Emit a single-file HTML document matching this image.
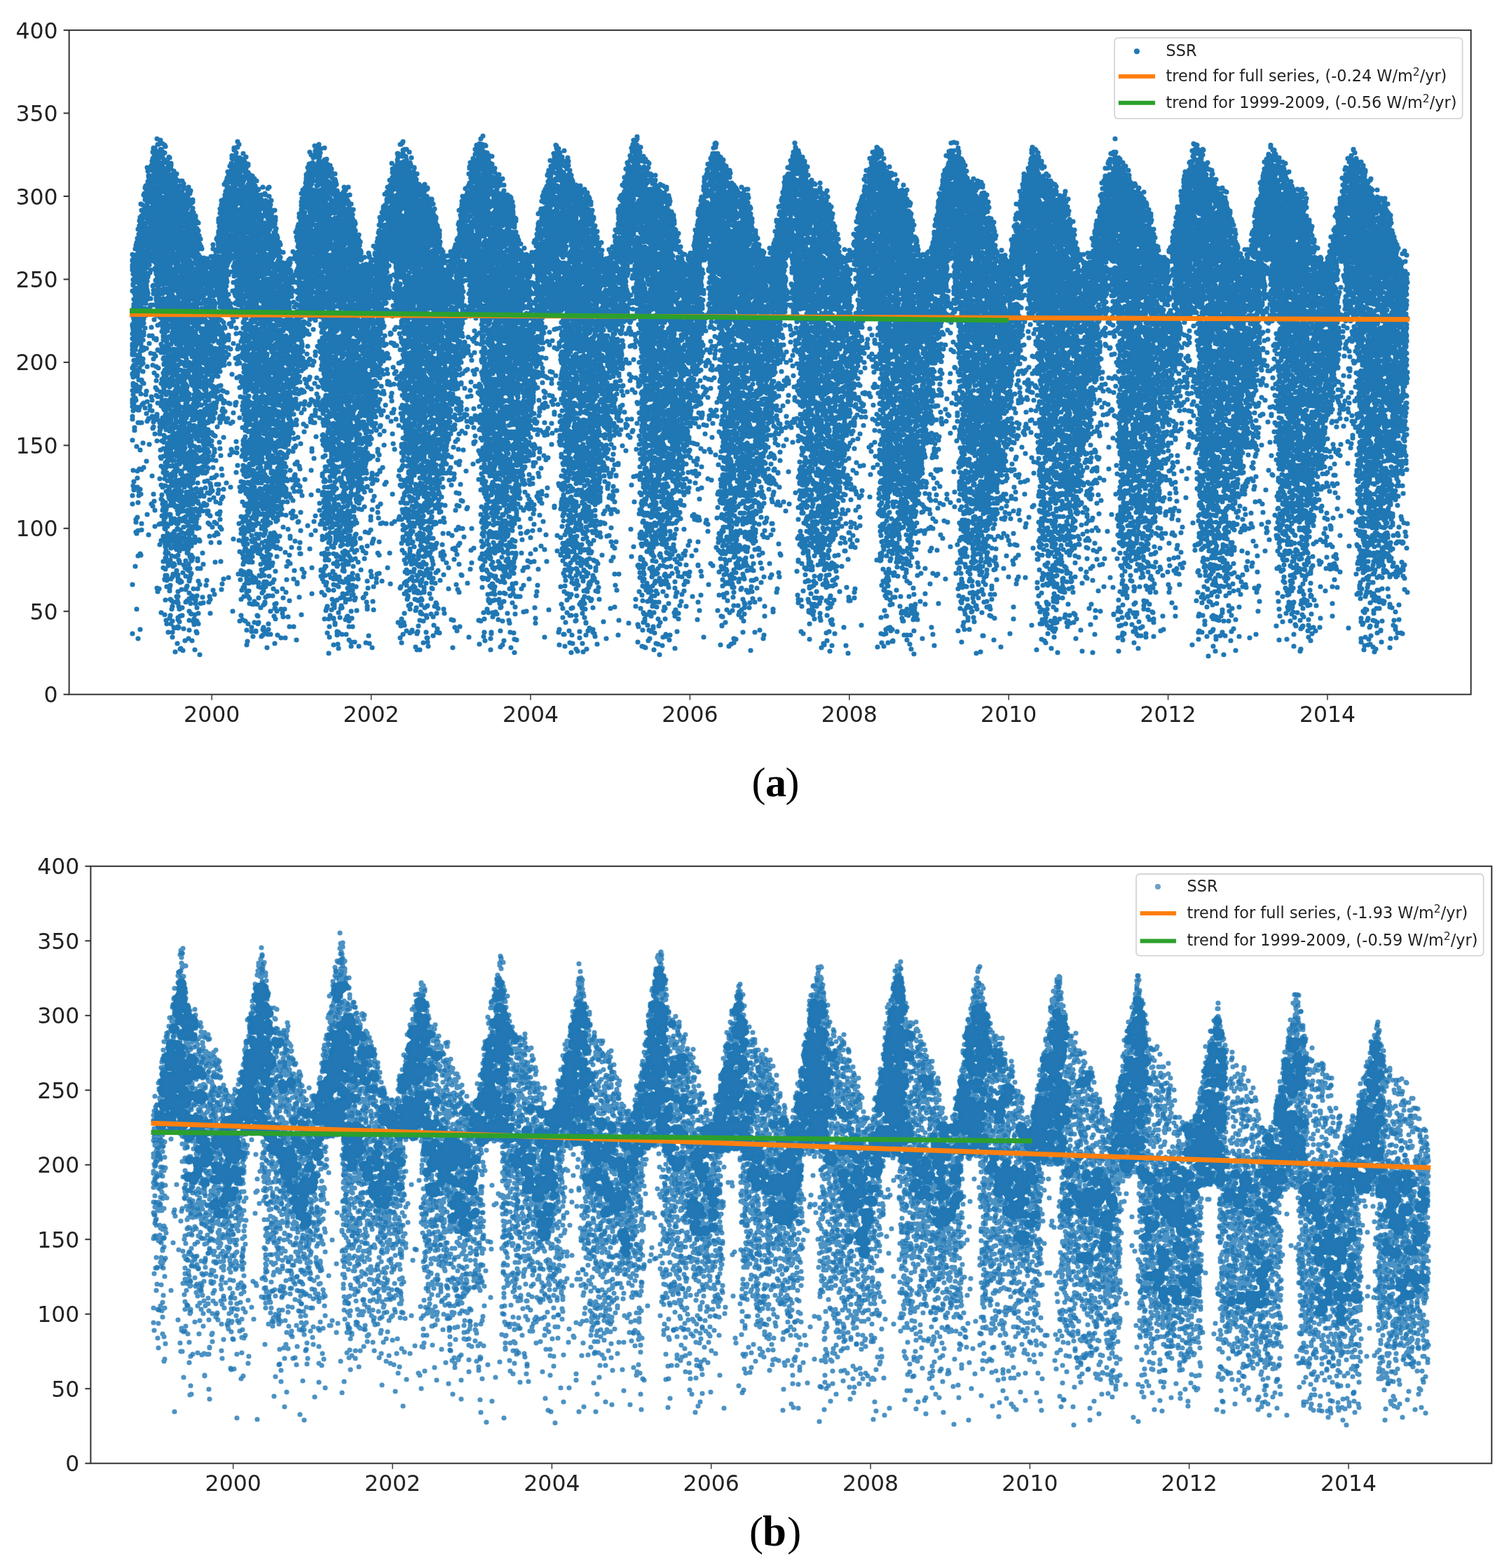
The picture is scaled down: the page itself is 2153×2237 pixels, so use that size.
<!DOCTYPE html><html><head><meta charset="utf-8"><title>SSR</title><style>html,body{margin:0;padding:0;background:#fff;width:2153px;height:2237px;overflow:hidden}svg{display:block}</style></head><body><svg width="2153" height="2237" viewBox="0 0 2153 2237">
<style>.tk{font-family:"DejaVu Sans",sans-serif;font-size:31.5px;fill:#222}.lg{font-family:"DejaVu Sans",sans-serif;font-size:22.4px;fill:#222}.sp{font-size:15.5px}.cap{font-family:"Liberation Serif",serif;font-size:60px;fill:#000}</style>
<rect width="2153" height="2237" fill="#fff"/>
<path transform="scale(0.5)" d="M3899 1566l-16 2-9 20 0 15 5 7 7 2-4 6 0 6 5 7 7 2 7-2 5-7-2-10-10-5 4-6 1-10 8-4 5-7-2-10zm-1518-38l-10-5-7 2-5 7-12-5-8 2-11 20 0 5-7 9 3 12 10 5 12-2 7-11-1-7 5-4 5-12 9 4 10-5 2-4zm-1897-8l-6 8 0 7 3 8 11 6-2 4 2 12 8 8 7 2 18-4 5-7 0-6-5-7-6-2 3-8-2-11-5-5-11-1-6-5zm3494-57l-17-11-20-4-31 7-5 7 1 20-4 6 2 15 11 8 15-1 7-11-3-12 1-15 4 1 2 7 5 4 10 0 5-4 12 1 7-8zm-1366-15l-11-6-6 1-8-3-7 2-5 10-9 2-6 8 4 19 14 6 7-2 5-7 2-12 8 9 12-1 6-9 0-6zm1062-9l-2 10 7 8 12-1 6-10 7 5 8 0-4 8 2 16 5 7 10 1 6 13 9 2 10-5 4-7-2-17-10-8-9-2-6-7-11-2 5-7 0-7-6-8-7-2-7 2-7 11-10-5zm-1770-18l-12 18 2 10 17 10 8 11 7 2 7-2 5-7 0-6-6-13-1-11-15-13zm1323-7l-3 9 1 11 12 11 9 20 12 1 12-12 3 8 7 5 10 1 10-5 2-11-9-11-7-2-13 6-4-14 2-10-5-7-20-9-10 2zm-432-11l-10 5-2 10 3 5-9 5-2 10 11 12 17 8 7-2 5-7-1-7 11-6 3-17-5-9-7-5zm-1587-22l-10 5-3 16 18 24-9 14 0 9 5 7 7 2 7-2 10-9 4-7 0-10-5-7-5-2 3-11-5-7-6-3-1-14zm1135-6l-12 2-5 4-4 18 13 15 12 2-5 7 2 15-10 2-5 7 3 17 7 5 8 1 10-5 2-14 9 4 17-3 5-4 2-10-6-8-2-12-5-7-8-2-10 2-5 4-7-1 7-9-2-9 3-11-6-8zm-898 1l-13 1-5 6-6 1-6 8-3 9 1 26 7 8 15 0 7-8-1-9 8-9 4-23zm426-13l-8 1-5 4-2 10 3 10-6 5-6 14 2 10 10 10 7 2 7-2 5-7-4-25 11-11-4-16zm-171 0l-10 5-2 4 2 11-7 2-15 14-10 1-6 8 0 6 16 16 14 0 6-5 3 11 12 5 9-3 6-8-3-18-9-5 10-6 2-10-4-7 2-6-2-10-5-4zm1353-17l-7 2-4 5-8-2-7 2-7 10 2 23 5 4 13 0 1 16 10 5 10-5 2-13 8-4 11 1 9-9-2-10-11-12-10-1-8-10zm-762-11l-10 5-7 24 4 6 1 13 10 7 7 1 7-2 10-10 2-10-5-7-6-2 4-8-2-11-5-4zm1664-3l-12 1-7 8-2 9-9 9 2 12 6 5 12 0 4 9-15 2-7 8 2 10 8 9-6 2-7 11-14 1 5-13 0-7-5-7-13-1-8 9 0 8 6 10 15 1-5 7 0 6 7 8 11 0 6-6 9 3 7-2 7-9-4-18 4-1 3 11 10 5 9-4 8 0 7-8-2-10-7-6-6-1-16 5 1-9-6-8 16-1 5-7-4-19-10-6 5-7 0-7zm-500-24l-8 11 0 7 6 8 5 2-11 6-6 12 2 10 5 4 6 0 6 9 7 2 7-2 12-15 3 5-6 8 0 6 8 16 10 5 8-2 5-7 0-6-7-8-2-7 6-9-2-10-10-5-9 4-5-13-10-5 7-8 0-7-6-9-14-4zm-1515 10l-5-7-6-1-7-7-15 0-7 8-9 3-6 11-8-2-15 4-8 11-13 1-5 7 0 6 7 9 7 2 10-5 3-9 11-1 9 4 7-2 6-10 10 4 11-6 15 0 7-8zm137-17l-11 5-2 10 7 8-1 14 8 9-15 4-9 15 3 17 10 5 17-6 5-10 6-2 5-7 0-11-5-7 4-7 0-8-11-11-1-13zm-1276 1l-10 0-7 8 0 8 7 8 0 6-5 8-8 5-2 13-8 4-9-9-9 0-7-7-14-2-9 2-5 7 3 14 7 8 10 0 6-5 7 7 8 1 9-4 6 7-13 3-5 7 3 13-15 0-8 10-1-17-6-8-7-2-17 4-7 8 3 13 12 15 12 1 11-10 7 12-4 6 0 7 10 10 10 0 7-8 7 8 13-1 5-7-1-8 11-6 4-13 7-2 5-7-2-10-14-13-15-3 10-6 3-11 11 1 9-11 0-9-6-9 6-5 2-10zm-23 108l-5 4-3-1zm1365-103l-9-1-6-8-7-2-16 8-6 14 0 8 7 14 5 4-6 8 2 10-6 8 5 16-23 3-6 6-8-1-13 5-5 7 0 6 7 10 13 1 10-10 9 0 10 5 22-1 5-7 0-6-5-7-9-3 9-1 5-4 1-16 8-7 2-11 4-1 7 7 7 2 8-2 7-9-2-10-10-5-6-8-9-3 4-6 0-6zm-20 36l3-3 3 2-1 2zm182-106l-8 10-2 10 6 8 13 2-7 10 0 6 7 15 10 5 10-4-4 10 2 10 9 8 15-1 3 8-10 6-11-2-7 2-6 8 2 10 5 4 11-1 8 3 18-6 2 2-2 11 8 10 9 3 9-3 6-8 0-6 9-6 2-10-7-8-27-5 3-13-8-11 14 4 18-8 9-12-2-12 7-8-2-10-12-9-10-2-6 2-5-7-15-3-14 5-6 11-6-7-7-2-8 2-5 7-6 0 7-13 0-8-7-8zm61 62l1 6-3-2zm-30-2l2-4-2-11 9-2 6-11 12 11 18 4-9 4-5 7-6-10-12-1-5 4-2 7zm-1056-65l-7-5-12 0-7 8 3 12-11 2-8-3-8 3-5-7-7-2-8 2-4 5-6-8-9-1-5-7-7-2-17 1-5 4-6 11 0 6 5 7 7 3 2 8-15 3-5 7 0 10 7 8 19-1 3 2-3 20 9 9-6 8 1 9 5 7 7 2 12-2 10 4 9-4 19 0 5-4 5-8 0-13-8-11 15-3 6-8-2-20-9-9 12-6 5-6 12 0 5-4 3-19zm-56 65l0 5 7 12-11 2-8 12-9-4-8 3-5-2 9-10 9 0 5-4 5-15zm-21-30l-7 6-4 0 3-5zm1997-53l-6 5-8 17 2 13-3 5 5 25 12 6-9 9 4 19 7 8 10 0 9-6 8 11 21 0 8-9-1-9 7-8 0-8-7-8-11 0-5 4-5 13-3-9-11-6 2-5 22-1 5-7 0-6-10-12-7-2-10 5-14 2 12-19 0-6-10-20zm-680-21l-6 5-3 12 6 8 10 2-1 13 5 7-14 3-5 7 0 6 5 7 12 3-9 5-2 10-12 7-4 10 3 15 5 4 9 1 1 11-8 6-3 14 14 13-7 2-5 7 0 6 5 7-4 6 0 6 8 15 5 4 12-1 9-10 9 11 10 0 5-4 2-13-6-8-7-2-10 5-5-7-13-3 4-6 0-6-5-7 3-2 9 12 15 0 8 10 19 1 1 3-7 6-3 9 0 7 4 8 6 5 21 2 5-4 2-7 9-5 3-18-6-8-6-3-15 0 6-8 18-1 14-19-1-13-7-8 6-5 2-13 8-9-3-22-8-9-14 0 4-6 0-6-6-8 2-10-5-7-10-2-20 10-8 13 0 13-10-5-8 2-11 11-3 12-3-5 2-10-5-7 9-7 8 2 12-2 7-8 0-7-8-10-13-3 12-5 2-11 3-2 1 8 5 7 10 3 10-2 5-7-1-10 3-11-8-11-20-4-15 2-9 10-8 0-4 3-7-9zm44 149l3-5 3 0 10 10 15 2-5 7-11-5-6 2zm-16-27l14-2 10-14 8 9 6 1 16-4 4 10-2 2-4-5-7-2-12 7-9-4-7 2-6 9zm69-40l-4 8-3-6zm627-101l-5 7 0 7 5 7 7 2 2 9-16-1-8 6-2 12 3 16 10 5 10-2 24-15 7 11 7 2 7-2 7-10 0-7-9-10 14-16-2-10-12-7-16 8-11-2-3-6-7-5zm-959 9l0 9 5 7 9 3-1 7 6 9 8 2 10-5 5 7 2 10 8 7 12-1 10 3 11-6 2-4-2-10-7-9-14-2 0-12-5-7-12-5-7 2-4 5-10 1 5-10-2-10-10-5-8 1zm124-36l-8 1-5 4-2 12-6 10 3 18 12 6 19-5 8-13 0-9-9-9-2-10zm-776-3l-10 5-2 10-9 10 1 10-5 4-2 8-8 7-2 10 3 5-2 12 7 8-2 10 10 17-5 7 0 6 11 19 7 2 15-2-1 20-3 0-9-11-13 0-7 8-2 13 21 21 12 0 6-4 5 3-14 8-3 16 12 15 9 2 14-8 2-13 23 0 7-8 0-6-6-8-13-2 1-8 11 4 11-6 6-10 0-6-5-7-6-3 11-1 7-8 0-8-5-7 6-8 0-6-8-11 7-11 0-6-6-8-11-1-1-5 12-2 7-5 8 11 12 1 12-17 0-8-13-20-7-2-12 5-12-5-2-3 7-5 2-11-7-8-12 0-8 9 0 6 5 7-10 5-2 14-21 0-9 11-9 1-6 9 1 9-3 3-8-5 12-23 0-6-5-7 10-5 1-15 5-7-2-10zm40 169l2 1-1 8-3-6zm9-33l4 1 2 13-3 2zm-6-7l-4 1-11-6-7 2-7-5 25-13 0 14zm-2-51l6 6 8 3-2 11-10 5 1-14-5-7zm2039-117l-7 2-5 7 0 7 6 9-15 0-12 10-6-13-12-1-7 8-8 2-6 8 2 10-3 12 3 6 8 6 13 0 15 27-12 2-6 10-8 0-6 5-2 11 7 8-12 6-2 12 5 7 8 4-3 13 4 6-6 8-1 11 2 9-2 11 3 6 5 4 10 0 5-4 4-10 0 12 11 17 11 6 1 12 5 4 18 1 13 10-6 5-10-5-7 2-6 8 0 6 11 14 9 1 5 6 7 2 7-2 5-7-1-10 4-6 0-6-7-8 10-10-3-11 4-6 0-6-8-14-9-6 9-3 9 3 7 8 12-1 5-7 3-29-6-8-14-4-10 2-7 10-8-11-7-2-6 2-8-4 15-1 23-18 1 10 5 7 7 2 7-2 9-19 1-13-3-9 5-9 0-6-5-7-15-3 0-9-5-7-7-2-8 2-7 14-11 6-1 16-5 7 0 5-16-1-8 10 1 19 6 8-6 5-3 12 5 7 13 5-4 4-13 1-6-6-13 0 0-8 9-11-3-12 6-2 6-10-3-13 15-17-2-10-7-6-8-1 1-7-10-13 12-2 9-13 2-8 10-5 2-11-3-5 5-7 4 3 12-1 5 4 17 2 7-2 9-13 0-6-8-9-5-11-9-2-9 4-5-6-9-1-7-11zm-42 132l-6 8-6-3zm3-81l2 3-7 3-1-2zm33-26l6 0-2 3zm-1059-29l-15 7-20 2-6 11-10 0-5 4-3 12-8-6-7-1-7 2-5 7 0 6 5 7-3 11 6 8 2 10 10 5 15-1 9 9 13 0 7 20 10 5 7-2 5-7 6 2 9-2 6-9 0-7-6-12-8-8-16 0-9 12-4-1 6-17 13 2 8-9-2-10-11-6 8-6 4-7 12-2 5-7-2-10-12-10zm-38 50l9-3 4-5 12 3-5 4-3 11-5-4-10 0zm-408-52l-7-2-9 3-9 17-5-7-7-2-7 2-6 8 0 6 7 8 12-1 7-13 7 9 7 2 4 10-10 2-6 9 0 8 7 8-12 8-3-6-7-5 2-4-2-11-9-8-9-2-7 2-4 5-8-3-6 2-6-7 5-7 0-6-7-8-12 1-5 7 1 8-11 2-5 4-7 14 0 6 5 7 7 2 8-2 2 4-13 2-13 24-9 2-5 7 2 11 13 8-10 5-2 4 2 11 10 5 10-5 2-11-5-7-7-2 23-4 5-7-2-9 2-3 8 1 7 9-7 11 0 7 5 7-1 8 7 8 10 0 12-6 1-16 5-7 0-7-5-10 2-3 15 3-3 17 7 8-11 1-7 8 0 6 6 8-3 15-18-7-18 2-8 10-10-7-10 0-12 16 0 7 5 7 23 3 12-2 11-11 6 6 7 2 7-2 10-15 15 5 10-2 7-8-2-12 7-8 0-6-6-8 9-7 2-10-5-7-6-2 1-8-4-6 13 1 10-5 2-16-5-7-8-4 6-2 6-8 0-9-3-5 11-2 5-7-3-12-8-6 0-10zm-28 87l5 10-6-2zm-36-16l11 3 1 5-7-2zm-408-73l-5 4-2 10 9 9-10 5-3 15 7 8 28 3 5-4 2-10-4-8-12-8 6-6 2-10-7-8zm793-31l-7 2-6 9 5 20 5 7-8 5-2 11 5 7 6 1 10 10-1 7-10 2-5 7 2 10 10 5 10-5 3-9 10 0 5-4 2-10-11-11 3-5 10-5 2-10-8-9-17 1 5-7-1-10-6-14zm11 38l-2 4-2-2zm-87-137l-10 0-7 6-9 1-12 17 2 11 13 7-6 9-10 1-5 7 0 6 7 14 6 5 8 2 9-3 7-12 11-1 9-10-4-13-12-7 1-2 12 1 7-8-2-10-8-7 0-6zm-1988-544l-9 4-9 0-5 4-1 11-7 15 1 9-7 11 2 10 9 7-11 6-6 22-8 9 0 7 4 7-6 8 0 6 5 14 7 7 12 4-2 3-10-4-7 2-10 14 2 10-2 9 6 8 6 1 1 3-15 1-8 11 1 15 12 6-7 2-9 14 0 6-6 12 1 14 5 8-10 7-5 14 2 10-3 5 0 16 7 19-3 12 5 7 8 2 7 9-13 0-7 8 0 7 5 11-3 6 2 10-4 6 0 14 8 11-9 9 0 7 4 6-6 9 0 15 3 8 5 4-7 10 0 6 5 17 10 5 13-4 8-13-3-17-11-6 18-24 0-22-9-11 5-7-2-13 7-3 13-17-5-42 3-5-1-9 3-12-5-7-7-2 11-15 2-10 7 1 5 7-5 7 0 7 7 16-4 10 3 13 10 5 6-2 12 2 10-3 2 2-9 5-5 7 2 10 6 5-4 5-12 1-2-2 3-12-10-11-10 0-7 8 2 11 8 7-4 24 5 7-4 19 5 7 11 7-1 15 3 15 5 7 12 1 9-12 3 3-6 17 0 8 7 10 5 1 12 12-13 1-4 3-3-9-10-5-13 4-7 11 0 7 5 7 15 2-12 14 0 15 6 8-5 8 0 7 4 6-5 2-6 9-1 18 8 9 26-1 6-8 1-14-5-7 13-2 9-17-4-18-9-5 10-5 3-9 17 1 8-7 10 12-2 9-7 0-5 4-1 15-13 2-6 9 0 6 6 8 7 2 10-3 2 20 15 15-6 9 0 7-5 5-1-13-11-21-7-2-10 5-9-3-7 2-5 10-10 6-4 15-23 24 0 6 7 11 7 2 13-4 1 7-16 1-20 21 3 13 7 5 8 1 20-9 5-5 3-15 13-2 2 2-3 7 3 12-7 8 2 9-5 7-11 0-7 6-4 7 1 9-13 22 2 21 6 8 11 4 5-1 7-8 7 6 1 12 5 4 11 0 4 13 15 11-18 4-7 5-3 6-24 7-5 7 2 10 5 4 10 2-10 5-10 0-7 8 2 14 5 7 14 5 9-1 12 9-11 2-5 7 2 12 11 5 12-6 2-4-2-10 12-2 15-19 0-7-6-8-8-2-10 5-6-3-1-9-7-8 5-4 7 2 16-2 9-6 5-7 0-13-4-7 13 0 9-11-2-10-13-7 2-4 6-1 7-9-2-10-10-5-8 3-3-11-5-4-15 2 1-18 3-3 12-1 5-7-2-15-6-11 10-2 9 13 12 1 6 5 10 0 5-4 6-11 0-8-13-13 3-12-6-10 3-5 13 4 11-6 5-9-1-7 4-6 0-10-7-8-10 0-15 7-12 17-12-1-7-8-12-5-13-1-10 5-3 9-14-6 7-8 0-10-7-8 5-14 1 13 9 9 17 1 7-8 7 12 7 2 7-2 17-17-2-11-15-11 3-3 16 5 5-1 8-10 0-6-7-11-16-1-1-4 8-14 11 6 11-6 8 3 6-1 12-10 2-8 6-3 5-7 3-24-3-5 1-8-6-11-5-4-10 0-8 9-16-19 15-3 5-7 1-10 12 0 7-8 0-13-12-17 4-6 0-8-5-7-7-2 2-5-3-11 1-20-7-9-7-2 9-4 5 1 5 27 13 18 12 1 13-8 1-20-11-16 2-10-5-7 0-21 4-6 0-11-3-5 7-8 0-7-6-10 10-20 7-7 4 3-6 5-4 10 2 11-2 10 7 14 10 2-6 3-5 7 4 19-6 5-2 10 3 9 8 7-4 6 2 10 5 4 18 0 2 3-7 3-5 7 4 16 11 6 10-4 10 4 10-5 6 12 12 1 4 11 11 6-9 3-6 8-5-7-6-1-5-6-11-2-6-8-15-1-9 12 0 7 5 7 14 4-18 1-8 14 0 6 5 7 18 1-3 5-13 1-5 7 2 10 12 6-8 6-2 10 7 9 9 3-2 6-7 2-6 8 0 11 4 6-11 11 1 21 13 17 7 2 9-3 5 6 7 2 10-5 3-14 3 9 5 4 9 0 5 9-16 0-14 9-2 12 7 8-7 8-8 4-3 8-7-8 9-13 0-6-11-13-7-2-7 2-7 11-1 16 3 7 7 5-5 7 0 17 6 8 7 2 7-2 9-9 3-11 18 6-6 9-9 0-7 6-3 14-5 7-1 19-6 7-11 1-6 8 2 12-3 11 4 10 10 5 10-3 0 10 9 17 20 1 10-5 1-19 7-6 3-12 21 1 17-9 10 3 8-1 7-6 6-15 0-13 5-8-2-10 2-15-7-8-10 0-12 5-11 13 1 8-3 8-3-13-10-5-7 2-6 8-6 0-5 4-1 15-5 1-6-5 0-8 8-6 3-12 9 3 12-6 11 3 7-2 5-7 0-6-6-9 11 1 10-5 7 2 8-2 5-7-1-8 6-9 6-2 5-7-4-17-13-8-2-11-5-7-16-1-9 11-9-3 11-11 0-6-4-6 5-4 3-10 7 1-3 8 2 10 10 5 15-3 18-17 1-15-9-13-7-2-10 5-6-12-12-1-4-7 6-2 16 9 11-5 5 4 10 0 9 4 10-5 5-8 0-6-5-7-7-3-2-8-7-5 6-9-2-10-15-8-13 1-2-2 6-2 7-8 9 0 6-5 6-10-1-9 4-6 0-6-4-6-1-13-7-4-6-8-8-2-9 3-9-6 4-6-3-20 1-15-3-6 8-8 5-13 0-7-9-14 9-5 2-11-6-9-7-2-6 2-1-2 10-5 2-10-8-9 1-8-7-8-8 0-13-6-8 2-5 7-5-3 7-11 7 0 5-4 4-9-3-17 4-6 0-6-7-10-4-16-10-5-10 5-2-2 3-11 9-3 6-9 1-17-3-6-8-5 2-14-7-12-5-4-11-1-1-12-7-5-4-11-9-5 2-10-10-16 4-6-2-11-12-12-10 0-8 9-4-5-7-2 2-4 6 0 6-5 6-12 0-6-10-17-17-9-11 0-7 8 2 11-10 2-5 7 3 14-5 2-5 7-4 21 5 7 9 1 3 5-11 1-5 4-6 26-9 12 0 17-4 6 1 13 3 5-10 11 4 28-5 11 1 8-5 7 5 34 14 13-24 2-7 14-8-7-7-2-12 4 0-8-6-10 6-3 5-7 0-7-6-12 3-11-6-13-12-7 4-6 0-6-4-6 6-8 0-14-10-14-19-1 17-20 2-10-5-7-6-2-6-13-13-1-4-5-8-3 2-10-7-8 3-13-7-15-10-5-14 3 0-9-9-13-2-9-10-6 9-5 5-12-2-11zm38 857l1 7-3 3-2-6zm295-41l4 12-14 8-5-9 10-4zm-9-47l4-2 6 5-6 1zm-243-3l4 1 5 9 15 2 2 8-4 10-8-9-7-2-8 2-5 6-3-3 1-13zm-50-23l2-3 6 2zm258-10l3-2 15 2 10-10 12 4 18-3 3 3-7 8-1 12-10-2-6-7-7-2-16 3-7 8zm20-24l5 1-2 2zm-46-46l4 3-4 5zm27-8l3 2-2 3zm79-8l1 6-8 4 1-5zm-55 2l1-2 6 1-4 5zm-294 0l6-3 6 6-9 1zm61-10l6 0 3 5-7 5zm35-22l6 2 3 5-2 2-6-4zm169 1l2-4 4 1-1 3zm-152-21l1-4 6 0-2 4zm237-17l4 6-4 4-5-6zm-344-2l1 4-4 2zm249-2l-2 5-7-3zm-9 2l-11 6-4-2 6-8zm36 1l6-7 6 8 7 2 12-6 10 13-9 2-6 10-11-6-9 3 0-11zm-242-14l4-3 4 6zm32-14l7 21-10-10zm236-3l-7 9-6 0 8-8zm-75 3l5-6 8 6-2 2zm-189-22l2-3 2 3zm19-26l11 3 7-2 4-5 8 3 12-2 1 10-9 1-5 4-2 10 4 6-4 3-10-11-6-2-2-10-8-4zm234-8l3-2 8 2 7 12 8 1 6 8 14 5 5 9-11 13-3-9-5-4-1-12-5-4-7 0-11-14-8-2zm-293-4l4 6-3 3-4-2zm118-9l-3 7-6 3-1-8zm8-3l-2 3-4-1 3-3zm192-2l6 0 10 6-7 3-6-1zm-7-7l3 2-2 1zm-300-10l3 4-12 8-4 10-8-9-1-5 15-2zm244-22l10 7-3 5-7-1-2-4zm-194-1l7 0-4 3zm-33-7l6 1 1 5-2 1zm82-16l3 8 10 5-11 6-1 12-11 6-3 14-6-5-7 0 1-15-3-5 10-10 8-1zm-99 0l7-3 4 9-7 0zm215-7l1 2-8 9 0 6 4 6-3 6-5-7-10-3 5-4 3-12zm-116-2l4 2-3 5zm193-3l1 4-3-1zm-72 1l2-4 5 3zm-105-6l4 4-2 3-5-1zm-26-3l0 4-2-2zm224-12l2 2-3 3-3-2zm-66-7l1-5 9 1-7 5zm29-8l-20 3 6-6 11-3zm-286-10l3 3-1 3-3-3zm29 1l-2 3-5-2 5-3zm277-4l7 2-4 2zm-18-8l9-1 3 4-10 2zm-176-3l3 4-2 4-4-3zm120-7l4 1-2 6-4-5zm-11 0l1-3 2 2zm-152-3l7 5-5 1zm-59-1l3 2-2 6-4-3zm21-10l6 2-4 6-4-2zm31-9l7 7-2 3-9-5zm183-16l8 6-5 0zm-68 0l3-1 3 4zm99-6l7 2-2 6-8-4zm-261 0l5 3-3 1zm-68-8l1 10-8-6zm-18 0l2 2-3 2zm312-1l0 7-3-2zm-277-11l-14 6 0-3 8-6zm300-15l2 2-5 6-4-5zm-333-9l7 1-5 2zm295-8l3 2 0 6-5 5-7-5zm-41-6l1 6-5 4-12-3zm-145-7l4 2-2 5-5-1zm174-8l3 2-2 5-4-2zm-278 0l6 3-2 2zm120-4l4 1-2 2zm191-11l4 3-2 2-4-3zm21-8l6 5 2 7-7 0-6-4zm-5-18l4 1-2 9-4-4zm-66-16l4 6-3 3-6-1zm-230-21l1-3 4 1-3 4zm9-5l4-5 6 3-3 3zm215-23l1-3 7 2-2 3zm-226-13l2 9-4-4zm255-11l1 9-5 8-2-2zm1786-80l-1 11-9 12 2 20-9 10 0 7 5 10-2 10 3 5-3 13-10 2-5 7 2 12 5 4 9 1-5 14-5-3-10 0-10 14-2 11 2 17-5 8 0 16 9 11-9 9 1 8-6 8 3 12-9 13 0 6 7 11-4 5-11 1-6 9 0 6 5 7 11 1 3 3-2 3 2 11 13 8-5 7 2 12-7 9 0 6 5 7-3 15 7 9 1 13 7 9-10 10 1 14 5 7 12 2-3 11 5 7 21 9 7-2 6-6 11 9-8 21 3 14-2 10 7 15 11 8-14 14 2 10-7 8 0 7 8 14 18 5-10 5-2 4 2 10 10 5 9-2 4 20 8 10 12-1 5-11 4 0 1 3-5 7-1 7 2 11 12 10 17-1 5-7 0-13-5-7-5-2 8-5 2-4-2-14 2-6 9-9 10 11 12-1 0 10 5 7 9 3 12-3 6-5 2-11-5-7-13-3 3-8 11-2 8-12 8 3 6-1 7-8 0-7-10-15-10-5 4-6 0-7-4-6 0-7-7-10 10-1 5-4 2-16 7-8 0-9-6-11 17-18 0-7-5-7-6-2 1-4 14 0 7-8-4-20-11-7 9-9 0-18 6-14 0-8-7-8 4-15-4-14 13-13 2 1 3 12-4 6 0 7 7 13-5 7 0 6 7 8 10 0 2 5-12 1-5 4-5 9 0 17 7 8 13-2 3 10 10 5 0 6 6 8-2 10 3 5-9 9 2 10 6 5-5 7 2 9-2 4-9 0-5 4-2 11 7 8 11-1 8 3-5 2-7 9-7 0-5 4-2 8-7 8 1 11 8 10 12-1 7-9 9-4 1-15 6 2 8 17 11 2-3 10-9 1-5 4-1 15-5 4-3-12-10-5-14 5-5 7-1 13 3 7 10 5 6-2 3 11 8 5-3 12 5 8-15 1-5 7 0 9 7 8 10 0 8-10-1-11 12 1 9-6 9 10 10 0 4-3 9 9 10 0-2 12 7 12-8 9 4 13-9-3-4-7 7-11 0-16-7-8-12 0-6 6-6 1-5 7 0 7 4 8-16 2-5 7-1 7-1-7-5-7-13-1-5 4-7 17 2 22 5 4 11 2-4 14-14-1-8 10 3 12 5 4 10 0 0 5-9-2-7 2-5 7 0 6 5 7 7 2 7-2 5-7 5 4-13 14 0 7 8 10-14 1-5 7 0 7 5 7 7 2 10-5 9 4 8-1 5-4 4-12 8-6 2 5-8 8-2 11 5 7 10 4-8 5-1 13-5 2-5 7 1 7-4 6 0 6 5 7 7 2 11-1 7-4-1 12-11 4-7 11 0 6 6 8 11 4 19-2 4-5 8 3 7-2 6-8 4-17-5-14-5-4-6 0-3-7 4-2 10 5 10 1 7-2 5-7-2-14 3-8-1-21-6-12-12-7 2-3-2-12-6-5-13-2 5-11 15 7 14-2 17-22-2-10-12-10-7-2-9 4-1-9-7-8 7-2 7-10-1-11-4-6 12-2 5-7 1-8-2-10-10-6-7 0-5-8 7-6 8-2 10-10 9-1 5-7 2-44-7-8 10-5 5-20-7-8-11 0-1-5 6-2 4-5 13 1 10-5 2-10-8-15-11-6 4-9 6 2 7-2 5-7 0-6-5-7-7-2-14 7 0-10-4-6 3-3 6 6 12-1 9-13 0-7-12-15-7-2 10-5 3-6-2-10-7-6-8-1-13 3-6 9 0 6 7 8 16 2-17 3-5 7 0 7-4 3-3-14-13-6 7-2 5-7-2-15-5-7-10-4 7-5 5-9 10 5 15-3 7 9 11 4 11-5 2-10-5-7 2-9-10-14-7-2-1-13-10-5 7-3 12 2 7-2 5-7 0-6-7-15 7-7 8-1 2 1-4 6-2 21 6 8 7 2-3 7 2 10-4 6 0 27 3 9 13 10-12 9-3 12 10 13 10 0 6-4 3 8 10 6 2 9 5 4 10 0 7-8 3 0 0 12 7 8-3 4-7-10-7-2-7 2-4 5-13 1-5 7 0 8 5 7 23 5-7 8-1 10-17-6-7 2-5 7 2 11 7 5 4 9-9 9 2 10 10 5 11-5 5 10-2 4-13-1-9 6-6 8 0 7 5 7 7 2 13-1 14-10 7 3-10 10-9-2-10 5-3 17 7 8 17-1 5-7 0-6 14-2 9-13 2 12-11 3-12 9-4 21 1 16-7-3 3-12-6-8-12-1-7 5-2 11 3 6 7 5-2 9 3 6 14 6 11-5 1 2-3 9-10-4-8 2-13 13-2 11 5 7 8 2 10-3 5-9 5-3 7 14 12 1 7-8-2-9 3-6 6-3 3 9 5 4 10 0 6-6 10 15-8 9-8-8-10 0-16 15 5 16 8 5 2 8 6 5 13 1 1 12-6-6-16-1-3-12-8-6-10 0-11 9-3-1 2-10 9-3 5-7 0-7-6-9-17-1-10 9-6-7-7-2-10 5-2 13 9 25 8 5 1 13-11 6-1 12-7 6-2 10 6 8 16 3 6 8 14 6 7-2 6-9 0-7-6-8-18-8 3-9-1-11 18 2 5-4 3-8 9 1 1 7 6 8 17 6 8-3 5 7 9 1 6 7 7 2 10-5 1-17 9-3 7-10 0-6-6-10-9-4-9-11 4-6 0-6-5-7 21-1 12-13-2-12-5-4-11 0-7-11 7-5 4-15 4 3 10 0 7-8 0-7-6-8-7-2-6 2-7-8 2-10-2-11 10-5 3-10 4 5 7 2 7-2 8-11-2-10-7-4-9-11 12-2 5-7 0-6-5-7-13-9-12 1-6 12-7-12-19-1 1-12-5-7-5-2 7-2 7-12 0-8-4-8-11-6-10 4-10-10-8-3 1-7 12-12-2-9 2-9 3-1 11 6 8-3 6 8 8 2 3 5-20 4-6 10 2 10 5 4 11 1 14-6 3 7-8 5-4 14 5 7 12 2-6 8 0 6 5 7 7 2 12-5 2-11-7-8 10-13 0-7-4-6 10-5 4-11 0-10-16-15 10 2 8-2 5-7 4-19-7-8-15 0-5-8 9-8 3-7 18-1 11-13-2-13 7-8 0-7-8-10 3-15-5-8 4-2 4 5 7 2-5 8 2 17 6 8-5 8 3 14 10 5 12-5 1 15 10 5 8-2-2 12 8 9-11 8-3-14-12-13-7-2-10 5-7 13 0 9 8 9 7 0 11 6 12-6 4 7-17 8-5 8 0 9 5 7 10 2-6 10 2 12 10 5 11-6 3 10-12 2-11 12-7 0-5 4-2 10 7 8 10 0 8-9 14 6-10 5-2 4 2 10-3 3-25 3-5 7 0 7 20 21 12 1 7-2 5-6 10 1 0 8 5 8-5 2-4-5-7-2-15 5-11 0-10 11 0 11 4 8 12 7 11-4-1 11 7 8-6 7-8-3-7 2-4 5-6 1-5 7 3 18 14 10-10 6-2 4 2 10 10 5 7-2 4-5 14-1 8-10 1-13 5-2 5-7-1-11 10 5 16-2-8 8-2 10 5 7 7 2 20-2 5-7 1-14 5 10 8 7 10 0 15-9 2-10-5-7-11-1-4-5-7-2-7 2-5 6-6-8-8-3 7-2 4-5 5 4 11 0 8-9 0-7-7-10-7-2-10 5-6-5 16-5 5-7 0-7-8-11-11 0-6 5-4-2 4-13 9-5 3-8 0-7-8-9 1-10-5-9 16 2 0 8 6 8-2 9 7 8 14 0 9-5 5-7 1-7 8 8 12-1 5-7 0-13-6-8-5-2 1-17-8-9 11-6 10-20 0-16-6-22 4-7-3-12 12 5 16-1 16-8 1-15 13 2 2 15 5 4 13 2-8 6-3 10-11 0-5 4-1 11-5 12 0 8 7 8-7 11 2 11 5 4 16 1-13 7-5 7-1 19 18 20-12 1-7 8 2 13-4 6 0 7 7 8 12-1 6-8-3-11 5-10 8 0 3 12 8 7-7 9 0 6 9 13-13 5-5 5 2-14-5-7-12-1-7 8 2 11 10 5-4 6 2 10-9 9 0 11 7 8-7 2-6 8 0 17 6 9-5 4-2 10 7 8-2 10 6 9 6 5 9 0 9 4-7 5-11-6-11 6-1 15 5 7 5 2-8 16 0 11 7 15 12 1 8-9 7 0 5-4 5-13 12 0 9-10 9-1-2 5-6 2-5 7 2 11-3 11 2 4 10 5 7-2 5-7-1-11 8-1 2 29 10 8 14-1 5-7-1-17-4-11 8-9-2-12 3-13 8-5 4-8-2-9 8-9-2-11-5-4-10 0-6 5-4 9-8-3-6-5 9-5 2-11-5-7-9-2-10 5-2 12-18 0-10 8-2 4 2 13-28-3 16-20 0-6-4-6 1-12 18-1 9-13 0-10 9 2 10-5 7 3-1 16 5 7 7 2 8-3 4 5 7 2 7-2 11-13 1-10-7-11-16-8-3-14 5-15-1-7 8-3 7-10 14 0 5-4 3-13-3-12 2-15-1-12-4-6 3-8 7 2 10-2 5-7 0-6-4-6-9-33-6-6-10-2 1-7-8-10 12-2 5-7 10-5 2-4-2-14-5-4-10 0-8 9-11 2-6 10-5-1-10 4-5-6 10-2 5-4 2-17 4-3 13 5 7-2 5-7 0-12-5-7-10-3-10 5-4-1 7-8 0-8 8 5 12-1 10 5 7-2 10-16 0-8-7-8 1-20-7-16 13 0 7-8-3-27-4-6 11-8 0 12 4 6 1 24 4 6-6 12 0 6 15 14 11 3-7 2-11 14-2 12 5 7 14 3-6 8 0 7 5 11 12 15 10 3-7 9-12 1-7 9 0 12 5 7 0 5 12 11-9 17 2 12 5 4 12 1 3 8 8 5 1 12 7 7 10 3 3 14-4 6 0 6 5 7 14 3 9 7 6 1 6 10 10 2 7-2 6-11 10-1 5-10 5-3-3 7 2 13 10 5 7-2 6-8-3-12-5-4-13 0 11-21 9 3 7-2 14-20-2-12 4-6-1-19-4-7 6-6 5-15 0-7-4-7 2-26-4-9-7-5 10-14-1-11-4-6 3-11-4-11-6-5 7-8 0-12-5-7-5-2 7-8 0-10-9-14 9-8 2-13-3-8-12-7 10-3 5-7-1-18-5-7 0-8 4 2 2 8 5 4 17 3 11-6 7 11 7 2-2 6-13-6-12 1-6 10 3 14-7 8 10 35 11 6 9-3 4 12 9 6-2 15 3 5-9 12 0 8 5 7 13 5-1 9-4 6 0 6 5 7-5 2-6 8-7 0-9 8-2 13 9 16 11 11 7 2 11-5 4-8-3-15 5-4 6-1 3 8 5 4-12 6-2 12-10 5-5 7 0 10 7 9-12 6-2 10 6 8 2 10 7 5-3 3-9 1-7 9 0 6 6 12 5 4-8 3-6 8 2 12 14 16 12-1 5-7 1-7 5 7 6 2-4 11-6-2-8 2-7 8-9 2-6 8 1 15 6 15 5 4 13 2-9 17 0 7 7 8-2 8-13 5-5 7 2 11 10 6-8 3-5 7-2 22 7 8 11 0 2 11 7 8 15 0 8-3 3 2-8 5-3 9-10-5-7 2-8 10 0 9 7 11 12 3 10-5 3-6-1-11 10 3 10-5 2-10-9-9 6-2 5-7 2-15-4-10 8 3-2 10 7 8 10 0 7-8 7 0 3 10 5 4 10 0 5-4 2-10-5-7-5-2 3-7-2-11-5-4-10-2 8-15-3-16 7 7 7 2 11-5 2-4-1-23-10-11-16-9 6-2 10 5 7-2 5-7 2-14-5-7-10-1-3-3 7-12 0-6-6-8-7-2 0-13-3-5 3-6 16 2 9-10 2-9-2-23-5-7-7-2 7-2 5-7 1-18-10-20-20-2-4-11 9-1 6-6 11 1 6-5 3-28-8-9-10 0-5 4-12-11 3-9 10 5 13-4 9-17-2-13-6-8 7-15-2-19-4-6 5-8 1-23-4-15-9-5 10-5 3-14-4-8-11-7-1-5 4-6-2-10-15-14 4-25-7-20-5-7-10-3 7-8-2-10-11-9 7-8-1-26-15-27-10-5-6 2-1-19-10-5-7 2-8-12-7-2 5-8 0-6-7-9-12-1-6 5-15-7-6-6-8-1 2-8 10 0 8-9 11 4 5-1 7-8 0-6-5-7-15-1 4-15-11-11-15-2-10 5-1 15-7 11 1 8-7 6-6 12 0 7 5 7 15 2-9 16 0 7 5 9-14-1-10 8-3 12 1 9-10 11 1 8-5 7 0 8 7 11 1 8-12 16 2 14-6 8 2 15-7 10 1 11-4 6 1 7-5 4-3 14-5 6-8-14-26-6 9-6 2-11-5-7-14-4 1-8-5-7 7-2 8-11-2-14 3-11-7-8-3-13-7-5 0-5-6-8 7-15-2-14-5-7-11-3 2-9-5-7-13-3 0-10-8-15-5-4-13 0 4-13-3-12-7-5 3-5-2-10-18-9-15-1 2-5 8-1 5-7 0-7-5-7-7-2-17 3-10 10-4 9 2 16-8 17-2 19-6 8 2 10-2 14 4 9-15 22 0 10 3 5-6 8-2 17 6 8-6 11 2 15-10 13 0 7 4 6-3 7 2 12-9 20 2 14 11 11 9 3-2 5-24-8-10 4-4-3-8 0 3-19-5-12-10-5-12 4 2-7 10-1 5-7-3-12-12-6 8-12-4-14 5-7-1-11-7-11 0-16-9-15 0-12-6-13-8-5-5-9-9-3 1-8-8-10-1-17-7-5-13 0-4-3-3-11 6-9-3-14-16-14-7-2-10 5-6 12-10 1-15 16-2 9-6 8-1 35-8 16 1 20 6 10-2 10 3 5-12 2-5 7-2 15 5 7 7 3-10 5-1 13-6 2-5 7 0 7-4 8 3 18-11 15 0 8 9 14-1 13 9 12 0 5-7 8 0 7 10 12-5 11 1 14 3 5-8 9 0 12 9 26 5 4 8 1 2 8-2 10 4 9-10-5-10 3-11-6-12 7-6-3 4-6 0-6-7-9-17-1 4-6-4-13 2-2 5 6 7 2 7-2 5-8 8-5 5-11 0-11-7-8 7-8 3-16-6-8 1-9-7-8 6-8 2-13-5-7-12-7-10-2-5-5 4-9 0-8-14-13 3-19-8-20-10-5-10 3 0-7-5-8 18-2 5-7 1-13-5-7-6-1-5-6-13-7 9-18 0-7-11-19-9-7-13-1-2-2 3-5-2-11-8-6-10 0-3-9-11-6 8-6 2-11-7-10-9-2 5-16-7-11-10-2-11 6-2 11 5 9-6 10 1 8-4 5-16 5-10 18 0 8 5 7-2 10 3 5-4 6 0 6 5 7 6 2-13 6-4 13-9 12 4 24-7 6-5 11 0 11-4 10 0 8 5 7 7 2 8-3 2 4-4 3-12-1-5 4-3 17 4 8-16 16 2 10 9 7-20 4-5 4-6 21 2 9-2 2-8-9-13 1-2-2 15-9 2-10 11-13 0-12-5-7-5-2 1-9-5-7-7-26 3-5-2-14-10-12 3-13-7-8-15 1 13-15-2-10-7-5 3-5-2-9 3-11-12-13-7-2-7 2-6 6-5 0 9-12 0-7-5-7-10-2 4-7-2-11-7-6-18-4-6-8-10-4-1-15 11-6 2-13-9-9 0-6-5-7-12-1-14 10-2 21-6 10 4 14-12 3-6 10 1 13-4 6 0 11 7 12-5 2-5 7 2 9-8 12 6 25-9 9 2 10 11 10-4 8-11-1-7 8 2 11 12 6-12 4-11 17-2 52-4 2-10-13-12 1-7 13 0 8 4 6-6 2-6-9-9-3 8-5 1-11 7-8-4-13 1-9-7-9 6-9 0-6-6-8-10-5 7-2 5-7-1-15-13-19-14-3 9-9 2-10-5-7-5-2 1-9-6-8 10-5 2-10-6-8-7-2-7 2-6 11-8-7 4-6 0-7 9-1 6-5 2-11-6-8-7-2-7 2-7 8-6-8-8-4-8-21-7-5 5-4 2-10-3-12-7-10-12-8-8 0-6-6-7-2-8 2-5 7 0 7 6 10-7 8 0 7-8 11-3 13 2 10 7 5-10 5-5 11 0 12 4 7-7 5-2 11-6 10-1 22 5 7-8 10-2 18 3 10 8 6-5 9-7 3-5 7 2 10-11 37 0 8 5 7-4 5-10 0-6 6-11-3-11 2-3-11-6-5 6-8 0-6-9-9 10-14 0-6-7-8-1-6 5-8-1-7 3-5-2-16-4-6-3-18-5-4-15 0 17-18 0-6-11-16 2-13-7-8-9-2-11 2-6-17-17-12-8-2-11 4 6-9-1-7 5-7-2-18-8-10-10 0-4 3-3-3 17-17-2-15-5-7-7-2-7 2zm328 863l3 2-2 3-3-1zm17-7l5-1-3 3zm676-30l5 0 1 16 10 5-4 7-7-9-11-2zm-715-1l0 5-2-2zm1130-11l-3 7 1 10-4 9-13 2-7 10-1-8 9-5 5-7-3-11 6-11zm-862-25l3-5 4 3zm873 1l5-12 6 10 7 2 14-2 7-8 4 12-8 1-5 4-12 1-7 12-3-2-1-11zm-1113-13l-9-1-10 4-6 8 1 7-3 2-8-9-6-1-3-8-7-5 5-2 8 8 10 0 11-8 3-9 3 7zm-15-54l0 8-2-6zm639-5l6 2 7-2 0 9 9 12-6 21-6-1-5-6-8-3 10-15 0-6-8-9zm18-6l2-7 7 4zm-465 1l3-10 13 3zm916-8l6 2 10-5 9 1 3 15 13 10 4 13 9 8 11 3-10 5-3 9-8 0-5-14-7-6-11 0-6 6-5-1-7-15-11-7 0-6zm-888 0l4-4 12 4 5 7-1 7-7-11zm252-4l8 1-6 2zm233-5l-3 14 10 10-6 4-11-4-12 5-3-9 14-3 6-8 1-8zm-441 0l5 4-9 8zm890-15l6 2-3 1zm-461-4l1 7-2 1zm-251 0l3 9 8 5-12 4-4 5-10-8 5-8 6-2zm-179 6l-2 8-5-4-10-1 1-6 6 0 5-4zm397-13l9-1-3 6zm-427-6l3 2-1 4-3-3zm210-1l5 4-4 7-3-8zm639-8l9 6 11 2-6 5-3 10-8-9 0-5-5-7zm-862-3l3-1 1 3zm219-4l5 1-3 3zm-408-4l5 6 7 2-11 14-3-1 4-7zm639-3l1 4-3-2zm473-1l7 8-3 5 3 11-2 7-5-2 2-5-2-10-8-7zm-423-2l3 11 11 7-3 8-8 1-6 7-16-2-7 8-1-7-6-8-11-2 2-9 9 2 9-4 1 9 5 7 7 2 7-2 6-8 0-6-9-10 2-5zm231-1l-5 8-17 2 1-5zm-672 3l-17 4-2-2 9-3 5-5zm909-19l1-3 7 2zm-229-5l5 4-4 6zm-744-1l9 2 7-2 3 8 5 4 8 0 5 10-11 5-7-16-7-2-10 2zm523-5l1 2-8 6-1-7zm-677 2l3-4 6 5-6 2zm-106-8l1 5-4 2-1-4zm-147-3l-5 10-3-5zm180-2l6 5 13 1-2 8-7 8 1 12-5-2 1-7-10-11 0-11zm780-7l2 3-3 5-4-3zm-68-2l14 10-4 3-10-1-3-3zm407 4l4-5 6 2zm-214 4l7-13 5 4 12 0 3 8 5 4 13-1 5 8-6 2-8 10-9-4-7 2-4-11-5-4-6 0zm76-11l1-3 5 1-3 3zm-306-4l10 10 0 3-9 2-9 12-2-5 10-12zm-417 0l13 3-4 24-6-5-12 0zm913-2l7 1 6 10 14 3-3 15-9-9-15 1 2-11-5-7zm-28-6l7 2 5 6-9 12 3 12-3 4-4-1-1-14-10-5 8-5zm-955-4l2 4-4 4-3-4zm763 1l23-2 1 5-22 2zm-934-4l7 11 13 2-9 16-4-15-8-5zm719-2l1 7-5-4zm-693-2l13 2 3 10-7 3-11-1 3-7zm-311 43l7-3 12-14-2-10-9-10 4-8 6 3 8 12 12 1 6 5 10 0 10-10-5 17 6 9-10 9-11 0-7 7-12-1-12 7-3-9zm525-45l-6 11-12-4-10 5-8 0-7 7-6-1 7-8 6-1 6-10 8 3 18-4zm508-4l6-1-2 3zm116-4l0 6-3 2-2-2zm-877-2l13 2 6-2 1 2-5 4-3 10-5-7-11-2zm1174-3l1 4-3-1zm-279 0l3-1 1 3zm-1059-3l6 8 7 3-1 13-10 2-5 7 0 7 5 7-1 5-12-4 1-8-5-16 7-18zm-55 0l8 3 6 8 5 2-8 9-3-7-8-5zm1136-2l1 4-3-2zm-278 9l3-3 11 0 9-7 7 7 14-1 6 9 8 1 2 3-7 4-5-4-11 0-8 8-8-3-9-12zm-163-8l8-3 10 5 6-2 5 10 6 5 5 1 13-4 3 12-20 3-10-15-14-4-8 2zm-701-6l2-1 1 3zm261-14l6-1 3 3 2 11-10-3zm418-2l7 1 5 19-6 0 0-5-8-12zm-243 0l6 3-4 1zm319-1l8 1 1 3-5 2zm353 0l2-3 5 2-4 3zm-912-4l-1 5-6-2zm694-5l8 6-2 4-6 0-3-7zm-654-4l10 3 4 8-11-2zm495-7l4-2 2 4-4 1zm-208-2l3-1 5 5-5 3zm706-4l3 2-3 2-2-2zm-969-2l1 8-3-5zm946-1l5 7 7 2-4 7-7 2-9-4 5-4zm-1216 1l7-6 8 2zm-22-6l4 0 6 6-7 13-3 0-2-4zm1184-4l5-1 6 6 11 0 3 3-8 10 2 12-3 11 7 8 5 1 11-4 2 4-4 6-1 9-11-10-6-1-9 4-6-2 9-36zm-196-7l0 5-3-2zm180-1l9 8-7 2-9 8 0-13zm-41 1l1-3 3 2zm-1147 2l5-5 4 0 2 7-8 1zm983-10l8 11 7 2-5 8 0 6 6 11-14 2-10 10-11-8 15-5 9-12 0-10-9-12zm-203-5l6 1-2 2zm-28-3l13 25-1 9 5 7-6 5-2 9-3-1 0-5-6-8-11-5-15 0-13 13-4-6 3-8 9-2 5-6 18-3 5-7zm204-1l7 0 3 5-4 2zm-658-8l2 4-6 8 0 6 5 10-7 2-10 14-9-1-9-11-12-1 2-4 11 0 7-5 2-14 8 3 6-1zm-36 1l5-3 2 5zm229 1l8-6 6 11zm242-7l2 6-7 3zm537-2l-1 4-2-2zm-22 0l2 2-9 7-4 10-8-14 3-5 8 3zm-48 3l6-4 5 6-5 2zm-425-7l-3 6-1-4zm504-3l2 2-4 2zm-276-2l16 2-11 5zm362-2l5-1 6 5 26 6 3 9 5 4 12-1 6-10 10-1 8 7-7 12 0 8 7 10-14 1-5 4-8 13 2 11-2 2-7-9-8-3 2-10-8-11 7-8-4-14-14-7-13 7-2-2 2-9zm-1071-1l7 5-3 4zm738-3l6 2-4 10-10-5zm-144 15l-9-5-11 1-3-4 9-1 10-6zm-385-17l8 0 1 5-5 1zm-365 0l-1 19-10 4-10-2-4-4 11-2 5-7 0-5zm829-2l11 3-4 2zm488-4l-1 7-2-2zm-715 0l0 10-6 5-4-11zm-165 0l2-1 2 4zm-487-2l10 23-11 0 2-12-4-6zm604 8l5-9 10 4-3 4zm-416-5l8-5 4 10-7 0zm-25-6l8 1 7 6-8 11-3-1zm-244-6l4 2-3 4-3-3zm743 2l1-3 3 2zm485-1l5-5 6 5 11 1-5 5-5-4zm-1096-6l21 4-2 9-15 1zm874-2l2 2-2 3zm-526 3l4-3 2 4zm-401-3l4 3-3 5-4-4zm1346-9l2 2-6 15-7 2-5 7 2 11-2 2-4-9-10-6-1-4 3-3 8 3 7-2 6-8-1-11zm-45-2l2 4-4 1-1-3zm-249-1l3 2-4 3zm-572 0l1 7-4 6 2 10-15 3-2-3 4-13-3-5zm481-1l3 1-2 4-3-3zm-819 7l3-7 6 3-4 5zm-184-9l3 4-2 17 5 7-2 9 5 7-11 17 2 11-4 3-7-9-6-1-10-9 2-11 9-2 5-7-2-10-12-6 4-3 6 2 7-2zm869-1l9 5-3 11 7 13 10 5 6-2 4 6-4 4-13-2-14 15-5 1 5-25-5-7-11-3 11-6zm305 31l-8 5-4 8-6-13-10-5-15-1-10 5-3 13-9-2 0-5 6-5 4-10 0-7-4-6 8-4 7 8 10 0 5-4 3-9 4 2 0 6 5 7 9 2 2 9zm-921-32l2 2-2 5-3-3zm568-2l9 1 1 5-8-1zm-500-2l-2 7-4 1zm425-3l7 2-5 2zm-25-5l1 3-5 3-1-3zm-155 0l3-1 3 5-5 1zm295-3l4 4-1 4-4-3zm50 0l-1 10-5 8-15-2 7-4 6-9zm-640-1l4 2-1 6-5-2zm-69-1l4 2 0 5-4-1-2-4zm-151 0l5 2-3 4-4-4zm761-2l5 4 0 8-8-3zm-160 3l-10 3 1-5 5-1zm723-5l3 3-2 3-3-2zm-903 0l1 3-3 1zm466 0l2-2 6 5 12 1 0 10-11 1-4 3-1-11zm-396-2l0 4-6 3-1-3zm868 1l-13 0 8-5zm-682-4l7 5-7 3zm-656-2l1 7-6 1-1-4zm239 1l4-3 7 3zm375-4l1 4-3-2zm657-3l7 6-9 12-7-3 5-4zm-1086-1l2 2-3 2-2-2zm712-1l5 0 4 7-6 1zm-1049-3l8 1-4 7-7-2zm100-2l-3 8-7-5zm154-3l-1 4-2-2zm790-5l2 9-7-2zm-857-2l3 2-2 2-3-2zm-166-3l2 4-3 3-1-6zm-35-6l6 5-2 3-3-1zm1261-3l4 1 7 13 7 2 8-2 1 4-13 1-6 6-7-2 0-11-4-6zm-479-3l1 6-3 1-2-2zm228-1l-4 5-9 1-6 8-2-2 1-12 4-6 5 4zm-81-6l5 13 8 5-9 7-3 9-3-4 4-6 0-7-5-7zm-145-1l2 2-2 4zm-705 5l2-5 4 2zm1052-7l10 4 10-2 3 4-1 15-7 7-5-14-10-7-2-4zm-464 11l12-3 10-8 9 8 11 0 7 9-12 1-7 5-7 1-6-7zm-554-11l-1 4-2-2zm212-3l2 12-6-8zm631-1l2 2-2 4-2-2zm527-4l3-1 1 3zm-65 12l4-13 16 5-13 3-5 7zm-1081-19l2 3-3 2zm-38-1l7 14-6 7-6-5zm281-2l3 8-4 2-5-7zm-336-1l-1 7-1-6zm-211-2l-8 7-3-2 7-7zm447-1l5-3 9 5-5 5zm59-8l5 2-3 2zm-216 0l13-2 2 5-3 6zm-87-6l3 1-2 5-4-3zm326-1l3 2-2 2-3-2zm558-2l3 2 1 12-10-2 0-5zm-348-1l5 5-4 4-5-2zm-238-5l3 1-2 5-4-3zm-240-2l-4 15-10 0-7 7-8-3 12-6 3-13zm-233-4l3 2 2 9-5-4zm919-3l0 6-4 1 0-5zm-261 1l4 2-2 2zm-466-1l2 2-5 6-1-5zm-232 1l-3 5-6-3zm1208-6l3 3-2 4-6 2-4-5zm-60-3l2 2-2 4zm-144 1l2-3 4 2-1 2zm-1029-6l5 7-10 2zm1364 0l1-6 9 3zm-204-12l0 10-8 3-3-5zm-1122-2l4 2-2 4-3-2zm937-1l0 6-2-4zm-255 0l7 4-9 11 0 9-11-8 10-5zm709-6l4-2 7 3 3 8-2 1-6-8zm-1195-4l2 2-3 2zm702-5l0 5-2-3zm-481 6l6-2 7-9 8 8 13 0-5 10-6-5-15 2zm-121-10l6 4-3 2zm195-4l3-1 1 3zm930-3l2 3-3 4-2-3zm-84-20l9 4-5 5-4-4zm-434-2l2-2 16 10-11 3zm-653-1l-7 2 3-3zm1178-4l1 6-10 9-4-7zm-1377-3l1-3 3 1zm-63-4l6 14-17 0-1-2 5-2zm230-7l3-2 3 2-4 2zm50 3l7-7 12 10zm683-18l5 4 2 8 7 6-2 9-7-3 0-7-5-7zm195-3l2-3 1 2zm-483-12l1 5-4-2zm-201 0l15 10-12 4-4-9zm436-14l8 5-8 3zm-907-2l1-3 13 1-3 8zm1155-2l4-4 6 2-3 5-5 0zm-251-7l1 5-3-3zm-690-7l3 5-3 2zm940-14l4 4-4 4zm-933-4l2 3-7 8-6-9zm930-15l-1 13-5-4 0-4zm-1147-23l2 1-1 6zm-1627-6l2 11 7 6-10 3-6 8-1 31-9 12-1 13 4 6-4 6-3 24 5 7 11 1 6 5 2 9-5 2-3-8-5-4-10 0-7 8 1 14 4 9 14 13 14-2 5-7 0-9 17 8-7 8-1 9-10-5-12 2-7 5-11-3-7 2-5 7-2 27 3 5 0 12 4 6-11 12 0 16 8 14 0 8-6 12 0 9 12 15 14 3-1 2-11 0-5 4-2 10 3 5-8 9 0 6 7 8-2 10 14 17-11 20 0 8 7 8 27-2 6 7 7 2 25-8-1 11 3 6 5 4 11 1-3 5 0 12-14 8-3 12 5 7 8 1 6 10 8 3-7 2-4 5-3-11-6-6-7-2-7 2-8 12 4 15 8 10-5 7 4 18-3 5 0 10 8 9-2 3 2 12-7 5-2 10 7 20 8 6 11 1 0 3-12 11 3 11-11 1-7 5-5 7 0 6 8 12 9 3 10-5 3-11 10 8 12-1 9-9 3-8 12 1 10 5-4 5-8-2-9 2-6 13-9 0-5 4-2 10 3 6 7 5-1 3-7 0-6 6-8-11-12 0-5 4-2 10 5 7 9 2 12-6 5 9-2 10 5 7-9 1-5 4-4-3-11 0-5 4-2 10 3 5-1 7 11 15 11 6 3 8 10 5 6 11 13 1 5 9 9 5 0 5-7 10 0 6 9 12 3 19 9 10 13-1 10 5 10-5 2-4-2-13-10-5-9 3-2-8 12 0 5-4 1-12 12-6 8-21 11-9 2-10-15-17-9-1-5-7-7-2-11 5-1-7-5-7-13-4-10 0-7 7-11-1-9 8-4-6 7-5 2-11-8-9 15-1 4-3 6 6 10 0 12-6 3-10 11 3 7-2 5-7 10 5 10-5 2-10-13-14-18 0-9 10-6-1-1-8 9-10-2-11 6-12 7 2-3 12 5 7 19 4 6 6 10 0 12-11 2-14-7-9 12-8 2-10-8-9 2-9-5-7-7-2-9 4-4-2 9-10 0-8-7-13 5-7 2-11 10 3 8-1 7-8-2-11-7-9-5-2 0-13 3-1 6 5 10 0 5-2 6-9 0-6-5-7-11-2 3-5 1-26-7-10 9-17-1-12-4-6 6-2 5-7 0-8-5-13 4-7-4-21 1-8-7-8 3-3 6 2 14-5 10-14-6-25 4-20-5-7-7-3 3-7-2-9 5-7 0-6-5-7 3-5 14 10 3 23-4 6 2 10 10 5 11-1 7 17-5 6-10-4-7 2-5 7-5 20 0 7 6 9-3 7 2 10-2 10 6 8 13 2 3 21 11 6-9 11-1 12 5 7 14 7-18 6-5 7 0 7 9 14 8 2 9-4 5 6-9 4-13-1-7 8 2 19 9 9-7 31 5 7 9 1 8 8 10 0 5-4 2 3-8 6-4 9-5-7-7-2-11 6-3 6 2 10 5 4 10 0 3 5-17 1-5 7 0 6 5 7 9 2 10-5 1-15 7 2 10-4 7 4 11 0 3 4-12 3-11-4-7 2-8 11 2 10-9 9-9 4-2 11 15 20 12 6 9 0 7 7 13 0 7-8-2-18 3-5 6 6 13-1 6 6-3 5 2 12 9 7 11 0 7-8-2-25 11 4 7-2 5-7 0-7-9-9-2-8-8-5-7-1-10 5-18 2 3-7-2-12 4-4 3 10 10 5 7-2 5-7 5 6 6 1 6 9 7 2 9-3 5-7-2-10-11-14-7-2-14 3 2-10-4-8-10-7 11-2 6 15 7 6 14 2 8-2 8-12-2-10-5-4-11 1-6-5-11 0-1-4 5-6 7 7 10 0 6-5 2-11-6-8-11-1-7-8-15-3-6 2-3-4 11-1 10-8 4 9 5 4 18 0 12-15 0-14-4-7-8-5 4-6 3 0 6 10 7 2 10-2 5-7 0-7-9-11-13 0-7 8-6-8-9-1-9-7 1-5 12 1 8-9 11-6 2-11-4-6 6-16-1-10 4-6 0-6-7-11-17-4-7 2-8 13-6 3-1-3 9-11 0-6-5-7-8-3 2-4 9-5 17 2 17-12 2-14-3-5 3-5 0-12-4-10 4-6-3-12 4-8 7 7-1 8 5 7-1 8 3 5-4 22 2 3-1 15 5 10-6 2-8 12 4 15 13 7 11 0 16-5 2 18 17 7 8-2 8-14 5 2-5 7 1 15-15 1-7 8 0 6 5 8-4 8-1 11 5 7 7 2 7-2 7-12 13 7-14 4-6 8 0 8-10 2-5 7 1 12 4 8 9 5-7 8 1 12-2 1-6-6-10 0-9 11 3 19 12 6-5 7 2 16-5 4-8 15 1 19 3 6 11 9 7 2 7-2 2 3-19 4-6 11-13 5-5 7 2 10 12 14-4 13 8 9 2 7 10 5 16-5 3 9-4 8-8-3-7 2-15 21-7 5-2 10 9 18 5 4 15 1 11-5 1 7 5 7 13 1 5 7 7 2-1 9 7 8 24 0 7-8 0-7-7-11-7-2-11 4 2-24-5-7-6-1-7-7 7-3 5-11 9-5 3-6-1-10 10-1 4 6-12 11 0 6 5 7 10 2 8-3 8 9 7 2 11-2 5-7-4-17-6-5-13-2 11-9 4-8 8-4 2-13 7-8-3-11 1-9-10-18 3-6 10-5 3-14 6-10-1-32 6-8 0-6-8-17 14-3 8-9-2-10-23-10-4-10 18 1 8-9 2-13-11-13 5-17-6-8 14-6 2-13-7-8-6-1-9 4-7-3-8-15-7-5-9 0-6-5-14-1 1-3 25-1 10-17 0-6-6-8-7-2-7 2-3-5 10-11 0-7-4-6 3-5 14-7 1-14 3-5-2-10 3-16-10-11-11-1-1-6 2-2 13 2 10-12 7 5 4 16 10 5 4 6-16-2-7 8 1 23 4 6-2 9 5 7 6 2-9 9-4 10-1 14 11 12-13 2-9 14 0 6 5 7 13 7 12-1 10-12 0-13-5-9 15-12 1-15 4 0 5 11 7 2 19-1 12-8 2 2 0 6-6 5-8 16 0 6 9 18-8 5-3 13 5 12 9 8-3 5 2 15-7 2-7 11 2 25 7 8 10 0 4-3 6 12 5 4 10 0 5-4 11 3-3 13 2 10 8 5 5 11 12 1 6 8-8 5-3 10-11 3-1-19-13-6-8-10-13 1-2-2 5-8-1-11-13-16-7-2-10 5-4 12 0 15 5 7-2 3 1 13 5 7 12 3-1 14 7 9 7 2 14-5 11 16 11 3 19-8 7-12 9-1 7-10 11-5 1-14-5-7-8-3 3-5 6 6 12-1 14-18-2-12 11 4 10-5 3-6-2-12 2-10-10-12 19 2 7-8-2-26-5-7-8-3 2-9-5-7-15-1-8 11-6-18-5-4-11-2-10 5-5 17-8-1-9 4-1-7-7-9 11-6 6-14 7 8 19-1 5-7 1-7 13 11 19-1 6-10 6-2 11-13-2-10 15-7 3-6 0-17-6-8-9-5 7-7 6-1 6-8 0-7-6-14-10-12 6-10 0-12 7-12 0-14-7-13 2-3 9 0 4-3 3 3-3 5-1 22-3 5 2 10 11 6-5 9 0 6-6 8 1 11 9 11-6 12 0 7 7 9 7 3-10 11 2 10 19 10-6 5-7 14 0 7 5 13 11 6-7 2-6 9 2 11-3 11 5 7 1 17 8 11 9 5-11 6-8 17 1 12 5 7 7 2 12-4 6-11 6 8 12 1 9-10 0-9 24 13-1 3-9 1-5 9-6 2-5 7 2 10 13 17-11 10-3 9-13-7 10-6 4-14-5-7-9-3-1-12-11-6-8 2-6 8 2 10 7 5 0 12-15 0-12 12 3 23 5 7 7 2 19-6 5 2-6 8-6 2-20-2-7 8-2 12 2 27 12 7 16-7 4 3-11 16 0 6 5 7-14 2-5 7 0 9 5 7 14 1 4 4 2 9 7 5 1 12 10 11 7 3 12-1 10-14 0-10-5-8-14-6 7-2 5-7 7-2 9 17-2 12 4 7 6 5 10 2 7-2 5-7-3-17 7-9 14-1 7-8-1-25-3-6-9-4-8-9-9-1-7-15 6-9 5 13 5 4 14 1 10-5 4-11 1-23-7-10-12-1-4-10 15-8 2-10-4-6 13-3 8-12 0-6-10-18-13-1-7 8-3 19-3 2 1-14-6-9-9-2-8 3-13-8 10-3 7-14 4 12 5 4 6 1 16-4 5-7 0-6-11-12-5-10 2-2 7 7 17 1 8-10 11-1 9-16 1-12-4-10 5-7 0-6-15-18 10-6 7-15 0-6-5-7-10-3 13-6 7-13 0-6-13-13 5-9-1-24-5-7-9-3 12-4 6-8 0-6-5-7-2-17 5-26-10-23 2-6 8 0 7-5 4 2-3 27 9 10-6 8 1 14 8 9-8 6-2 10 3 22 10 20-11 8-3 17 5 7 6 2 19-2-2 13 7 15 5 4 13 2 7-2 7-8 4-11 6 11 7 5-3 10-7-5-12 0-10 11-14 0-9 10-2 11 5 10 15 10-6 10 1 7-5 8-1 13 9 10 14-1 10 5 14-6 12 1 5-4 6 4 11 1-2 7-9-4-10 2-6 13-8-9-12 0-5 4-3 8-10-14-7-2-11 2-5 7 0 6 5 9-3 22 5 7 13 6 7-2 8-8-1 15 5 7 7 2 32-6 5-7 0-7 9-9 0-6-5-7-7-2-7 2-7 9-13-3 7-12 2-12 7 10 8 2 7-2 6-11 3 3 2 23 5 4 10 0 6 8 7 2 9-4 12-1 11-13 6-1 5-5 2-13-3-14-5-4-9 0-4-3 8-3 6-10 11 0 10-5 5-7 0-6-9-18-7-2-11 3 0-7-9-20 12 4 10-2 5-4 2-21-13-12 13-6 3-18 8-3 6-8 3-16-3-13 6-8 0-7-8-9 4-6-3-25-5-7-6-3 9-9 1-20 5-8 0-6-7-9 12-12 6 23-5 7 0 9 3 8 7 5 2 20-7 6-2 11 7 8 13 0-1 3-11 1-7 12 0 9 5 7-7 9 0 7 4 8 11 5 16-6 11 0 2 2-3 12 5 7 7 2 17-6 6-8 1-9 9 0 7-5 8 3 6-1 6 5 20 3-5 13-8 9 0 7 9 11-4 11-6-4-11 0-11-11-6-1 1-10-8-11-12-1-7 6-2 10 4 6-1 9 7 16 5 4 11 2-8 3-6 10-7-12-12-6 5-7 0-6-14-17-7-2-7 2-9 13 0 6-6 8 0 7 6 8 11 2-3 6 1 11-3 12 9 9 10 0 3 6-9 9 2 10-4 4-8-3-7 1-7 8 1 13 4 6-1 10 5 7 13 2 1 13-11 2-5 4-1 11-7 8 0 9 16 17 10 0 5-4 3 3-3 5 2 10 10 5 7-2 5-7 0-6-6-8 4-7-3-16 12-1-3 13 6 8 7 2 8-2 19-15 7 8 12-1 5-7 0-6-5-7-12-1-6 5-5-7-15-4-7 2-5 6-3-11-11-6 5-4 2-9 11-13 8 3 9-1 13-13 4 3-10 12 2 10 21 18 18-1-3 11 8 10-5 8 0 7 5 9 5 4 11 0 6-3 5-7-2-12-8-5 5-7 0-6-11-11 19-19-3-15-10-5-9 4-22-3-2-2 4-6-2-12-10-5-16 1-8-11-19 1-6 6-4-4 10-8 1-11 5-9 10-5 5-7-4-19 9 9 6 1 8-3 9 3 8-1 13-10 1-13 4-3 9 10 13-1 5-7-1-7 4-6 0-6-5-7-11-2-4-12-7-5 1-8-5-7-23-5-1-16 4-4 1 12 5 7 7 2 10-5 3-35 10-9 2-10-15-21 2-9-3-5 6-8 1-11-10-12-16-2-3-12 4-6 0-6-9-9 1-7-3-5 2-10-8-12-13-3 7-6 2-10-7-9-6-2 12-11-1-11-7-9 3-12-1-8-5-7 2-13-6-8-9-3 0-6-7-8-13 0-7 7-4-2 5-8 1-15-6-8-10-1-5-7-8-3 2-11-3-5 1-12-3-5 2-19-4-6-2-12-14-16 0-7-8-10-10 0-7 6-5 13 1 9-8 20 0 7 8 11-13 3-8 12-3 13 0 23-4 6 2 9-7 11 3 11-2 13 4 7-8 9 3 14-7 3-5 7 4 21-5 7 0 18-9 14 0 8-7 9 0 7 8 9-5 10-11 0-7-8-9-3 3-12-7-14-5-4-12 1-7 14-6-1 11-17 10 0 7-8 0-6-7-9-14-3 7-8-2-15 2-10-8-34-5-7-5-2 4-6-2-10 5-7 0-6-5-7-12-3-9 4-5-14-10-15-8-6-8 0-5-5 8-9 3-16-5-7-7-2 0-5-9-11 0-7-6-10-17-13-10 0-7 5-2 14 5 7 5 2-7 2-5 7 4 20-10 5-2 10 7 11 10 6-7 8 0 8-12 0-7 8 2 13 6 5 9 0 4 9-3 4-11-8-12 1-5 7 0 9 4 6-9 3-6 8 0 9 6 10-6 8-1 17 2 3-6 8-4 36-3 5 3 17 9 10-23 10-2 10 4 6-3 3-17-19-10 0-7 6-9-1 5-7-3-17 11-2 5-7-4-13 3-13-1-7-5-7-10-1-8-7 10-5 8-17-3-26-6-10-8-4-7-9-10-1-2-3 2-3 9 3 8-2 5-7-2-13-5-7-8-1-6-8-6-1-6-7-2-8-5-4-10 0-7 6-14 1 7-13 0-6-7-8-1-13-5-4-11-1 2-11-6-9 1-3 12-2 5-7 0-6-6-9-6-2-2-19-9-12-15-2-9 12 1 11 9 13-7 2-5 7 2 10 8 8-3 5-8 4-2 10 11 21-13 1-7 5-2 10 5 7 6 1 1 4-12 2-12 14-4 14 7 11-15 20 3 12-1 13 3 7-2 11 5 7 12 2-7 10 2 11-10 3-10 9-1 13-5 7 2 10-8 5-3 12-13 4-5-11-9-5-2-8-14-7 12-4 5-7-2-20-13-6-12 5-3-14-10-5 9-5 11-1 5-7 3-20-8-10-1-11-11-10 5-2 5-7-1-17-5-7-7-2-7 2-4 5-2-2 7-9-2-10-7-4-6-9-14-6 0-5-12-21-7-2-6 2-7-9-10-5 8-15 0-6-6-8-13-5-10 5-4 23 5 7 9 3-3 5 1 20 13 14-3 3-7-3-6-13-11-3-8 2-5 7 1 7-8 11-9 21 1 19 5 7 9 4-15 5-8 12 0 6 6 8-3 20 12 13-14 2-8 15 2 15 9 4 1 3-11 6-2 10 3 6-6 5-2 6-14 1-7 8-3-8-16-19 5-7-1-14-4-10-13-12-10 0-4 3-5-7-11-1-8-5 10-4 4 5 7 2 15-3 7-8 3-19-8-9 1-14-1-13-4-6 1-9-3-11-6-8-14-2-5-4-15-1-6-6-12-1 6-3 6 2 9-3 6-8 0-13-6-8-11-1-12-9 10-6 2-10-11-15-13-3 7-6 3-12-6-10-13-9 2-5-2-11-6-5-11 0-7 6-5 13 1 15 5 10-9 1-6 5-9 19 0 6 6 8-5 7 1 14 5 11 12 7-7 14 1 9-11-4-5 1-13 10-10 40 0 8 6 8 14 1 8-8 8 2 7 11-12 12-3 8-11 1-8-3-10 5-3 8 2 16-4 16 7 9-9 2-6 5-4 15-5 2-6 9 0 6 9 12 13 3 10-5 1-13 7-5 3-8 8-4 8 11-8 9 3 11-4 8-17-2-6 5-3 8-9 4-2 11 5 10-1 14-7-5 3-7-2-10-5-4-9 0-13-13 10-11-5-16-5-4-13-2 11-6 2-11-4-6 1-9-4-15-5-7-7-2 10-5 2-10-3-13-6-10 2-13-8-10-2-13-9-5 7-9-1-12-5-7-18-6 1-9 4-6-2-11-5-4-9 0-10-11-3-13-13-6 1-7-5-7 5-7 0-9-6-8-15-5-23 4-19 24-1 11 3 5-7 13 2 11-4 6 0 7 5 7 7 2 6-2 6 5-7 6-9-4-10 5-5 17 5 7 7 3-5 5-6-2-8 2-9 18 2 19 16 8-2 10 7 8-6 2-4 5-15-2-7 8 1 11-5 7 1 17-3 11 9 9-7 2-5 7-3 17 4 7-5 2-14-4-7 2-4 5-17-5 2-5 6-2 5-7-2-9 3-5 0-9-6-8 4-17-8-20-6-5-3-13 2-19-9-15 2-3-2-13-6-8-15-2-8-7 11-3 5-7-3-21-8-7-14 2-7-9-6-2 4-7-2-10-5-4-11 0-8-6 13-16 1-14-5-10-13-14-7-2-17 2-7 8-5-4-10 0-5 2zm524 823l9 0-1 7zm-387-10l1 20 5 4 10 1-14 12-7 1-3-8 5-7 0-6-3-7zm418-33l4-7 5 6zm-19-22l6-1 3 5-8 1zm79-17l2 2-2 3-2-2zm420 6l-4 6 2 9-2 3-4-3-10 0-8 10-11 0 14-16 0-7-8-9 5-8 1 7 7 9 7 2zm-470-13l16-5 0 9 5 7 10 6-1 6-21 0-5-7zm-467-13l1-3 5 1zm912-1l8-3 10 6-11 2-5 4zm-397-3l-3 13-5-6-13-3 14-2 5-4zm369-6l2 2-3 2zm80-10l4 3-3 5-4-6zm-453-8l2-2 2 2zm-261-8l1 2-7 5zm695 11l-23 3 12-16 6 4zm-913-18l1 8-8 0zm-34-20l2-1 1 3zm964-2l5 10-9 5 0-12zm-893 0l-14 7-12 0-8 8-4-12-8-5 3-2 10 4 7-2 5-7-1-7 2-1 1 8 5 7zm454-20l-6 11 0 8 4 8 9 5-4 4-7 0-6 5-11-5-11 1-7 5-7 11-3 11-6-6-10 0-8 8-2 10-6-2-5-8 24-14 3-12-7-8 10-10 16 6 19-6 5-4 2-6 8-5 2-8zm-83-1l13 0 1 3-8 3zm514-2l2 4-4 3-1-5zm-902-11l7 1-5 2zm-68-3l6 0 5 4-6 10zm280 0l2-1 4 6-3 2zm-291-8l5 8-7-4zm522 5l5-14 6 4 19 3 11-4 6 5-21 4-6 13-10-8zm-46-10l-23 2 4-11 11-1zm20-12l6 5-1 5-7 2-6 7-5-6 7-2zm-393-14l8 3-3 12-4-1-4-6zm620-1l1 5-3-2zm-725 0l3-1 6 5-1 2zm528-4l5-1 5 4-6 2zm869-7l2 5-3 2zm-1135 0l18 34 1 8-9-9-5-17-9-6-1-6zm512-1l6-1 3 3 0 6 7 9 1 8-8-3zm156-6l5 3 1 8-6-7zm-363-1l2 8-6-3zm667 6l5-7 6 6zm-966-12l-3 6-1-5zm480-5l4 9 14 9-7 2-5 7 0 10 5 8-9 3-3-2 4-6-2-9 2-15-9-10 0-4zm-177-2l-1 4-2-2zm-54-9l-3 15 8 15-4 1-10-5-11 4 4-14-5-7 3-3 11 1zm-185 1l12-1 8 3-16 8zm-3-4l-7 1-1-2 6-2zm-255-2l3-1 5 4 8 13 9 1 3 3 0 10-5-5-8-2-19 11-2-2 1-4 8-3 5-7 0-6zm605 19l9-19 5-3 18 7 13-1 5-3 2 3-2 6-12 0-7 4-14-4-7 2-7 10zm-686-16l4 3 25 4 10-5 3-10 8 4-3 7 3 11-2 12 5 7 5 2-11 3-8 9-7-7 3-7-2-10-8-4-9-10-20-1zm773-21l3 13 13 9 2 7-2 2-12-6-6-11-7-2zm600-1l7 2-3 6-3-1zm-1362 2l2-2 6 2-2 2zm927-6l9 12 9 0 11 8 13 0-8 9-3 11-3-1 0-8-5-7-5-1-7-7-13 1-6-5zm-620-1l2 3-4 4-1-6zm174 1l7-2 9 5-8 4zm-222-3l4 5 8 1 4 11 6 5 13 1 7 9-6 10-13-4-8 2-1-15-5-4-13 0 3-5 0-6-4-6zm638-4l0 5-2-3zm-874-3l3 4-3 13-8-3zm907-3l-2 7-3-5zm-229 1l2-2 2 2zm-477-4l5 1-3 2zm-170-2l3-3 9 0 3 8 6 5 13-2 8 10 15 0-8 11 0 8-3-1 1-7-5-7-8-2-13 3-3-12-5-4-14-2zm1078 22l17-25 21 13 8 1 10-5 3-11 3 8 13 8 11 0 5-4 5 5-5 9 0 16 7 8-5 6-6 0-5 4-16-13-12 1 1-10-13-16-12 0-6 5-2 11 4 6-6 2-9-16zm-812-29l5 8-3 3-4-1-1-7zm144-11l4-1 2 4zm495 10l14 1 13-13 10 5 8 9 14-1 4 4-10 5-5 7-1 17 6 8-5 7 0 9-7-4-11-13-18 0 3-5 10-5 2-15-8-10-7-2-7 2-7 7-2-2zm-938-12l6 13-6 8-4-5-11-5 9-3zm52-7l5 6 1 7-7-9zm669-3l3 1-1 5zm440 0l7-1 7 6 7 0 7 7-14 5-3-8zm-1159-3l-1 4-2-2zm250 2l-3 2-9-3 9-3zm440-5l2 2-2 10 2 11-10 4-15-11 15-2zm-584 6l-14 1-8 9-2-1 4-11 8 0 5-4zm859-9l0 5-2-2zm184-1l3 7-7-2zm-691 1l4 0 5 7 5 2-12 1zm-483-6l2 2-4 5zm331-2l6 16 5 4-12 2-7 8-2-3 2-12-8-12zm698 0l6-2 3 8-5 2zm-84-2l6 6 8 0 5 8-7 8-3 10-5-1-7-9-10-5 1-4 9-5zm-851-1l5-2 2 3-3 3zm812-3l1 3-3 3-2-3zm-434 3l3-3 4 1-1 4zm519-5l18 2-15 8zm-868-1l3 3-2 3-3-3zm101-7l5 4-2 3 1 13-6-2 3-6zm-152 1l4-3 12 12-7 2zm430-4l-3 5-2-2zm250-3l2 6-2 14-8-8 1-5zm-509 4l3-5 5 3-6 4zm449-8l8 10-1 8 5 7-13 2-7 9-6-8 9-1 5-4 2-10-6-8zm229-2l3 7-12 5-1-7zm-649 0l10-1 6 5 7 0 6 12-3 2-12-11zm879-2l6 2 2 7-4 5-6-12zm117 5l-7 2-10 11-10 0-4 3-5-7-7-2-9 3-7 10-2-2 8-12 7 0 5-4 13 6 7-2 8-12zm-1158-6l3-3 5 2-2 3zm306-5l-4 6-5-3zm371 3l8-5 2 8zm-324-10l6 1 1 3zm561-2l10-1 3 3-12 1zm-784-1l3 1-2 11-4-3zm1118-1l5-1 1 2zm-466 1l5-3 4 2zm92-6l-1 12-5 3-6-11zm-940 0l2 2-4 5-1-6zm-12 22l-2 4-20-3-7 2-5 7-1 8-9-4-8 1 2-9-3-5 24-4 5-7 1-12 4 3 2 11 6 6zm922-23l4 2-3 2zm-220 1l8-2 6 8 7 2 10-5 5 9-13 5-5 6zm-668-3l3 7-5-3zm758 3l-6 4-11-4 10-5zm-395-4l10 8-10 0zm251-2l0 5-2-2zm554-2l5 7 10 2-4 6-10 0-4-4zm-240-8l6 10-11 4zm-387 3l1-3 3 1zm186-6l3 2-2 8-4-3zm620 1l3-3 6 1 2 8-10-2zm-251-4l3 9-11 1-1-2zm48-3l-2 13-10 15-3-7 1-11-3-5 5-5zm171-4l1 6-4-4zm-111 0l2-1 1 3zm-280-7l-4 8-9-2 10-7zm-695 2l-2 3-10 0-4 3-4-7 8 1 8-3zm-308-3l2 2-5 6-2-4zm128-2l0 18-5-12zm-163 0l2 4-4 6 2 10-6 1-1-8-5-7zm554-3l2 4-5 2-2-2zm282-2l-5 9-14 3 4-11zm-65-3l-12 3 6-8zm520-7l8 8-5 8-3-2zm-430 0l13 8-6 4-7-7zm-179-7l3-1 1 3-3 1zm767-9l4 5-9 6-2 17-4 1 2-14-9-9 13-2zm-240 0l4 3-2 2-4-3zm-283 0l22 1-1 16 17 16-13 6-4-2-7-28-6-5-8-1zm26-2l2-3 3 1-2 3zm545-4l2 3-3 3-3-3zm-924-1l1 4-3-1zm-404 0l1 6-3 1-2-4zm973-1l3-2 12 9 1 4-9-3zm-439-3l4 4-3 4-3-2zm158-2l2 4-4 4-2-7zm-41 0l1 5-4 5-3-6zm-522 5l6-5 5 7-2 2zm197-8l3 7-2 2-6-2zm546 0l4 2 5 9 11 1 2 6-10-3-7 2zm-362 0l-6 13-11-1-5-8 11-1 6-6zm-31 0l3-3 3 3zm-508-5l2-1 1 3-2 1zm1359-2l1 5-2 1-2-3zm-519-1l4 3-5 5-4-5zm-721 9l7-9 10 1 1 7 5 7-12 3-9-5zm-241-12l7 5 0 6 5 7-1 11-8-14-13-3 7-5zm287-2l2 2-2 4-3-4zm-211-2l-2 7-1-6zm701-2l-1 7-2-2zm457-3l2 1-1 6-4-3zm-309-3l1 8-3 4zm-145 0l-2 6-1-3zm66 0l5-1 5 5-1 3-5 2zm-139-2l9 4-5 7-1 7-4-1zm-100-2l1 12-5 6-4-13zm136-2l3 1-2 6-4-4zm545 2l2-4 2 2zm-723-4l1 4-3 2-3-4zm428 1l1-3 3 1zm-161-4l3-2 3 4-5 1zm-333-2l5 7 9 4-3 5-7 0-6 6-3-2 5-9-2-9zm873 0l5 4-5 1zm-759-6l-1 7-1-6zm-30 0l0 5-2-2zm-335 0l-1 7-2-2zm892-4l2 1-1 6-3-5zm-820 0l5 1-3 2zm385 19l-24-7-4-10 11 1 10-5 5 9zm-733-19l3-3 4 2-1 2zm1457-9l7 2 10 9-5 7-3-6-10-7zm-63-1l4 6-2 3-5-6zm-26-4l4 4-4 7-3-9zm-1310-3l-2 10-10-2 7-8zm472-3l4 2-3 3-3-3zm460-4l8 8-11 11-2-9zm-643 1l-7 9-12-5 11-5zm425-5l5 7-3 2-3-2zm-710 5l2-5 5 4zm852-6l3 3-2 4-3-5zm-352 0l1 3-5 7 4 13-5 1-6-9-7-3zm-459-1l0 3-7 5-1-2zm1312 3l2-4 5 0 3 5-6 3zm-932-5l4 9-2 2-8-4zm-36-1l-2 6-1-5zm937-1l0 4-2-2zm-442 2l4-3 8 0 10 7-3 4-7-6zm507-2l1-3 3 2zm-713-6l-1 12 4 6-9 11 1-18-3-5zm-672-5l-3 10-4-5zm942-7l3 5-2 2zm-341-1l0 5-3 2-1-3zm-163-2l2 2-2 4-9 2-8 11-1-14 11-1zm632-2l8 12 10 1 1 3-7 8 3 11-13 0-6 4 3-30-5-7zm269-4l11 4 11-4 11 5 6-2 1 6-10-3-29 3zm-473-12l8 16-11 1-6 5-5 0 7-7 2-9zm448-1l5 7-4 4-3-9zm-912-3l2 11-4 2-2-11zm47-10l5 1-3 8-4-6zm415 0l10 1-6 7zm504-3l2 8-6 3 0-10zm-948 0l2 2-2 3zm465-3l2 1-1 5-4-2zm251-1l3 1-2 4 2 13-6 0-3-5zm-212-11l3-1 1 3zm455-3l1 4-3 1-1-3zm-219 1l0 7-14 2 12-11zm-41-2l1 6-3 2-2-2zm-1095-2l0 4-2-2zm673-3l7 6-6 8-7-3zm595 1l4-4 7 2 9-2 5 9-21 1zm-1091-17l1 7-5 4-5-5 4-6zm-192-1l2 15-16 7-4-4 5-5 6-1zm1142-5l7 5-4 6-6-8zm-697-2l2 2-2 6-5 6-5-6zm228-10l-3 4-7-1 5-4zm-10 4l-5 4-3 8-14-2-5 4-3 11-9 0-5 4-11-23 14-7 1-16 9 9 13-1 5 7zm-423-20l-2 2-7-3 7-2zm908-5l1 7-3 2-2-6zm163 2l6-3 7 7-2 2-9-1zm-446 2l-6 2-8 10-9-2 11-15zm-428-6l4 3-2 9-4-5zm-456-3l9 6 0 5-7 2-8 10-9-12 7-2zm643-4l5 3-4 5-3-5zm448-7l7-1 1 4-5 2zm246-2l4 0-2 3zm-205-7l3 5-5 3-1-6zm-36-16l7 0-2 2zm-1140-16l10 8-2 9 10 10 0 3-8 6-9-3-10 5-3-4 9-13zm1368-2l13-2 1 6-5 3zm-891-14l-3 14-2-12zm677-3l4 8-6-3z" fill="#1f77b4"  fill-rule="evenodd"/>
<path d="M189 904zm0-70zm0-115zm0-12zm2-8zm0-1zm-1-5zm1-6zm-1-16zm-1-43zm0-30zm0-4zm1-8zm0 0zm-1-6zm0-5zm2 0zm-2-3zm0-2zm2-1zm-1-6zm-1-6zm1-7zm0-3zm0-9zm-1-4zm0-1zm2-2zm-2-6zm1-2zm1-2zm0-7zm0 0zm-2-8zm0-2zm2-4zm-2-1zm0-5zm0-3zm0-8zm0-7zm1-5zm0-3zm-1-3zm0-2zm2-3zm0-5zm-1-3zm0-11zm1-4zm0-3zm0-7zm0-10zm-2-2zm1-8zm0-1zm0-1zm0-6zm0-8zm-1-6zm0-4zm0-1zm0-2zm0-6zm0-1zm1-7zm-1-1zm21-124zm3 4zm-2 1zm1 6zm0 2zm1 4zm-2 3zm-3 6zm-1 3zm-1 8zm-1 2zm2 7zm1 0zm2 5zm-9 1zm2 1zm6 2zm3 2zm-10 4zm2 2zm-2 6zm-2 2zm5 1zm-5 1zm-1 3zm4 2zm-4 5zm9 1zm7 1zm-18 3zm10 6zm-8 0zm-1 1zm15 4zm-5 1zm-12 1zm19 5zm-20 1zm19 3zm-20 1zm15 1zm1 3zm2 1zm-19 0zm12 3zm10 3zm-2 17zm-4 4zm-2 2zm8 1zm-1 4zm-3 1zm1 1zm-3 0zm2 4zm-19 2zm17 2zm1 2zm-18 2zm17 4zm0 2zm-16 2zm2 0zm14 1zm1 2zm1 4zm-1 3zm-17 0zm22 5zm-3 0zm-2 1zm-2 6zm7 2zm-14 1zm13 2zm-8 2zm3 1zm-6 1zm8 2zm-3 0zm5 2zm-5 3zm0 1zm-16 0zm13 5zm0 6zm-2 4zm4 3zm-7 4zm5 2zm0 1zm0 3zm-6 0zm14 1zm-9 6zm-3 5zm12 0zm-19 3zm8 2zm3 1zm4 1zm-16 0zm0 2zm12 0zm-2 1zm-2 0zm-1 1zm15 3zm-16 2zm-6 0zm7 4zm-3 0zm7 2zm-3 1zm-9 1zm6 2zm-2 2zm8 0zm-2 2zm-9 1zm17 2zm-11 2zm-5 3zm10 2zm0 0zm-7 0zm-1 4zm-2 2zm2 0zm0 1zm2 5zm4 0zm1 3zm2 2zm-11 2zm6 3zm-2 0zm-5 2zm6 2zm10 2zm-14 0zm6 4zm7 1zm-15 5zm1 3zm16 2zm-5 2zm-2 2zm11 2zm-15 2zm-5 0zm2 0zm11 1zm0 0zm-10 3zm17 0zm-16 0zm11 5zm3 7zm0 1zm-2 3zm-8 2zm-5 0zm2 0zm-7 7zm0 4zm12 18zm9 2zm-18 3zm5 5zm9 16zm-4 9zm-6 2zm3 1zm-6 2zm0 10zm0 13zm4 3zm-2 3zm3 4zm-3 2zm-1 10zm13 17zm-14 4zm-2 3zm0 4zm8 2zm0 9zm-5 1zm-3 2zm1 2zm17 2zm-12 27zm1 2zm-4 1zm-4 15zm2 61zm5 29zm-3 13zm41-21zm-1-5zm-2-8zm-5-3zm6-18zm-11-12zm2-4zm-3-1zm14-2zm0-9zm0 0zm-3-1zm0-1zm3-2zm0-3zm-2 0zm0-9zm-3-2zm6-8zm-6-1zm3-5zm1-1zm-1-6zm2 0zm-1-4zm-1-5zm1-1zm2-1zm-3-1zm-8 0zm7-3zm2-2zm-7-1zm3 0zm2-1zm-3 0zm5-4zm-4-1zm6-3zm0-1zm-3-6zm-1-1zm-14-3zm18 0zm-3-2zm-9-1zm6 0zm-4-1zm8 0zm-3-5zm2-4zm-3-1zm-2-1zm7-1zm-5 0zm3-4zm-15-3zm11 0zm5-1zm-4-2zm5-2zm1-1zm-21 0zm17-3zm-3 0zm-16 0zm20-2zm-16-2zm12-1zm-2-2zm1-6zm-12-1zm19-4zm-1 0zm-5-6zm2-2zm2 0zm-6-1zm9-6zm-11-3zm7 0zm-18-4zm19-1zm2-4zm-5 0zm2-1zm-2-5zm4-1zm-2-1zm4-1zm-9 0zm9-2zm-3-3zm2-2zm-8-4zm-1-2zm10 0zm-6-1zm4-6zm-8-3zm4-2zm6-4zm-5-5zm-3-2zm-7 0zm10-2zm2-3zm-2-3zm-6-2zm-7 0zm7-4zm9-2zm-8-1zm-11-1zm17-2zm-16 0zm9 0zm8-1zm-8-5zm-9-1zm6-3zm-6-2zm13-1zm-10-2zm2 0zm-7 0zm19-2zm-12-1zm0 0zm-7-5zm19 0zm-1-1zm-1-1zm-4-5zm0-3zm-5-1zm11-4zm-5 0zm-14 0zm8-5zm-9 0zm14 0zm-7-2zm14-1zm-1-3zm-3 0zm-4-1zm-5-3zm10-2zm-12-1zm11-2zm-3-4zm-7-4zm8-2zm6-3zm-3-1zm-10-1zm15-3zm-19-1zm13 0zm2-4zm-9-3zm-3-2zm-5-2zm16-1zm0-1zm-15-7zm14 0zm1-2zm-12-2zm-2-3zm10-2zm5 0zm-9-3zm-1-1zm6-5zm-1-3zm8-1zm-1-3zm1 0zm-15-2zm10 0zm-10-2zm15 0zm-18 0zm17-2zm-4-1zm0-1zm-16 0zm18-3zm-4-3zm8-1zm0-3zm-23-2zm9-3zm4-2zm9-4zm0-1zm-18-1zm9-3zm10-2zm-15-1zm10-2zm-1 0zm-12-1zm0 0zm4-4zm-1-6zm-5-2zm4-7zm10-2zm-10-1zm3-1zm1-3zm5-2zm-12 0zm-1 0zm11-2zm7 0zm-3-2zm-9 0zm-6-1zm3 0zm10-1zm5-1zm-2 0zm-9-2zm-8-2zm7 0zm-6-1zm13-1zm6-1zm-16-5zm17-8zm-16-1zm-2-8zm-4-11zm0-18zm4-4zm6-3zm-4-3zm-5 0zm-2-24zm13-36zm-6 0zm0-3zm8 0zm6 0zm-7 0zm-4-4zm2-1zm9 0zm-4-3zm-5-5zm-6-2zm-2-2zm8-2zm-5-3zm11-19zm-18-4zm21-4zm-4-1zm6 0zm-22-1zm18-2zm-17-2zm14-1zm-12-2zm0-4zm15-1zm-17-1zm4-2zm9 0zm-12-2zm10 0zm1 0zm-11-2zm2 0zm15-2zm-1-2zm-9-1zm-1 0zm7-1zm-3-3zm0-2zm-5-2zm17 26zm1 1zm-2 7zm4 1zm-4 3zm4 0zm0 5zm-3 0zm-1 2zm8 1zm4 4zm-9 1zm13 9zm4 0zm-8 0zm10 4zm-5 3zm5 1zm-8 2zm8 1zm-2 3zm0 51zm-1 4zm-6 28zm-7 4zm8 2zm-4 1zm11 11zm-7 2zm8 0zm-11 3zm-8 0zm14 2zm-6 2zm-6 2zm-4 3zm12 1zm6 2zm-13 1zm12 3zm-18 1zm13 0zm-10 11zm5 8zm6 3zm2 3zm-10 1zm7 3zm6 0zm-5 0zm-3 1zm11 4zm-8 0zm8 1zm-6 2zm-12 8zm6 1zm-8 1zm0 3zm7 2zm-2 1zm-3 3zm0 6zm1 6zm-4 1zm6 9zm-1 2zm13 1zm-17 4zm3 4zm1 2zm5 3zm1 2zm-8 0zm14 4zm-11 3zm-4 1zm2 6zm-5 1zm20 2zm-6 4zm4 4zm2 1zm-2 1zm3 1zm-6 1zm-2 3zm2 5zm3 0zm2 1zm2 0zm-12 6zm9 1zm-4 0zm-2 1zm-8 1zm12 3zm-3 1zm-7 0zm16 0zm-12 1zm10 2zm-4 0zm-4 3zm-6 1zm14 1zm-11 0zm-8 1zm0 1zm12 0zm-4 5zm-10 2zm3 1zm0 1zm9 5zm-8 0zm15 0zm2 4zm-5 1zm-11 7zm10 0zm-5 2zm10 1zm-4 1zm-11 4zm3 0zm-7 5zm10 5zm0 4zm2 2zm-9 1zm7 0zm12 1zm-17 2zm4 2zm13 1zm-10 0zm-2 1zm-8 0zm1 0zm9 0zm-6 1zm-5 4zm5 2zm7 0zm-13 7zm1 2zm-1 5zm10 7zm-6 1zm7 3zm-9 2zm19 1zm-11 1zm-6 1zm7 4zm-7 3zm-4 3zm14 0zm-7 0zm-2 0zm9 3zm1 2zm-4 1zm-6 1zm-2 1zm6 2zm3 2zm6 3zm-8 1zm-3 0zm10 1zm-8 0zm-5 2zm13 0zm2 1zm-10 2zm-3 0zm-5 0zm2 3zm-1 2zm13 1zm-12 0zm7 0zm-6 3zm-1 5zm0 0zm-3 2zm22 0zm-21 1zm14 3zm-7 1zm10 1zm-16 1zm-3 3zm21 4zm-20 1zm1 2zm17 6zm-15 0zm4 1zm-4 2zm5 0zm13 1zm-9 0zm-3 1zm6 0zm-3 5zm9 1zm-2 0zm-3 1zm-3 3zm-12 1zm1 0zm-2 0zm3 5zm18 0zm-18 0zm5 1zm7 0zm6 3zm-3 0zm-15 1zm5 1zm-5 0zm9 0zm-7 0zm6 2zm-8 0zm10 0zm8 5zm-9 2zm1 1zm3 1zm-8 2zm11 2zm-13 1zm8 2zm-12 0zm20 4zm-3 0zm0 2zm-17 1zm1 2zm13 2zm-16 2zm7 2zm14 0zm-18 4zm18 1zm-10 1zm4 2zm-16 3zm14 3zm-9 1zm5 1zm5 5zm-12 0zm13 2zm0 2zm-8 1zm-6 1zm-1 1zm21 0zm-13 0zm-2 1zm-7 0zm7 1zm5 6zm9 3zm-14 2zm7 1zm-3 0zm-5 3zm8 2zm-10 1zm13 2zm-3 1zm5 1zm-2 1zm-14 4zm-1 4zm17 2zm-17 2zm12 1zm0 7zm-2 0zm-9 4zm2 2zm8 0zm-6 2zm7 1zm-1 0zm-7 5zm9 0zm5 2zm-4 2zm-11 0zm15 9zm-17 0zm14 1zm-3 2zm-12 1zm12 2zm-8 2zm10 1zm-12 3zm10 4zm1 1zm-7 0zm6 1zm-5 0zm13 1zm-16 5zm-6 0zm6 7zm7 9zm5 7zm-1 1zm4 2zm-11 2zm35 4zm-7-7zm-14-13zm10 0zm-5-3zm12-8zm-1-2zm-10-2zm7-8zm6-1zm-7-3zm5-1zm-11-1zm7-2zm1-6zm-5-1zm-1-1zm11 0zm-13-3zm11-5zm5-6zm-14 0zm7 0zm-14-2zm2-2zm12 0zm0-2zm-6-1zm-3 0zm6-2zm5-2zm-7 0zm-4-4zm-5-5zm11-1zm6 0zm-16-2zm1-2zm18-2zm-2-5zm-13 0zm0-4zm1 0zm-6-3zm7-2zm1-2zm-4-4zm-2-2zm4-1zm15 0zm-4 0zm-18-1zm5-5zm-4-5zm17 0zm-9 0zm1-1zm8-2zm-10-1zm3-1zm-4-1zm2-2zm-6-3zm1-1zm-1-3zm2-2zm-1-2zm-3-2zm8 0zm-6-4zm4-1zm7 0zm-4 0zm11-2zm-21 0zm3-1zm5 0zm9 0zm3-1zm-9 0zm-5-3zm8-1zm-9-5zm5 0zm-9 0zm3-1zm6-3zm-5 0zm5-2zm7-1zm3-1zm-9-1zm0-1zm-3 0zm-4-1zm12 0zm-11-1zm-3-4zm14 0zm-9-1zm5 0zm2 0zm-13-1zm7-2zm9-1zm-9 0zm5 0zm-12-3zm14 0zm-4-1zm9-1zm-15-1zm6-1zm9-3zm-17 0zm15 0zm-10-2zm7 0zm-12 0zm12-2zm-6 0zm13-1zm1-3zm-18-1zm6-2zm8-1zm-2-2zm1-1zm-10-1zm5-1zm-2-3zm4 0zm6-2zm-14-1zm7-2zm-12-1zm21-1zm-6-1zm-13 0zm5 0zm-7 0zm21-1zm-14-3zm14 0zm-8 0zm1-1zm-9-3zm4-5zm7 0zm-7-3zm1-3zm4-5zm-12 0zm14-1zm1-4zm-13-2zm-6-3zm17 0zm4 0zm-20-5zm12-1zm4-3zm4-1zm-1-5zm-4-4zm-2-1zm-1 0zm-8-2zm5-2zm11-1zm-13 0zm8-1zm6 0zm-22-3zm20-1zm-6-1zm-6 0zm-1-1zm3-1zm10-6zm-11 0zm7-3zm0-1zm-2-2zm7-1zm-11 0zm8-3zm-5-3zm4-4zm-7-4zm-3 0zm13-1zm-7 0zm-7-2zm0-1zm15-2zm-21 0zm10-3zm3 0zm-13-1zm2-2zm9-1zm-5-4zm16-4zm-7-6zm-8-1zm10 0zm-16 0zm22-2zm-2-1zm-9-1zm-11 0zm16-1zm-14-1zm-1-1zm3-3zm15 0zm-10-1zm0 0zm13-6zm-10 0zm-7-1zm13-3zm-4-1zm-13-1zm12-1zm0-2zm-11-2zm20 0zm-20-1zm8-1zm-1-1zm-9-1zm8-2zm12-3zm-13-1zm-8-3zm8-1zm-3 0zm18-1zm-10-1zm-8-4zm0-1zm7-2zm-9 0zm4-1zm16-2zm-17-1zm14-3zm-20 0zm0-1zm7-1zm-2-1zm1-2zm-6 0zm4 0zm9-1zm-11-4zm-1-2zm9-1zm2-9zm-3-4zm-7-1zm12-3zm-13-1zm8-2zm7-1zm-6-4zm13-4zm-6 0zm-15-4zm11-1zm10-2zm-8 0zm-15-2zm9-1zm12-1zm-11-1zm8 0zm2-1zm-3 0zm-13 0zm14-2zm-5-2zm9-3zm-17 0zm4 0zm8-2zm1-13zm-1-6zm3-6zm-7 0zm10 0zm-17 0zm13-1zm1-6zm-11 0zm1 0zm3-42zm5-2zm-8-1zm7-4zm-6-1zm-3-2zm-1-2zm8 0zm0-3zm-10-2zm16-1zm-11-1zm9-2zm4-11zm-2-4zm1-7zm-2-5zm-20-5zm19-2zm-2-3zm-15-1zm5-2zm2-1zm5 0zm-11-4zm16 0zm-2-2zm-2-6zm0-2zm-3-4zm0-1zm-2-2zm-7-3zm8-1zm-1-8zm1-1zm0-3zm-7-2zm0-4zm-4-1zm5-1zm2-1zm0-1zm-3 0zm0-2zm4-1zm-4 0zm1-5zm41 72zm-1 2zm-5 8zm-16 6zm16 0zm5 1zm-1 3zm-1 6zm-6 1zm10 0zm-7 0zm-13 2zm4 1zm1 12zm5 2zm-7 0zm8 5zm-7 1zm3 1zm-7 16zm13 1zm4 2zm-7 3zm-13 0zm11 0zm11 1zm-8 1zm-12 0zm4 0zm8 1zm4 2zm-8 2zm-7 2zm8 0zm2 1zm4 0zm-6 4zm-8 2zm3 0zm11 1zm1 2zm-8 0zm-7 1zm-2 0zm18 1zm-15 0zm7 3zm7 1zm-9 1zm-4 1zm-5 1zm18 0zm1 4zm-17 3zm12 1zm-2 4zm7 1zm-15 2zm13 1zm-11 2zm6 1zm-9 0zm4 3zm0 4zm-6 3zm0 8zm18 7zm0 1zm-3 2zm-5 6zm2 1zm6 3zm3 1zm-13 7zm-3 1zm9 2zm-10 2zm6 2zm-8 6zm4 3zm-3 6zm17 5zm-14 2zm3 0zm8 0zm2 2zm3 1zm-9 1zm-9 0zm10 1zm-1 2zm-10 0zm4 2zm6 0zm-1 6zm-1 0zm-4 1zm8 1zm-2 1zm8 0zm-16 1zm14 1zm-16 2zm2 1zm17 1zm-7 0zm5 1zm-8 2zm6 0zm-12 2zm2 0zm-5 0zm12 1zm0 1zm-5 1zm-5 0zm15 1zm-21 1zm10 3zm-5 2zm16 1zm-4 1zm-12 1zm15 2zm0 4zm-16 2zm15 5zm-3 4zm-13 1zm9 2zm5 1zm-6 1zm0 1zm4 2zm-1 0zm-8 1zm3 1zm-3 1zm16 5zm-13 4zm5 4zm-3 1zm5 2zm1 1zm-9 1zm11 0zm-9 4zm-8 1zm6 1zm6 1zm-3 2zm-7 0zm-2 1zm1 2zm7 0zm-7 1zm11 1zm-10 1zm4 4zm10 0zm-16 0zm16 4zm-8 0zm-6 1zm3 1zm9 3zm-7 1zm-8 0zm4 3zm4 1zm6 1zm-14 1zm19 0zm-11 1zm-7 1zm5 1zm-3 1zm-3 5zm2 0zm5 1zm8 0zm-7 1zm-8 3zm6 2zm-6 2zm4 0zm16 3zm-3 3zm-4 1zm-6 4zm-4 1zm8 3zm9 1zm-8 3zm-8 2zm8 2zm2 2zm-2 2zm-5 1zm15 1zm-12 0zm-9 3zm1 1zm14 2zm-6 3zm9 3zm-17 2zm4 2zm-1 1zm-3 0zm-2 8zm8 0zm-2 0zm1 4zm14 0zm-11 2zm1 1zm6 9zm-9 1zm12 1zm-10 1zm4 4zm6 8zm2 2zm-5 2zm-7 1zm2 9zm-12 15zm18 13zm-17 3zm5 23zm-1 7zm10 7zm2 6zm-7 3zm-10 1zm11 3zm-2 4zm-8 1zm10 15zm32-3zm-16-31zm1-8zm2-7zm7-2zm-11-23zm-2-27zm20-5zm-17-14zm-2-3zm0-11zm-1-7zm1-4zm0-12zm2-6zm2-3zm-6-10zm7-1zm10-3zm-17-4zm11-2zm-6-11zm-1-9zm-1-19zm13-1zm5-4zm-2 0zm-1-4zm-16-1zm-1-9zm6-7zm10-20zm-15-1zm9-1zm9 0zm-17-3zm10-2zm-5 0zm-7 0zm1-3zm4-2zm15-3zm-12-2zm-4-1zm1-3zm10-7zm-9-1zm7 0zm-6-3zm-2-1zm-5-2zm3-1zm-1-3zm9-5zm-5-2zm-2-1zm-5-6zm3-1zm16-16zm-17-4zm6-9zm7-2zm-7-4zm3-5zm3-4zm-4-4zm7-4zm-3-2zm-11-1zm5 0zm-5-3zm18-2zm-21-1zm5 0zm2-1zm-7-1zm8 0zm6-2zm-3-2zm-7-1zm10 0zm-8-1zm1-2zm7-1zm-8-1zm-5 0zm3-4zm5-5zm9-2zm-10 0zm7-4zm3-1zm-11-1zm14-2zm-17-1zm-4-3zm20-1zm-15-6zm-3 0zm0 0zm-2 0zm9 0zm-5-1zm6 0zm13 0zm-17-1zm9-2zm3-3zm-16-2zm14-2zm1-3zm-16-1zm13-3zm-13-3zm10-2zm3-4zm9-1zm-3-4zm-10 0zm-1-3zm2-4zm10-5zm-9-1zm-1-4zm11-4zm-8-2zm9-1zm-6-3zm5-2zm-11-1zm10-5zm-9-1zm11-4zm-8-3zm3-3zm2-1zm-1 0zm-19-9zm17-2zm4-1zm-2-20zm0 0zm-2-1zm6 0zm-23-2zm12-3zm-12 0zm19-1zm-17-3zm-1-3zm-1-6zm0-3zm0-2zm2-1zm0-7zm0-6zm2-5zm0-1zm0-6zm5-8zm1-5zm2-1zm11-4zm-11 0zm2-1zm-2-3zm-4-1zm6-3zm-4 0zm1-2zm1-4zm1-9zm4-1zm-1-7zm2-3zm0-1zm3-6zm-2-1zm0-4zm3-8zm1-1zm-1-2zm5-9zm2 4zm-3 4zm1 0zm-2 8zm10 1zm4 5zm-14 0zm5 1zm6 2zm-1 0zm7 7zm0 2zm-3 4zm3 6zm-4 0zm6 3zm-3 0zm-5 3zm7 2zm-7 3zm8 1zm-10 3zm0 1zm-7 1zm15 0zm-5 4zm-5 0zm-5 4zm4 19zm-6 2zm8 0zm-1 6zm-5 1zm12 19zm-5 3zm7 1zm-1 3zm-14 4zm15 3zm-17 2zm23 0zm-11 0zm9 4zm-5 1zm7 13zm-1 4zm-22 7zm0 11zm19 2zm-5 2zm6 4zm-19 11zm1 8zm0 7zm10 5zm-12 1zm21 0zm-6 0zm-7 4zm10 1zm-3 1zm-4 2zm-11 0zm16 1zm-2 1zm-9 0zm-2 3zm8 1zm1 0zm8 1zm-7 3zm-13 0zm0 1zm13 1zm-4 0zm-5 1zm0 0zm5 5zm-9 2zm3 1zm6 0zm1 2zm-9 2zm17 2zm-15 0zm2 0zm18 1zm-12 0zm-9 2zm13 0zm0 2zm-2 2zm9 1zm-10 1zm-1 2zm12 0zm-4 2zm-5 0zm-13 6zm10 0zm1 0zm2 3zm-7 4zm-6 1zm13 0zm-4 1zm10 5zm-10 1zm3 4zm-5 0zm12 1zm-1 1zm0 3zm-7 1zm-8 0zm0 1zm17 1zm-14 1zm3 1zm9 1zm-16 0zm8 3zm6 2zm-7 2zm3 3zm-7 0zm-2 1zm-4 2zm11 0zm3 2zm1 1zm-11 0zm12 0zm-10 4zm-4 1zm18 1zm-7 1zm-1 1zm0 3zm0 6zm-6 6zm2 1zm-6 1zm20 5zm-14 0zm2 2zm0 2zm13 1zm-13 2zm-4 2zm8 2zm3 2zm-3 0zm0 3zm5 5zm-12 1zm11 0zm-7 1zm1 0zm5 1zm1 3zm3 3zm-20 0zm10 0zm-11 1zm0 3zm10 1zm0 6zm12 2zm-10 4zm-6 5zm7 3zm0 0zm7 3zm-2 4zm-3 0zm8 0zm-8 4zm-5 0zm4 4zm3 1zm4 0zm-3 1zm5 6zm-9 1zm-1 3zm8 1zm-9 0zm-1 2zm-10 1zm14 0zm-4 4zm2 5zm-11 0zm8 3zm-8 4zm15 1zm-6 1zm-2 3zm5 0zm7 3zm-6 1zm-1 1zm6 6zm1 0zm-18 2zm8 0zm9 1zm-5 1zm-3 1zm-2 4zm8 0zm5 0zm-12 1zm5 1zm-4 0zm-11 1zm22 0zm-11 3zm7 2zm-4 1zm-7 7zm4 1zm6 0zm-4 1zm5 1zm2 1zm-9 1zm-3 2zm-3 1zm5 1zm4 1zm-4 2zm-4 2zm8 0zm0 3zm4 5zm2 4zm-11 3zm9 2zm-4 1zm6 0zm-8 2zm10 0zm-7 1zm3 3zm1 3zm-3 1zm2 2zm-2 4zm-9 2zm6 0zm9 2zm-8 1zm-4 1zm3 2zm6 1zm-10 1zm-5 2zm17 1zm-4 0zm3 4zm-10 0zm4 2zm-7 1zm6 1zm-3 0zm8 2zm-11 3zm5 0zm10 3zm-11 3zm4 2zm-11 2zm18 0zm-11 1zm-2 0zm1 2zm4 1zm2 1zm-5 1zm2 5zm1 1zm-2 2zm8 1zm-15 1zm11 1zm6 1zm-13 1zm8 0zm0 2zm-6 2zm10 2zm-11 0zm3 1zm7 0zm-7 4zm9 1zm-4 0zm-7 0zm-1 3zm-3 9zm11 1zm2 1zm-9 0zm8 3zm-16 0zm10 1zm-4 0zm13 1zm-7 1zm0 3zm-9 2zm15 0zm-4 0zm-2 3zm3 2zm-6 2zm-2 4zm2 1zm-4 3zm10 1zm-3 2zm2 6zm-6 0zm8 3zm-12 1zm12 6zm-12 17zm2 6zm4 2zm-8 0zm12 4zm5 5zm-7 4zm7 2zm-6 14zm-1 5zm29 4zm-8-16zm-12 0zm14-2zm7-1zm-3-3zm-14-1zm0-1zm11-1zm-1-1zm8 0zm-7-3zm7-5zm-15 0zm1-2zm-6 0zm5-9zm-1-1zm5-11zm4-4zm-16-1zm2 0zm5 0zm11-1zm0-2zm-15-1zm6-5zm10-1zm3-2zm-8-4zm2-3zm0-4zm-4-1zm-3-1zm10 0zm0-3zm-3-1zm-9-2zm2 0zm-8 0zm19-1zm-3 0zm-12-4zm-2-2zm9-2zm-2-1zm7 0zm-2-1zm-1-5zm-1-2zm2 0zm4-2zm1-6zm-8 0zm6-2zm-18-1zm19-1zm-3-2zm-2-4zm-14-1zm19 0zm-5-1zm-3-3zm-3-1zm1 0zm-8-2zm20 0zm-13-1zm4-2zm-5-1zm15-1zm-5-1zm-17 0zm3 0zm14-1zm-8-2zm13-1zm-17-1zm9-2zm-14-1zm19-1zm3 0zm-18-2zm0-1zm5-1zm7-4zm-7 0zm2-2zm-5 0zm12-1zm0-2zm1-2zm-18-1zm12-2zm1-3zm5 0zm-3 0zm-12-1zm18-1zm-21-1zm8-1zm-2-1zm10-1zm-2-2zm-10-2zm0 0zm14 0zm-18-2zm20 0zm-3 0zm-13-1zm1 0zm-5-1zm2-2zm9-1zm7-1zm-9 0zm5 0zm6 0zm-18-1zm6-1zm-3-2zm1-2zm13-1zm-5 0zm-14 0zm6-3zm-5-1zm10 0zm-4-4zm-5-1zm2-1zm3-5zm-7 0zm4-2zm-1-2zm6-3zm3-1zm-8-1zm3-2zm9-2zm0-1zm-6 0zm-8-2zm16-1zm2 0zm-20-2zm7-3zm5 0zm-7-1zm16-1zm-22-1zm14 0zm7-5zm-3-4zm-7-3zm-9-2zm14 0zm-15-1zm7-3zm13-1zm-9 0zm8 0zm0-1zm-19-3zm10 0zm9-2zm-15 0zm-5-1zm14-1zm0-1zm0-4zm8-1zm0-4zm-3-3zm-2-18zm-4-2zm8-5zm-11-1zm7-1zm-17-5zm20 0zm-4 0zm7-3zm-8 0zm-13-3zm18-1zm-15-5zm-4-4zm4 0zm0-5zm6 0zm5-5zm5-4zm-12-2zm-7 0zm13 0zm-3-2zm-10-2zm6 0zm11 0zm-16-1zm16-1zm3-1zm-20 0zm11-1zm-6-4zm-2-1zm13-2zm-15 0zm10-1zm2-1zm-9 0zm-1-2zm8-4zm9 0zm-12-1zm-9 0zm7 0zm3 0zm5-1zm-11-9zm11-3zm2-3zm-15-1zm8-2zm7-1zm-3-15zm3-3zm-8-2zm4-3zm6-5zm1-4zm-15 0zm-6-1zm21 0zm-19-2zm8-2zm-8-2zm16-1zm-14 0zm17-2zm-17-5zm-4-1zm3-6zm1 0zm-3-3zm11-12zm6-1zm-14-1zm1 0zm-4 0zm16-1zm-5-4zm4 0zm-8 0zm-5-3zm9-3zm-5-1zm-5-1zm8-15zm-4-3zm10 0zm-10-4zm8-2zm-4-2zm1-25zm4-2zm-8-3zm14 0zm-7-3zm1-1zm4-3zm2-1zm-21-8zm6-16zm-3-2zm17-1zm-10-2zm-9 0zm16-4zm-13 0zm15-2zm-13 0zm0-4zm7-7zm-3-6zm7 0zm-5-1zm9-19zm-3 0zm-11 0zm-4-1zm6-4zm4-1zm9-1zm-17-1zm14-2zm-5-1zm0 0zm-5-6zm1 0zm8-1zm-5-3zm10-3zm-5-5zm5-1zm-2 0zm-2-2zm-7-3zm-2-4zm9-1zm-6 0zm5-2zm-10-5zm1-1zm13-1zm-7-2zm-11-2zm2-7zm-3-3zm-3-4zm24 16zm0 13zm3 6zm-1 6zm6 8zm-4 3zm-1 4zm6 3zm0 4zm-1 5zm0 1zm2 6zm-9 1zm8 2zm0 1zm-2 2zm2 2zm2 2zm1 3zm3 7zm1 3zm-16 6zm15 3zm5 2zm-18 0zm14 7zm-2 2zm-1 3zm3 1zm-4 1zm8 1zm-13 2zm-3 4zm3 1zm4 4zm-11 1zm6 1zm11 2zm-16 1zm8 1zm5 1zm-13 6zm21 1zm-6 1zm6 5zm-5 1zm-5 4zm-7 2zm7 3zm-4 2zm2 29zm13 2zm-7 1zm-1 1zm-9 4zm2 0zm-5 1zm20 1zm-4 0zm-8 2zm-8 4zm4 1zm7 0zm6 1zm-12 1zm13 3zm-11 1zm6 1zm4 1zm-3 4zm3 4zm0 3zm-13 0zm-4 3zm10 0zm-12 2zm8 3zm-2 2zm-1 0zm-2 1zm6 3zm-7 1zm0 1zm12 0zm-8 2zm-3 1zm9 2zm-7 1zm2 1zm12 0zm-11 2zm-4 2zm-2 3zm3 0zm7 1zm-8 18zm-5 6zm8 1zm-6 2zm21 0zm-6 5zm5 3zm-2 1zm3 3zm-8 3zm4 0zm0 2zm-19 5zm15 1zm3 6zm-16 0zm4 1zm4 2zm12 0zm-20 2zm2 1zm6 1zm5 0zm-1 0zm-1 1zm4 0zm4 0zm-3 1zm-12 2zm-6 2zm8 1zm4 3zm3 1zm-7 4zm5 2zm1 1zm6 1zm-15 0zm2 4zm5 0zm5 2zm3 0zm-1 2zm-10 2zm0 0zm-9 1zm13 0zm2 3zm-7 3zm-4 0zm7 0zm-2 4zm7 1zm-11 3zm5 1zm6 1zm-14 1zm1 4zm10 1zm-10 0zm6 3zm-3 0zm13 5zm-6 0zm10 1zm-14 3zm0 1zm-1 1zm-8 1zm16 1zm0 0zm-6 1zm9 1zm-6 1zm0 2zm9 0zm-18 0zm1 1zm-1 2zm3 0zm14 0zm-5 1zm-16 2zm5 4zm2 0zm6 0zm-9 0zm-3 1zm21 0zm-21 5zm12 1zm-1 1zm0 3zm-7 1zm-2 0zm20 1zm-20 2zm18 2zm-4 5zm-13 0zm8 4zm-10 1zm18 0zm-4 1zm-4 4zm8 1zm1 1zm-7 0zm8 1zm-20 7zm5 1zm16 2zm-4 1zm3 0zm-17 3zm9 1zm-13 0zm13 5zm6 1zm-3 5zm-6 1zm4 1zm-15 1zm5 1zm13 1zm-7 0zm-4 4zm-6 0zm15 1zm-10 0zm7 2zm5 1zm-17 1zm2 0zm10 1zm-7 1zm0 2zm1 0zm5 3zm-2 2zm-10 1zm2 1zm18 6zm-13 8zm-5 1zm1 2zm6 0zm6 2zm-15 1zm11 1zm-6 1zm-5 1zm12 3zm-6 0zm-5 0zm5 3zm-3 4zm3 1zm5 0zm-1 2zm6 1zm-16 0zm23 5zm-23 3zm2 1zm9 2zm-11 4zm5 5zm-5 0zm4 4zm-4 3zm9 5zm-9 7zm7 5zm-2 4zm-4 2zm5 7zm13 0zm-8 4zm-6 6zm-5 0zm20 3zm-10 8zm-2 1zm1 6zm-1 0zm9 1zm5 0zm-11 3zm-9 0zm17 3zm-12 4zm13 1zm-11 3zm-7 22zm10 1zm5 4zm6 0zm-15 8zm31-5zm-10-19zm6 0zm-8-14zm19-3zm-17-20zm14-5zm-19-7zm16-12zm0-2zm-15-4zm10-1zm1-12zm11-2zm-22-4zm5-4zm-3-3zm2-9zm15-2zm1 0zm-2-8zm-11-1zm12-7zm-7-2zm-7-4zm0-3zm15-8zm-18-2zm14-10zm1-1zm-9-5zm5-2zm-14-2zm9-2zm-2-1zm14-1zm-11-2zm-8-13zm8-2zm-3-4zm-7-1zm23-2zm-18-2zm13-4zm-6 0zm9 0zm-21-1zm0-3zm10-1zm10-2zm-2-2zm-5 0zm-11-6zm12 0zm-5-1zm8 0zm-10-1zm-7-1zm13-3zm-1-1zm1-2zm-7-6zm14-2zm-20-3zm19-1zm-6-3zm3-3zm-16-6zm1-1zm0-1zm0-2zm2-3zm7-2zm-6-1zm7-4zm2-1zm1-2zm-11-2zm18-1zm-17-4zm8-3zm-7-1zm12-1zm-7-6zm-1-1zm-2-6zm8-5zm-5 0zm-6-2zm10-2zm-8 0zm1-2zm8-1zm-11-2zm1-1zm1-4zm5-1zm11-2zm-13-5zm8-1zm-1-1zm2-3zm3-3zm-7-2zm0-5zm-8-3zm12-4zm-5-1zm7-1zm-10 0zm-10 0zm10 0zm13 0zm-18-2zm8-2zm9 0zm-7-1zm-13-3zm5 0zm-1 0zm4-2zm5-4zm5-1zm-19-2zm4-1zm12-1zm-7-2zm-10-2zm19 0zm-14-4zm12-3zm5-1zm-11-1zm-2 0zm7-1zm-14 0zm4-1zm4 0zm9-4zm-9 0zm-7-2zm6-11zm-5-1zm-2-3zm19-2zm-11-1zm-6-2zm8-4zm-3 0zm14-2zm-8 0zm7-1zm1-2zm-12-2zm1-2zm10 0zm-2-2zm-4-1zm-13 0zm-3-5zm8-1zm-1-5zm-4-4zm-1-1zm13-13zm-8 0zm-4-1zm16 0zm-13-1zm16-1zm-7-1zm-9-1zm1-3zm9-3zm-11-3zm15-3zm-8 0zm7-1zm-14-2zm10-1zm7-1zm-18-2zm7 0zm7-4zm-1-1zm1-1zm-10-2zm8-6zm-5-2zm6-1zm-9-3zm11-3zm0-2zm4-2zm-14-1zm6 0zm-3-1zm7-3zm-9 0zm8-4zm-7-1zm-4 0zm5-2zm3-5zm-8 0zm-1-2zm11-2zm1-5zm-13 0zm-4-3zm5 0zm10-2zm-12-2zm8-2zm-2 0zm-4 0zm7-6zm2-2zm-5-2zm7-7zm1-5zm-2-4zm-1-5zm-1-7zm2-4zm3-1zm-2-3zm4-1zm-3-2zm3-5zm-2-5zm0-5zm3-6zm1-2zm-1-4zm0-5zm1-5zm-1-7zm25-70zm-6 2zm3 1zm3 1zm-4 1zm4 3zm-5 1zm0 1zm-8 1zm10 2zm-8 2zm9 1zm-6 0zm5 2zm-5 1zm8 1zm0 4zm-1 2zm-8 0zm-5 2zm-2 5zm1 6zm-3 4zm16 3zm-7 1zm-9 1zm0 3zm14 1zm-15 3zm9 1zm9 2zm-1 0zm-10 1zm10 0zm-1 0zm-17 3zm12 3zm-15 0zm0 0zm10 1zm9 0zm1 0zm-18 24zm1 7zm12 11zm-3 3zm-2 2zm5 1zm3 1zm-3 0zm-15 1zm4 0zm0 1zm7 1zm-6 3zm-5 2zm16 32zm-5 1zm8 4zm-5 2zm9 17zm-4 4zm-5 21zm7 1zm-8 1zm4 5zm-5 1zm0 1zm8 1zm-4 5zm-15 25zm6 0zm7 4zm-4 2zm8 1zm-17 2zm1 0zm3 2zm4 2zm-9 1zm2 5zm13 1zm-15 2zm6 0zm0 4zm3 1zm-8 1zm-1 1zm21 15zm-14 0zm16 2zm-23 5zm18 1zm-12 3zm12 2zm-18 4zm10 1zm-1 2zm6 1zm1 1zm-8 4zm6 1zm-10 3zm-3 2zm9 12zm10 1zm-17 2zm6 0zm-2 1zm10 5zm-12 0zm17 5zm-15 0zm5 3zm-12 2zm2 2zm18 3zm2 5zm-10 3zm9 2zm-6 0zm-12 1zm7 3zm8 0zm-16 0zm0 1zm17 1zm-10 0zm-7 6zm16 1zm0 3zm0 5zm-5 0zm-2 4zm1 2zm-1 3zm4 1zm2 0zm-16 2zm4 3zm-3 8zm17 7zm-6 17zm0 4zm3 10zm-4 17zm-9 13zm19 16zm-10 6zm6 30zm-2 8zm-9 6zm11 7zm-6 6zm-2 20zm3 27zm-11 7zm-1 6zm12 24zm24 85zm7-12zm-6-11zm-3-6zm3-9zm8-3zm0-2zm-9-6zm-6 0zm13 0zm0-1zm-5-4zm-6-7zm8-1zm-7-2zm11-1zm-10-2zm10-2zm-2-1zm2-2zm0-1zm-3-4zm-11-6zm-4-4zm10-3zm7 0zm-8-1zm-3-6zm11-1zm-10-3zm-4-1zm14-4zm-16 0zm12-2zm-14-2zm6-1zm14-1zm-8 0zm5-4zm-14 0zm14-1zm0 0zm-17-1zm0-1zm5-2zm2-3zm-1 0zm12-4zm-12-5zm5 0zm-2-1zm-3-5zm2-1zm-7-2zm17 0zm-7 0zm-6-1zm4-6zm0 0zm9-2zm-2-1zm-1-1zm5-4zm-8-1zm-1 0zm10-2zm-8-1zm-11-1zm19-1zm-15-1zm-3 0zm3-1zm7 0zm-3-1zm-8-1zm19-1zm-12-1zm4-3zm6 0zm-13-6zm7-1zm2-1zm1 0zm3-3zm-20-1zm4 0zm18-1zm-16 0zm4 0zm7 0zm-15-1zm9-1zm5-1zm-14-1zm8-2zm-5-2zm11 0zm-5 0zm9-1zm0-2zm-18-1zm3 0zm5-2zm-5 0zm8 0zm5-2zm-12 0zm8-3zm-15 0zm17-1zm-5 0zm-1-1zm10-1zm-5-1zm-10 0zm16-1zm-5 0zm-9-1zm2-1zm-3-3zm-7 0zm13 0zm8 0zm0-1zm-9-2zm-6-1zm14-1zm1 0zm-6-1zm2-1zm-5-1zm-4-1zm7-2zm-3 0zm-8-1zm15-2zm-15 0zm4-1zm4 0zm4 0zm-11-1zm16-2zm-2-1zm-7-4zm-5 0zm6 0zm8-1zm-5 0zm2-1zm4-5zm-16-1zm2 0zm7-1zm-7-1zm-1-1zm8-4zm6 0zm-17-1zm0-3zm14 0zm4 0zm-14-4zm6 0zm9-1zm-3 0zm-2-2zm-10-3zm2 0zm10-2zm-5-1zm0-1zm3-3zm-5-1zm9-2zm-5-1zm-12-3zm12-1zm-9-1zm9-3zm1 0zm-3-5zm-6 0zm11-5zm-13-1zm-2-2zm-1-6zm5-5zm-5-2zm1-1zm12 0zm-5-2zm0-1zm0-1zm3-2zm-2-1zm0-1zm5-4zm-12-1zm10-2zm-2-1zm6 0zm-15-1zm7-2zm-7-2zm6-2zm-11-1zm13-1zm3-1zm-6 0zm9-2zm-14-2zm11 0zm7 0zm-9-1zm-9-1zm6-2zm10 0zm2-2zm-22 0zm17-1zm-9-1zm-9-4zm4-5zm1-2zm3-3zm1-3zm5-1zm-5 0zm7-4zm-7-4zm-3-2zm-1-2zm17-6zm-18 0zm12-1zm-14-2zm3-1zm8-1zm8-1zm-3-3zm-11-2zm-1-2zm17-4zm-21-2zm1 0zm11-1zm7-3zm-18-2zm16 0zm-15-5zm-2-5zm0 0zm16-1zm3-1zm2 0zm-19-1zm10-2zm-10 0zm11-1zm6-3zm-20 0zm18-6zm-4-2zm-6-2zm1 0zm12-2zm-21 0zm13-1zm-14-2zm14-1zm-7 0zm-3-1zm0-3zm18-2zm-14-2zm11-1zm-12-2zm-4-1zm12-1zm8 0zm-7-2zm-11-1zm-1 0zm3-2zm8-1zm-6-1zm-6-1zm14 0zm-15 0zm11-1zm-11-2zm19-1zm-13 0zm6-2zm3-3zm-11 0zm4-3zm-8-1zm11-1zm6-4zm-6 0zm-6-1zm0 0zm7-1zm5-1zm-6-2zm6-1zm-1-2zm1-3zm0-4zm2-4zm-8-11zm-7 0zm2-6zm5-1zm-8-12zm-1-4zm7 0zm-9-3zm7-3zm-5 0zm1 0zm2-6zm-7-1zm14-17zm-4 0zm10-3zm0-3zm-9-2zm7-1zm2-4zm1-3zm-6-1zm8-1zm-7-4zm5-3zm-2-26zm-4-1zm7-1zm-9-4zm2-2zm6-1zm2-1zm-11-10zm5-3zm-8-1zm9-2zm-2-2zm-11-1zm7-1zm3 0zm8-1zm0 0zm-11-3zm7-2zm-3-2zm-16-3zm2-1zm3-3zm17-3zm-18-2zm13-2zm6-2zm-11 0zm10 0zm0-3zm-21-1zm17-1zm-5-3zm9-3zm-4-1zm-1-6zm-2-5zm-8-8zm3-1zm-10-4zm1-5zm1-6zm5-1zm17 52zm17 4zm-6 0zm2 4zm-12 1zm10 1zm-1 1zm9 4zm-3 1zm0 7zm1 2zm-3 2zm7 1zm-3 3zm-8 1zm-7 2zm19 2zm-20 4zm21 3zm-16 1zm-5 3zm3 2zm18 0zm-15 3zm10 32zm-6 1zm-1 2zm8 3zm-17 1zm16 1zm-2 1zm-6 0zm5 22zm-3 4zm7 2zm-3 44zm-16 1zm2 1zm21 1zm-3 1zm-9 1zm7 2zm-15 1zm-3 1zm6 3zm7 1zm-13 5zm5 1zm1 0zm2 0zm-2 14zm-4 3zm4 4zm-5 3zm9 1zm0 3zm9 3zm0 1zm-13 1zm-2 1zm-3 0zm6 2zm-2 0zm12 0zm-7 2zm-8 1zm19 0zm-15 4zm-5 2zm12 5zm-4 4zm-9 1zm11 2zm-7 0zm11 1zm-7 1zm8 1zm1 2zm-8 0zm-1 1zm-4 4zm11 0zm-10 0zm0 2zm6 1zm4 0zm-2 0zm1 2zm-11 1zm6 0zm2 2zm9 1zm-15 1zm-5 3zm9 2zm-6 12zm2 1zm2 2zm-7 3zm5 2zm-5 5zm23 4zm-5 0zm-10 2zm-6 3zm14 0zm-6 1zm10 1zm3 0zm-3 4zm1 3zm-13 2zm7 3zm-13 1zm16 1zm-11 0zm16 2zm-10 3zm-9 0zm2 8zm-6 5zm11 0zm-6 1zm15 5zm1 14zm-1 3zm-8 1zm11 0zm-18 0zm-2 4zm12 0zm6 0zm-14 0zm6 2zm5 2zm-16 1zm1 1zm12 1zm-11 1zm-1 0zm4 1zm16 0zm-9 0zm9 5zm-1 4zm-2 4zm2 5zm-17 2zm-4 2zm20 3zm-11 3zm-1 3zm-9 1zm16 0zm-11 0zm-5 1zm15 3zm-12 3zm9 0zm-2 3zm6 2zm-9 4zm10 0zm-12 0zm0 0zm18 1zm-22 2zm17 2zm-10 0zm-1 1zm5 2zm-4 3zm4 0zm-3 1zm14 0zm-4 1zm-5 2zm7 0zm-21 0zm11 3zm0 1zm-1 2zm11 0zm-9 2zm11 1zm-16 1zm9 1zm-12 0zm-4 1zm20 0zm-6 0zm-8 1zm4 1zm-9 0zm7 1zm10 0zm1 1zm-6 1zm-3 2zm7 0zm3 2zm-3 1zm-15 1zm1 0zm13 1zm-14 0zm14 1zm-5 1zm-3 1zm1 0zm-8 3zm5 2zm15 0zm-5 0zm-8 2zm2 1zm-5 0zm14 1zm-16 0zm11 1zm0 2zm-10 0zm11 1zm-8 0zm13 1zm-20 2zm12 0zm3 1zm-11 2zm14 1zm-10 0zm7 1zm7 1zm-12 1zm-8 2zm16 0zm-4 2zm-8 0zm15 0zm-16 1zm-1 2zm13 0zm3 3zm-9 0zm5 0zm-16 0zm12 2zm-7 1zm1 0zm2 1zm11 3zm-2 0zm-15 0zm1 2zm8 1zm8 0zm-6 1zm-5 0zm6 2zm6 0zm-16 0zm5 0zm11 2zm-12 2zm9 0zm-1 3zm-7 0zm14 1zm-17 1zm16 5zm-10 2zm4 2zm-7 0zm-9 3zm14 0zm4 2zm-14 1zm6 0zm-10 0zm20 2zm-11 1zm-2 1zm15 1zm-9 1zm-12 1zm16 1zm0 3zm-3 0zm-5 0zm-7 1zm-1 2zm9 2zm1 4zm-2 0zm2 1zm12 3zm-5 5zm-14 0zm18 1zm-22 2zm21 0zm-7 0zm-7 3zm9 0zm-11 1zm5 1zm7 1zm-17 3zm23 0zm-3 1zm-17 1zm14 2zm-1 0zm7 3zm-5 1zm-9 4zm6 0zm7 2zm-12 3zm-4 1zm7 2zm6 0zm-18 1zm12 3zm-6 5zm1 3zm-2 1zm15 4zm-18 2zm13 5zm-1 1zm-10 1zm17 1zm-9 2zm5 2zm5 8zm-5 0zm-17 7zm2 1zm-2 0zm13 3zm-6 0zm-7 1zm17 7zm3 3zm-19 3zm19 3zm-18 3zm29-3zm15-4zm-5-1zm-16-1zm20-9zm-17-36zm15-2zm0-4zm-1-6zm-17-3zm1-3zm11 0zm1-1zm-15-4zm18-1zm3-8zm-17-2zm16-8zm-20-3zm7 0zm-1-5zm5-8zm-11-5zm7-6zm-4-5zm13 0zm2-8zm-16-1zm12-2zm-9-1zm7-4zm8-2zm-20-2zm2-1zm1-1zm0-2zm-2 0zm9-5zm-8-1zm1-4zm1-1zm18-2zm-5-1zm-16-11zm4-2zm-2-4zm-2-5zm0-8zm11-2zm-4-1zm-6-2zm-2-1zm1 0zm15 0zm-8-5zm-3-2zm5-3zm-6-1zm8-1zm-7-1zm3-2zm-5-2zm1-1zm12-3zm-9-1zm3-3zm4 0zm-7-1zm13-2zm-7 0zm7-1zm-16-2zm8-4zm-4-2zm4-2zm6-1zm-12-2zm3-2zm10-4zm-5 0zm4-4zm-1-6zm-16-2zm1 0zm2-1zm14-1zm-10-1zm3-3zm-8-2zm2-2zm1-2zm-6-1zm23 0zm-19-2zm16-2zm-15-4zm7-1zm-3-1zm9-1zm-15-3zm-1-2zm21 0zm-17-1zm14 0zm-8 0zm5-3zm-12-1zm14 0zm-6-1zm-5 0zm14 0zm-17-2zm10-1zm5-1zm-12-1zm-3-2zm4-1zm9-2zm-14-1zm17-1zm1-1zm-17 0zm15-1zm-4-1zm-16-1zm8 0zm6-2zm5 0zm0-4zm-13-1zm17-1zm-10-2zm2 0zm-10-1zm17-2zm-15 0zm-2 0zm-5-2zm7-2zm-6 0zm9-1zm-10-1zm0 0zm17 0zm-9 0zm6-1zm-4-3zm-10-1zm2-4zm4-3zm-4-4zm-1-5zm10-3zm-6-1zm9-1zm2-1zm-9-2zm14-2zm-21 0zm9 0zm-7-1zm5-1zm7 0zm-10-4zm7 0zm-5-5zm3-5zm9-14zm-1-6zm-13-5zm3-3zm4-2zm-11 0zm23 0zm-7-1zm6-2zm-7-1zm-10-1zm4 0zm-1-3zm8-1zm4 0zm-2-1zm-13-1zm9 0zm0-2zm3-3zm-8-1zm1-4zm10 0zm2-1zm-5-2zm-2-3zm-8-1zm10-1zm-14 0zm-2 0zm21 0zm-11-3zm7-1zm-10 0zm-2-4zm-1 0zm-5-3zm3 0zm9-1zm-6-2zm14-1zm-8-2zm-1-3zm10 0zm-17 0zm14-7zm-6-2zm2-2zm8 0zm-7-2zm-9 0zm11-2zm-6-5zm-7-1zm18-7zm-17-4zm0-8zm18-9zm0-3zm-5-26zm-5 0zm0-4zm7 0zm-6-7zm4-1zm-13-1zm6-5zm1-1zm-1-3zm12 0zm-7 0zm7-2zm-1-4zm-11 0zm0-2zm-1-2zm-1-7zm1-5zm-2-10zm-5-6zm-2-5zm2-5zm-1-3zm-2-17zm47-22zm-2 0zm0 16zm-2 2zm4 0zm-4 3zm-2 5zm-3 7zm1 2zm2 2zm-2 0zm0 2zm0 2zm-2 3zm8 0zm-5 2zm4 1zm-7 5zm6 1zm-6 1zm-1 1zm2 3zm-3 5zm-1 5zm1 3zm-6 3zm4 2zm-1 1zm3 0zm-4 7zm3 0zm-3 2zm-5 7zm1 2zm-2 2zm22 12zm-19 5zm5 3zm-8 2zm6 3zm-1 15zm0 0zm0 2zm-6 5zm20 6zm1 2zm2 3zm-1 1zm-4 0zm-1 3zm-16 1zm3 0zm3 2zm10 2zm6 1zm-7 2zm-10 0zm-4 1zm18 2zm1 2zm-16 1zm6 1zm6 3zm0 1zm-13 1zm7 0zm-6 2zm13 2zm-9 1zm4 1zm-11 0zm18 3zm-15 2zm14 0zm-2 1zm-7 1zm-6 0zm-4 5zm15 1zm0 1zm6 3zm-9 2zm6 3zm-5 3zm5 0zm-17 1zm22 3zm-3 2zm-19 1zm0 4zm16 4zm2 5zm4 4zm-4 4zm-14 2zm9 0zm1 2zm-8 1zm-7 2zm3 1zm10 0zm-4 0zm8 5zm-14 1zm11 1zm-2 3zm7 1zm-19 0zm9 1zm-4 0zm-1 0zm-4 1zm11 0zm3 3zm-7 4zm-7 0zm7 2zm-4 1zm-2 1zm9 0zm-1 2zm-2 2zm9 0zm-10 0zm-4 3zm0 3zm17 1zm-12 1zm-3 0zm7 0zm-2 1zm7 1zm-13 1zm17 0zm-12 4zm6 4zm-2 4zm10 4zm-11 1zm2 4zm-3 3zm9 0zm-12 0zm8 2zm1 4zm-8 3zm-6 1zm0 5zm6 3zm-4 3zm-1 0zm12 0zm-1 2zm-8 1zm3 4zm11 1zm-18 1zm0 0zm12 4zm-14 3zm2 3zm-2 7zm20 2zm-9 6zm0 4zm2 4zm-9 2zm-4 3zm11 2zm7 11zm-4 4zm0 2zm-11 2zm7 2zm-7 1zm-2 5zm3 1zm3 0zm3 1zm13 3zm-19 1zm-1 1zm18 1zm-20 9zm5 8zm-2 6zm11 5zm-4 4zm-8 4zm8 4zm-10 6zm11 2zm-11 3zm17 4zm-3 1zm8 0zm-22 9zm4 13zm-1 3zm9 1zm-10 2zm8 14zm2 3zm-12 23zm12 3zm-3 1zm-8 2zm0 2zm7 2zm8 4zm-8 2zm-4 6zm-1 21zm1 12zm-2 54zm42-7zm-2-7zm4-5zm-3-12zm-1-3zm-3-2zm5-5zm-2-44zm1-2zm-15-4zm-4-23zm3-21zm18-4zm-1-10zm2-6zm0-3zm0-10zm0-7zm-16-2zm4-3zm10-3zm-4 0zm0-1zm1-3zm5-6zm0-2zm-1-2zm-2-10zm3-5zm0-1zm-15-6zm13-11zm-2-2zm1-8zm-3-5zm1-8zm0 0zm2-1zm1-2zm1-2zm1-2zm-1-7zm1 0zm-2-11zm2-2zm-12-3zm11-3zm-1-1zm0-3zm-12-1zm14-8zm-15-6zm15-9zm-6-3zm-11-6zm16-1zm-9-2zm10-1zm-1 0zm-21-2zm21-1zm1-2zm-3-2zm-13-1zm2 0zm1-5zm10-2zm2-3zm0-1zm-15-6zm-1-6zm16-2zm-15-3zm12-7zm2-2zm-4-3zm-12 0zm-4-1zm9 0zm9-1zm4-1zm-4-1zm-16 0zm-2-1zm13-4zm7-1zm-4-2zm4-4zm-10 0zm-10 0zm12-3zm-13-3zm9-3zm9-6zm-1 0zm5-2zm0 0zm-1 0zm-18-5zm20-5zm-22-1zm-1-1zm19-5zm4 0zm-12-6zm3 0zm9-2zm-14-1zm-1 0zm2 0zm-4-1zm15-1zm2-2zm-2-1zm-1-3zm-15-5zm1-1zm12 0zm-13-1zm6-5zm2-3zm6 0zm4-1zm-2-5zm1-1zm-1-2zm2-5zm-15-2zm-7-2zm5 0zm-4-1zm14-1zm-12-2zm4-1zm-7-1zm8 0zm2 0zm-2-7zm4-6zm-10-5zm7 0zm-9-1zm5-4zm5-1zm-5-1zm-3-5zm19 0zm-11-2zm-8-1zm15-2zm-6-1zm7-1zm0-1zm0 0zm-5-4zm-9-2zm15-4zm-7 0zm-8-1zm5-2zm-10-4zm14-2zm-1-4zm-13 0zm13-3zm-10 0zm-3-2zm0-5zm8 0zm-7-43zm1-6zm0-6zm18-10zm-2-2zm1-5zm-19-11zm0-3zm0-2zm7-7zm-2-2zm-5-1zm8-3zm-5-1zm11 0zm-13-3zm4-3zm-1-7zm4-4zm0-7zm0-5zm4-4zm3-4zm-8 0zm8-5zm1-4zm6-1zm-6-4zm-1 0zm8-1zm0-4zm-4-8zm1 0zm2-2zm1-2zm5 11zm-3 0zm0 0zm7 4zm-5 6zm8 2zm-7 3zm-3 2zm8 2zm1 3zm5 4zm0 1zm-1 5zm0 0zm-3 1zm8 2zm-3 3zm2 5zm4 7zm0 16zm-1 0zm1 7zm-22 11zm4 5zm-1 5zm0 60zm7 1zm-6 4zm4 9zm14 0zm-11 2zm11 1zm-9 0zm-10 1zm19 1zm-14 3zm7 0zm-14 3zm4 2zm5 2zm-8 7zm17 28zm-5 5zm8 0zm-5 6zm4 1zm2 0zm-7 3zm1 3zm6 2zm-14 1zm-2 2zm7 1zm-13 4zm6 2zm4 1zm-6 1zm-5 10zm1 3zm11 2zm-5 1zm9 4zm-8 0zm-1 1zm1 0zm14 6zm-17 6zm-4 0zm-1 2zm1 2zm0 2zm9 1zm-5 1zm-3 12zm2 6zm19 1zm-22 5zm1 10zm11 4zm-4 0zm5 2zm-5 0zm4 0zm-11 0zm6 2zm7 0zm-9 9zm-6 2zm1 1zm1 0zm0 3zm7 2zm-4 1zm12 1zm-4 0zm5 1zm1 2zm-18 0zm8 0zm-4 3zm7 2zm-8 5zm6 2zm-7 1zm-2 3zm-1 4zm2 0zm6 9zm-1 1zm-7 1zm1 1zm6 1zm9 1zm-7 2zm5 0zm9 0zm-21 1zm21 2zm-15 0zm4 0zm-10 0zm16 1zm-7 3zm-6 0zm17 1zm-19 0zm11 2zm5 1zm-16 1zm5 1zm14 4zm-19 1zm-1 4zm19 5zm-13 1zm-7 1zm1 0zm15 1zm5 6zm-15 7zm7 4zm-14 0zm6 3zm17 1zm-11 0zm-6 2zm13 1zm-9 2zm-1 1zm2 1zm6 0zm-12 3zm16 1zm0 1zm-10 0zm3 4zm-6 1zm-1 1zm14 0zm-9 1zm-5 1zm2 2zm6 1zm-5 3zm13 1zm-17 0zm17 0zm-12 1zm-4 2zm-5 0zm9 2zm-7 0zm-3 2zm9 0zm7 2zm2 1zm-16 1zm0 0zm15 1zm5 0zm-14 0zm-2 1zm11 1zm-7 2zm6 0zm-12 0zm4 1zm9 1zm-6 1zm9 0zm-15 0zm-3 1zm-2 2zm15 0zm6 1zm-21 2zm7 1zm1 2zm2 0zm9 0zm-7 1zm0 2zm-1 1zm-2 1zm7 0zm-15 3zm3 0zm13 0zm4 3zm-3 0zm-7 1zm4 2zm-13 2zm20 1zm-16 0zm-3 0zm9 2zm-6 0zm15 0zm-3 2zm2 0zm-21 1zm14 1zm-9 1zm2 0zm11 1zm4 1zm-20 2zm12 0zm-11 0zm7 0zm4 0zm7 1zm-16 0zm15 3zm0 1zm-13 0zm14 1zm-12 2zm4 0zm9 1zm-13 0zm7 0zm6 0zm-13 1zm1 3zm5 0zm-11 1zm-1 1zm-3 3zm10 1zm3 1zm-1 1zm11 1zm-18 1zm-1 1zm6 0zm9 1zm2 1zm-12 4zm-2 0zm13 1zm-18 2zm3 0zm8 2zm-1 1zm0 1zm-6 1zm9 4zm-6 3zm13 3zm-13 0zm-8 3zm20 0zm0 1zm-13 1zm1 0zm13 2zm-8 0zm7 0zm-16 2zm5 0zm-1 1zm12 0zm0 1zm-6 2zm-14 0zm8 1zm0 1zm9 2zm-1 1zm-14 0zm8 1zm9 1zm2 2zm-7 4zm-11 1zm19 3zm-9 0zm-12 0zm7 0zm-4 2zm18 1zm-4 2zm1 1zm-8 1zm-3 3zm10 2zm-5 1zm-9 0zm-2 1zm-2 2zm3 3zm10 1zm2 2zm-5 1zm-2 1zm-1 2zm12 1zm-16 1zm11 1zm5 1zm-19 1zm5 3zm0 2zm-1 3zm11 0zm3 1zm2 1zm-11 5zm-2 2zm-1 0zm11 3zm-9 2zm8 2zm-16 4zm22 10zm-23 3zm1 4zm20 1zm-9 6zm-8 1zm16 1zm-8 0zm7 2zm-10 0zm10 1zm-2 19zm2 4zm4 0zm12-5zm-7-5zm6-1zm-1-6zm1 0zm8-3zm-10-5zm15 0zm-4-10zm-15-6zm5-5zm9-1zm-10-2zm-6-2zm13 0zm8-1zm-23 0zm0-2zm6-6zm3-2zm11 0zm-10-1zm-9-1zm22-1zm-1-2zm-20-4zm-1-2zm14 0zm-2-7zm-13-1zm5-1zm0-3zm12-2zm-1-1zm-11-1zm-5-3zm0-3zm8 0zm13 0zm-5-1zm-15-1zm1-3zm14-1zm2-1zm-6-1zm2-1zm-2-1zm-7-1zm0-1zm0-1zm9-1zm-2 0zm-11-1zm21 0zm-14-3zm2-2zm6-1zm0 0zm-14-2zm6-4zm-4 0zm-4 0zm18 0zm-14-3zm13-2zm-1-4zm-12-2zm2 0zm0-1zm6-1zm1-1zm-2-1zm3-2zm-6-1zm-1-1zm-6-2zm16 0zm4-2zm-18 0zm6-1zm6 0zm-13-1zm17-2zm-19 0zm22-1zm-7 0zm8-2zm-13-1zm-9-1zm6-1zm3-2zm4-2zm4 0zm-17-1zm3 0zm7-1zm-8-4zm1 0zm10-1zm-1-1zm0-4zm-3 0zm-4-1zm4-1zm4-1zm-13 0zm14 0zm-4-1zm-11-1zm0-1zm19-2zm-16-1zm19 0zm-9-2zm6 0zm2 0zm-13-1zm-4-1zm9-1zm1-1zm-13-1zm15-2zm0-1zm-12-1zm8-5zm-9-1zm13 0zm-7-2zm-7-2zm19-1zm-1-4zm-16 0zm2-3zm9 0zm0-2zm1-3zm-7 0zm9-1zm3-2zm-1 0zm-13-1zm12 0zm-8-1zm-6 0zm16-1zm-7-2zm1 0zm-3-1zm7 0zm-1-4zm-1-1zm-2-2zm5 0zm-10-1zm-3-2zm15-2zm-7-1zm7 0zm-7-1zm-13 0zm-2-1zm11-1zm11 0zm-14-1zm11-2zm1-1zm-6-1zm-9 0zm5 0zm13-2zm-18-2zm8 0zm-10-1zm0-2zm3 0zm13-1zm-1-1zm-6-1zm10-4zm-13-3zm-7-2zm20-1zm-21 0zm9-3zm-6-1zm12 0zm-6-1zm9-1zm-13 0zm-3-1zm14-1zm6-1zm-18-1zm0-2zm9 0zm-4-6zm-9-7zm0-8zm18-6zm-3 0zm-9-1zm12-1zm-19 0zm22-2zm-11-1zm-5-1zm-3 0zm19 0zm-20-2zm-1-2zm12-1zm-7 0zm17 0zm-18-1zm13-1zm-9 0zm2-2zm-3 0zm6 0zm5-1zm0-3zm-2-1zm-9 0zm0-1zm-4 0zm8-1zm-6-2zm12 0zm4-1zm-7 0zm1-1zm-9-3zm6-3zm3-1zm-10-2zm6-7zm2-1zm1-4zm2-1zm1-5zm5 0zm0-2zm-21-1zm-2-5zm22-13zm-5-4zm-1-3zm-6-2zm-3-3zm9-1zm-2-4zm-9 0zm0-1zm8-1zm-1-1zm-10-2zm3 0zm6-2zm-2-2zm0-2zm-5-3zm-3-2zm7-1zm-6-3zm8-1zm9-1zm-13-3zm9 0zm-3-3zm-1-2zm7-1zm-13-1zm-5-4zm18 0zm4 0zm-15 0zm10-1zm-5 0zm-7-1zm-5-2zm6 0zm0-1zm0-1zm-4-6zm5-17zm6-1zm-11-4zm11-1zm-6-1zm12-9zm-4-3zm-3-1zm7-5zm-10-3zm3 0zm4-1zm-6-21zm-1-2zm8-1zm-2-1zm-7-1zm6-2zm8 0zm-16-15zm-6-1zm0-4zm5-1zm-1-3zm1-2zm1-3zm-6-3zm21-9zm-5-3zm6-4zm-10-2zm5-3zm-7 0zm11-3zm-10-2zm5-3zm6-31zm-1-3zm1-4zm0-2zm-2-2zm-2-4zm0-2zm2-4zm-6-5zm4-2zm0 0zm-15-5zm13-1zm0-1zm-2 0zm-11-3zm6-1zm-4-2zm0-3zm1-3zm3-2zm1-1zm0-1zm-6-3zm2-2zm18 59zm3 7zm0 5zm-2 1zm2 3zm1 7zm-1 4zm0 2zm3 5zm13 3zm-11 0zm-2 2zm1 2zm8 2zm-3 0zm-3 3zm12 1zm-1 2zm-8 2zm5 0zm-6 2zm-2 0zm10 0zm-3 5zm4 0zm-3 0zm-11 1zm17 1zm0 1zm-6 0zm-6 2zm7 1zm1 3zm1 3zm-20 24zm22 15zm-7 3zm5 4zm2 1zm0 3zm-4 3zm-17 1zm16 2zm-14 1zm-2 5zm19 1zm-8 3zm3 1zm-11 0zm2 4zm7 1zm6 0zm-5 1zm-4 1zm6 2zm-9 2zm6 3zm-1 1zm-4 1zm4 0zm2 3zm-8 1zm0 2zm9 2zm-4 3zm-5 1zm-6 3zm7 3zm14 0zm-17 3zm-3 2zm9 0zm-4 3zm17 0zm-21 2zm12 1zm3 1zm-3 1zm-4 0zm-8 3zm18 0zm-20 2zm16 1zm-2 4zm6 3zm-9 4zm8 1zm3 1zm-5 10zm4 3zm0 4zm-9 1zm-12 1zm18 1zm-8 5zm6 3zm3 1zm-9 2zm1 4zm7 1zm4 1zm-13 5zm4 1zm2 1zm-11 1zm5 3zm-2 2zm11 0zm-18 1zm19 0zm-7 1zm9 0zm-4 6zm2 2zm0 2zm-2 3zm-2 1zm-5 3zm1 0zm8 1zm-2 2zm0 3zm-3 2zm4 0zm-9 0zm5 1zm-11 1zm13 1zm-8 2zm13 2zm-17 0zm7 0zm-6 1zm11 1zm0 0zm-4 1zm-3 0zm-8 0zm20 1zm2 0zm-18 4zm-3 0zm17 2zm-2 0zm-13 0zm2 1zm10 4zm-15 3zm15 0zm-2 4zm-1 2zm-6 2zm6 0zm0 1zm10 2zm-12 0zm-6 1zm-5 2zm8 0zm5 1zm-3 3zm5 4zm-8 1zm7 1zm6 1zm-11 0zm-6 2zm7 1zm0 3zm-2 1zm3 1zm0 0zm2 2zm-8 2zm2 2zm12 1zm-13 1zm2 2zm9 1zm-16 1zm8 3zm10 0zm-13 0zm7 0zm-12 2zm1 0zm-2 3zm7 3zm16 1zm-6 1zm-14 1zm0 3zm17 3zm-19 2zm7 1zm-7 3zm1 4zm1 3zm3 4zm-4 4zm-1 5zm5 2zm5 1zm-8 2zm-1 3zm3 4zm-2 1zm6 8zm-5 5zm6 1zm-2 16zm8 0zm5 3zm-14 13zm15 6zm-14 4zm-3 2zm5 3zm-5 1zm3 5zm5 5zm3 7zm-15 4zm8 6zm-5 8zm12 12zm-15 28zm8 1zm1 6zm10 9zm3 1zm-23 12zm1 5zm2 1zm19 21zm23-15zm-17-9zm-3-5zm7-1zm-1-49zm-2-4zm-2-7zm16-2zm-8-11zm-1-1zm13-8zm-16-7zm-7-7zm4-7zm-2-6zm-1-2zm0-1zm5-4zm2-3zm6-9zm-11-10zm5-2zm4 0zm-6-2zm-4-24zm16-2zm1-2zm-12-2zm-3-1zm8-6zm-2-1zm-3-10zm-4-1zm6-12zm-9-9zm0-6zm17-4zm-10-9zm-4-3zm5-2zm5-16zm-7-1zm-4-11zm3-3zm2-8zm9-1zm-5-3zm-10-3zm18-3zm-19-2zm1-1zm17-5zm-14-2zm3 0zm3-1zm-1-1zm-8-1zm13-1zm-13-3zm17 0zm-3-1zm-7-1zm2-5zm-5 0zm13-1zm-15-1zm5-3zm2 0zm-1-4zm-3 0zm-1-1zm5-1zm-9-1zm5-4zm-4-1zm17-2zm4-9zm-23-2zm2 0zm3-1zm10 0zm-5-6zm0-2zm-7 0zm-2-5zm1-5zm6-1zm-4-1zm7-1zm1 0zm4-4zm-15-1zm5-1zm13 0zm-11-1zm-2-4zm-3-1zm2 0zm5-4zm-1-7zm4-2zm-11-3zm14-1zm-9 0zm13-1zm-8-1zm-8 0zm16-2zm-4-4zm-4-1zm-6 0zm14-1zm-17 0zm5-4zm-2-1zm9 0zm0-1zm-10-1zm3 0zm-3-1zm-5-1zm20-4zm-8-1zm-6-1zm4-3zm1-1zm-1-7zm2-7zm0-6zm4-2zm-16 0zm23-2zm-22 0zm10-1zm8-2zm-8 0zm-7-2zm-3 0zm11-1zm0-1zm3 0zm-12-1zm9-1zm8-2zm-17-1zm19-2zm-14 0zm7-1zm-4-1zm-7 0zm1-2zm-3-1zm9-2zm12 0zm0-4zm-11-1zm-1-3zm10-3zm-8-3zm10-2zm-12-2zm0-3zm11-2zm-10-5zm9-2zm-5 0zm-6-1zm-7-4zm0 0zm9-2zm6-1zm-15-3zm-2-2zm2-4zm4-4zm9-1zm-16-1zm1-2zm6-1zm14-1zm-9 0zm-5-1zm-1-4zm14-1zm-5-1zm-2 0zm-7-1zm7-1zm6-1zm-8-3zm6-1zm4-2zm-21-1zm17-2zm-16-1zm21-2zm-20-2zm13 0zm6-3zm-16-3zm-1-1zm1-2zm3-5zm1-3zm-1-2zm-1-3zm11-5zm-11-1zm4-1zm-5 0zm7-3zm-6 0zm10-2zm2 0zm1-1zm-10-1zm4-2zm-4-1zm13-1zm-7 0zm7-1zm-14-1zm9-1zm-6-2zm11-3zm-16-1zm4-8zm0-5zm1-7zm7-6zm0 0zm-3-5zm7-1zm-3-2zm1-2zm1-3zm-1-13zm1-8zm0-2zm1-6zm18-38zm-3 4zm-2 7zm4 1zm4 1zm-12 0zm13 1zm-15 5zm13 4zm4 1zm-17 2zm-3 6zm1 1zm11 14zm-4 2zm-11 4zm18 0zm-7 0zm0 1zm7 0zm-7 1zm6 5zm-17 0zm0 10zm5 3zm-4 7zm3 32zm1 7zm11 5zm-5 3zm7 1zm-14 2zm10 1zm-5 4zm-8 1zm7 5zm-3 1zm14 1zm-1 0zm-6 3zm9 3zm-10 0zm8 2zm-6 3zm1 2zm4 6zm-7 0zm11 32zm0 7zm-9 34zm7 0zm3 1zm-9 5zm3 2zm-10 0zm12 0zm-6 4zm-10 2zm6 1zm2 5zm-4 5zm9 1zm0 1zm1 0zm3 3zm-4 2zm-1 2zm5 4zm-4 2zm7 1zm-6 2zm1 0zm-13 0zm17 0zm-10 3zm-4 3zm10 1zm-2 1zm1 1zm-1 1zm-11 0zm-3 2zm14 2zm-12 1zm17 1zm-3 0zm-1 1zm-9 1zm6 1zm5 5zm-1 1zm2 1zm-1 1zm-4 3zm-10 1zm17 0zm-2 1zm-2 3zm-18 0zm17 0zm3 5zm-5 1zm-14 1zm14 1zm4 1zm-3 1zm4 1zm-1 5zm4 0zm-15 4zm10 1zm-15 1zm12 2zm-10 2zm0 1zm11 1zm1 3zm0 3zm1 2zm-18 2zm20 1zm-8 2zm-6 3zm8 0zm-2 2zm3 3zm-5 4zm2 2zm-12 3zm15 0zm0 6zm2 4zm4 5zm-9 0zm9 2zm-17 1zm14 1zm1 3zm-5 5zm-8 1zm5 1zm-11 3zm4 1zm4 1zm-8 3zm1 1zm12 0zm-9 7zm10 1zm-2 2zm4 1zm3 5zm-13 3zm16 0zm-2 1zm0 2zm-6 0zm4 2zm-2 1zm-10 2zm17 1zm-19 0zm0 2zm18 0zm-1 1zm-4 5zm-6 4zm2 4zm3 8zm-2 1zm5 0zm-9 2zm-7 4zm16 0zm-3 5zm-1 0zm5 2zm1 1zm0 3zm-2 0zm3 0zm-7 3zm2 5zm-1 2zm-5 1zm7 1zm3 2zm-5 2zm2 2zm2 1zm2 3zm-1 0zm-5 3zm-2 1zm8 1zm0 1zm0 2zm-3 1zm2 5zm2 4zm-1 7zm1 2zm-8 1zm7 0zm-3 4zm2 2zm-1 1zm-6 4zm8 0zm-1 3zm-3 1zm-2 4zm5 2zm-6 1zm4 4zm3 2zm-1 1zm-4 1zm-16 1zm18 5zm-1 0zm-1 1zm-1 2zm2 3zm5 6zm-8 1zm3 4zm0 2zm-2 2zm-12 2zm-4 3zm22 3zm1 0zm-7 2zm7 1zm-6 0zm6 4zm-9 0zm-1 2zm4 1zm3 3zm-19 2zm16 4zm-2 3zm1 3zm6 0zm1 2zm-7 9zm4 1zm-3 1zm-1 12zm7 31zm-5 5zm1 9zm-7 2zm-1 0zm3 1zm5 16zm-1 6zm2 6zm-8 5zm16 8zm14-4zm3-3zm2-6zm-19-3zm1-7zm0-2zm13-2zm3-14zm-6-2zm-8-4zm3-4zm3 0zm-6-2zm-6 0zm10-1zm7-6zm1-1zm0-5zm-2 0zm-14-1zm20-2zm-22-1zm15 0zm-9 0zm3-1zm-9-1zm15 0zm-6-7zm-10 0zm5-1zm12-1zm6 0zm0 0zm-14-4zm-4-4zm5-1zm-7-1zm3-3zm1 0zm11-3zm-4-2zm-14-1zm22-1zm-21-1zm10 0zm10-3zm-10 0zm-3 0zm-2-1zm-2-1zm-2-1zm21-4zm-14-3zm9-1zm-8-1zm-3 0zm8-1zm7-1zm-17-2zm12-2zm-10-2zm8-1zm-12-4zm1-1zm16-1zm-17-2zm7-4zm12-1zm-16-1zm-3-1zm11 0zm2-1zm4-1zm-19 0zm8 0zm-4-1zm9-3zm5-1zm-9-1zm5 0zm-14-1zm19-1zm-2-2zm-10 0zm15-4zm-5-3zm-4 0zm-3-1zm-4 0zm-5 0zm13-2zm-7-1zm13-1zm-20-1zm18 0zm-15-1zm3 0zm5 0zm10-1zm-19-1zm15-2zm0-2zm4 0zm-3-2zm-11-3zm12 0zm-3-2zm0 0zm-1 0zm-14 0zm9 0zm3-1zm9-2zm-2-1zm-13-1zm10-3zm-2 0zm-16-1zm11-1zm-4-1zm15-1zm-10-1zm9 0zm-9-1zm-7-1zm9-1zm-8 0zm6-3zm-6-3zm-5 0zm10 0zm6 0zm-2-1zm-8-1zm16-2zm-13-2zm4-2zm-7-1zm-6 0zm19 0zm-13 0zm2-1zm-7 0zm-2-2zm22-1zm-9-2zm-12-2zm4-2zm7-2zm-6-3zm7 0zm-6-4zm-4 0zm0-2zm11 0zm1-2zm-5-1zm-4-1zm1-2zm0-1zm15 0zm-11-4zm6 0zm-3-2zm-11-3zm5 0zm13-1zm1-1zm-8 0zm6 0zm-7 0zm6-2zm-13 0zm8 0zm4 0zm-17-1zm16 0zm-8-3zm-5 0zm18-1zm-16-2zm-6-1zm9 0zm9 0zm-9-2zm1 0zm-7-3zm12-1zm-6 0zm-6 0zm-3-5zm19-7zm-8 0zm-7 0zm3-6zm15-15zm-13 0zm-7-1zm1-1zm14 0zm-8-4zm9-1zm-6-2zm-2-1zm8-1zm-11-2zm10-2zm6-3zm-12 0zm12-4zm-1-2zm0-3zm-4-9zm-9-2zm8-2zm-10-1zm-3-2zm8-2zm-7 0zm15 0zm0-3zm-4-2zm-15-1zm20-3zm1-3zm-3-3zm0-2zm2-4zm-5-5zm-5-1zm10-4zm-13-1zm6-1zm7-6zm-14-3zm3 0zm6-2zm2 0zm2-2zm-18 0zm14-2zm-9-2zm15 0zm-7-1zm-2-3zm-9 0zm-2-10zm21-4zm-20 0zm18-6zm-19 0zm20-4zm-22-1zm3-3zm20-4zm-18-2zm5-1zm9 0zm-16-1zm12-1zm-14-1zm6 0zm9-2zm4-2zm-14-1zm-6-2zm0-8zm4-6zm11 0zm-6-1zm-1-2zm11 0zm-18-4zm8-1zm-7-1zm15-1zm2-2zm-7 0zm5 0zm-6-1zm-8 0zm9-4zm5-2zm-8-12zm7-1zm-3-5zm-6 0zm-7-38zm4-1zm0-5zm6-5zm-3-2zm7-3zm-7-1zm14 0zm1-2zm-12-1zm5-1zm-7-2zm7-1zm-3-4zm-1-8zm5 0zm2-2zm-8-3zm10-1zm-4 0zm-13-11zm1-3zm-4-5zm20-4zm-1-1zm-16-3zm6-3zm12-1zm-16-3zm1-13zm-4-2zm7-1zm-9-1zm11-2zm-9-4zm9-1zm-6-1zm2-6zm-6-2zm8-3zm-9-3zm8-2zm-5-1zm13-1zm6-1zm-11-2zm12-1zm-10-2zm3-5zm7-1zm-4 0zm-1-6zm3-3zm-13-2zm-3-1zm10-1zm-1-1zm1 0zm1-1zm-6-3zm-3-1zm3-5zm-4-6zm-2-1zm-3-5zm5-5zm-4-1zm26 56zm0 0zm4 3zm1 1zm2 6zm1 6zm0 1zm0 7zm0 4zm3 5zm1 1zm0 3zm-2 6zm0 3zm-10 2zm-1 2zm3 0zm5 3zm5 0zm2 6zm0 1zm2 5zm3 5zm-21 1zm-2 2zm9 1zm-4 4zm-2 1zm3 1zm17 0zm-23 2zm8 1zm-5 4zm19 4zm-4 1zm-2 5zm4 3zm-4 11zm-4 3zm5 6zm-14 11zm7 1zm-9 2zm10 2zm-6 2zm0 29zm-5 2zm23 0zm-17 5zm-6 0zm22 9zm-20 1zm-2 0zm15 2zm-15 5zm1 0zm0 18zm2 0zm0 8zm-3 1zm8 6zm-5 1zm2 1zm3 2zm-2 4zm4 1zm-8 1zm3 4zm3 0zm7 2zm6 1zm-5 1zm-14 1zm9 1zm4 3zm5 2zm-18 2zm3 2zm11 2zm-9 3zm6 1zm8 0zm-20 2zm12 0zm6 1zm-17 0zm21 1zm-22 1zm17 3zm-6 0zm11 5zm0 5zm-4 3zm-17 2zm17 2zm-8 0zm-4 2zm11 0zm1 3zm-9 0zm-2 2zm-3 2zm-4 1zm10 0zm6 1zm-10 0zm8 1zm4 0zm1 0zm1 4zm-19 2zm5 0zm-2 1zm-2 1zm20 2zm-3 11zm-1 1zm3 1zm-18 0zm1 0zm7 1zm-1 1zm-2 5zm14 0zm-7 2zm-6 0zm-4 1zm0 0zm17 2zm-4 4zm-18 0zm8 3zm4 0zm-7 0zm-5 4zm2 3zm7 2zm6 4zm5 0zm-6 3zm-10 0zm8 2zm-10 1zm7 1zm0 4zm8 0zm3 0zm-16 0zm-2 1zm9 1zm-10 2zm2 1zm1 2zm16 0zm-1 0zm-7 0zm-11 3zm9 2zm10 0zm-6 0zm4 2zm-4 1zm-10 0zm12 2zm6 1zm-15 0zm10 2zm-15 2zm19 1zm-16 0zm8 0zm9 0zm-13 1zm8 0zm-7 3zm6 5zm4 0zm-1 2zm-16 1zm18 2zm-8 1zm9 2zm-2 0zm-13 0zm-3 1zm10 0zm-11 1zm-3 1zm16 1zm0 0zm-5 0zm-5 3zm-3 1zm13 0zm-15 2zm14 1zm5 1zm-6 2zm-11 1zm3 0zm13 2zm-9 0zm8 1zm-6 1zm-10 2zm18 0zm-10 0zm5 1zm4 3zm-6 1zm-10 2zm10 0zm5 1zm-9 1zm12 1zm-1 0zm-7 2zm-10 0zm7 2zm-10 3zm8 0zm6 0zm4 1zm0 0zm-7 2zm-6 0zm4 1zm13 2zm-8 1zm-7 1zm4 0zm-9 1zm13 0zm1 2zm-11 0zm-4 2zm15 1zm0 4zm-11 1zm2 1zm6 1zm-3 1zm9 1zm-19 2zm13 1zm-5 1zm-3 1zm-3 0zm11 1zm-5 2zm2 2zm-9 0zm20 1zm-16 4zm-5 0zm10 1zm-7 2zm19 2zm-18 1zm-5 0zm1 3zm3 0zm-2 1zm9 4zm-11 0zm15 2zm-8 2zm1 0zm-6 4zm8 0zm-1 2zm5 0zm-9 1zm-1 5zm7 3zm5 0zm-11 1zm11 1zm-1 4zm-1 2zm-9 0zm-2 1zm-1 2zm11 2zm-4 0zm-4 3zm7 1zm-5 0zm-7 3zm14 0zm-8 0zm-3 1zm10 1zm-4 4zm-8 1zm10 0zm2 2zm-9 2zm-2 1zm5 1zm-1 1zm-6 8zm16 1zm-5 1zm0 4zm-4 3zm5 1zm0 6zm-11 0zm7 3zm11 1zm-3 0zm6 0zm-4 0zm-7 9zm4 6zm-11 9zm11 1zm-9 9zm1 4zm1 13zm5 1zm1 9zm3 1zm-8 11zm5 7zm30-42zm0-7zm-17-9zm4-1zm12-5zm2-17zm1-6zm-22-4zm23-5zm-20 0zm8-9zm-9-12zm2-4zm5-1zm4-7zm5-1zm-9-1zm4-10zm-13-1zm20-5zm-19-14zm12-3zm-6-7zm1-1zm1-1zm7-1zm2-9zm-5-8zm4-7zm-14-5zm15-1zm-7-1zm3-1zm-7-1zm11-4zm-7-1zm-2 0zm5-3zm-3-4zm12-3zm-1-1zm-13-1zm-4-5zm-1-11zm8 0zm-8 0zm1-1zm11 0zm-14-2zm1-3zm8 0zm-10 0zm15-3zm-14-4zm9-1zm-10-5zm0-3zm3-1zm1-2zm12-1zm0-5zm3 0zm-17-2zm3 0zm4-1zm-9-1zm1-4zm5 0zm5-2zm5-1zm0-2zm-16-1zm6-1zm4-1zm-7 0zm14-3zm-11-1zm13-1zm-5-2zm4-1zm-3-1zm-8 0zm-5-1zm15 0zm-18 0zm9 0zm2-3zm-5-3zm-2-1zm9-3zm-6-4zm16 0zm-13-1zm-1-4zm0 0zm14-2zm-5 0zm-5-2zm-8-2zm8-1zm-3-4zm-5 0zm16 0zm-2-1zm3-1zm-3-1zm-6-1zm6-2zm-17-1zm8-4zm3 0zm-10-2zm15-1zm-18-1zm14-2zm0-5zm0-1zm-11-2zm11 0zm1-3zm2-3zm-14-1zm6 0zm8-3zm-13-3zm13-1zm-9 0zm-6-5zm15-1zm-12-1zm2-3zm-7-1zm21 0zm2-1zm-20-4zm16-1zm-3-4zm-5 0zm6 0zm-13 0zm1-3zm10 0zm-9-1zm17-2zm-14-4zm4 0zm7-4zm-4-1zm-16-4zm13-2zm8 0zm-10-2zm11 0zm-7-2zm-8-1zm5-5zm0 0zm11-5zm-13-1zm6-1zm7-11zm-6-14zm6-1zm-10-5zm4-1zm-7-3zm-4 0zm4-1zm11-1zm-7-1zm-13-1zm3-3zm6 0zm4-1zm3-3zm-10-1zm9-4zm3 0zm-8-1zm0 0zm5-2zm1-1zm-10-4zm5 0zm2-1zm6-4zm-6-1zm-12-1zm6-1zm-1-1zm-3-1zm18-1zm-9-1zm-2-1zm9-1zm-2-1zm0-1zm-16-1zm9-1zm1-1zm-7 0zm16-1zm-10-5zm6-3zm-4-3zm-2-5zm8-2zm-6-3zm8-1zm-4-1zm6-1zm-9 0zm9-5zm-14 0zm-8-2zm7-1zm3 0zm12-2zm-11-1zm8-4zm-6 0zm1-2zm5-2zm-7-3zm9-1zm0-2zm-11-2zm-10-2zm14-1zm5 0zm-2 0zm-14-1zm13-3zm-15-2zm4-2zm13-1zm-12-1zm8-3zm6-1zm-17-5zm17-3zm2-3zm-2 0zm-3-2zm1-3zm3-1zm1-1zm-1-1zm0-6zm1-7zm23-108zm1 5zm-1 5zm-5 0zm4 6zm-3 2zm2 1zm-2 5zm-3 0zm0 2zm6 0zm-2 0zm-5 3zm-1 2zm5 0zm0 5zm-2 1zm-2 3zm-1 6zm-1 1zm-2 4zm13 3zm-15 1zm-2 6zm15 6zm-16 1zm4 2zm14 1zm-1 2zm-11 4zm6 0zm-11 2zm-2 0zm17 4zm-18 0zm13 0zm7 1zm-23 2zm5 6zm0 1zm0 0zm-4 5zm-1 2zm0 4zm2 0zm-2 6zm5 0zm5 7zm-6 3zm8 2zm-8 0zm6 4zm-10 23zm21 16zm-17 1zm10 3zm-5 2zm7 0zm-7 4zm10 0zm-1 2zm3 1zm-8 0zm-10 2zm16 2zm2 4zm-9 15zm-6 3zm7 3zm5 16zm4 3zm-10 1zm5 0zm-5 2zm8 2zm-5 0zm-9 3zm-2 3zm1 5zm5 6zm-5 0zm18 3zm-21 0zm5 3zm9 1zm-8 1zm-3 1zm0 3zm0 4zm15 3zm-7 1zm-9 2zm3 0zm9 3zm7 4zm-17 1zm-4 1zm4 0zm-5 1zm0 11zm4 0zm6 1zm0 0zm-9 2zm2 6zm2 6zm11 5zm-11 1zm-6 0zm20 0zm-13 5zm-4 0zm7 1zm3 2zm6 2zm-13 5zm13 1zm-11 11zm2 2zm6 4zm4 1zm-11 2zm13 3zm1 0zm-22 1zm18 2zm-9 2zm-4 2zm15 0zm-8 3zm-11 2zm6 0zm-6 5zm21 1zm0 3zm-22 2zm8 10zm10 1zm-5 7zm-11 3zm9 1zm-5 2zm13 1zm-7 2zm-4 1zm10 13zm-17 6zm0 5zm6 5zm6 3zm-13 1zm10 2zm-7 12zm-4 7zm1 5zm12 16zm-8 5zm-5 2zm5 2zm7 2zm-12 4zm3 1zm-1 3zm3 3zm18 4zm0 2zm-21 11zm5 9zm-5 12zm9 7zm-7 16zm5 5zm3 17zm-12 11zm15 58zm-6 39zm38 22zm-9-9zm-8-2zm15-3zm-9-12zm1 0zm-8-3zm15-2zm-14-2zm9-10zm-4-7zm12-3zm-2 0zm-4-4zm6-6zm-12 0zm-2-6zm8-6zm4-4zm2-4zm-6-1zm1 0zm-5-3zm-5-7zm6-1zm1-8zm6-6zm-7 0zm-2-4zm10-2zm-8-3zm3 0zm3-4zm-5-4zm7-2zm-11-3zm3-5zm5-1zm-11-2zm0-1zm9-2zm2 0zm-8-2zm-8-1zm16-1zm-2-1zm-7-1zm1-1zm4-1zm4-4zm-7-1zm8-1zm-9 0zm5-1zm3-3zm0 0zm4-2zm-15-2zm-5-3zm19 0zm-8-1zm4-4zm-2-1zm1-2zm4-1zm-11-4zm8-1zm5-4zm-11-3zm7 0zm3-3zm-1-1zm-10-3zm8-1zm3-1zm-10-1zm1-2zm0-2zm8-1zm-5-1zm-8-1zm4-2zm-3-1zm3-1zm6-1zm-5-2zm-4 0zm9-1zm2-1zm-11-1zm8-3zm-3-1zm-4 0zm12-2zm1-1zm-11-2zm0-1zm6-4zm3-1zm-10-2zm-2-2zm6-1zm7-2zm-5 0zm4 0zm-15-1zm6 0zm9 0zm-16-3zm6 0zm2-1zm5-3zm-1-1zm0-1zm2-2zm-5-1zm-5-2zm12-2zm-6-2zm6-2zm-9-2zm7 0zm1-3zm-8-5zm-1-2zm2-2zm9-5zm-9-1zm3 0zm3-1zm-10 0zm0-4zm11-1zm-5-3zm0-7zm-3-2zm-4 0zm-1-1zm8 0zm-8-1zm1-3zm-2 0zm3-2zm7-1zm-9-3zm4-3zm-4 0zm15-5zm-3-2zm-17 0zm6-1zm1-4zm10-2zm-9-3zm-3-2zm2-2zm5-6zm-7-1zm8 0zm-5-7zm6-1zm-1 0zm6-4zm-7-2zm-10-2zm16-1zm-9-1zm4-1zm2-2zm-8-1zm12-1zm-8 0zm-4-1zm14-2zm-2-1zm-7-2zm-2-1zm6 0zm-5-3zm-6-6zm5 0zm-1-5zm-5-2zm2-7zm13-1zm-20-3zm8-1zm13-3zm1-1zm-13-1zm6 0zm7-3zm-12-1zm10-1zm-6-1zm-3-2zm-2-4zm-1-1zm11-2zm-12-2zm9-2zm-9-4zm11-2zm-10-1zm2-1zm11-1zm-12 0zm-7-4zm13 0zm-10-3zm7-1zm-7-1zm0-4zm3-3zm0-8zm0 0zm0-1zm1-3zm-8-5zm5-1zm14-4zm-12-4zm8-3zm-4-6zm-5-1zm9-3zm-12-1zm-1-1zm19 0zm-14-2zm10-11zm0-6zm-18-21zm3-4zm-1-3zm4-1zm5 0zm2-3zm-9-2zm-5-1zm12-2zm9-1zm-4-5zm1-3zm1-2zm-6-3zm6 0zm-12 0zm-3-2zm17-3zm-19-2zm9-1zm10 0zm-4-3zm-8 0zm3 0zm8-2zm2-2zm-7-4zm1-4zm7-2zm0-2zm-7-4zm5-2zm-21-32zm7-4zm-5-2zm0 0zm7-1zm7-1zm-16-1zm12-1zm-9-1zm-1-2zm7-1zm14 0zm-19 0zm13-1zm-4 0zm-1-1zm9 0zm-19-1zm18 0zm-3 0zm-7-1zm-3-1zm-1-1zm9-2zm-8 0zm-3-3zm8 0zm-7-4zm-5 0zm6-6zm-5-2zm2-8zm0-8zm-2-2zm22-5zm-1-1zm-2-1zm-19-1zm11-1zm9-3zm-13 0zm9-2zm-17-2zm7-1zm7-1zm5-1zm-10-3zm8-1zm1 0zm-8-1zm3-1zm6 0zm-1-5zm-8-1zm-6-2zm1-2zm2-2zm-3-1zm9-2zm-10 0zm2-3zm-3-1zm0-3zm-1-1zm23 49zm1 3zm5 5zm6 1zm6 5zm4 5zm-2 4zm-20 9zm4 5zm7 12zm2 2zm-7 4zm9 0zm0 2zm-9 3zm6 1zm9 7zm-1 3zm3 6zm-8 15zm3 4zm1 2zm-8 0zm-10 0zm-1 3zm14 1zm4 0zm-2 13zm-5 1zm-10 2zm2 1zm15 1zm-6 3zm-12 3zm19 22zm-7 0zm8 3zm-10 3zm7 1zm-16 19zm20 1zm-17 13zm5 2zm-9 4zm2 1zm6 1zm0 1zm4 2zm-9 0zm-2 3zm14 1zm-9 0zm5 3zm7 0zm0 4zm-7 0zm-10 3zm7 0zm4 1zm6 1zm-16 3zm9 0zm-6 1zm16 2zm-4 0zm-6 3zm12 4zm-14 3zm-8 10zm4 0zm13 2zm-7 2zm5 0zm-10 4zm11 2zm-13 0zm10 2zm-13 0zm9 2zm-9 2zm16 9zm-1 1zm-5 6zm7 0zm-14 1zm-2 2zm4 0zm-2 1zm3 3zm8 2zm-11 2zm6 1zm-9 0zm5 3zm9 1zm6 1zm-7 0zm-8 0zm8 2zm3 1zm1 1zm-10 2zm14 2zm-5 1zm5 0zm-2 7zm0 1zm-14 1zm-6 2zm10 2zm2 4zm0 1zm-12 2zm3 0zm2 1zm12 0zm-7 3zm8 0zm-10 0zm-1 0zm8 0zm-3 3zm8 4zm-18 0zm10 2zm4 0zm-11 1zm15 0zm-9 1zm12 0zm-1 0zm-16 0zm-4 5zm6 2zm9 2zm-14 0zm8 1zm2 0zm1 0zm8 0zm-18 5zm2 0zm-3 4zm14 2zm1 4zm3 3zm-1 6zm-4 2zm-4 2zm11 2zm-17 1zm17 0zm-17 3zm10 0zm-2 3zm-5 0zm14 1zm-6 0zm5 2zm-15 7zm-2 5zm13 3zm-2 3zm1 3zm5 4zm-19 3zm18 0zm-13 7zm-6 0zm17 3zm-16 5zm-1 0zm14 1zm6 1zm-1 1zm-6 0zm-8 2zm5 1zm11 1zm-17 0zm12 3zm-17 4zm13 2zm-5 0zm-2 1zm-6 0zm13 1zm-3 5zm-5 0zm9 3zm6 3zm-19 2zm-2 1zm15 1zm-9 0zm9 2zm-14 1zm17 0zm-11 2zm13 1zm-11 0zm9 1zm-17 1zm5 0zm14 4zm-18 0zm14 0zm-11 1zm16 2zm-4 1zm-3 1zm-5 2zm-2 0zm-2 1zm4 0zm13 0zm-3 0zm-19 1zm20 2zm-3 0zm-5 0zm-9 3zm0 0zm8 0zm9 2zm-11 2zm2 1zm-5 1zm7 1zm-1 1zm8 2zm-15 1zm8 1zm-4 2zm13 1zm-22 0zm1 1zm14 0zm-12 0zm13 1zm0 2zm3 1zm-12 3zm-3 1zm17 1zm-5 2zm-11 1zm-2 0zm20 3zm-22 1zm6 1zm1 1zm6 1zm-2 1zm-11 1zm5 1zm6 1zm-2 1zm-7 1zm15 1zm-2 1zm6 0zm-5 0zm-17 2zm3 0zm9 1zm-6 4zm0 0zm-2 3zm4 0zm3 1zm-9 2zm2 0zm10 0zm7 1zm-20 0zm12 1zm5 1zm-10 2zm13 0zm-3 0zm4 3zm-9 1zm-7 4zm1 1zm-7 0zm17 1zm0 1zm-9 1zm12 1zm3 2zm-12 0zm-5 3zm15 1zm-7 1zm2 0zm-16 2zm16 0zm-9 3zm9 1zm-9 1zm-7 1zm3 2zm6 2zm-3 5zm15 1zm-4 2zm5 1zm-15 6zm11 1zm-2 4zm0 2zm-3 2zm5 2zm-7 1zm3 4zm-13 1zm14 0zm0 1zm4 1zm-4 6zm-9 3zm12 3zm-12 4zm-1 1zm15 2zm0 1zm3 11zm-12 1zm9 5zm-20 0zm11 4zm-10 8zm14 0zm-9 8zm15 0zm-13 3zm8 1zm20-11zm-3-11zm-1-4zm-2-2zm0-4zm-5-2zm20-9zm-15-20zm-3-10zm1-2zm11 0zm-15-2zm13-9zm-3-1zm-10-5zm14 0zm-12-4zm-2 0zm12-3zm-11 0zm3-2zm4-2zm0-2zm-2-1zm0-3zm4-7zm0-4zm-8-1zm11-5zm-2-3zm-3-1zm-1-1zm-6-2zm18-5zm-16-3zm-3 0zm4-2zm-4-4zm1-7zm2 0zm-2-1zm6-4zm10-5zm-5-2zm-6-4zm10 0zm-8-1zm-3-1zm5-1zm-1-6zm-8-1zm9 0zm-1-1zm-4 0zm-3 0zm14-1zm7-1zm-2-1zm-4-1zm-9 0zm3-2zm-8 0zm3 0zm-6-4zm3-1zm6-2zm-7-1zm19-2zm-18-1zm1-2zm19-1zm-14-1zm-9-1zm0-4zm9-3zm-4-3zm8 0zm3-2zm-15 0zm15-3zm0-4zm1-6zm0-6zm-15-2zm13-6zm8-1zm-18 0zm2-2zm5-1zm4-1zm-10-3zm16-1zm-7 0zm-12-1zm5 0zm6-2zm-7 0zm8-1zm8-4zm-3 0zm-4-1zm-6 0zm4 0zm-10 0zm10-1zm3-1zm-12-1zm4-2zm11 0zm-20-1zm22 0zm-7-4zm6 0zm-21-1zm13 0zm4-3zm-4-1zm-2 0zm0 0zm-11 0zm18-3zm5-2zm-18 0zm10-1zm-4-1zm11-1zm-7-1zm-15 0zm6-2zm9-1zm-9-1zm16-1zm-2-2zm2-1zm-21-3zm17-1zm-4-4zm9-5zm-19 0zm-2 0zm-2 0zm21-3zm-15 0zm12-1zm5-1zm-19-2zm11-2zm-5 0zm-10-1zm14-3zm-14-2zm13-1zm9-1zm-5-13zm-15 0zm19-1zm-8-1zm-12-3zm8-2zm7-1zm3 0zm3 0zm-17-4zm-5 0zm20 0zm-6-1zm-5-2zm2-1zm-7 0zm-4 0zm21-1zm-8 0zm-13 0zm22-1zm-3-3zm-14-1zm1 0zm10 0zm-12-1zm-3-1zm17-1zm-9-1zm-7-1zm21-2zm-11-1zm7-3zm-6-4zm3-1zm3-1zm-17-5zm11-1zm5-1zm3-3zm-3-2zm-8-9zm-7-2zm12-2zm6-1zm-13-1zm12-3zm0-1zm-8 0zm-7-1zm6-2zm6-1zm-5-1zm2 0zm-9-1zm-1-3zm5 0zm-4 0zm3-1zm11 0zm-18-2zm9-4zm-7 0zm-3-2zm19 0zm-18-3zm14-2zm-15-1zm14-2zm8 0zm-3-2zm-4-1zm-3-2zm3-5zm-11-2zm2 0zm1-5zm-2 0zm3-3zm6 0zm5-1zm-10-3zm-8 0zm8-1zm9 0zm-7-2zm10-1zm-14-1zm3-6zm-4-2zm1-4zm-2-2zm8-3zm-10-2zm-1-1zm12 0zm-1-3zm-7-1zm3-5zm2-2zm8 0zm-8-2zm-3-2zm13 0zm-10-1zm-9 0zm9 0zm-2-1zm10-2zm-5-1zm-7-2zm-5-1zm19-9zm-6-5zm2-5zm6-1zm-2-1zm-6-12zm7 0zm1-2zm-6-4zm-12-2zm5-6zm-6-1zm8-2zm-7-2zm13-12zm1-6zm-4-1zm0 0zm-3-1zm3-5zm-2 0zm5-4zm-6-6zm0-2zm-6-4zm2-1zm-7-2zm10 0zm-1-1zm2 0zm-9-2zm-1 0zm3-1zm2-1zm1-2zm1-2zm-4-7zm2-3zm0-2zm-3-3zm0-5zm1-2zm-5-1zm3-7zm0-4zm-2-5zm-1-2zm46-2zm-2 4zm3 3zm-2 8zm-3 5zm0 4zm1 5zm0 3zm0 2zm-1 6zm0 2zm1 2zm2 1zm-4 3zm-3 1zm7 1zm-5 2zm4 1zm-7 5zm6 2zm-5 4zm0 2zm-4 7zm2 2zm-7 2zm2 4zm1 2zm4 4zm-3 2zm-4 0zm-4 1zm15 0zm-9 4zm11 0zm-5 2zm10 0zm-8 3zm1 2zm4 4zm-3 3zm-6 4zm0 2zm8 1zm-2 2zm-4 7zm7 1zm1 0zm-19 1zm11 1zm-6 3zm7 0zm4 3zm-18 2zm8 5zm-6 2zm0 3zm7 1zm8 2zm-15 0zm13 2zm7 3zm-7 3zm2 1zm-8 1zm2 4zm-7 2zm19 16zm-3 3zm-5 3zm-12 1zm9 3zm11 2zm-7 0zm0 0zm-10 0zm15 4zm0 0zm-8 0zm9 1zm-9 0zm-2 0zm0 2zm-8 1zm-3 0zm8 4zm5 1zm4 0zm6 2zm-5 1zm4 7zm-21 5zm21 1zm-19 4zm20 1zm0 2zm-23 3zm22 1zm-3 0zm-7 3zm-11 1zm17 1zm4 0zm-4 1zm-4 2zm7 1zm-18 0zm0 2zm2 2zm15 1zm-15 5zm11 1zm-5 1zm3 0zm-12 1zm17 0zm0 3zm-9 0zm1 1zm-5 2zm15 4zm-6 2zm-1 0zm-12 1zm12 1zm0 0zm-6 3zm11 1zm-7 0zm-12 1zm10 3zm6 0zm7 3zm-23 0zm7 3zm9 1zm-4 3zm2 4zm0 1zm-10 2zm-4 0zm12 2zm0 1zm-2 1zm-9 3zm6 0zm14 1zm-8 1zm8 2zm-18 1zm11 1zm-6 1zm-1 1zm3 1zm10 0zm-1 2zm-18 0zm15 1zm-13 2zm-2 0zm17 2zm-13 1zm11 0zm-9 3zm12 1zm3 0zm-10 4zm0 4zm4 1zm-16 1zm6 1zm-3 2zm19 0zm-9 1zm2 1zm-9 1zm11 2zm-1 0zm4 2zm-20 0zm1 1zm11 0zm-6 0zm1 3zm-1 3zm2 7zm-7 1zm11 4zm-8 2zm-2 4zm-1 1zm10 2zm-8 6zm6 2zm1 0zm8 5zm0 2zm-5 0zm-11 5zm9 2zm-9 1zm6 4zm-3 1zm10 2zm0 1zm-9 1zm1 0zm-3 10zm7 4zm-8 0zm0 3zm13 3zm-5 1zm-5 6zm5 0zm-6 3zm5 0zm0 2zm3 4zm-10 7zm3 4zm2 0zm4 0zm1 0zm4 3zm-9 3zm0 20zm-3 11zm-3 1zm13 8zm-7 0zm2 6zm3 3zm-2 13zm-3 5zm5 19zm6 0zm-5 16zm2 7zm-3 24zm-6 2zm12 17zm-1 21zm-17 5zm45 5zm1-22zm-1-3zm-13-2zm10-24zm0-10zm3-48zm1-1zm-10-12zm3-14zm-4-25zm5-39zm-4-24zm3-12zm4-1zm-15-36zm15-2zm-20-5zm11-12zm-3-3zm6-5zm1-2zm-10-4zm2-3zm-2-2zm16-1zm-8-6zm-6 0zm-4-10zm-3-10zm22-2zm-1-2zm-20-10zm17-4zm-11-1zm7-3zm9-5zm-23 0zm1-1zm22-4zm-12-3zm12-1zm-4-3zm-6-1zm-3-4zm-10-8zm0-5zm1-2zm7-1zm2 0zm-9 0zm4-5zm11 0zm2-18zm-17 0zm10-1zm2-1zm-12-1zm16 0zm3-5zm-20-1zm19-1zm-1-6zm-6-2zm6 0zm-13-1zm18-1zm-11-2zm-3-2zm1-2zm0-1zm-10-2zm23-3zm-12-3zm-9-1zm0-1zm10 0zm-5-1zm10-3zm0-2zm-2-1zm-8 0zm1-1zm13-4zm-14-1zm14-3zm-6-1zm-6-1zm-6-5zm7-2zm11 0zm-6-1zm0-3zm-12-1zm6-1zm11-4zm-8-2zm8-1zm-3-4zm-11-2zm11 0zm-11-1zm10-2zm0 0zm-16-1zm5-2zm15-3zm-15-3zm16-1zm2-1zm-9-3zm5 0zm2-2zm-6-2zm-8 0zm1-4zm1-4zm6 0zm-15-2zm7-4zm11 0zm-17-1zm11-4zm2-17zm-4-3zm-1-2zm8-2zm-6-2zm5-6zm-5-1zm11-1zm-1-1zm-7-3zm2-2zm4-6zm1-3zm0-7zm-4-27zm5-2zm-8-4zm2-1zm1-6zm5 0zm-19-5zm2-4zm-2-3zm2 0zm-5-2zm3-4zm2-1zm4-4zm-6-2zm11-1zm-7-2zm7-1zm-6-3zm-3-5zm6-1zm5-3zm-7-1zm-1-1zm-1-3zm4-3zm1-3zm1-2zm-2-2zm3-6zm-1-5zm8-4zm-6-1zm2-1zm3-5zm-4 0zm5-2zm0-3zm5 15zm-1 7zm5 6zm3 4zm-3 3zm2 1zm4 0zm2 2zm-7 5zm-7 0zm13 1zm-2 2zm-8 0zm7 1zm1 2zm-3 1zm3 1zm5 2zm1 1zm6 1zm-12 0zm6 3zm-3 4zm9 0zm-5 0zm-6 3zm10 0zm-3 2zm0 0zm4 2zm-6 6zm-16 9zm3 3zm-4 4zm6 30zm5 3zm-8 1zm0 1zm4 3zm-5 2zm-2 2zm2 4zm3 6zm-5 2zm9 4zm-3 1zm6 0zm-9 0zm5 7zm8 1zm-13 0zm7 1zm12 5zm1 2zm-10 15zm-1 3zm-7 0zm7 3zm-7 0zm1 3zm16 1zm1 3zm-7 1zm-5 5zm-7 0zm8 2zm6 1zm-14 2zm8 0zm3 4zm-8 1zm7 1zm4 1zm2 1zm-12 3zm0 1zm8 1zm0 4zm-5 1zm-3 12zm4 0zm-8 4zm6 3zm9 4zm-5 5zm-14 3zm20 2zm-6 0zm3 1zm-6 2zm7 1zm-16 1zm14 3zm-4 1zm-10 8zm3 9zm-2 4zm0 2zm5 2zm-5 1zm5 3zm14 1zm-21 0zm1 2zm18 6zm-17 0zm1 4zm-1 7zm2 4zm2 1zm-3 1zm-4 2zm22 1zm-19 6zm1 5zm14 1zm1 3zm-11 0zm8 1zm-13 2zm3 0zm13 2zm-10 1zm14 1zm-17 1zm5 1zm-3 1zm6 0zm-10 2zm-3 4zm11 1zm5 0zm-8 0zm0 0zm-1 6zm-4 3zm-1 2zm2 5zm11 4zm-12 1zm19 2zm-14 0zm-6 1zm1 1zm3 2zm10 3zm-13 1zm8 0zm5 6zm-17 2zm21 4zm-2 1zm-18 3zm13 1zm-13 0zm4 4zm3 0zm10 3zm-14 2zm7 1zm-7 0zm3 0zm1 3zm6 2zm-11 1zm4 2zm-3 0zm8 4zm-5 1zm-7 1zm13 4zm-11 1zm6 4zm-3 0zm4 2zm-5 0zm-4 1zm7 1zm7 0zm-3 0zm5 1zm2 0zm-10 2zm2 0zm-3 3zm-4 0zm16 2zm-1 0zm-5 2zm8 0zm-13 0zm-7 2zm6 1zm10 0zm-3 0zm-9 1zm10 3zm7 1zm-14 0zm12 1zm-6 0zm-12 1zm9 1zm9 0zm-11 1zm10 1zm-11 1zm-3 2zm2 1zm11 0zm0 1zm-17 3zm17 1zm-8 1zm-2 1zm14 2zm-7 1zm8 0zm-17 3zm-4 0zm-1 2zm9 0zm7 2zm-15 0zm15 1zm-5 1zm-2 2zm-9 1zm7 0zm8 1zm-11 0zm7 3zm7 0zm-13 2zm6 1zm7 2zm-7 0zm-6 2zm6 1zm-4 1zm8 1zm-8 4zm2 1zm-9 0zm22 1zm-20 2zm9 1zm-4 5zm2 0zm9 0zm1 2zm-11 0zm-5 1zm-1 3zm6 1zm8 1zm-13 1zm17 0zm-17 1zm19 0zm-8 0zm8 2zm-1 1zm-21 2zm18 1zm-16 0zm1 2zm15 2zm-7 0zm-5 0zm2 0zm-9 1zm3 0zm12 0zm-5 2zm-2 0zm-1 0zm14 1zm-6 0zm2 2zm-11 5zm-1 2zm17 1zm-11 1zm-2 0zm7 1zm5 1zm-2 1zm-10 1zm5 0zm1 3zm-4 0zm7 1zm0 1zm-3 3zm-4 0zm-8 0zm20 1zm-18 2zm-4 0zm9 2zm12 0zm-5 1zm1 1zm-17 1zm2 1zm4 0zm0 0zm12 3zm-9 1zm-7 4zm2 0zm14 0zm-5 0zm-3 1zm10 0zm-17 2zm16 2zm-5 1zm-1 2zm-3 3zm7 0zm-1 3zm2 1zm0 1zm2 2zm-19 1zm0 3zm0 0zm3 0zm14 2zm-12 3zm2 2zm-3 1zm-2 1zm15 2zm-13 1zm-6 0zm15 1zm7 3zm-4 1zm-12 1zm-5 1zm6 2zm12 0zm0 2zm-1 2zm-16 1zm-1 0zm6 2zm-2 3zm18 0zm-1 3zm-11 0zm8 4zm-14 0zm7 0zm-5 1zm8 2zm-5 3zm7 1zm-17 1zm13 1zm-9 4zm18 1zm-4 0zm-2 4zm1 2zm-12 1zm13 1zm-6 0zm11 1zm-3 3zm-1 3zm-17 3zm13 5zm-9 1zm15 0zm-14 2zm4 1zm6 2zm-9 4zm0 3zm-2 2zm6 4zm8 2zm0 2zm-6 3zm-9 0zm12 2zm5 2zm-7 8zm-2 3zm-9 8zm3 1zm2 1zm12 3zm8 7zm4-13zm-6-2zm-3-1zm19-5zm-9-4zm4-1zm6-2zm-6-1zm-10-12zm2-5zm7-5zm-10 0zm8-12zm2-3zm-1-2zm-11 0zm17-5zm-14-2zm11-9zm-13-3zm8-3zm-10-1zm18-5zm-11-4zm10 0zm-4-1zm-7-3zm9-1zm-7 0zm5 0zm-10 0zm3-1zm-1-3zm9-2zm5-1zm-7-1zm1-2zm-13 0zm2-1zm21 0zm-20-7zm12-2zm6-1zm-11-1zm-4 0zm-6-6zm11-1zm3-2zm5-1zm1-1zm-13-1zm-2-3zm18-1zm-17-1zm12 0zm-2-1zm-1-1zm7-4zm-2-2zm-5-1zm-4-4zm-10-1zm7 0zm7 0zm-1-3zm-5-1zm-9 0zm7-3zm11 0zm-7-1zm11-1zm-22 0zm5-3zm4 0zm12 0zm-15-1zm7-1zm-4-1zm4-1zm7-2zm-16-1zm9 0zm-7-1zm6-2zm-4-2zm-8-2zm8-1zm1 0zm4 0zm5-2zm5 0zm-19-1zm12-1zm1-1zm1-1zm-12-1zm3 0zm11-3zm-17-1zm7 0zm4 0zm-10-1zm12 0zm-10-2zm4-1zm-10 0zm3-1zm12 0zm1-1zm7-2zm-23-3zm19-1zm-14 0zm9-3zm-3-2zm2-2zm-13 0zm0-2zm8-1zm3-4zm6-1zm5 0zm-12-2zm-9 0zm4 0zm0-1zm5-1zm11-1zm-3 0zm5-2zm-7-1zm-16-2zm10 0zm-4 0zm5-1zm2-1zm-4-2zm2-1zm-11 0zm17-2zm-8-2zm-6 0zm2 0zm6-1zm4-1zm-11 0zm-4-6zm5 0zm8-1zm-1 0zm10-1zm-6-1zm-11-3zm10 0zm1 0zm7 0zm-20 0zm13-1zm6-3zm-3 0zm-15-1zm3 0zm8-1zm-7 0zm10-2zm2-3zm3-1zm-19-6zm6 0zm-9 0zm13-1zm-8-4zm15 0zm-19 0zm14-3zm-4-1zm-4 0zm10-3zm4 0zm-4-1zm-15 0zm10-4zm10-2zm-3-1zm-5-1zm8-1zm-12-3zm-1-2zm13-1zm-14-2zm11-1zm1-1zm-12-1zm3-2zm4-1zm-15 0zm3 0zm5-3zm6-2zm4 0zm-8-2zm-11 0zm21-2zm-17-1zm11 0zm-3-3zm6 0zm-11 0zm-3-1zm11 0zm7-1zm-20-2zm9-2zm-3-1zm-6-3zm4-2zm5-2zm7-4zm-14 0zm8-1zm-4-1zm7-4zm-5 0zm13-2zm-5 0zm5-5zm-11 0zm3-3zm6-3zm-20-12zm7-3zm2-1zm-5 0zm8-2zm-12-1zm0-1zm22-1zm-17-3zm6-2zm-8-2zm0-6zm4-1zm-4-4zm-3-1zm0-3zm9 0zm4-1zm-1-2zm-5-1zm-6-1zm2-4zm2 0zm4-2zm-10 0zm7-4zm9-3zm-14 0zm11-5zm7-1zm-8-3zm6 0zm-3-2zm-14-1zm7-1zm9 0zm1 0zm-11-3zm-2 0zm2-2zm-3-1zm10 0zm9-1zm-12-1zm-8-4zm12-2zm-9-4zm15-1zm-20 0zm13-1zm4-5zm-4-1zm-5-1zm9-4zm-11-1zm14-2zm-12 0zm-9-1zm12-5zm-7 0zm16 0zm-11-1zm3-1zm8 0zm-5-2zm-16-6zm2-6zm20-10zm-2-2zm-8 0zm6-3zm-6 0zm11-14zm-19-24zm4-3zm-7-6zm5 0zm10-8zm7-1zm0-3zm-4-2zm3-5zm-18-1zm3-7zm-7 0zm3-6zm9-3zm-4-6zm7-1zm6-6zm-20-17zm7-2zm-3-5zm17-7zm-5-3zm-1-5zm3-3zm1-4zm-1-4zm-1-4zm-6-4zm-6-2zm9-3zm-12-1zm10-2zm-11 0zm13 0zm-5-2zm-3-1zm-1-1zm19 44zm0 4zm1 4zm0 4zm1 8zm1 1zm-3 1zm4 3zm-1 0zm4 1zm-2 4zm2 7zm-3 6zm6 2zm-5 3zm-1 1zm6 3zm0 0zm-1 1zm4 2zm3 1zm-17 2zm12 2zm-5 0zm15 1zm-9 2zm9 0zm1 1zm-23 1zm15 3zm3 2zm-5 9zm-6 1zm11 5zm-6 0zm-2 0zm6 5zm-1 0zm-7 13zm-4 2zm8 0zm-3 5zm-5 3zm9 1zm-6 3zm9 2zm-11 5zm7 1zm-3 1zm-2 1zm15 1zm-14 3zm-8 2zm5 1zm13 12zm-7 0zm-1 3zm4 3zm-3 1zm-5 5zm5 5zm-2 0zm-7 3zm14 1zm-16 2zm2 1zm11 1zm6 0zm-7 0zm5 3zm-5 2zm9 1zm-18 0zm10 1zm-7 0zm15 1zm-10 0zm-7 2zm4 4zm9 0zm-12 1zm0 1zm11 0zm6 0zm-12 2zm-9 3zm5 0zm10 0zm7 1zm-22 0zm10 2zm10 1zm0 1zm-7 2zm3 2zm5 9zm1 1zm-7 5zm3 4zm-16 4zm8 0zm12 2zm0 1zm-11 1zm-8 0zm-4 0zm15 1zm-3 2zm-1 1zm-1 2zm13 1zm-23 0zm22 1zm-10 0zm10 1zm-18 0zm-2 4zm14 0zm4 2zm-12 3zm-3 4zm0 4zm18 1zm-12 1zm-8 2zm9 2zm-8 0zm18 0zm-5 0zm-8 4zm6 2zm8 1zm-1 2zm-22 5zm10 1zm2 1zm-5 5zm3 2zm-4 2zm4 6zm7 0zm-5 2zm-5 0zm16 3zm-4 1zm-6 1zm6 6zm2 4zm2 9zm0 3zm-2 3zm-10 0zm11 2zm-5 2zm-2 1zm5 0zm-3 2zm-2 1zm1 1zm-4 2zm6 2zm5 0zm0 1zm-6 0zm-8 3zm-1 1zm3 2zm11 0zm-21 0zm16 1zm-4 2zm-13 1zm9 0zm-1 4zm6 1zm-7 2zm12 1zm-5 2zm-5 2zm-7 1zm5 1zm0 1zm6 0zm9 5zm-16 0zm8 1zm-13 1zm1 1zm6 0zm2 2zm-3 1zm12 3zm-11 1zm-3 0zm10 0zm-13 1zm-2 1zm3 2zm7 2zm6 1zm-11 1zm2 1zm9 1zm-2 1zm9 1zm-18 1zm16 1zm-21 2zm9 1zm11 0zm-18 0zm0 1zm12 0zm8 0zm-6 4zm-5 8zm-5 3zm-3 0zm6 1zm3 2zm-8 0zm12 1zm-11 4zm5 6zm-4 4zm-6 0zm8 1zm3 4zm-5 3zm-2 3zm12 9zm-11 0zm-2 7zm-1 6zm-1 9zm21 1zm-21 4zm2 4zm15 0zm-3 4zm2 2zm-9 1zm3 4zm1 0zm-9 1zm3 4zm4 3zm9 1zm-14 5zm2 5zm13 2zm-3 0zm3 1zm3 3zm-15 0zm5 1zm5 6zm3 1zm-18 0zm13 4zm-13 5zm13 4zm-10 2zm-1 1zm8 2zm-9 3zm8 7zm-2 6zm9 1zm-15 5zm-2 4zm6 1zm-5 4zm5 4zm-2 18zm-3 24zm41-16zm-9-25zm3-13zm-2-12zm-8-8zm12-2zm1-27zm-17-6zm16-1zm-4-8zm0 0zm0-1zm-9-13zm6-8zm3-12zm-12-1zm23-26zm-12-4zm3 0zm-7-1zm6-3zm-3-1zm-6-1zm2-2zm8-22zm-2-14zm5-2zm-9-7zm-8-2zm10-8zm3-3zm-8-1zm-2-2zm5-1zm9-6zm-7-3zm-4-5zm5-2zm0-2zm-10-1zm20-9zm-21-2zm16-2zm-5-6zm-4-1zm-3-1zm18-13zm-9-10zm-12-1zm19-2zm-12-2zm-5-1zm3-6zm4 0zm7-1zm-16 0zm17-4zm-2 0zm-15-1zm17-2zm-5 0zm-11-3zm0-4zm6-2zm2-1zm4-2zm-14 0zm16-1zm-1-2zm-2 0zm-5-2zm-5-1zm8-2zm-8-1zm13-1zm-4-2zm-6 0zm-4-1zm18-1zm2-3zm-14-1zm-2-1zm0-1zm-5-2zm22 0zm-18-2zm14-1zm-8-1zm-1-3zm5-5zm-9-2zm16-2zm-19 0zm6-5zm-2-1zm-1-2zm-6-1zm13 0zm-2-1zm5-1zm-11-2zm5-1zm-6-1zm19-2zm-12 0zm-6-1zm9-3zm-11 0zm3 0zm17-1zm-7-1zm0-2zm1-6zm2-5zm0-10zm0-1zm-4-4zm2 0zm-16-5zm13-1zm-11-4zm14-2zm-17-2zm23-2zm-2-6zm-15-2zm3-2zm-7-1zm15 0zm4-1zm-11 0zm0-1zm-7-3zm20-2zm-16-1zm11-5zm0-8zm-15-1zm2-1zm13-2zm-8-3zm7 0zm-9-2zm-4 0zm15-3zm-4-2zm5-7zm0-5zm-3-7zm-1-4zm0-4zm1-3zm-17-1zm19-5zm-1-5zm-4-5zm0-5zm-14-2zm19-2zm2 0zm-21-7zm7-1zm-6-2zm6-2zm15-7zm-16-2zm17-1zm-16-3zm1-4zm15-2zm-15-2zm0-10zm3-7zm1-5zm1-2zm-1-8zm0-4zm1-4zm3-5zm0-7zm4-1zm-3-1zm3-2zm-3-1zm5-5zm-2-5zm0-5zm3-1zm-2-5zm0-2zm2-3zm-2-2zm16-49zm1 1zm-2 0zm1 5zm-3 1zm-1 8zm3 0zm4 0zm-7 1zm-1 3zm12 1zm-14 2zm1 4zm-5 4zm2 4zm11 4zm-14 0zm21 1zm-20 0zm0 4zm-1 0zm15 1zm-16 1zm19 1zm-6 6zm-8 4zm4 2zm-5 0zm13 0zm-15 2zm11 0zm-5 3zm-8 1zm9 3zm-7 1zm14 0zm-8 4zm5 2zm-13 2zm9 6zm-8 3zm5 45zm-5 0zm7 3zm-8 4zm6 1zm10 0zm-16 1zm9 0zm-9 3zm10 1zm5 0zm-8 4zm-2 0zm4 1zm-3 2zm-6 5zm21 3zm-1 0zm-2 6zm-17 1zm4 6zm-2 9zm0 2zm2 1zm9 1zm4 3zm3 1zm-13 0zm2 1zm-5 3zm8 1zm3 2zm-12 4zm1 7zm-2 1zm2 9zm0 6zm4 6zm-5 1zm-1 2zm2 5zm-1 5zm1 4zm-4 0zm8 1zm2 0zm6 5zm-10 4zm7 0zm4 6zm-12 0zm1 1zm15 0zm-17 1zm13 1zm-7 1zm11 3zm0 2zm1 1zm-3 2zm-8 3zm4 2zm-10 5zm12 3zm0 0zm-10 4zm5 0zm-7 4zm-6 1zm23 1zm-3 0zm-7 0zm-8 3zm7 2zm11 2zm-11 4zm10 1zm-3 1zm-17 1zm20 0zm-18 3zm4 5zm10 1zm-4 4zm-8 0zm2 1zm11 0zm1 3zm1 4zm-10 4zm-8 2zm17 0zm-13 1zm12 2zm4 5zm-4 4zm-13 1zm-6 3zm21 2zm2 1zm-3 3zm2 3zm-20 1zm16 1zm5 4zm-1 0zm0 1zm-7 1zm-9 11zm17 0zm-9 0zm-3 3zm-3 3zm-4 2zm5 0zm6 1zm8 0zm-19 4zm18 2zm1 0zm-14 4zm12 1zm-21 2zm18 9zm5 2zm-2 1zm1 4zm-14 1zm15 13zm-19 4zm19 2zm0 0zm0 0zm-2 1zm-15 1zm7 4zm7 3zm2 1zm-2 0zm-3 10zm6 4zm0 11zm-21 5zm18 1zm-13 1zm14 5zm0 4zm-2 7zm-2 1zm-1 3zm3 0zm2 6zm-2 3zm1 3zm3 1zm-7 6zm6 10zm-1 3zm-6 2zm7 0zm-22 3zm2 6zm21 8zm-1 1zm-20 1zm19 3zm-3 0zm2 4zm-3 3zm4 2zm-4 4zm6 5zm-9 2zm3 4zm5 2zm-2 1zm2 2zm-2 7zm-14 7zm3 3zm12 1zm1 4zm-4 4zm5 11zm-20 7zm20 2zm-5 13zm-2 22zm5 8zm2 1zm-1 12zm0 1zm-2 27zm12 2zm3-3zm4-2zm3-5zm-3-1zm-12-23zm19-11zm-13-3zm14-1zm-10-2zm-8-1zm16-6zm-6 0zm-9-7zm-5-5zm13 0zm-14-4zm5-2zm10-1zm0-7zm-2 0zm-10-5zm10 0zm-4 0zm-6-2zm2 0zm17-1zm-10-3zm11-1zm-13 0zm6-1zm-3-2zm-4-2zm-8-1zm3-1zm8 0zm-8-1zm14-1zm-13-3zm10-1zm-15-1zm4 0zm18-2zm-21 0zm18-1zm3-2zm-1 0zm-3-3zm-14 0zm0-1zm17-2zm-12-2zm-7-1zm20 0zm1 0zm0-1zm-8-2zm2-2zm-14-3zm13 0zm-7-3zm2 0zm5 0zm5 0zm-21-1zm7-1zm0-4zm12 0zm-6 0zm-4 0zm10-2zm4-1zm-18 0zm-4-1zm12 0zm-5-4zm10 0zm-18 0zm18-2zm-14-1zm7 0zm8 0zm-6-2zm4-1zm-9 0zm-3-1zm15-2zm-9 0zm10-2zm-5 0zm-5-1zm7-1zm-18-2zm18 0zm-7-1zm-9-5zm-2 0zm12 0zm-6 0zm13-4zm-10-1zm7-1zm4-1zm-10 0zm-5-2zm17 0zm-11-1zm-9-1zm18 0zm1-1zm-21-1zm8 0zm1-2zm7-1zm-15 0zm11-3zm-7 0zm4-3zm7-2zm-5-1zm-2 0zm8-1zm-14 0zm7-2zm11-1zm-6-1zm-10 0zm16 0zm-9-3zm-6 0zm10-3zm-12 0zm3-1zm4-2zm-10 0zm16-3zm-1 0zm-12-2zm13-2zm-6-2zm-5 0zm-4-5zm8-1zm-8-1zm16-1zm-16-1zm8-2zm13 0zm0-3zm-14-3zm11 0zm0-2zm-6-3zm1-1zm0-3zm8 0zm-18-1zm-5 0zm15-2zm6-4zm0-1zm-17 0zm11-1zm-15 0zm6-4zm9-1zm-3 0zm9-3zm-18-2zm17 0zm-9-1zm-10 0zm9-3zm12-1zm-22-1zm6-1zm12 0zm0-2zm-10-1zm-4-6zm3-2zm-5-4zm14 0zm-3-2zm-6-1zm5 0zm-10-2zm-2-1zm20 0zm-17-2zm10 0zm-2 0zm4-2zm7 0zm-9-1zm-11 0zm6 0zm-8 0zm21-1zm-4-2zm-9-1zm12-3zm-6 0zm5-1zm-8-2zm-5-1zm10-1zm-13 0zm20-3zm-21-1zm10-2zm6 0zm-10 0zm-7-2zm19-2zm0-7zm-14-1zm-4-4zm8-2zm-8-2zm9-1zm1-2zm-2 0zm1-2zm-8 0zm2-2zm-3 0zm3-5zm-3 0zm9-5zm-10-2zm11-2zm-9 0zm6-1zm10-3zm-16 0zm4 0zm7 0zm-8-2zm0 0zm11-2zm5 0zm-8-1zm-9-1zm1-3zm-5 0zm8 0zm1-2zm-8-4zm19-7zm-4-5zm3-3zm2-6zm-8-2zm-3 0zm8 0zm-13-2zm2 0zm-8 0zm12-4zm-10-1zm9-1zm5-1zm-10-1zm15 0zm-3-14zm-4-2zm9-2zm-16-3zm-4 0zm10-1zm-12-1zm16 0zm2 0zm-13-2zm2-3zm7-1zm0-1zm0 0zm-3-2zm9-4zm-3-3zm-9-4zm-2-2zm7-1zm-9-1zm15-1zm-4-1zm-10-1zm3-3zm8-4zm4-7zm-5 0zm7-2zm-8-3zm8-2zm-9-4zm5-1zm-1-11zm4-2zm-5-5zm3-22zm-20-1zm0-30zm13-38zm-4 0zm-2-3zm10-2zm-3-3zm-6-1zm15-3zm-6 0zm-11-1zm-6-1zm13-1zm-6-3zm12-1zm-18-1zm19 0zm-3-9zm1-6zm2-7zm-2-4zm3-5zm-14-5zm13-2zm-19-2zm8-2zm9 0zm-13-3zm10-1zm-3-3zm-3-8zm1-6zm-1-4zm-5-4zm0-2zm-3-2zm-1-7zm26 39zm7 3zm2 0zm-5 1zm-2 5zm1 0zm-5 0zm11 2zm1 4zm-10 0zm-1 4zm10 3zm-1 1zm4 5zm-14 1zm15 1zm-14 5zm14 3zm-14 3zm16 4zm-13 0zm0 2zm13 3zm-1 4zm0 3zm1 1zm5 4zm-6 0zm6 4zm1 5zm-1 5zm0 4zm-9 0zm-1 2zm8 0zm-1 3zm-1 3zm-1 21zm-1 2zm7 0zm-6 5zm4 1zm-20 10zm1 6zm18 15zm3 1zm-5 0zm-17 2zm12 0zm-2 1zm8 3zm-17 1zm16 0zm-3 2zm8 3zm-1 1zm-10 1zm0 1zm8 1zm-3 4zm4 13zm-3 4zm4 5zm-15 1zm-6 1zm10 3zm9 1zm-4 0zm-9 0zm-2 3zm12 3zm6 0zm-13 1zm13 1zm-6 3zm-2 0zm-4 5zm-10 0zm16 2zm-1 0zm-11 1zm7 3zm11 1zm-6 0zm-8 0zm-7 4zm13 0zm-9 1zm13 0zm2 3zm-6 0zm-4 1zm2 1zm3 1zm-8 1zm8 2zm1 1zm-4 3zm6 2zm3 1zm-22 9zm7 2zm-7 4zm12 1zm-8 0zm6 0zm-7 5zm6 0zm0 1zm-5 1zm13 1zm-12 1zm-2 0zm0 3zm14 1zm-13 0zm18 2zm-6 0zm-7 0zm2 1zm5 0zm3 1zm-7 1zm-1 2zm7 4zm-11 2zm8 2zm-13 0zm4 1zm5 1zm5 1zm7 3zm-9 2zm-10 0zm16 2zm-12 1zm-1 2zm11 0zm-12 0zm7 1zm2 0zm-15 0zm9 0zm3 2zm8 4zm-19 0zm8 1zm8 10zm4 2zm1 2zm-11 1zm4 3zm5 9zm-18 0zm11 5zm1 4zm1 2zm5 1zm-20 1zm1 1zm18 2zm-6 1zm10 0zm-20 3zm4 2zm10 0zm-4 1zm-11 1zm1 2zm19 3zm-21 2zm9 1zm-10 3zm14 1zm3 0zm6 1zm-3 2zm-4 2zm-7 2zm-8 1zm22 0zm-6 3zm-13 1zm14 1zm-7 0zm3 2zm-13 1zm17 5zm5 2zm-3 3zm2 0zm-15 5zm12 1zm-8 1zm-8 0zm5 6zm14 5zm-2 0zm-8 1zm-1 1zm8 2zm0 4zm-14 0zm10 1zm-5 3zm10 0zm-4 1zm-12 2zm8 1zm6 3zm-3 2zm-11 0zm12 2zm-6 0zm3 1zm7 1zm-11 0zm-6 1zm14 1zm-11 0zm-6 0zm11 3zm-1 2zm11 2zm-5 0zm-6 1zm2 0zm-8 0zm16 2zm-15 1zm-5 1zm17 3zm0 1zm-3 1zm-6 0zm3 2zm11 3zm-4 2zm-16 1zm11 0zm-13 0zm6 0zm17 1zm-6 0zm2 2zm-7 2zm-8 2zm14 1zm-10 0zm9 0zm-13 2zm0 1zm9 1zm3 1zm-6 0zm-1 1zm12 0zm-1 1zm-16 1zm14 5zm4 3zm-22 1zm20 0zm-13 2zm7 0zm8 1zm-19 0zm7 0zm9 3zm-7 0zm9 3zm-3 0zm-11 0zm4 3zm4 0zm3 1zm-2 1zm6 1zm-4 1zm1 2zm-12 5zm4 1zm-10 0zm4 2zm5 0zm-9 1zm20 0zm-13 2zm2 1zm7 7zm-9 2zm0 0zm-3 3zm3 3zm-3 2zm14 0zm-9 3zm-6 1zm-4 2zm16 0zm-1 3zm4 1zm-9 0zm-6 5zm1 4zm1 3zm17 0zm-4 2zm-3 0zm0 9zm-14 2zm-1 2zm14 1zm-6 0zm4 1zm4 1zm-5 1zm-1 0zm7 9zm-14 1zm17 4zm-15 1zm8 0zm-7 2zm-1 5zm7 0zm-11 3zm4 6zm-4 5zm3 5zm-1 16zm17 0zm-6 26zm18-17zm1-5zm-6-7zm7-20zm12-6zm0-4zm-12-4zm-7-10zm-4-16zm6-8zm13-7zm-9-1zm11-3zm-14-9zm11-7zm-13-1zm-2-11zm5-3zm-5-5zm0-1zm-1-1zm13-15zm-5-1zm10-3zm-12 0zm3-6zm12-1zm-20-8zm19-1zm-1 0zm-10-1zm2-2zm1-5zm-8-1zm-5-8zm4-1zm2-6zm-4 0zm0-4zm7-1zm-8 0zm-1-1zm21-1zm-1-4zm-11-2zm-3-2zm2-1zm14-1zm-23 0zm3-3zm4-2zm10-3zm-11-3zm14-5zm-3-1zm-14-2zm11 0zm-13-1zm18-1zm-7-2zm1-1zm9 0zm-13-3zm9 0zm-7-1zm-9-1zm9-3zm-5-1zm5-2zm-6-1zm11-1zm-13 0zm4-3zm-1-1zm-4 0zm-2-3zm20 0zm-14-1zm6 0zm-10-1zm8-1zm-4-4zm-6-1zm5-1zm12-1zm-8-1zm10 0zm4-2zm-18 0zm1-1zm14-1zm-20-1zm10 0zm2-3zm-1-4zm-7 0zm12-1zm-4-3zm2-8zm6-6zm-4 0zm-5-6zm3-1zm2-1zm-14-1zm12-2zm-14 0zm16-6zm-14-1zm20-1zm-13 0zm-3-2zm12-1zm-13-2zm7 0zm10-1zm-11-3zm10-4zm-14 0zm13-1zm-8-4zm-8 0zm19-1zm-1-1zm-6-1zm-3-2zm10 0zm-21-1zm6-1zm-5 0zm9-1zm-5 0zm13-1zm-17 0zm1 0zm19-5zm-16 0zm6-1zm1 0zm-4 0zm9-1zm-19-1zm19-3zm-16-1zm2-1zm9-1zm-8-2zm4 0zm11 0zm-10-1zm-8-2zm10-1zm0-1zm-6-1zm-3 0zm12-1zm-5-2zm2-1zm-7-1zm15 0zm-19-1zm20-1zm0-2zm-8-1zm-1 0zm-11 0zm7-1zm9-3zm4-4zm-1-13zm2 0zm-14-1zm7-6zm-1-1zm-7 0zm11 0zm-14-6zm4 0zm2-2zm-9-3zm0-2zm6-1zm-7-1zm5 0zm-4-2zm4-6zm16 0zm-21-1zm2-4zm7-2zm8-1zm-9-1zm-8-29zm14 0zm6 0zm-16-2zm4-1zm14-2zm-13 0zm13-2zm-7 0zm-12-1zm3-2zm12-2zm-7-3zm-5-3zm9 0zm5-5zm-13-1zm4 0zm5-1zm-17-6zm14-8zm5 0zm1-3zm-7-3zm8-3zm-9-3zm-12-22zm20-5zm1-4zm-6-2zm5 0zm3-3zm-14-4zm10-1zm-17 0zm8-1zm11-2zm-13 0zm10-4zm-15-5zm-3-1zm1-8zm43-101zm3 1zm-2 8zm-1 1zm-4 4zm-1 7zm1 4zm-1 5zm-2 5zm0 1zm-1 7zm-1 3zm0 1zm2 3zm-4 5zm-2 1zm2 7zm13 1zm-4 2zm-10 1zm9 6zm6 1zm-19 1zm0 2zm2 3zm-1 4zm-3 7zm3 0zm-1 6zm-2 6zm-1 4zm-1 2zm23 8zm-2 6zm-1 2zm-3 4zm-1 1zm-13 3zm13 4zm-14 0zm15 3zm-1 1zm-1 6zm1 9zm1 2zm-1 0zm1 3zm-1 2zm0 1zm0 6zm-12 4zm14 1zm-16 1zm7 2zm12 0zm-2 6zm1 3zm-1 1zm1 8zm-19 5zm15 0zm-9 4zm9 1zm-3 2zm-11 1zm17 5zm-11 2zm0 2zm1 2zm0 4zm0 0zm-1 0zm8 1zm7 1zm-13 4zm-3 3zm0 3zm5 3zm-4 1zm1 1zm-7 0zm10 0zm-12 1zm13 1zm-9 4zm0 4zm6 2zm4 0zm-9 1zm4 3zm1 5zm8 1zm-7 3zm3 2zm-11 2zm10 3zm-7 1zm2 1zm-8 2zm18 1zm-9 0zm-4 2zm-5 3zm1 3zm10 5zm-9 1zm-2 3zm19 5zm2 4zm-6 0zm-15 1zm18 0zm-11 3zm14 0zm-11 3zm6 0zm-11 0zm-5 3zm7 2zm5 0zm-11 6zm20 3zm-14 1zm-4 2zm17 6zm-16 6zm9 0zm-9 6zm5 0zm0 1zm-5 7zm14 1zm-16 2zm3 3zm14 4zm-12 1zm2 1zm14 3zm-23 0zm17 2zm-13 1zm6 0zm1 1zm0 3zm-8 2zm4 2zm-6 1zm1 6zm16 1zm-16 5zm4 3zm8 1zm-5 9zm-9 5zm1 3zm0 1zm8 3zm-8 12zm-1 2zm21 2zm-15 1zm0 1zm-6 10zm1 4zm2 2zm5 4zm-8 7zm14 14zm-8 0zm16 3zm-18 1zm5 1zm8 8zm-10 47zm2 14zm1 2zm-3 25zm1 6zm-3 17zm-1 5zm38 59zm-3-3zm1-36zm-5-5zm4-4zm-4-1zm-1-6zm8-6zm3-13zm0-10zm-12-5zm14-3zm-1 0zm-2-2zm-4-6zm-5-3zm0-2zm7-10zm2-2zm-1-3zm2-3zm-5-1zm5-2zm0-1zm-8 0zm5-3zm-3 0zm7-5zm-6 0zm-6-1zm2-3zm4 0zm-1-1zm-1-6zm9 0zm-2-11zm-2-1zm3-1zm0-3zm-11-1zm12-2zm-5-7zm-2 0zm1-1zm-1-5zm7-2zm-12 0zm12 0zm-8-3zm4-1zm2-2zm-3-1zm-5-5zm1-4zm5 0zm-2-3zm5-1zm-15-1zm8 0zm3-3zm-5 0zm10-2zm-6-6zm6-1zm-9-1zm-1 0zm0-2zm-2-7zm1-2zm11-6zm-9 0zm8-1zm-9-2zm4-1zm-2-3zm5-2zm0-4zm3 0zm-3-1zm-7 0zm8-6zm-5-4zm2-5zm-1-1zm5-3zm-6-1zm7-1zm0-2zm-1-4zm-19-1zm17 0zm-9-2zm7-1zm1-2zm-4 0zm0-2zm-4-2zm10-5zm-4-2zm-1-3zm3-1zm-18-1zm12-2zm-2-1zm4 0zm0-3zm-11-1zm19 0zm-21-1zm12 0zm-8 0zm17-1zm-18-3zm10 0zm-6-1zm9 0zm-4-6zm6-2zm1-2zm-4-7zm1-1zm-4-1zm4-1zm3-1zm-8-1zm0-1zm-3-1zm11-1zm-3 0zm-12-1zm12-1zm-12-3zm10-2zm-3-2zm-1-2zm-2-4zm-5-5zm5-2zm6-4zm-2 0zm-2-2zm3-3zm7 0zm-5-1zm-13-4zm12-1zm-2-2zm1-4zm-3-4zm-9-3zm6-3zm4 0zm4-1zm-17-4zm15-2zm3 0zm3-1zm1-1zm-19-3zm15-1zm-4 0zm3-2zm-7-2zm7-2zm-12 0zm3-1zm14 0zm-7-1zm-8 0zm11-4zm-11-2zm5-2zm7-1zm-19-1zm19-1zm-12-1zm12 0zm-7-3zm1-2zm0-1zm-12-2zm3-2zm7-1zm-6 0zm6-1zm-11-4zm8-2zm7-1zm8-3zm-6-3zm-8-2zm12 0zm-5-1zm-2-3zm7-1zm-6-2zm-11-3zm2-1zm3 0zm14 0zm-19-3zm4-2zm-4-1zm9-1zm4-1zm6 0zm-3-1zm-19-2zm0-2zm21-1zm-17-6zm-5-3zm2-7zm5-1zm-4-3zm-1-7zm-1-2zm7-5zm-1-2zm0-2zm0-2zm-5-5zm0-4zm0-3zm1-7zm14 0zm-14-3zm19 0zm-20-4zm14 0zm-1-1zm-3-1zm-9-1zm7-2zm-5-2zm12 0zm-7-2zm-8-3zm20-2zm-17-3zm16-1zm-10-3zm-6 0zm14-5zm4-1zm-14-5zm7 0zm6-2zm-11-3zm-9 0zm0-4zm7 0zm-4-12zm-5-1zm10-2zm-10-4zm8-1zm-1-2zm-6 0zm10-19zm7-2zm-13-1zm0-1zm10-2zm-5-2zm4-2zm-4-2zm7-2zm-4-15zm-5 0zm-2-1zm9-5zm-11-2zm-4-1zm8 0zm3-1zm11-2zm0-2zm-2-9zm0-4zm-20-1zm17-5zm-14-1zm9-4zm-8-2zm7-2zm-2-1zm-2 0zm0-4zm-1-6zm18 34zm1 12zm5 7zm-3 3zm-2 0zm17 1zm-12 0zm4 1zm1 1zm-6 3zm13 2zm0 3zm-8 1zm3 0zm0 0zm5 1zm2 2zm-6 0zm7 1zm-7 5zm6 0zm-1 1zm-6 26zm-2 1zm6 3zm-8 2zm4 2zm-6 1zm-3 4zm8 1zm-5 6zm3 0zm-6 4zm7 1zm-11 1zm9 2zm8 1zm-7 3zm-8 0zm6 1zm11 3zm-16 2zm11 1zm-7 2zm14 1zm-4 1zm-10 1zm-2 4zm-3 1zm16 3zm0 1zm2 5zm3 2zm-5 28zm0 1zm-8 2zm9 1zm-3 2zm3 1zm-4 1zm7 2zm-8 1zm8 2zm-6 4zm-6 1zm-2 5zm7 2zm-13 9zm4 6zm13 2zm-2 3zm-17 5zm20 1zm-9 0zm9 1zm2 1zm-10 1zm2 0zm2 2zm0 1zm-11 1zm5 2zm-10 0zm22 1zm1 1zm-18 2zm6 0zm0 6zm-5 1zm1 2zm-1 3zm4 2zm2 0zm3 5zm-3 1zm6 2zm-1 1zm-11 7zm3 3zm-7 2zm21 3zm-17 1zm-4 2zm19 2zm2 3zm0 1zm-22 2zm22 1zm-7 8zm7 4zm-8 0zm5 14zm1 5zm-5 1zm7 0zm-1 2zm-9 0zm3 2zm0 5zm5 2zm-8 5zm0 3zm6 4zm-11 2zm-4 1zm17 1zm2 3zm-12 1zm-10 1zm15 1zm0 0zm-6 1zm-5 0zm11 1zm5 0zm-18 0zm20 3zm-22 1zm14 0zm7 0zm-20 0zm10 1zm-10 1zm4 2zm8 1zm-9 0zm10 0zm5 0zm-6 2zm9 1zm-1 3zm-15 0zm7 1zm-2 2zm4 1zm-8 3zm12 0zm-17 1zm17 3zm-7 5zm-12 0zm4 1zm-1 3zm9 2zm-13 3zm4 0zm2 3zm13 0zm-5 1zm-12 1zm18 1zm-7 0zm-4 3zm4 0zm10 0zm0 0zm-6 3zm-4 1zm-8 1zm-1 0zm18 3zm-15 1zm-1 1zm14 3zm-7 1zm9 1zm-20 0zm20 1zm-1 3zm-5 0zm-9 3zm8 0zm-5 2zm-5 1zm2 3zm5 1zm-11 3zm-1 1zm6 1zm14 0zm-15 0zm18 1zm-11 0zm-3 0zm2 2zm-7 3zm-2 2zm5 1zm8 0zm2 2zm-11 1zm6 2zm-9 1zm10 3zm9 1zm-5 0zm-13 2zm16 4zm-13 0zm13 2zm-12 0zm2 2zm-2 1zm5 0zm1 1zm-5 0zm2 1zm-1 6zm-7 1zm3 1zm8 1zm8 2zm-2 2zm-20 1zm6 0zm10 1zm-13 2zm16 1zm-5 2zm-3 0zm-4 1zm4 0zm11 0zm-10 0zm-12 1zm7 1zm16 3zm-15 1zm8 3zm-16 0zm17 0zm-10 1zm8 2zm-9 5zm9 0zm-2 1zm-5 1zm-3 2zm9 1zm1 1zm0 0zm-15 1zm10 0zm-8 0zm2 1zm17 0zm-21 3zm19 2zm-12 1zm5 0zm8 0zm-12 2zm14 0zm-8 1zm-2 1zm-7 2zm-4 0zm7 2zm14 1zm-18 1zm8 1zm11 0zm-9 2zm-10 0zm5 2zm2 0zm-8 1zm15 2zm-4 2zm-8 1zm14 1zm2 0zm-10 1zm3 0zm-8 1zm-6 0zm7 3zm-8 0zm9 1zm5 2zm-8 1zm-2 2zm-1 1zm11 2zm-6 1zm14 1zm-10 4zm-11 0zm11 0zm1 2zm7 0zm-1 1zm-18 0zm19 4zm3 0zm-22 0zm9 0zm-8 3zm0 2zm21 0zm-4 2zm-14 2zm-3 1zm17 0zm0 2zm-4 1zm-13 0zm3 1zm2 1zm0 5zm-2 0zm14 8zm-9 1zm7 1zm1 3zm-17 2zm1 1zm7 0zm3 3zm11 1zm-1 1zm-13 1zm-6 2zm0 0zm3 0zm-3 2zm10 5zm-8 3zm8 6zm-3 0zm10 0zm-1 0zm-18 2zm17 3zm-16 1zm15 2zm-11 1zm4 0zm1 1zm2 2zm-6 2zm-5 4zm7 1zm-7 1zm2 1zm14 1zm-10 2zm10 4zm-8 2zm9 2zm-16 5zm0 22zm20 6zm-3 6zm12 5zm3-8zm-11-1zm4-6zm11-10zm-12-1zm4-2zm5-10zm-2-2zm-1-4zm2-1zm-7-6zm1-10zm4-2zm2-5zm-5-1zm-3-3zm11-1zm-6-3zm1-3zm13-6zm-19-6zm9-2zm-5 0zm9-2zm-12-3zm8-3zm-10-1zm12 0zm4-3zm-15-3zm4-1zm10-5zm-17-2zm8-1zm-7-1zm13-1zm-13 0zm7-1zm-6 0zm16-1zm-10-2zm6-1zm-13 0zm-1 0zm3-1zm8-1zm-5-7zm0 0zm9-3zm-10-1zm15 0zm-20-1zm6-5zm1-1zm0-7zm-6-1zm22-2zm-14-2zm3-3zm-5 0zm-5-2zm11 0zm-6-2zm1-2zm8-1zm-3-2zm-13-2zm15-1zm-5 0zm1-3zm8-1zm-14 0zm8-2zm0-2zm-10-3zm17 0zm-6-2zm-3 0zm-5 0zm14-1zm-19-3zm22-1zm-18-1zm5-1zm4-2zm2 0zm-10-1zm-5-1zm11 0zm-4-1zm10-2zm-1 0zm-14-1zm14-3zm-10 0zm11-7zm1-2zm-5-3zm-13-5zm19-1zm-1-1zm-13 0zm4-1zm4-1zm5-2zm-16-3zm19 0zm-17 0zm0 0zm9-1zm-3-1zm11-1zm-12 0zm6-2zm6 0zm-15 0zm12 0zm3-1zm-19-1zm-2 0zm16-2zm-1 0zm-12-2zm1-2zm8 0zm10 0zm-11-2zm-10-2zm19 0zm-17 0zm4 0zm-8-1zm9-6zm11-4zm-5-2zm-13-1zm11-1zm-9-2zm17-2zm-3-1zm-5-2zm2-1zm3 0zm1-6zm-9-1zm-6-1zm0-5zm3-1zm7-1zm-4 0zm-6-1zm13-5zm-6-1zm-5-2zm-4-3zm19-3zm-20-2zm0 0zm14-1zm-7-2zm7 0zm5-2zm-13-1zm0-1zm-2 0zm9-1zm5 0zm-14-1zm10-1zm-11 0zm-3-3zm18 0zm-4 0zm-8-1zm16-1zm-16-1zm8-2zm3-1zm3-4zm-15 0zm-2-1zm10 0zm-3-1zm4 0zm-4-1zm-2-4zm-6 0zm13 0zm-6-1zm12-1zm-15-1zm9 0zm-5-1zm8 0zm-17-1zm8-2zm-8-1zm3-4zm13 0zm-11-1zm6 0zm-12-1zm13 0zm9-1zm-23-1zm12-1zm-4-1zm7 0zm-7 0zm15-2zm-7-1zm-10-2zm-4-1zm7-1zm5-1zm-9 0zm15-1zm-18-1zm9 0zm7-2zm-12-1zm8 0zm4-2zm-18-3zm15-1zm2-1zm-13-1zm17-1zm-12-1zm14 0zm0-3zm-6-1zm-14-2zm5 0zm3-1zm-10-2zm9 0zm9-1zm-6 0zm6-1zm-16-1zm6 0zm-4 0zm12-5zm-11-1zm1-1zm4-1zm-8-1zm6-1zm-5-2zm8-1zm-12-3zm14 0zm-7-2zm16-8zm-4-2zm4-2zm-13-4zm-10 0zm16-2zm-10-2zm4 0zm2-1zm5-1zm-8-1zm10 0zm-1-2zm-1 0zm-14-1zm8 0zm3-4zm-6 0zm14 0zm-3-1zm-7-1zm9-2zm-16-2zm15 0zm-4 0zm-9-1zm2 0zm7-1zm-10-1zm-1-3zm11-2zm-5-1zm11 0zm-11-1zm7-13zm-8-1zm0 0zm9 0zm-8-1zm-11-3zm6-1zm-5 0zm15-2zm-2-3zm-3-2zm4-1zm-15-1zm19-2zm-10-1zm-5 0zm8-1zm-7-3zm-3-2zm7 0zm12 0zm-19-6zm1 0zm17-4zm-16-8zm5-2zm-8-1zm1-5zm5-1zm-6-16zm2-4zm16 0zm-17-3zm21-4zm-4 0zm1-2zm1-7zm-18-10zm4-3zm16-4zm-16-2zm-2-1zm-1-1zm17-2zm-18 0zm-3 0zm20-6zm1-1zm-3-3zm-1-3zm3-5zm-4-1zm-3 0zm2-4zm4-2zm-4-5zm-1-3zm1-3zm-2-4zm-2-8zm0-1zm1-5zm-4-4zm2-6zm-3-3zm-4-6zm-1-2zm3-3zm-3-4zm-1 0zm0-1zm3-4zm42 44zm0 11zm-4 7zm3 3zm-2 8zm-1 3zm1 2zm-14 6zm7 1zm3 3zm-2 1zm-3 3zm0 1zm-8 2zm5 1zm-5 1zm11 2zm0 0zm-4 1zm10 2zm-13 0zm-6 1zm19 2zm-19 1zm22 0zm-14 2zm2 4zm4 1zm6 0zm-17 1zm10 4zm-1 1zm-1 1zm-11 5zm21 0zm0 1zm-9 1zm-1 6zm11 3zm-8 0zm6 4zm-2 4zm-4 3zm-2 6zm0 4zm0 1zm1 6zm2 1zm-11 1zm10 0zm-14 1zm13 2zm-13 1zm9 3zm12 2zm-8 0zm5 8zm-2 0zm7 6zm-7 13zm2 1zm-10 2zm14 2zm-6 3zm1 0zm-6 1zm-9 1zm9 1zm-2 1zm2 0zm11 0zm-20 3zm9 0zm-8 0zm-1 2zm2 3zm-1 0zm4 4zm4 3zm-5 2zm-4 5zm2 1zm-4 1zm8 2zm-6 4zm20 0zm-15 3zm2 4zm-9 0zm1 2zm17 0zm-2 0zm6 1zm-20 0zm19 3zm-13 1zm7 0zm4 1zm1 4zm-1 2zm-3 3zm-15 5zm11 0zm6 2zm1 1zm-13 3zm12 2zm-15 0zm12 2zm-12 0zm8 1zm-7 3zm2 2zm13 1zm-16 4zm-2 0zm20 1zm-20 1zm20 1zm-11 1zm4 2zm-13 1zm2 3zm6 0zm12 1zm-7 1zm-6 0zm12 2zm-13 0zm5 5zm1 4zm10 3zm-14 2zm3 0zm8 2zm-15 2zm13 1zm-13 3zm14 0zm-5 1zm5 1zm0 1zm-6 0zm2 1zm-10 0zm4 1zm-7 0zm17 0zm-11 2zm3 0zm-11 1zm5 2zm12 3zm-6 0zm-6 2zm-3 0zm13 2zm-7 2zm-4 1zm-3 0zm1 4zm15 2zm-15 4zm11 0zm-8 3zm6 2zm8 3zm-10 1zm-5 4zm1 2zm-1 3zm-4 4zm11 0zm-5 3zm-3 0zm-1 1zm20 2zm-21 1zm-1 1zm4 6zm13 3zm-14 1zm0 1zm19 2zm-13 3zm-4 3zm8 2zm-4 2zm2 2zm-5 3zm4 1zm4 0zm-6 5zm11 0zm-5 2zm3 0zm4 3zm-17 4zm18 0zm-16 1zm-6 4zm14 3zm-11 1zm-1 13zm8 1zm11 0zm-15 5zm-5 0zm13 12zm-7 2zm0 0zm12 0zm-18 4zm13 1zm8 1zm-11 7zm1 0zm5 4zm-16 3zm3 1zm9 2zm10 1zm-17 3zm10 2zm-2 4zm6 1zm-14 5zm-1 0zm5 12zm-9 10zm7 30zm12 2zm-1 5zm-8 7zm8 1zm-8 4zm2 0zm-9 38zm3 26zm3 11zm19-40zm-2-142zm0-12zm-2-15zm1-13zm15-1zm-12-2zm1-7zm12-23zm4-10zm-19-2zm5-1zm11-20zm-3-6zm3-3zm-19-9zm3-7zm5-12zm13-9zm-10-3zm-6 0zm2-8zm3 0zm-7-2zm-3-2zm3 0zm4-4zm15-1zm-14-1zm-3-2zm-3-4zm-1-4zm17-1zm-2-3zm-6-1zm-3-1zm9 0zm-6-1zm13-7zm-1-1zm-19-2zm-3-1zm1-1zm-1-8zm23-9zm-19 0zm6-6zm12-2zm-22-1zm9-5zm-9-1zm4-2zm18-1zm-2 0zm-16-2zm12-2zm-15-3zm19-1zm-11-1zm-3-1zm-4-1zm6-5zm6-1zm-6 0zm-5-1zm10-4zm0-1zm-10-3zm1-1zm2-1zm8-1zm-9-3zm15-3zm-19 0zm-1-4zm17-5zm-16-2zm5 0zm-1-3zm-1-3zm-3-2zm6-1zm15-5zm-5-1zm-12-1zm-1-1zm5-1zm0-3zm-6-1zm-2 0zm0-5zm2 0zm-1-5zm0-3zm-2-4zm3-7zm0-4zm0-1zm-2-13zm21-7zm-3 0zm-18-2zm14-1zm-14-4zm19-1zm-18-3zm15 0zm-6-2zm7-4zm-17-1zm14-2zm5-26zm-3-3zm-9-2zm5-1zm7-3zm2 0zm-6-1zm-8-3zm6-1zm-13-11zm-1-8zm18-7zm-18 0zm22-1zm-21-2zm15-4zm5 0zm-19-1zm-2-4zm22-1zm-20-5zm2-4zm1-3zm4-4zm-3 0zm1-1zm6 0zm-4-2zm13-4zm-13-2zm13 0zm-12-3zm1-2zm-1 0zm0-1zm7-3zm1-3zm-6-1zm-3-3zm7-3zm-5-2zm5-3zm-4-5zm5-2zm3-5zm0-3zm-1-1zm-2-6zm5-2zm1-7zm-2 0zm6-7zm1 1zm4 3zm1 1zm-8 1zm9 3zm-4 5zm7 2zm-3 6zm0 0zm-2 0zm5 3zm-8 0zm16 3zm-7 0zm-14 0zm7 1zm-1 4zm11 1zm1 2zm4 1zm-2 3zm-5 1zm0 2zm6 0zm-1 2zm-17 14zm5 3zm-1 4zm-4 1zm0 28zm-3 4zm4 19zm6 2zm-8 3zm3 4zm15 5zm-17 1zm20 1zm-21 3zm15 1zm-16 0zm17 4zm-14 4zm3 2zm-7 2zm5 4zm0 0zm-4 3zm-1 0zm10 15zm-8 1zm1 1zm6 3zm-6 3zm-2 4zm22 22zm-8 3zm6 2zm2 2zm-9 2zm4 2zm3 6zm0 2zm-18 15zm15 0zm-4 1zm-2 1zm-4 3zm4 2zm8 0zm-8 1zm9 2zm-13 1zm13 1zm0 1zm-16 5zm16 1zm-13 2zm15 1zm-16 4zm-3 2zm5 6zm-9 1zm13 2zm-13 2zm1 1zm6 1zm1 3zm11 4zm-10 1zm0 1zm10 3zm-12 2zm-5 4zm21 1zm-2 1zm-13 2zm12 5zm-1 0zm-17 0zm6 1zm11 3zm-6 1zm-10 1zm10 0zm7 1zm-9 0zm-8 1zm6 1zm13 1zm-6 1zm-6 4zm6 1zm2 0zm-10 6zm15 7zm-23 1zm20 0zm-20 1zm17 0zm-6 1zm3 2zm-10 0zm7 3zm4 1zm-5 1zm-2 3zm-3 1zm4 2zm9 2zm-10 1zm15 1zm-11 1zm7 2zm-8 4zm-3 1zm7 1zm-8 0zm4 2zm8 2zm-1 1zm-5 1zm2 1zm-7 2zm0 0zm4 4zm10 1zm-19 1zm17 2zm-4 1zm-9 0zm14 1zm2 1zm-17 0zm1 1zm4 0zm0 1zm6 1zm-16 1zm9 4zm0 0zm-6 1zm9 3zm6 4zm-19 2zm7 1zm7 1zm4 1zm-5 0zm-1 3zm1 1zm-2 5zm-1 1zm0 2zm-10 2zm22 1zm-14 2zm4 0zm11 1zm-9 3zm-7 4zm2 1zm12 2zm-20 6zm6 3zm2 2zm5 5zm-10 2zm6 5zm-3 6zm2 2zm6 4zm1 4zm3 1zm-7 0zm-3 1zm11 1zm1 1zm-4 0zm-9 0zm13 6zm-12 2zm-2 2zm14 4zm-7 1zm-8 1zm13 1zm-6 3zm-2 1zm8 1zm-13 1zm8 0zm5 5zm-9 1zm8 1zm-9 1zm-2 2zm9 1zm3 1zm-4 2zm-6 2zm-2 2zm6 2zm8 0zm-16 1zm2 2zm11 1zm-8 1zm3 0zm5 0zm0 1zm-1 6zm-3 4zm-3 1zm10 2zm-13 1zm4 0zm5 3zm6 1zm-10 0zm-3 1zm7 1zm-9 1zm9 2zm-8 4zm12 1zm-4 2zm-4 5zm6 1zm-9 0zm12 4zm-5 1zm2 1zm-7 0zm1 5zm8 2zm-1 1zm-10 2zm-2 1zm9 3zm-7 0zm0 1zm-2 1zm15 2zm-14 2zm-6 0zm19 1zm-14 0zm4 12zm8 0zm-4 5zm6 0zm-4 4zm1 3zm-2 1zm3 3zm-8 1zm1 0zm1 1zm4 4zm-8 1zm9 1zm-5 4zm-1 2zm4 3zm2 0zm1 1zm2 0zm-7 4zm2 3zm5 3zm0 0zm0 7zm-8 8zm3 8zm-1 0zm-7 2zm13 14zm-3 1zm-3 2zm7 2zm-7 4zm-7 0zm4 1zm-3 12zm9 0zm-6 5zm-9 1zm22-8zm-1 0zm1-1zm20-1zm0-7zm-4 0zm-10-5zm-7-3zm16-12zm-1 0zm-1-4zm6-5zm-7-2zm0-1zm2 0zm-1-2zm6-1zm1-2zm-10-4zm-11-3zm4-10zm-3 0zm11-1zm-6-9zm15-13zm-3-6zm-10-1zm-6-1zm18-4zm-17 0zm17-4zm-5-2zm-1-1zm-7-1zm14-4zm-5-1zm-10-2zm2 0zm13-1zm-11 0zm-3-4zm8 0zm5 0zm-12-2zm4 0zm-5-4zm1 0zm-8-1zm15-2zm-8-1zm8-1zm5 0zm-20 0zm10-1zm1-2zm-5-1zm-3 0zm19 0zm-19-1zm7 0zm-8-3zm2-3zm3 0zm-7-3zm22-2zm-12-1zm-10-3zm10-1zm-8 0zm18-2zm-15 0zm4-2zm-6 0zm-4-1zm6-3zm-4 0zm6-2zm3 0zm4-2zm2-1zm-13-1zm5-3zm2 0zm-8-1zm17-1zm-2-2zm-13-1zm16-1zm-12-1zm1-1zm2 0zm-12 0zm20-2zm-8-2zm-1-2zm-2-3zm4-2zm-3-6zm-7 0zm14 0zm6 0zm-11-1zm5 0zm-15-2zm16-1zm-15-1zm19-1zm-10 0zm-10-1zm4 0zm12 0zm-4-4zm6-1zm-7-5zm-4 0zm5-1zm-9-1zm13-5zm-7 0zm-11-1zm6 0zm13 0zm-3-1zm-12-5zm1 0zm-5 0zm9-1zm4 0zm6-1zm-9-3zm-10-1zm5-2zm15-4zm-8-2zm6-1zm-8-2zm-3-2zm10-2zm4 0zm-12-3zm7-1zm-4-1zm-7-2zm6-2zm5-1zm-15-1zm20 0zm-9 0zm-3-3zm-3-1zm9-2zm-6 0zm11-1zm-2-5zm-6-1zm-10-5zm-1-4zm7-3zm4 0zm-4-1zm-2-3zm9-2zm8-6zm-8-2zm3-1zm-11 0zm3-4zm13-2zm-9 0zm4-1zm-7-1zm-10-10zm6-2zm16-3zm-15-2zm7-2zm1 0zm-15-2zm4-1zm8-1zm-5 0zm1-2zm-2-1zm-7 0zm4-2zm7-2zm0-2zm-7-1zm-2-1zm11-5zm-8-1zm4-2zm-4-1zm7-1zm-6 0zm5-1zm7-1zm1-1zm-13-3zm7-1zm6 0zm-4 0zm-8-1zm11-1zm5-4zm-5 0zm-11-1zm1 0zm-2 0zm9-2zm-3-1zm-12-1zm1-2zm1-1zm1-2zm0-1zm5 0zm2-1zm7-1zm-9-2zm-6-1zm-1-5zm-1-3zm3-4zm5-2zm6-1zm4-2zm-11 0zm16-1zm-20-1zm9-1zm-11 0zm14-2zm-7 0zm0-3zm11 0zm-3-1zm-5-1zm7-1zm3 0zm-18-2zm4-1zm15 0zm-7-2zm-14 0zm15-1zm4-1zm-11-2zm-4 0zm0-4zm18-3zm-7-1zm-15 0zm17-6zm4-1zm-6-6zm-14-9zm3-5zm-2-3zm2-1zm10 0zm5 0zm-11-4zm7-2zm-3 0zm-12-1zm8-6zm5-1zm-11-4zm5 0zm6-2zm-14-1zm16-2zm-6 0zm-4 0zm-4-3zm3-1zm4 0zm8-1zm-7-3zm-5-1zm13-2zm-17 0zm8-1zm-1 0zm4-1zm2 0zm-9-4zm12-2zm-9 0zm5-2zm-4 0zm-4-2zm11-1zm-8-2zm8 0zm1-2zm-2-4zm5-13zm-3-1zm-2-1zm4-6zm-15-9zm16-2zm-12 0zm15-1zm-21-3zm6-3zm11 0zm-17-18zm-2-4zm11-43zm-6-3zm0-2zm5-1zm9-1zm0-2zm2-1zm1-10zm-2-7zm0-3zm-10-1zm5-2zm7 0zm-5-7zm-11-2zm-4-1zm-2-1zm8-3zm-8-7zm5-1zm-5-2zm25 41zm2 2zm-1 3zm-2 8zm2 2zm2 2zm-1 4zm3 6zm2 6zm-2 6zm0 1zm-2 6zm5 4zm2 2zm0 1zm1 2zm0 2zm-1 2zm2 4zm-9 2zm4 0zm5 1zm0 1zm1 1zm-5 1zm5 4zm7 2zm-5 1zm7 0zm-3 0zm-11 0zm3 0zm5 6zm4 2zm-20 17zm-1 3zm20 1zm-3 4zm-4 0zm5 3zm3 1zm-3 3zm-6 1zm-1 0zm1 10zm-5 0zm-2 2zm9 2zm-9 3zm7 1zm-2 0zm1 1zm-4 1zm7 4zm-6 2zm0 2zm7 1zm-8 4zm14 2zm-9 1zm-1 0zm11 44zm-3 3zm-16 2zm15 5zm-18 0zm7 1zm14 2zm1 0zm-10 1zm-9 1zm10 3zm-10 1zm1 0zm17 0zm-8 1zm2 4zm-13 2zm16 1zm-15 1zm10 0zm-5 2zm-1 2zm14 0zm-21 2zm14 1zm-6 3zm-3 2zm4 1zm8 2zm-15 1zm12 1zm-3 1zm-3 0zm9 1zm-5 1zm-11 0zm21 0zm1 2zm-18 3zm10 0zm-8 0zm13 2zm-13 0zm14 1zm-11 1zm7 1zm5 0zm-18 1zm8 0zm9 0zm-13 1zm-3 2zm17 1zm-2 2zm-9 2zm-9 1zm7 1zm-7 0zm0 1zm16 1zm-5 1zm10 0zm-5 0zm-7 1zm-9 1zm0 1zm-1 2zm3 0zm-3 3zm18 5zm-6 5zm7 1zm-3 0zm-11 1zm14 0zm-7 3zm9 2zm-7 1zm3 1zm-1 3zm6 3zm-22 3zm7 1zm8 1zm-15 1zm11 3zm-6 2zm0 0zm6 1zm-9 2zm16 1zm-8 0zm9 2zm-7 1zm-3 1zm13 1zm-20 1zm6 1zm-3 1zm12 1zm-12 0zm-3 1zm17 0zm-4 0zm-3 2zm-9 1zm16 3zm-12 0zm12 0zm-6 1zm6 1zm-7 0zm-4 3zm13 0zm-5 4zm-2 0zm7 1zm-9 2zm8 3zm-8 1zm-6 0zm13 1zm2 4zm-13 1zm14 5zm-2 5zm-15 1zm3 1zm-9 1zm19 4zm-16 0zm3 1zm13 4zm1 4zm-20 4zm20 2zm-2 1zm-15 2zm13 1zm-2 3zm-6 2zm13 2zm-19 1zm12 0zm2 1zm3 2zm-12 1zm9 2zm-2 1zm5 1zm-6 3zm2 6zm-1 2zm-10 4zm6 1zm0 1zm-4 1zm8 2zm2 3zm-7 0zm11 2zm-10 1zm-5 2zm17 0zm-19 2zm8 5zm10 0zm-2 1zm-9 3zm-6 0zm5 3zm-6 2zm0 4zm2 3zm7 0zm-12 0zm0 2zm9 3zm-7 1zm4 0zm-4 2zm-2 2zm7 1zm11 0zm-4 1zm9 3zm-13 0zm-6 1zm-1 4zm-1 2zm-2 3zm2 1zm3 1zm9 1zm-11 2zm1 1zm-2 5zm3 2zm6 0zm-10 6zm2 1zm2 4zm-4 6zm12 2zm-10 4zm11 2zm4 9zm-5 3zm-11 11zm5 7zm1 9zm-7 3zm16 7zm-7 4zm-6 2zm5 3zm-5 2zm5 3zm-6 3zm5 1zm4 0zm-12 2zm11 2zm-3 2zm-1 2zm6 0zm-5 16zm-5 6zm17 5zm-18 8zm2 7zm4 7zm29-12zm-2-16zm-2-10zm-9-33zm19-1zm-19-14zm7-14zm9-12zm2-2zm-7-1zm-11-7zm7-25zm10-1zm-8-3zm13-19zm-22-6zm11-3zm-6 0zm3-2zm7-8zm-4-4zm-4-7zm-1-6zm-4-1zm16-1zm3-7zm-6-4zm-7 0zm-2-3zm10-5zm-10-1zm-6-1zm13-7zm-12-2zm20-1zm-4-5zm-15 0zm-1-2zm11-5zm-4-5zm9-5zm2-2zm-4 0zm7 0zm-12-17zm6-1zm-16 0zm11-3zm2-3zm1-1zm1 0zm-2-2zm6-2zm-6-1zm1-7zm0 0zm-12-1zm6-1zm-4-2zm15-1zm-9-1zm-3-1zm6 0zm-8-1zm-3-2zm18 0zm-8-3zm4 0zm-10 0zm-4-2zm7 0zm-8-5zm-1-7zm9-2zm1-2zm-4 0zm17 0zm-12-1zm5-2zm-5-1zm12-1zm-14-4zm-5-3zm-3-2zm21 0zm-14-1zm-7-5zm4 0zm9-2zm-8 0zm3 0zm6-1zm3 0zm-8-6zm-7 0zm4-1zm3-5zm2-2zm11-1zm-12 0zm7 0zm-6-3zm11-1zm-1-2zm-11-1zm9-1zm-18-2zm4-2zm-1-1zm16-3zm-14 0zm4-1zm-6-1zm2-3zm2 0zm-7-1zm20-2zm-8 0zm3 0zm-13 0zm17-1zm-10-2zm-1-4zm11-3zm-8 0zm9-2zm-11-1zm-3 0zm-5-6zm11-3zm-3 0zm-1 0zm13-2zm-21-2zm18 0zm-2-2zm4-2zm-22-1zm21-4zm-19-1zm18-4zm-20-1zm7-1zm-5-2zm6-2zm13 0zm-3 0zm2-2zm-3 0zm6-1zm-20-1zm-1-1zm12-6zm2 0zm1 0zm3-2zm0-1zm-3-3zm6-1zm-5-7zm4-4zm1-5zm-1-9zm1-2zm-18-5zm-3-1zm8-2zm-7-4zm10-1zm-6-1zm7-3zm-10-1zm13-3zm-4-1zm-6 0zm7-1zm-5-4zm7-5zm4 0zm2 0zm-12-1zm-8-15zm1-4zm-1-5zm17-4zm-5-1zm8-1zm-7-5zm5 0zm-18-12zm1-2zm7-1zm0-5zm-7 0zm2-2zm4-5zm1-2zm1-6zm2-5zm0-1zm0-6zm0-3zm6-5zm-5-4zm0-1zm2-4zm-1-4zm2-6zm2-3zm0-2zm0-4zm0-1zm-1-1zm1-5zm0-4zm2-3zm0-6zm-1-2zm3-7zm18-66zm4 1zm-8 0zm10 7zm-10 4zm4 0zm-7 1zm-4 6zm3 1zm3 4zm-2 5zm0 1zm-1 2zm-2 5zm-3 3zm-2 6zm0 2zm16 3zm-6 1zm-10 1zm18 1zm-19 0zm0 2zm17 2zm-6 1zm4 1zm-15 1zm15 2zm-6 3zm1 1zm12 23zm-5 0zm-1 6zm5 1zm-12 22zm0 7zm-3 1zm12 12zm-4 3zm7 3zm-7 1zm-1 2zm-6 0zm6 6zm9 0zm-15 0zm4 3zm7 3zm-8 1zm5 4zm-4 1zm-4 3zm-2 6zm12 0zm-1 2zm-10 1zm0 3zm12 1zm-13 2zm16 1zm-4 1zm1 2zm-11 2zm4 0zm6 3zm4 0zm-14 1zm11 4zm2 0zm-15 1zm13 1zm-13 4zm11 3zm-11 0zm-1 4zm12 1zm-8 0zm9 4zm-1 0zm4 2zm0 1zm-14 1zm-7 1zm8 0zm12 3zm-3 1zm-9 0zm4 5zm7 0zm-6 1zm-5 2zm-2 1zm-5 2zm12 0zm7 2zm-17 2zm14 0zm1 2zm-13 2zm-1 0zm11 1zm-7 1zm13 7zm-13 1zm15 1zm-10 2zm-5 11zm-8 3zm12 1zm-10 2zm14 11zm5 4zm1 0zm-17 0zm-3 6zm11 1zm3 2zm1 1zm-17 6zm18 16zm1 1zm4 6zm-23 2zm12 0zm-1 12zm6 16zm2 0zm2 5zm-14 3zm14 0zm-7 6zm6 2zm-15 7zm17 5zm-14 2zm14 2zm-12 0zm-4 8zm16 0zm-22 4zm18 5zm-6 8zm9 11zm-4 44zm1 29zm-11 3zm0 7zm5 5zm-10 3zm16 3zm-15 20zm5 2zm-7 23zm21 9zm-10 3zm10 23zm-2 15zm-15 8zm18 14zm0 60zm5 16zm4-18zm7 0zm-9-5zm1-5zm15-1zm-9-2zm0 0zm0-4zm8 0zm-12-5zm9-3zm1-1zm-11-1zm-6-3zm9-1zm6 0zm-4-3zm-9-4zm17-1zm-18-1zm9-3zm-7 0zm15-2zm-14-1zm-6-2zm20-3zm-4-1zm4-1zm-15-7zm6-1zm8-1zm-11 0zm-7-2zm4-3zm14-2zm-4 0zm-11 0zm0-3zm12 0zm0-7zm-13-1zm10-2zm3-4zm-16 0zm23-1zm-8-1zm-14 0zm17-1zm-8 0zm-1-4zm12-2zm-18-1zm15 0zm2-2zm-18-2zm19-1zm-1-3zm-8 0zm-2 0zm-5 0zm5-1zm-7-3zm18-2zm-12 0zm-7-2zm3-2zm17 0zm-2-1zm-10 0zm-2-1zm12-4zm2-2zm-6-2zm-2 0zm-2-2zm11 0zm-13-1zm-9 0zm3-2zm14-1zm-5-1zm-6 0zm-4 0zm2-1zm13-1zm1-1zm-9-3zm7 0zm2 0zm-6-1zm-6-2zm2-1zm11-1zm-17-1zm10-1zm-4-1zm2-2zm-8-2zm2-1zm8 0zm8-1zm-20-1zm9-1zm6 0zm3-1zm-6-1zm-6-1zm2 0zm-4 0zm16-4zm2-1zm-16-4zm3-1zm5 0zm-8-1zm12-1zm-9-1zm9 0zm-4-2zm-2 0zm-11 0zm2-4zm7-1zm11-3zm-4 0zm-4-3zm-3-1zm9-1zm1 0zm-21 0zm8-2zm8 0zm-5-1zm-4-3zm2-1zm13-1zm-17 0zm-3-1zm15-2zm-4-1zm6-1zm-11-1zm6-1zm-7 0zm-6-1zm15-1zm-10-2zm3 0zm-8-1zm21-2zm-1 0zm0-1zm-13 0zm14-1zm-21-1zm5 0zm7-1zm-12-1zm12 0zm-9 0zm11-1zm5-1zm3-2zm-17-1zm3 0zm4 0zm-9-1zm14-1zm5-2zm-15-1zm6-2zm-10 0zm5 0zm-7-1zm21 0zm-10 0zm9 0zm-12-2zm8 0zm-18-5zm18-1zm-15-1zm10-1zm8 0zm-15-1zm11-1zm-2-1zm-8 0zm4-1zm-11 0zm1-1zm9-2zm1-1zm-9 0zm6-1zm7 0zm-11-2zm19-3zm-15-2zm-3-1zm14-1zm-15-1zm11-1zm-11-2zm18-2zm-20-1zm5-1zm0-7zm-1-3zm4-1zm-5-1zm-4-2zm12-1zm-12-2zm7-1zm-6-3zm-1-4zm20-2zm-16-1zm-2-2zm16-2zm-15-1zm-1-3zm13-2zm-11-2zm15 0zm-6-4zm-7-1zm1-1zm-2-1zm10 0zm-9-1zm2-2zm-5-4zm2-8zm-5-2zm8-4zm1-1zm12 0zm-20 0zm1-1zm9-1zm9 0zm-16-2zm12-2zm-9 0zm-3-3zm9 0zm-1-1zm4 0zm4-2zm-20 0zm11-3zm3-2zm-13 0zm4-1zm-2 0zm19-1zm-16 0zm9-3zm-16-3zm20 0zm-12 0zm14-1zm-10 0zm-8 0zm7-5zm4 0zm-7 0zm-2-2zm10 0zm-15-1zm6-1zm-3 0zm5-5zm2 0zm-9-1zm11 0zm-10-2zm7-1zm4-2zm-5-3zm-6 0zm14-3zm-2 0zm-13 0zm9-1zm2-3zm8 0zm-17-1zm17-2zm-19 0zm-2 0zm15-2zm-7-1zm0 0zm13-2zm-21-1zm8-1zm8 0zm-11 0zm7 0zm6-1zm-17-3zm22-1zm-3-1zm-20-1zm7 0zm14-1zm-5 0zm-4-1zm1-2zm4-7zm-16 0zm3-1zm-4-4zm6-2zm-3-1zm11 0zm7-1zm-18-1zm9 0zm-10-2zm1-2zm-1-4zm4-1zm-6-1zm0-3zm21-1zm-21 0zm3-1zm8 0zm11 0zm-14-3zm9-1zm-12-3zm16-1zm-12-2zm-5-1zm0-2zm3-3zm-5-3zm1-1zm20 0zm-23 0zm10-2zm-8-2zm5 0zm-3-4zm-1-1zm-3 0zm9-1zm13-1zm-2 0zm-19-5zm5-1zm-4 0zm20-2zm-12-3zm3-1zm2-3zm-8-2zm5-4zm4-2zm-15-2zm12-2zm9-1zm-8-2zm6-1zm-19-6zm0-8zm18-7zm-4-2zm8-1zm-10-5zm10-3zm-8 0zm8-2zm-16-3zm9 0zm-13 0zm11-3zm1-1zm-9-2zm-3-2zm7-1zm1-1zm-5-1zm10 0zm-3-1zm-7-3zm0-42zm5-2zm9-8zm-1-33zm2-6zm-9-1zm-3-3zm2-7zm-4-5zm2-3zm-3-5zm-2-4zm-4-8zm0-3zm27 42zm5 2zm2 4zm-5 2zm5 1zm-7 1zm-3 4zm12 3zm-3 1zm7 2zm-8 1zm-8 0zm14 4zm-2 3zm6 2zm-1 2zm-2 0zm3 5zm-14 0zm-4 1zm19 0zm-11 1zm8 3zm-15 0zm16 2zm2 9zm3 1zm-15 9zm2 4zm6 1zm7 2zm-8 24zm-4 1zm-7 3zm14 1zm-8 3zm3 1zm5 2zm-6 5zm-11 1zm1 1zm4 1zm6 1zm-2 7zm14 11zm-7 2zm1 3zm5 1zm-5 10zm-3 2zm7 0zm2 4zm-8 2zm-14 8zm8 1zm-3 2zm-3 1zm13 0zm-15 4zm6 0zm14 1zm-6 0zm-3 2zm-12 3zm17 1zm3 1zm-16 0zm17 2zm1 1zm-8 2zm-9 1zm6 3zm7 0zm1 3zm-15 0zm0 1zm10 0zm-5 1zm-1 1zm-7 1zm13 0zm-3 1zm6 3zm-16 0zm21 0zm-19 2zm7 1zm0 0zm13 1zm-19 2zm5 1zm13 1zm-4 5zm3 1zm-10 0zm1 2zm4 3zm3 11zm-11 1zm-3 2zm0 1zm10 1zm6 1zm-6 1zm-14 2zm8 1zm2 1zm7 0zm-12 2zm5 3zm8 1zm-18 1zm15 2zm1 3zm-14 2zm13 2zm2 1zm3 1zm-11 0zm-7 2zm15 2zm-8 0zm1 0zm-8 4zm10 0zm-5 2zm1 1zm6 2zm-1 2zm-6 2zm-8 7zm19 3zm2 2zm-10 0zm-6 0zm0 0zm0 2zm7 0zm-5 1zm3 0zm-10 1zm19 1zm-5 2zm6 1zm-12 1zm-4 2zm0 1zm16 2zm-12 3zm12 2zm-15 2zm-4 1zm16 2zm-7 4zm6 5zm-7 1zm4 4zm4 13zm-7 2zm7 1zm-17 0zm8 1zm7 3zm-15 1zm23 0zm-18 3zm7 0zm-7 0zm-2 2zm7 0zm-7 5zm5 1zm-3 9zm5 4zm-8 2zm3 3zm2 1zm-2 8zm18 2zm-23 1zm21 1zm-8 0zm-13 3zm8 1zm10 2zm-14 3zm0 2zm-4 3zm0 5zm1 1zm7 12zm8 1zm-15 1zm-1 1zm8 5zm-1 0zm-2 6zm3 3zm-6 2zm16 1zm-7 0zm11 2zm-20 0zm3 1zm13 2zm-7 0zm5 1zm-15 3zm20 2zm-21 5zm18 0zm1 2zm1 2zm-2 4zm-4 1zm4 1zm-18 1zm7 1zm15 0zm-10 2zm5 2zm-3 0zm7 0zm-10 2zm8 5zm-12 1zm-3 1zm0 1zm-4 0zm16 2zm5 0zm-8 1zm-3 0zm-2 0zm8 2zm4 1zm-16 0zm2 1zm6 0zm6 1zm-10 2zm-7 1zm14 0zm2 3zm-11 1zm8 1zm1 0zm-14 1zm7 1zm-5 4zm6 1zm9 1zm-17 1zm21 0zm-19 1zm1 2zm8 0zm-9 0zm13 0zm-4 3zm-11 0zm13 2zm-8 0zm5 1zm-7 3zm14 1zm-9 2zm5 0zm9 1zm-21 1zm6 1zm5 3zm4 1zm-13 2zm12 0zm-9 1zm-7 0zm16 4zm0 1zm0 0zm-8 1zm12 1zm-13 3zm0 0zm-7 0zm14 1zm5 1zm1 3zm-15 1zm-1 1zm6 0zm-10 2zm6 3zm10 0zm-11 1zm4 2zm-1 2zm8 1zm-10 1zm9 2zm-3 2zm-1 6zm-8 1zm11 3zm-10 0zm19 2zm0 4zm-14 1zm0 2zm-5 1zm-3 2zm20 2zm-10 0zm-10 0zm3 5zm19 2zm-7 3zm-4 1zm-11 5zm-1 1zm20 0zm-3 1zm-1 0zm-14 3zm19 0zm-12 5zm11 4zm2 1zm-11 28zm-1 0zm-3 23zm-6 2zm35-9zm-10-10zm1-31zm0 0zm0-34zm3-21zm17-4zm-21-10zm2-1zm12-1zm-10-4zm-1-3zm-3-4zm2-3zm0-2zm16-2zm-15-10zm18-12zm-20-1zm10-3zm-5-2zm13 0zm-5-4zm-15-7zm2-6zm14-7zm-13 0zm-1-1zm10 0zm-12-1zm17-1zm-16-2zm3-2zm-5 0zm7-2zm11-1zm-15-1zm3-3zm-3 0zm3 0zm7-2zm7-3zm-16-4zm3 0zm-5 0zm4-1zm15-2zm-10-1zm5-2zm-10-1zm-6 0zm12-2zm3-2zm4-2zm-3 0zm-9-3zm-3-3zm0-1zm2-1zm0-1zm-5-1zm6-6zm7-1zm5-2zm-10 0zm12-4zm-14-1zm6-3zm7 0zm-13 0zm-7-3zm11-2zm5-2zm5 0zm-2-1zm-12-1zm9-4zm3-7zm-2-5zm1-4zm-13-3zm10-3zm-3-1zm-11-2zm19-2zm-11-2zm9 0zm-9-1zm13-1zm-3-1zm-3-1zm1-1zm-9 0zm-6-2zm9-1zm9-2zm-20-2zm11-1zm5 0zm-8-2zm11-2zm3-2zm1-7zm-4-3zm-6-2zm3-3zm6-1zm-3 0zm-10 0zm13-3zm-11-2zm-1 0zm1-6zm6 0zm-5-2zm8-1zm-4-4zm3-4zm-1-3zm-15-6zm19 0zm-1 0zm-19-2zm18 0zm-6 0zm-11-2zm18-1zm-12 0zm-5-2zm15-3zm-10 0zm7-2zm-13-1zm-2-6zm6-1zm-6-1zm8-4zm-7-1zm0-2zm11-2zm-5-2zm-5-3zm19-9zm-4-1zm-1-5zm6-2zm-3-1zm-20-4zm2-4zm9-1zm-5-1zm-4 0zm2-3zm-4-2zm7-1zm8 0zm-14-3zm13 0zm-4-2zm-3-1zm-2-8zm1 0zm5-1zm-11-4zm10-2zm-9-1zm8-3zm-6-1zm0-6zm3-6zm-6-3zm17-6zm4-5zm-6-1zm6-1zm-3-5zm-3 0zm2-3zm-1-6zm-1-3zm8-1zm-4 0zm-1-4zm-4 0zm6-5zm2-7zm-18-5zm-3-3zm8-2zm-2-4zm-4-1zm19-6zm-10-14zm-9-2zm1-2zm7 0zm-6-2zm14-2zm-14-1zm3-4zm5 0zm5-1zm-11-2zm-1-3zm7-2zm-9-1zm0-6zm-1 0zm-2-8zm3-2zm1-4zm-5-1zm3-5zm-1-4zm-1-2zm-1-3zm1-3zm1-1zm43-69zm0 5zm0 3zm0 2zm-2 5zm1 5zm-5 5zm6 3zm-4 2zm0 3zm-1 6zm-6 4zm4 1zm2 4zm1 4zm-5 4zm-2 2zm-1 5zm7 1zm-7 1zm10 7zm-8 0zm-2 1zm14 1zm-16 1zm2 4zm1 3zm1 6zm-4 1zm-4 5zm2 4zm-1 9zm-1 2zm0 9zm-2 7zm21 1zm-5 3zm-1 6zm3 6zm-15 3zm2 0zm11 1zm-2 1zm2 3zm-13 1zm2 0zm11 0zm-16 1zm11 2zm-9 3zm10 3zm10 1zm-3 1zm-13 1zm0 1zm10 3zm-15 1zm14 4zm-8 2zm14 0zm-21 2zm10 1zm3 1zm4 0zm-3 0zm-10 1zm-1 0zm-4 1zm1 2zm0 5zm10 0zm-1 0zm-4 1zm8 2zm-13 2zm16 0zm-16 3zm2 1zm1 0zm8 1zm0 2zm-3 2zm-7 1zm0 2zm12 0zm2 2zm4 1zm2 5zm-13 4zm7 1zm3 1zm-7 0zm-6 1zm13 0zm-5 3zm4 2zm-8 1zm4 6zm5 0zm-3 3zm-7 1zm0 2zm4 3zm8 5zm-3 1zm-11 5zm6 1zm-11 1zm14 0zm-3 4zm-4 0zm2 1zm-2 1zm-5 2zm0 1zm9 0zm5 1zm4 2zm-10 2zm3 5zm-1 0zm-6 1zm-2 4zm-6 1zm5 1zm13 3zm-15 0zm11 1zm8 1zm-19 1zm17 1zm-8 1zm-8 2zm-1 7zm10 0zm-10 0zm19 3zm-20 2zm9 1zm-10 2zm14 2zm-14 5zm-1 1zm15 1zm-7 2zm-5 1zm0 2zm13 1zm-13 1zm16 3zm-6 1zm4 2zm-14 0zm14 1zm-4 1zm-12 2zm0 2zm-1 3zm7 1zm2 6zm-6 8zm8 6zm-7 1zm10 1zm9 4zm-21 0zm4 2zm7 0zm-10 2zm3 2zm15 0zm-1 2zm2 3zm-19 0zm8 1zm2 1zm-7 0zm5 4zm-11 1zm5 4zm-3 0zm5 1zm11 6zm-15 3zm20 6zm-13 5zm-1 3zm-5 7zm-2 8zm5 0zm-4 2zm11 5zm-5 1zm4 3zm9 6zm-6 1zm-9 7zm2 7zm13 3zm-19 3zm0 3zm6 1zm5 16zm-8 1zm-6 4zm13 0zm-11 7zm13 2zm8 10zm-17 9zm2 16zm-7 0zm10 1zm2 14zm-4 4zm-4 4zm1 5zm7 18zm10 1zm-12 3zm-1 6zm-4 33zm0 17zm-5 21zm38 23zm7-15zm-14-20zm12-2zm3 0zm0-6zm-3-11zm3-3zm-4-4zm-3-5zm2-11zm4-4zm-6-7zm0-8zm7-4zm0-3zm-4-11zm-3-15zm1 0zm6-6zm-4 0zm-3-2zm-6-8zm10-1zm-1-1zm3-3zm-2-2zm-2-3zm2-4zm3 0zm-2-10zm0-1zm-2-1zm2-6zm2-1zm-23-2zm18-2zm4-3zm0-2zm-18-2zm19-7zm-3-1zm-1-2zm-10-5zm2-2zm10-1zm1-4zm-1-8zm-3 0zm0-2zm1-5zm1-7zm2-7zm-20-2zm19-2zm-2-5zm0-1zm1 0zm-9-2zm9-1zm-1-2zm1-3zm0-6zm1-1zm-5-2zm-5-1zm7-5zm-10-1zm15-7zm-5-1zm-1-4zm2-3zm1-6zm-3-1zm4-2zm-4-6zm-2-2zm5 0zm-13-4zm16-1zm0-2zm-20-3zm17-2zm-20-4zm13-1zm5-1zm-12-3zm2-1zm11 0zm3-1zm0-9zm-22-1zm14-2zm-7-1zm14-1zm-4-4zm6-5zm-2 0zm-2 0zm0-2zm1 0zm-9-2zm-9-1zm-1-3zm22-1zm-1-1zm-6-1zm6-4zm-13 0zm-3-1zm15-2zm-19 0zm1-1zm19 0zm-7-3zm8 0zm-19-1zm9-1zm0-1zm-11-1zm19-1zm-13-1zm13-1zm-19-2zm18-1zm-17-1zm18 0zm2-4zm-1-2zm-6-3zm-7 0zm5-1zm5-2zm-7-1zm-12-1zm14 0zm-10-4zm12 0zm7-7zm-2-2zm1-1zm-3-1zm3-2zm-5 0zm-6-2zm-2-1zm7-2zm1-2zm2-7zm-3-4zm-2-2zm9-3zm-9-1zm4 0zm-14-5zm13-1zm3-2zm1-1zm-1-1zm-9-1zm-8-3zm17-1zm-4-2zm-3 0zm10-4zm-17-3zm12-1zm4-4zm-9-1zm5-2zm-1-6zm-8 0zm13-1zm-18-1zm8-3zm-4-1zm-6-3zm4-1zm1-3zm-1-3zm-1-4zm-1-1zm7-2zm-7-2zm1-5zm1-1zm-2-4zm-2-8zm5-4zm-1-2zm-4-8zm-2-4zm2-8zm1-1zm14-14zm-1-1zm-5-4zm8-1zm-14-29zm5 0zm-10-1zm9-2zm7-2zm-10-1zm-5-1zm10-1zm-3-3zm-6-1zm17-31zm-2-3zm1-3zm-16-31zm16-2zm-2-4zm-12 0zm12-1zm-13-3zm20 0zm-3-3zm2-3zm-16-1zm16-3zm-15-2zm0-1zm1-2zm10-1zm-6-1zm5-5zm-9 0zm2-2zm-2-2zm6 0zm-5-1zm4 0zm-3-1zm-1-1zm0-1zm17 28zm3 10zm3 3zm-7 0zm4 6zm6 1zm0 1zm3 3zm3 1zm2 3zm-1 5zm1 2zm0 4zm-18 3zm3 3zm2 1zm-3 6zm-3 1zm14 24zm2 5zm-6 2zm7 24zm-5 2zm8 3zm-1 1zm1 1zm-7 0zm3 6zm3 2zm3 55zm-6 0zm7 21zm-4 2zm-1 1zm4 5zm-10 6zm-10 2zm5 2zm1 3zm-3 0zm7 2zm1 1zm-8 0zm-2 14zm11 2zm-10 2zm11 0zm-12 2zm17 1zm0 14zm-15 1zm10 3zm6 2zm-8 0zm-12 1zm0 1zm7 1zm13 1zm-8 2zm5 1zm-12 3zm5 12zm-6 1zm-4 4zm7 2zm2 0zm9 1zm-6 5zm4 0zm2 4zm-9 2zm3 1zm-13 0zm6 2zm6 1zm-5 2zm-2 1zm1 2zm6 4zm-7 1zm6 7zm6 2zm6 3zm-10 2zm-11 0zm11 1zm5 1zm-10 0zm7 2zm-7 0zm-4 3zm17 4zm-11 2zm6 3zm-10 2zm1 1zm13 1zm-11 0zm0 1zm4 0zm-12 1zm14 1zm3 2zm-16 1zm-1 0zm8 1zm12 4zm-5 3zm7 4zm-2 0zm-9 2zm6 4zm5 6zm-20 1zm-1 1zm1 3zm15 1zm-14 2zm7 2zm2 0zm-3 2zm-3 0zm14 1zm-1 3zm-3 3zm-8 2zm10 0zm-2 3zm1 0zm-2 3zm-13 5zm14 1zm-7 1zm4 1zm6 0zm-16 2zm15 0zm-18 3zm15 2zm6 2zm-7 1zm4 0zm-19 1zm12 1zm-12 2zm11 0zm-5 1zm8 0zm-7 1zm1 2zm-3 0zm14 0zm-6 1zm7 1zm-4 3zm0 0zm-11 0zm14 0zm-19 0zm8 1zm-7 1zm5 0zm13 1zm-8 3zm-3 0zm-5 1zm9 1zm-1 1zm11 2zm-4 0zm0 0zm1 1zm-18 1zm22 1zm-8 1zm-14 0zm4 2zm7 1zm2 3zm-3 2zm-11 0zm9 1zm-7 1zm14 0zm6 1zm-11 0zm-10 0zm18 0zm4 3zm-7 2zm-15 1zm10 1zm0 0zm10 2zm-6 0zm5 0zm-9 2zm-7 1zm14 1zm-10 0zm-8 2zm5 1zm5 2zm-8 2zm8 1zm9 0zm0 3zm-19 1zm6 1zm-3 2zm11 0zm-7 1zm1 0zm8 2zm6 1zm-1 0zm-19 1zm1 3zm14 1zm-10 1zm11 0zm-7 0zm-11 1zm17 2zm-4 1zm4 3zm-2 1zm3 1zm0 0zm0 1zm-11 0zm-4 1zm14 0zm0 1zm-15 2zm6 2zm6 0zm6 0zm-9 0zm-11 1zm22 1zm-14 2zm-8 0zm1 1zm12 1zm2 1zm-12 2zm16 1zm-6 0zm-2 1zm-9 0zm2 0zm6 1zm3 4zm2 0zm3 1zm-13 2zm12 0zm-4 2zm3 1zm-15 3zm21 0zm-4 1zm-11 1zm5 2zm8 2zm-9 0zm12 0zm-12 0zm-4 2zm1 1zm9 1zm5 4zm-3 4zm-12 1zm11 2zm-2 1zm-13 0zm11 1zm-9 1zm9 2zm5 2zm-9 0zm3 2zm10 0zm-4 0zm-19 4zm8 1zm-3 1zm7 0zm8 1zm-2 1zm-18 2zm8 1zm5 1zm2 4zm-5 1zm-5 2zm15 0zm-7 0zm-6 2zm-7 0zm16 2zm5 1zm-5 9zm5 4zm1 2zm-7 0zm0 5zm3 0zm-13 1zm15 0zm-12 3zm-2 0zm9 4zm-9 3zm13 1zm-15 1zm2 5zm-3 0zm1 5zm13 1zm-6 4zm-7 1zm16 1zm-6 0zm3 1zm-11 3zm6 2zm-3 2zm9 1zm-1 2zm-3 0zm2 2zm-9 3zm9 5zm-14 5zm2 3zm8 8zm9 6zm26-20zm-12-17zm4-5zm5-1zm-10 0zm2-2zm-12-3zm7-2zm7-3zm-6-1zm14 0zm-2-2zm-8-13zm-8-9zm15-8zm-12 0zm-4-1zm-2-1zm-1-1zm13-2zm-12 0zm5 0zm12-2zm-14-2zm12-6zm-12 0zm6 0zm7-1zm-13-3zm1-1zm11-1zm6-1zm-7-5zm-5 0zm1-2zm-8-1zm7-1zm-1-4zm-2-2zm-5-3zm-2-1zm22-1zm-19-1zm-1-4zm20-5zm-20 0zm12-1zm-4-4zm5 0zm-2-2zm4-1zm-12-1zm16-2zm0-2zm-4-1zm5-1zm-20 0zm9-1zm4-3zm-8-3zm-7-1zm13-1zm-5-1zm-7-1zm15 0zm4-1zm-4-1zm-13 0zm7-1zm3-5zm0 0zm-9-1zm16-2zm-18 0zm15 0zm-7-1zm-7-2zm19 0zm-17-2zm-5-1zm17 0zm-9 0zm3-2zm8-3zm-9-1zm12-1zm-3-3zm-7-2zm-12-1zm5 0zm11-1zm0-2zm-1-3zm8 0zm-8-2zm-13-2zm0 0zm8-2zm-10 0zm22 0zm-15 0zm6-1zm-3-2zm8 0zm-14 0zm7-2zm11 0zm-18 0zm9-1zm10 0zm-19-1zm10-1zm9-1zm-20-1zm16-3zm-9 0zm9-5zm-10 0zm6-1zm-12 0zm0-2zm1 0zm-3 0zm9-3zm13 0zm-3-2zm-12-4zm-7-1zm-1 0zm2-1zm19 0zm-21-10zm18-3zm-10-1zm-7-1zm4-2zm12 0zm-3-3zm-3 0zm-2-2zm11 0zm-1 0zm-1-1zm-13-1zm-3-1zm1-1zm17 0zm-8-1zm-3-1zm-2-2zm-7-1zm8-1zm3-1zm3 0zm-5-1zm9 0zm2-2zm-16-2zm-3-1zm5 0zm9 0zm8 0zm-7-1zm-14-1zm6 0zm-1-2zm9 0zm-1-1zm8 0zm-14 0zm8 0zm-16-2zm2 0zm16-2zm-2-1zm-12-2zm5 0zm-10-1zm18-1zm-5 0zm-9-1zm3-1zm7-2zm-14 0zm19 0zm-6-1zm8 0zm-19-1zm9-3zm-6-1zm-1-1zm-2-6zm12-1zm-5-1zm-5-5zm14 0zm-14-1zm7-2zm4 0zm-7-1zm-8-2zm18-2zm-12-2zm-2 0zm-4-5zm2-4zm6-3zm0 0zm1-1zm5-1zm0-2zm0-1zm-12-1zm9 0zm11 0zm-9-3zm-7-1zm1-4zm9-5zm-9-3zm6-1zm7-4zm-19 0zm8-2zm14-1zm-18-1zm15-4zm-7-1zm-5-5zm10 0zm-2-1zm3-1zm-14-1zm8-1zm-3-4zm-10-4zm7 0zm5-1zm8-1zm-19-4zm15-1zm-6-2zm-7-1zm4-1zm12-2zm-6-1zm-13-1zm11 0zm7-3zm-11-1zm-3-2zm11-1zm8-2zm-7 0zm-8-1zm3-3zm0-2zm9-3zm-8 0zm-9-3zm11-1zm-7-1zm7-1zm-10-2zm-1-2zm14 0zm5-1zm-18-1zm-2-2zm9-1zm3-1zm-14-12zm20-2zm-5-4zm-3-1zm8-1zm-16-1zm10-1zm2 0zm7-2zm-8-1zm-1 0zm8-2zm-11-1zm6-1zm-5-1zm4-4zm6 0zm-11-3zm-7-7zm-1-7zm-1-7zm-2-2zm8-3zm-2 0zm17-1zm-2-4zm0-1zm1-3zm-13-16zm3-6zm-7-1zm18-8zm0-8zm-7-11zm-5-2zm-2-3zm9-2zm-5-3zm-9-3zm-4 0zm9 0zm13-6zm-20 0zm7-1zm-5-1zm19-3zm-4-6zm2-5zm-1-1zm1-6zm-6-9zm4-3zm-5-3zm-7-4zm5-3zm0-4zm1-1zm-2-6zm-2-7zm-1-3zm4-1zm-12-5zm7-1zm1-5zm38 67zm-21 15zm0 3zm15 3zm5 0zm-16 2zm5 0zm7 4zm-10 4zm0 0zm12 3zm-8 0zm-1 1zm-8 5zm0 3zm6 3zm-5 1zm19 8zm-6 1zm-3 4zm9 0zm-3 3zm-4 1zm-7 4zm-6 5zm2 1zm8 0zm-10 3zm3 1zm4 1zm-1 1zm4 3zm4 1zm-12 1zm15 4zm-15 29zm-2 2zm9 1zm5 1zm-6 2zm9 0zm-18 1zm11 2zm7 3zm-4 1zm-2 1zm2 2zm-9 0zm10 2zm-16 4zm12 1zm-2 4zm-7 1zm3 1zm2 2zm3 0zm-9 3zm14 2zm-13 2zm10 0zm-7 1zm-3 2zm13 1zm2 1zm-8 0zm-10 1zm10 2zm1 1zm6 0zm1 2zm-5 1zm-10 0zm-2 3zm-1 3zm3 16zm6 1zm1 1zm-9 1zm5 6zm-4 1zm17 1zm0 1zm-1 1zm-4 4zm8 6zm-2 1zm-18 0zm19 1zm-7 3zm2 1zm7 2zm-23 0zm4 1zm2 4zm-2 3zm19 1zm-4 1zm-19 1zm21 4zm-7 0zm1 0zm5 2zm-3 2zm-8 1zm11 4zm-3 1zm4 3zm-1 3zm-5 3zm-5 1zm9 2zm2 1zm-2 4zm-8 0zm-4 0zm5 2zm3 1zm-15 0zm14 1zm-9 1zm13 0zm3 1zm-20 3zm15 1zm-7 0zm7 1zm-2 3zm7 2zm-4 5zm-3 4zm-4 5zm10 2zm-11 0zm-1 3zm-4 1zm5 2zm-6 1zm1 2zm7 1zm-1 1zm11 0zm-6 1zm-2 1zm-12 0zm4 1zm-4 1zm20 3zm-2 3zm-5 0zm-11 0zm13 2zm4 1zm-8 1zm-12 1zm0 0zm4 2zm2 2zm-4 1zm13 1zm-14 1zm8 3zm13 1zm-20 0zm-2 1zm8 0zm-3 3zm1 2zm1 1zm-5 0zm4 8zm10 1zm-7 1zm14 1zm-5 0zm-8 2zm-8 1zm1 0zm18 4zm-15 2zm13 0zm-4 2zm-11 0zm14 2zm4 3zm-8 0zm-14 3zm18 1zm2 1zm0 1zm-18 1zm5 4zm0 0zm0 1zm-1 1zm-3 2zm9 3zm3 3zm-15 1zm2 3zm7 0zm-8 2zm14 1zm0 3zm8 2zm-1 3zm-5 1zm-3 4zm-7 2zm15 8zm-7 1zm-6 4zm-7 3zm14 3zm-12 1zm9 2zm5 0zm-15 5zm1 1zm10 4zm2 1zm-13 13zm12 2zm8 11zm-3 3zm-14 1zm8 4zm-1 7zm1 1zm1 1zm8 3zm-15 4zm13 30zm-3 6zm-18 15zm20 8zm-14 8zm2 30zm15 2zm3-26zm1-24zm7-9zm-7-1zm4-28zm8-6zm-6-31zm4-1zm-8-7zm11-1zm-11-10zm-5-2zm9-2zm-7-8zm18-17zm-13-1zm-3-4zm4-20zm-3-15zm6-4zm-4-8zm-2-17zm-4-2zm14-2zm-12 0zm6-3zm-4-10zm17-3zm-22 0zm5 0zm-2-1zm2-1zm2-12zm1-2zm-3-1zm-2-7zm0-1zm-1-2zm20-4zm-13-16zm-1-5zm-7-1zm4-2zm1-5zm13-3zm-8 0zm-1-3zm4-11zm5-1zm-18-1zm20 0zm-9-9zm9-4zm-5-2zm-11 0zm4-4zm-8-2zm-1-5zm0 0zm23-6zm-9 0zm-11-2zm18 0zm-10-2zm-2-1zm3-4zm5-1zm-15-3zm-1-3zm3 0zm8-2zm-11-1zm21 0zm-18-1zm-4-2zm8-3zm5-2zm-6-2zm-6-5zm7 0zm-5-5zm3 0zm3-6zm2-1zm-4 0zm2-1zm-3-6zm-6-1zm9-2zm-4-2zm4-1zm-8 0zm22-2zm-13-3zm-3-1zm11 0zm-15-1zm6-1zm-8 0zm16 0zm-11 0zm3-3zm-9-3zm4-2zm-3-2zm7 0zm-2-2zm11 0zm-7-1zm-6-2zm13 0zm-10 0zm16-1zm-10-2zm2-2zm-9-2zm11-1zm-12-1zm0-3zm16-4zm-15-1zm1 0zm1-1zm15-2zm-15 0zm1-3zm8-3zm0-1zm1-3zm-6-1zm8-2zm-5-2zm-6 0zm-9-1zm20 0zm-13-3zm8-1zm-7-1zm-8-2zm18-2zm-15-1zm10 0zm2-3zm-8-1zm8-1zm2-3zm2-3zm4-6zm-15-5zm4-1zm6-1zm-1-4zm-5 0zm-8 0zm4-3zm13-2zm1-2zm1-4zm-1-6zm-3-2zm-2-2zm-5-3zm6-4zm-7 0zm-11-16zm0-8zm0-1zm0-6zm11-1zm-7-2zm2-3zm-3 0zm-1-4zm0-3zm2-3zm0-3zm0-2zm0-2zm1-5zm4-6zm-2-7zm2-5zm3-3zm0-7zm3-1zm-3-3zm10-1zm-12-3zm2-2zm1 0zm0-8zm-1-8zm3-3zm2-5zm2-1zm-2-1zm6-2zm-6-9zm3 0zm3-3zm0-3zm-2-1zm1-3zm9-32zm-2 19zm3 0zm-7 2zm6 0zm-3 1zm2 1zm6 4zm-6 2zm-6 0zm14 0zm-12 3zm16 2zm-11 2zm12 3zm3 0zm-1 1zm-21 1zm4 2zm0 6zm18 2zm0 4zm1 2zm-23 31zm13 42zm4 3zm-9 2zm8 2zm-4 2zm-6 1zm7 3zm-3 4zm0 2zm7 1zm-17 21zm3 3zm7 1zm-5 0zm9 7zm-7 2zm-1 1zm-2 2zm-4 0zm2 1zm20 11zm-20 2zm17 1zm-16 2zm-3 5zm3 0zm0 8zm2 7zm-3 0zm11 3zm8 3zm-5 1zm-5 0zm-3 1zm-4 0zm7 2zm-4 3zm14 2zm-2 2zm-16 1zm0 4zm20 2zm-18 0zm2 0zm12 1zm4 2zm-11 1zm3 2zm-12 0zm11 1zm-2 7zm-12 2zm4 2zm14 3zm-6 0zm-1 2zm-2 3zm-2 0zm-2 2zm0 0zm-3 1zm14 0zm-2 1zm5 3zm-13 1zm15 0zm-4 5zm-3 2zm0 2zm7 1zm-10 3zm-11 3zm12 1zm2 3zm6 1zm3 2zm-2 2zm-15 0zm-4 1zm12 0zm5 3zm-7 3zm9 3zm-12 2zm2 4zm3 2zm2 4zm-4 3zm7 2zm-12 5zm10 2zm4 0zm1 0zm-5 1zm-7 0zm-7 0zm12 4zm-1 1zm-6 6zm8 1zm6 0zm-8 4zm8 3zm-17 1zm15 0zm-1 2zm-6 1zm9 0zm-4 2zm-6 1zm0 7zm2 3zm0 4zm-12 4zm1 1zm-3 1zm2 0zm14 1zm-2 3zm2 3zm-10 0zm2 1zm7 1zm-3 2zm10 1zm-5 2zm6 3zm-10 1zm9 3zm-1 2zm-7 0zm2 1zm-2 0zm9 1zm-12 8zm2 4zm-9 2zm18 1zm-12 2zm2 2zm0 7zm3 2zm-1 6zm0 3zm3 5zm-1 6zm3 0zm3 1zm-6 2zm7 1zm-14 1zm8 1zm2 2zm-4 2zm2 0zm-7 7zm8 1zm-3 1zm8 2zm-5 2zm2 5zm-5 0zm1 3zm5 0zm-3 1zm-4 4zm7 5zm-6 1zm-2 0zm5 2zm5 1zm-8 1zm-7 0zm11 3zm0 2zm-5 1zm4 0zm1 6zm3 1zm-2 2zm3 2zm-8 1zm3 3zm2 1zm-5 1zm5 3zm-5 0zm-13 3zm9 1zm7 1zm1 1zm-5 2zm-4 1zm13 1zm-7 0zm-4 1zm10 0zm-7 3zm1 0zm-4 4zm0 2zm5 1zm1 2zm-2 2zm0 2zm-1 0zm5 5zm-7 0zm-2 0zm12 1zm-4 1zm-6 0zm5 2zm2 1zm-2 3zm-5 3zm1 1zm8 1zm-2 0zm-5 0zm7 1zm-4 2zm-13 5zm9 5zm8 0zm-12 8zm10 0zm2 4zm-1 3zm-6 3zm2 3zm4 5zm-4 6zm-17 3zm18 4zm-1 4zm0 1zm5 3zm-18 2zm16 1zm-6 5zm8 0zm-3 1zm-1 3zm-6 8zm6 7zm-6 4zm0 5zm-1 0zm4 1zm-10 3zm0 1zm12 4zm-6 3zm11 6zm-6 2zm-3 1zm5 10zm2 1zm-3 3zm-6 3zm7 3zm-6 16zm28-4zm-6-8zm10-10zm-4 0zm-2-2zm-5-4zm3-1zm7-4zm-7 0zm10-2zm-15-3zm10-4zm-15-6zm10-1zm-12-2zm14-2zm-13 0zm8-1zm5-1zm-4 0zm-6-3zm6-9zm2-2zm-12-7zm0-3zm10-7zm-10-4zm11 0zm-1-2zm8 0zm-11-8zm-2-1zm15-4zm3-1zm-18-2zm17-3zm-9-4zm7-1zm-2-2zm5-1zm0-1zm-19 0zm-3-1zm19-2zm-19 0zm14-1zm-9-5zm6-2zm5-2zm-14 0zm20-2zm-10-1zm-12 0zm3-1zm-2 0zm14-1zm-10-2zm3 0zm9-1zm-5-1zm9 0zm-20-3zm5 0zm10-1zm6-1zm-14-2zm-6-1zm4 0zm15-2zm-2-1zm-19 0zm12-1zm-5 0zm-3-2zm9-2zm0-3zm8 0zm-19-1zm11 0zm0-1zm8-1zm0-2zm-10 0zm-5-1zm9 0zm-16 0zm23-1zm-6-2zm-14-1zm5 0zm2-1zm5-4zm-3 0zm1-2zm-12-1zm6 0zm9 0zm-10 0zm10-2zm-8 0zm-3-2zm15-1zm-10-1zm12 0zm-6 0zm0-4zm-11-2zm1 0zm13-1zm-17 0zm18-2zm-17-2zm16-1zm1 0zm-7-1zm1-1zm8-1zm-21-1zm14-2zm-14-1zm5 0zm7-3zm-2-3zm-4-1zm-6 0zm5-4zm0-7zm10-2zm-14-2zm7-3zm-7 0zm16 0zm-7-3zm-5-1zm7-1zm-7-1zm9 0zm3 0zm3-1zm-3-2zm-17-1zm5-2zm15-2zm-13 0zm8 0zm-4-1zm5 0zm-16 0zm9-3zm4-2zm-10-1zm5 0zm8 0zm1 0zm-16-3zm8-1zm13 0zm-18-1zm-2-1zm18-1zm-7 0zm-5 0zm-6-3zm16 0zm-11-2zm15 0zm-22 0zm9-1zm-4-1zm15-1zm-19 0zm15-1zm-5-3zm7-1zm-12-1zm12-3zm4-4zm-14-3zm14-2zm-9-1zm2 0zm-8 0zm12-2zm-19-1zm13-4zm-8 0zm15 0zm-10 0zm8-1zm-1 0zm0-3zm-1-1zm5-2zm-20-1zm10-1zm11-3zm-16 0zm4-2zm9 0zm-13-1zm15 0zm1-1zm-22-1zm10-1zm-8 0zm0-2zm14 0zm-9-2zm1-5zm-1-5zm6-1zm-1-2zm8 0zm-19-2zm-1-1zm11 0zm-9-1zm10-1zm6-1zm-12-1zm-1-2zm9-1zm-14-1zm20-2zm-9-1zm-5 0zm9-3zm0 0zm7-3zm-4-2zm-2-1zm-4-1zm7-2zm-1-3zm-7-8zm8-1zm3-1zm-6 0zm-3-1zm-6-1zm-2-1zm12-2zm-8-1zm-7 0zm19-1zm-19-1zm11-2zm3-1zm-3-4zm6-3zm0-3zm-6-1zm1-4zm-14 0zm7-4zm3-2zm-3 0zm-6-1zm8-2zm-10-22zm4-3zm-2-8zm21-6zm-21-5zm18 0zm-18-3zm15-1zm0-5zm2-2zm-10-1zm5-2zm-8-3zm11-1zm-10-3zm12-1zm-1 0zm-4-2zm6-4zm1-1zm-3-9zm3-1zm-21-4zm21-5zm1-2zm-3-1zm-13-2zm3-2zm-9-1zm16 0zm4-4zm-11-1zm-9 0zm6 0zm17-1zm-22-18zm4-3zm17-5zm-20 0zm14-1zm3-5zm-1-8zm0-8zm3-6zm-5-11zm-4-1zm8-6zm-8-1zm3-2zm8-48zm-2-6zm-3-18zm-2-7zm1-1zm-8-2zm3-2zm-1-2zm-6-2zm-2-5zm0-5zm-1-7zm22 31zm0 10zm3 5zm1 2zm0 2zm-1 1zm0 1zm4 4zm3 6zm0 3zm1 6zm-1 3zm-2 2zm-6 3zm1 0zm5 3zm6 2zm-4 1zm4 6zm2 5zm-2 5zm4 7zm2 1zm1 5zm-21 14zm1 3zm-1 3zm0 3zm13 15zm7 1zm-8 1zm0 1zm5 3zm-7 0zm5 0zm-8 5zm15 1zm-9 1zm1 0zm9 1zm-16 8zm-5 6zm8 0zm13 2zm-20 0zm1 0zm-1 5zm15 0zm1 4zm-1 0zm-5 2zm9 2zm-8 3zm-14 2zm22 1zm-19 0zm7 3zm-8 2zm16 1zm-6 1zm10 1zm-8 3zm-9 1zm1 1zm9 2zm-7 0zm-5 1zm6 0zm-4 2zm18 1zm-11 0zm6 3zm1 1zm-18 0zm7 1zm-5 1zm13 1zm-9 0zm16 1zm-11 0zm-10 7zm1 2zm8 3zm3 3zm-7 0zm-5 0zm13 0zm8 3zm-16 0zm6 3zm10 1zm-11 0zm7 3zm-9 0zm13 4zm0 5zm-6 5zm6 2zm-9 0zm7 1zm-3 6zm0 2zm5 3zm-6 4zm5 0zm-2 5zm-9 0zm11 3zm-6 2zm3 11zm-19 1zm21 3zm1 9zm-6 3zm7 3zm-17 0zm7 0zm2 1zm8 3zm-6 2zm-12 4zm-2 2zm12 1zm1 2zm-10 2zm-3 1zm18 2zm-5 1zm-3 0zm0 1zm10 0zm-4 5zm-15 0zm17 1zm-2 3zm-5 3zm4 6zm2 3zm-1 1zm-18 1zm7 2zm14 0zm-7 2zm-3 2zm-10 1zm19 1zm-5 1zm3 0zm-5 1zm-4 3zm-6 0zm9 1zm9 1zm-2 1zm-6 1zm-7 0zm1 3zm5 1zm-8 0zm0 1zm15 1zm-5 0zm0 1zm-3 0zm-5 1zm2 2zm11 2zm-9 1zm-11 1zm15 0zm-10 1zm4 1zm12 1zm-7 0zm1 1zm-6 0zm-4 2zm11 0zm-12 1zm-1 1zm10 2zm1 0zm2 2zm2 0zm-17 1zm13 0zm9 2zm-20 0zm-2 0zm11 2zm10 1zm-5 1zm-16 2zm8 1zm6 0zm3 1zm1 0zm-12 0zm0 1zm5 2zm3 3zm-14 0zm4 0zm13 2zm-7 0zm10 0zm-21 1zm22 1zm-16 1zm10 0zm-10 2zm6 0zm-4 0zm7 1zm8 0zm-16 2zm-1 0zm9 1zm7 1zm-15 0zm6 1zm-12 1zm21 2zm-21 0zm18 1zm2 0zm-4 2zm-8 0zm-6 1zm9 1zm-9 0zm14 1zm4 1zm-19 1zm14 2zm-7 1zm13 0zm-12 2zm3 2zm9 0zm-13 1zm3 1zm-10 0zm15 0zm2 2zm2 0zm-12 1zm14 2zm-15 1zm-7 0zm12 0zm10 1zm-7 1zm-9 0zm1 1zm5 3zm-12 0zm10 3zm2 1zm-11 0zm6 2zm15 1zm-18 1zm13 0zm1 1zm-2 2zm-11 1zm9 1zm8 0zm-13 0zm6 6zm0 1zm-14 1zm11 1zm-13 2zm6 1zm10 1zm-8 0zm-7 0zm11 2zm-5 3zm2 2zm-7 1zm3 1zm15 0zm-13 3zm-1 0zm5 2zm6 3zm-7 3zm11 0zm-17 1zm3 3zm-3 4zm2 4zm-2 2zm-3 1zm14 1zm8 2zm-17 2zm-4 0zm-2 2zm17 2zm-2 2zm-5 1zm-10 8zm17 3zm-12 0zm1 1zm1 3zm0 2zm5 0zm3 1zm8 0zm-22 1zm19 6zm-14 0zm4 6zm-1 3zm3 2zm3 6zm-12 3zm8 1zm-3 1zm5 1zm-8 2zm12 4zm-8 0zm-9 12zm4 1zm-3 2zm7 2zm-8 2zm0 5zm6 1zm6 3zm1 1zm-7 6zm8 3zm-6 1zm6 4zm-11 16zm11 4zm-11 1zm21-9zm4-2zm17-19zm-18 0zm18-12zm-5-7zm-4-15zm1-6zm-2-5zm-8-13zm19-3zm-12-2zm9-2zm3-1zm-22-1zm23-1zm-10-4zm-1-9zm7-2zm4-13zm-11-8zm-10-7zm18-4zm-4-2zm-9-1zm-5 0zm15-1zm-17-6zm16-14zm1-5zm-10 0zm0-3zm1-2zm5-1zm5 0zm-4-2zm6-2zm-17-10zm20 0zm-10-3zm-8-2zm8-6zm9-1zm-1-6zm-5-6zm-1-2zm0 0zm6-1zm-20-2zm7-1zm5 0zm-6-3zm0-2zm-5-1zm17-3zm-7-4zm2-1zm-13-3zm16-1zm1-2zm-18-1zm1 0zm0-1zm6-2zm10-1zm-7-4zm-6 0zm5-1zm2-1zm4-4zm-11-5zm7-2zm-11-1zm1-3zm2-2zm7-1zm-6-2zm-3 0zm2-1zm8-1zm4 0zm-12-3zm18-2zm0-2zm-17-1zm-3-1zm5-1zm9-1zm1 0zm-8-1zm-4-1zm1-2zm11-1zm-7 0zm10-1zm2-6zm-1 0zm-17 0zm0-3zm9 0zm10-1zm-18-2zm6 0zm-5-1zm-3 0zm16-1zm-13-1zm-3 0zm11-1zm-7 0zm2-4zm-3-1zm0-2zm2-1zm-7-1zm9-1zm-7-2zm3-3zm-2-1zm10-1zm-1-1zm-12-1zm22-1zm-7-4zm-3-2zm11-1zm0-2zm-9-2zm4-1zm-17 0zm7 0zm15 0zm-9-1zm1-1zm-3-5zm-8 0zm4 0zm12 0zm-5 0zm-9-1zm-3-2zm19-1zm-9-1zm-4-1zm14-1zm-21-2zm2-1zm7-1zm4 0zm1 0zm6-3zm-15 0zm-5 0zm12 0zm-14-2zm6 0zm5-1zm6-1zm-6-3zm4 0zm-11-1zm1-1zm3-1zm-5-2zm13 0zm-12-1zm4-1zm13-3zm-15 0zm5 0zm3-1zm-11-2zm17-2zm-3-1zm-9-1zm11-1zm-15 0zm-2-1zm12 0zm-12-2zm12-1zm7-1zm0-14zm-20 0zm7 0zm1-1zm14-2zm-2-2zm-8 0zm-9-2zm4-4zm6-9zm-6-1zm9-2zm-3-5zm-7 0zm4-1zm-8-8zm19-16zm-7-1zm-3-1zm-11-1zm2 0zm11-3zm-10-1zm19-1zm-3-2zm-19 0zm20-2zm-2-1zm-9-1zm9 0zm-13-1zm17-1zm-1-3zm-12-1zm-2 0zm-6-1zm9-1zm2 0zm-8 0zm12-3zm-6-2zm7-4zm-8-2zm8-2zm2-1zm-6-2zm-10 0zm4-3zm-1-1zm13-1zm-11-2zm1-2zm10-2zm-8-3zm10-1zm-6-3zm2-5zm-8-1zm7-2zm1-1zm-8-2zm12-2zm-12-1zm4-6zm-5-2zm-4-4zm-5 0zm17 0zm-5-8zm0-2zm2-4zm3-3zm0-6zm0-5zm1-8zm2-2zm3-6zm-1-1zm-1-1zm1-4zm0-7zm25-105zm-2 10zm2 6zm-1 2zm-1 7zm-3 1zm3 0zm-4 1zm3 4zm-1 1zm-8 8zm-1 6zm-1 5zm0 4zm12 6zm-12 0zm9 6zm-13 1zm0 6zm1 5zm0 3zm1 3zm-4 5zm-3 0zm0 2zm6 1zm-5 5zm22 1zm-23 1zm0 14zm20 2zm-1 4zm2 44zm-3 6zm0 0zm2 6zm2 2zm-4 2zm-8 14zm6 3zm-11 1zm14 2zm-6 0zm3 2zm-5 1zm11 1zm-7 4zm3 19zm-7 1zm-5 4zm13 0zm-5 1zm9 2zm-22 3zm2 1zm-3 2zm22 0zm-14 2zm2 1zm7 1zm-15 1zm6 2zm13 1zm-14 0zm-6 6zm9 0zm-7 2zm20 3zm-19 2zm0 3zm13 2zm-11 4zm4 2zm4 1zm3 2zm-15 1zm0 1zm14 0zm1 6zm-17 1zm10 0zm4 2zm-12 1zm4 3zm-2 11zm1 0zm10 1zm-3 3zm-9 0zm0 1zm14 2zm-1 0zm-1 1zm-11 2zm2 1zm-5 1zm3 0zm5 2zm4 4zm7 2zm-12 1zm13 2zm-6 2zm-13 1zm18 2zm-4 0zm-6 3zm3 2zm-10 3zm7 0zm13 1zm-18 1zm9 1zm0 5zm8 1zm-18 0zm6 0zm3 1zm-11 5zm12 3zm6 0zm-4 1zm-12 3zm10 5zm9 3zm-14 1zm-7 1zm19 2zm-15 1zm-2 1zm6 6zm6 1zm-13 0zm17 1zm0 0zm3 6zm-5 9zm-12 2zm-1 8zm-4 3zm16 1zm3 3zm-2 3zm4 2zm-6 10zm-1 4zm-15 12zm0 9zm16 9zm-10 4zm7 11zm-1 27zm-10 19zm-1 13zm21 4zm-15 6zm-2 8zm-5 18zm5 10zm-4 7zm8 8zm-5 2zm3 5zm-5 9zm1 15zm18 86zm23 16zm-14-24zm12-4zm-7-6zm-5 0zm17 0zm-16-2zm8-9zm0-5zm-9-7zm6-1zm-5-2zm11-10zm-7-6zm12-1zm-2-1zm-18-1zm11-3zm-4-2zm9-1zm-7-3zm-7-3zm14-4zm0-1zm-5-3zm4-8zm4-4zm-6-4zm6 0zm-14 0zm-3-5zm11-1zm-10-1zm17-3zm-1-1zm-8-1zm3-1zm-2-2zm8-1zm-11-4zm1-2zm1 0zm5-1zm-6-2zm8-10zm-20-1zm9-1zm2-2zm8-2zm-6 0zm1-1zm4 0zm-18-1zm4-1zm0-1zm18 0zm-16 0zm2-2zm11 0zm-2-4zm-3-1zm-5 0zm-3-3zm11-1zm-7-2zm7 0zm-11-2zm6-1zm-2-1zm10 0zm-5-2zm-4-2zm6-3zm-8 0zm10-2zm-11-1zm9 0zm0-3zm-6-1zm9-1zm-15-1zm17-1zm-6-5zm-11-1zm16 0zm-8 0zm-6-2zm14 0zm-1 0zm-4-2zm-4-1zm2-3zm0 0zm4-1zm-9-2zm13-1zm-11-1zm8-1zm-13-1zm3-1zm12-1zm-15 0zm1-2zm10-2zm3-2zm-9 0zm-1-3zm8 0zm-3 0zm-7-1zm6-1zm6-1zm-13-1zm7-3zm-4 0zm9-2zm-4-1zm-9 0zm15-3zm-18 0zm3-1zm9 0zm-8 0zm1-2zm-1-2zm11-1zm-8 0zm9 0zm-11-1zm4-3zm-5-1zm-2-2zm14-1zm-8 0zm-8 0zm12-4zm-8-1zm6 0zm2-1zm-12-3zm15-4zm-2 0zm-3-1zm-5-3zm5-2zm5-1zm-6 0zm-6-2zm3-2zm13 0zm-7-2zm0-1zm-8-1zm9-2zm5-3zm-12-2zm-8-2zm9-3zm-7-2zm3-3zm7 0zm-6-3zm2-4zm-6-4zm3-1zm2 0zm3-2zm10 0zm-21-1zm14 0zm-3-3zm-6-1zm8 0zm7-1zm-8-1zm-8-4zm2-1zm3-2zm-5-5zm0-7zm17-3zm-14-4zm13-1zm-13-3zm11-3zm-12-1zm2-1zm13 0zm1-3zm-19 0zm13-2zm-7-3zm0 0zm13-1zm0 0zm-12-4zm-2-3zm-4-1zm2-4zm6-1zm-10 0zm12-2zm-8 0zm-5-3zm21 0zm-11-2zm-4 0zm11-4zm-16-2zm6 0zm5-1zm8-2zm-5-1zm-10 0zm0-2zm-7 0zm10-1zm3-2zm7 0zm-15-1zm-5 0zm14-2zm6-1zm3-2zm-18-1zm12-3zm-2 0zm-15 0zm7-3zm1-4zm0-3zm5-2zm-4-5zm-2-3zm1-6zm-2-3zm7-1zm-7-2zm11-2zm5 0zm-17-1zm2-2zm5-1zm-6-2zm16 0zm-4 0zm4 0zm-18-2zm1-10zm-2-2zm5-6zm-3-6zm4-3zm-1-2zm1-1zm10-2zm-4 0zm-10 0zm8-2zm-6 0zm6-4zm-10-2zm8 0zm-9 0zm-1-2zm12-2zm4-2zm-17 0zm10-1zm3 0zm-5-1zm-4-1zm7-1zm8 0zm-15 0zm19-3zm-12-1zm-10-1zm14-4zm7 0zm-3-3zm-4-1zm-2-3zm-1 0zm9-2zm-15-1zm14 0zm-8 0zm3-2zm5-4zm-1-1zm-7-1zm-3-1zm5-1zm8 0zm-15-4zm7-2zm-4-2zm-10-7zm2-4zm-2-3zm5 0zm2-4zm-6-3zm10-3zm-9-1zm5-4zm8-1zm-5-3zm10-16zm-2-6zm3-2zm-6-9zm7-2zm-6-3zm-14-2zm1-2zm0-10zm4 0zm1 0zm5-4zm-13-1zm8-4zm-2-1zm-2-2zm18-9zm-22-17zm1-3zm16-24zm5-7zm-3-1zm-2-5zm2-4zm-13-4zm-5 0zm9-2zm-10 0zm9-2zm3-3zm-12-2zm4 0zm4-1zm3-1zm-4-2zm6-1zm-1-1zm-7 0zm-4 0zm2-1zm1-5zm-4-1zm1 0zm24 37zm1 5zm-1 1zm-1 6zm7 1zm-4 0zm2 5zm11 7zm0 1zm-5 0zm-3 0zm0 4zm12 0zm2 1zm-8 2zm1 4zm5 2zm-16 4zm2 3zm16 1zm0 3zm-12 1zm-4 0zm17 3zm-20 0zm-2 2zm11 1zm-3 3zm-3 1zm13 35zm-18 2zm22 3zm-21 2zm-1 4zm14 22zm-6 1zm-6 0zm-2 3zm6 2zm-7 1zm7 0zm9 0zm-7 1zm-8 4zm5 1zm1 15zm15 0zm-7 1zm-11 4zm10 0zm0 0zm-8 2zm7 2zm-7 3zm-2 0zm7 1zm-4 10zm-4 1zm18 2zm-6 1zm-13 1zm8 0zm0 2zm-3 3zm11 0zm5 1zm-17 0zm9 8zm-5 4zm8 2zm4 1zm-9 2zm8 3zm-3 13zm-15 3zm10 2zm-4 1zm9 2zm-16 1zm5 4zm-4 4zm10 3zm-7 3zm3 1zm11 1zm-4 1zm-1 1zm0 3zm-3 1zm10 1zm-11 1zm-11 0zm5 1zm12 1zm-6 5zm1 1zm-5 4zm1 0zm8 0zm7 1zm-15 1zm-6 1zm8 1zm-10 3zm8 1zm-5 3zm6 11zm-4 4zm3 0zm7 1zm-14 1zm17 0zm4 0zm-10 5zm6 2zm-7 1zm-6 1zm-3 0zm17 1zm-6 0zm8 2zm-15 2zm7 1zm6 2zm3 4zm-17 4zm15 4zm-17 1zm7 3zm4 1zm-5 0zm-3 1zm8 0zm9 1zm-18 2zm14 3zm-12 0zm-7 0zm2 6zm0 0zm7 1zm0 2zm12 1zm-14 2zm8 4zm1 0zm5 1zm-18 0zm6 2zm12 0zm-2 0zm-2 0zm-14 4zm9 1zm4 1zm2 2zm-13 0zm5 1zm3 1zm9 2zm-17 0zm4 2zm5 1zm-2 2zm-12 2zm7 0zm1 1zm-8 1zm7 1zm6 3zm10 9zm-4 2zm-10 6zm6 2zm3 1zm-3 0zm3 4zm-14 1zm6 2zm-6 0zm13 3zm-16 1zm8 1zm7 0zm2 2zm-5 3zm-10 4zm7 1zm7 0zm-5 2zm10 0zm-22 3zm13 1zm7 2zm3 2zm-6 2zm6 6zm-5 2zm5 0zm-21 0zm5 0zm4 2zm-10 0zm12 0zm2 2zm-4 1zm0 1zm-3 0zm-1 1zm-3 0zm-1 1zm16 0zm2 3zm-16 2zm13 1zm-11 1zm-6 0zm20 5zm-13 0zm-4 0zm15 1zm-6 1zm9 0zm-5 0zm-15 1zm19 1zm-14 0zm1 2zm6 0zm-13 0zm8 2zm7 1zm-14 1zm-2 4zm8 0zm-4 0zm6 3zm12 1zm-19 0zm0 2zm18 0zm1 0zm-18 0zm7 1zm4 2zm3 0zm2 0zm-11 1zm9 3zm-15 1zm18 1zm-14 0zm11 1zm3 3zm-7 0zm4 4zm-2 0zm-9 1zm-6 0zm12 1zm-13 5zm11 0zm-10 1zm21 0zm-2 1zm1 1zm-12 0zm10 1zm-15 1zm-2 2zm8 1zm1 2zm9 0zm-19 1zm20 1zm-15 1zm8 0zm3 0zm4 2zm-9 0zm-8 1zm15 1zm-7 0zm11 1zm-17 0zm-1 1zm-5 4zm6 1zm11 2zm-9 2zm14 0zm-5 2zm-10 1zm0 1zm0 2zm-5 0zm21 1zm-8 0zm-15 0zm19 1zm-16 2zm10 0zm10 1zm-16 0zm-2 2zm-4 2zm0 2zm15 0zm-10 0zm6 1zm1 2zm6 0zm-2 3zm5 2zm1 0zm-19 2zm3 1zm5 1zm7 1zm-6 1zm-9 0zm5 1zm12 0zm-20 2zm18 1zm-16 1zm20 2zm-23 2zm10 1zm11 1zm1 1zm-9 0zm-7 3zm13 0zm2 4zm-17 0zm2 1zm-2 2zm-2 2zm5 0zm-1 1zm3 1zm5 0zm4 1zm-7 5zm1 2zm-7 0zm-4 2zm-1 3zm21 1zm-12 1zm-1 10zm-6 2zm14 7zm0 4zm-13 4zm11 1zm-13 1zm6 0zm-4 3zm5 1zm3 1zm7 1zm-15 12zm-1 2zm14 2zm-3 5zm7 0zm-13 1zm0 4zm-4 10zm3 7zm12 5zm17-6zm-7-14zm12-6zm-11-7zm3-4zm-7-11zm10-2zm-6-6zm-3-6zm4-4zm10-2zm-15-2zm17-16zm-16-2zm6-3zm7-1zm-13-4zm19-1zm-21-2zm7-2zm12-3zm-19-5zm16-1zm-2-1zm7-3zm-16-1zm4-2zm-8-6zm2-2zm5-5zm-3-13zm1-5zm14 0zm-19-1zm8 0zm-5-2zm5-2zm-4-4zm-1-3zm2 0zm12-15zm-17 0zm8-3zm11-2zm-14-1zm1-3zm-6 0zm22 0zm-14-1zm4-1zm-8 0zm-3-2zm6 0zm-8 0zm21-5zm-7-3zm-2-7zm3-2zm-7-3zm-5-2zm3 0zm-5-2zm16 0zm-10-2zm3-2zm0-3zm-7-1zm5-1zm-5-4zm12 0zm-3-1zm-3-1zm10-2zm-9 0zm4-1zm-8-1zm2-3zm12-1zm-18 0zm11-4zm-2-1zm10 0zm-15-1zm-4 0zm12-3zm-6-1zm-1 0zm5-2zm2-3zm-9-3zm3-1zm0-2zm5-2zm-8 0zm14-1zm1 0zm-11-1zm13 0zm-6 0zm0-1zm-12-3zm14-2zm-1-1zm4 0zm-17-1zm8 0zm10-1zm-15-1zm-1-3zm12-1zm-18-1zm0-1zm18-1zm-18-1zm7-2zm11-3zm0 0zm-10 0zm13-5zm-13-1zm11-2zm-6-1zm-7-3zm5-4zm9 0zm-16 0zm2-2zm3-3zm0-4zm-6-1zm11-5zm-3-4zm-9-3zm11-2zm7 0zm-6-1zm8-4zm-19-1zm14-1zm-1-2zm3 0zm2 0zm-18-1zm6 0zm-8 0zm5-1zm3-1zm6-1zm-7-4zm-7-5zm8-5zm-5 0zm5-5zm-6 0zm16-1zm-19-4zm17 0zm-13-2zm4-1zm-3-1zm-5 0zm19-1zm-19-2zm8 0zm12-3zm-18-2zm5-1zm-4-5zm7-1zm-2-1zm5 0zm-11-2zm18-2zm-17-1zm1 0zm11-1zm-4-1zm-4-1zm-4-1zm19 0zm-9-3zm-4-2zm7-1zm0-1zm-9 0zm0-2zm6-4zm-2-1zm6-3zm5-3zm-7-3zm0-2zm-7 0zm-6-1zm19-1zm-10 0zm-7 0zm2-7zm-6-2zm12-5zm0-1zm-3-1zm9-1zm-6-4zm-12 0zm23-21zm-8 0zm-9-4zm-1 0zm6-1zm-9 0zm21-1zm-3-1zm-20-1zm21-3zm-10 0zm-1-2zm-9-1zm21 0zm-14-1zm4-2zm-7-2zm-4 0zm10-2zm7-1zm-12-2zm-2-4zm11-8zm2-2zm-6-1zm-3-2zm13-2zm1-1zm-7 0zm4-10zm-6-3zm6-4zm-14-6zm3-2zm4-2zm-7-3zm0-2zm7-2zm5-1zm6 0zm-23-2zm23-4zm-8 0zm2-2zm-4-1zm1-3zm6-17zm-6-3zm4-3zm-9-8zm5 0zm-12-1zm12-1zm-1-3zm-5-1zm3-3zm-3-6zm2 0zm-8-2zm-2-1zm11-2zm-1-3zm0-3zm-2-7zm-2-5zm-1-3zm-3-5zm1-4zm0-3zm44-41zm-1 1zm1 8zm0 10zm-4 6zm-2 4zm1 2zm-2 7zm0 1zm-1 5zm-1 4zm0 9zm2 4zm-1 1zm-2 6zm-2 3zm-1 3zm-1 9zm13 6zm-12 1zm9 0zm-2 1zm-7 1zm5 3zm-11 1zm-4 0zm18 5zm-10 0zm15 0zm-2 0zm-18 2zm9 2zm3 2zm-1 0zm-10 0zm19 4zm-21 1zm7 2zm5 2zm-3 32zm-4 0zm7 4zm5 1zm-12 2zm5 1zm9 11zm-17 1zm4 5zm-6 3zm21 2zm-7 2zm-5 1zm-10 1zm7 1zm1 0zm-8 0zm17 1zm-18 1zm19 1zm-1 1zm-1 1zm-3 2zm-5 0zm-3 0zm7 2zm7 2zm0 3zm-8 0zm6 3zm-10 2zm6 1zm0 2zm5 0zm2 2zm-19 1zm4 1zm14 1zm-17 0zm18 7zm0 3zm-7 0zm6 1zm-8 0zm9 1zm-1 2zm-11 0zm8 4zm4 1zm-10 1zm-2 1zm6 1zm4 4zm-15 2zm4 1zm13 6zm0 4zm-11 1zm6 1zm-9 2zm9 2zm-4 3zm8 0zm-4 2zm7 5zm-7 2zm1 8zm-5 5zm7 3zm-5 1zm9 5zm-8 2zm-7 1zm4 0zm4 5zm-12 2zm9 2zm-9 1zm3 0zm5 2zm-5 2zm-3 2zm6 1zm-5 1zm5 1zm-8 0zm-1 1zm2 1zm-1 2zm18 0zm-7 1zm-8 1zm2 1zm12 1zm-12 1zm9 0zm-13 2zm3 7zm8 0zm-7 1zm15 3zm-14 3zm8 4zm-7 1zm-5 2zm-2 1zm9 3zm-9 2zm15 1zm-5 0zm8 0zm-16 1zm12 2zm-9 4zm-1 0zm13 1zm-14 1zm7 0zm1 3zm-1 1zm7 1zm-16 2zm8 3zm-10 2zm6 1zm7 0zm-7 1zm9 3zm-13 1zm8 0zm-10 1zm7 0zm-5 0zm13 2zm2 2zm-2 6zm-11 1zm10 2zm-3 9zm-2 6zm2 2zm4 12zm-7 3zm-4 1zm7 2zm-9 0zm1 2zm-3 2zm13 4zm-12 0zm11 4zm-13 1zm0 6zm21 10zm-6 1zm-15 10zm9 6zm-8 2zm8 13zm-9 4zm11 1zm-5 2zm-6 2zm12 16zm4 7zm-12 10zm14 4zm-14 8zm7 2zm-1 5zm-8 1zm1 4zm15 3zm-17 18zm19 2zm-18 2zm12 1zm4 1zm-1 5zm4 13zm-2 14zm-3 33zm-9 5zm38-17zm2-47zm-1-35zm-17-25zm18 0zm-12-16zm11-2zm-1-4zm2 0zm-16-4zm1-2zm13-4zm-14-1zm-7-5zm9-3zm14 0zm-13 0zm9-10zm-17-4zm21-5zm-22-7zm21-11zm-16-9zm10-21zm-1-1zm-5-6zm11-15zm-7-6zm-14-15zm12-4zm8-1zm1-6zm2 0zm-1-8zm-4 0zm4-9zm-2-3zm-1-1zm-10-1zm5-9zm-13-2zm13 0zm-12 0zm18-9zm-8-1zm4-1zm7-1zm0-5zm-2-2zm-16-1zm-5-4zm23-2zm-4-1zm4-9zm-7-1zm-9-4zm13-2zm2 0zm-21-2zm-1-3zm2-3zm14-1zm-7-10zm3 0zm-12-1zm16-2zm4-3zm-12-1zm-3-1zm-4-2zm22-3zm-19-2zm-2 0zm16-2zm4-7zm-14-2zm11-3zm-18-1zm1 0zm0-2zm21-1zm-6-3zm2-2zm3 0zm-18-5zm5-2zm13-1zm-22-7zm21 0zm-19-2zm7-2zm1-11zm-3-2zm8-1zm-8-3zm16-2zm-11 0zm11 0zm-7-2zm-4-1zm7-1zm-17 0zm0-1zm14-3zm-9 0zm-6-1zm14-1zm-10 0zm3-3zm7-3zm-14-2zm11-1zm1-1zm-12-1zm16-3zm0-2zm-5 0zm-8-1zm17-2zm-11 0zm1 0zm-8-3zm13-1zm-9 0zm8-1zm-2-2zm-10 0zm11-2zm-10-2zm-3-4zm4-1zm8-2zm-9-1zm10-4zm-11 0zm10-4zm-10-4zm8-2zm-3-1zm-3-4zm7-1zm-4-3zm7-3zm-11 0zm13-4zm-17 0zm17-3zm-10-1zm7-1zm-8 0zm3-1zm-8-15zm21-8zm-4-5zm-5 0zm-4 0zm-2-4zm8 0zm7 0zm-6-3zm-7-2zm-9-59zm0-6zm23-7zm-1-2zm-20-4zm17-1zm0-1zm-17-1zm20-4zm-19 0zm1-6zm0-10zm17-2zm-14-2zm3-5zm0-2zm10 0zm-2-3zm-2-3zm2 0zm-1 0zm-4-4zm0-3zm12 18zm5 6zm-3 0zm0 0zm-3 1zm10 1zm-3 5zm0 1zm1 2zm7 4zm-8 0zm6 1zm-9 5zm6 1zm2 4zm-11 1zm6 1zm11 1zm-2 2zm-10 3zm13 1zm-17 1zm6 2zm-4 0zm-3 2zm9 4zm12 1zm-21 0zm4 2zm1 7zm2 2zm-8 0zm22 55zm-20 1zm-1 0zm21 5zm-15 61zm16 1zm-5 1zm1 0zm-8 1zm-8 3zm7 2zm7 1zm4 2zm0 5zm-6 0zm4 1zm-8 4zm12 0zm-1 1zm-5 4zm-3 16zm-6 2zm8 2zm-4 4zm-11 0zm2 2zm3 5zm1 2zm-4 2zm-1 2zm19 1zm-12 0zm14 1zm-7 0zm-1 4zm7 3zm-6 10zm-15 1zm10 2zm11 0zm-4 0zm-11 2zm11 1zm-7 3zm-5 0zm-4 6zm2 6zm0 2zm0 1zm10 0zm-2 2zm-11 0zm-1 2zm11 0zm-1 1zm-2 2zm-8 1zm17 0zm-1 1zm-5 0zm-7 0zm1 1zm-1 3zm17 1zm-12 0zm-9 0zm14 1zm-14 0zm14 2zm2 3zm-6 0zm-3 0zm-4 0zm16 1zm-7 1zm-11 0zm3 1zm17 1zm-11 1zm11 0zm0 1zm-8 0zm-3 1zm-8 0zm0 1zm12 0zm-5 2zm7 0zm-16 1zm19 1zm-13 1zm15 2zm-7 1zm-8 1zm3 1zm-8 0zm9 0zm9 1zm-15 0zm17 2zm-6 1zm-6 1zm-6 0zm5 2zm7 0zm-12 2zm15 2zm-9 0zm-3 1zm4 0zm6 1zm-2 2zm5 0zm2 1zm-18 2zm9 5zm-4 2zm9 2zm-10 3zm7 1zm0 0zm-3 1zm-10 3zm5 0zm6 4zm2 4zm-13 1zm3 1zm12 1zm-10 3zm13 1zm-2 0zm5 1zm-12 0zm-8 1zm7 0zm5 0zm-14 2zm10 2zm-7 1zm20 0zm-3 1zm-18 3zm13 5zm-7 0zm-8 0zm3 3zm5 4zm15 9zm-22 1zm19 5zm-18 1zm20 2zm-6 4zm-16 1zm20 2zm-6 1zm6 0zm-8 4zm9 1zm-4 3zm4 1zm-21 2zm9 4zm4 1zm-12 2zm5 1zm11 2zm5 4zm-2 1zm-15 0zm1 0zm10 1zm-1 0zm-2 0zm-4 1zm8 2zm-17 1zm13 1zm10 0zm-19 2zm3 1zm-7 0zm13 0zm-3 0zm11 1zm-19 1zm16 1zm-7 1zm-5 1zm10 0zm7 0zm-12 3zm-6 0zm10 1zm-12 2zm2 2zm15 1zm-4 2zm-9 0zm-2 0zm-5 1zm20 1zm-11 2zm-2 1zm-3 2zm14 0zm-2 1zm-6 0zm10 1zm-10 1zm-10 1zm2 0zm10 3zm0 1zm-2 0zm9 0zm-11 0zm11 1zm4 0zm-17 1zm2 1zm6 3zm1 2zm-15 0zm21 0zm-9 0zm-4 3zm-2 1zm17 1zm-3 0zm-7 1zm-3 1zm-8 1zm13 3zm-9 0zm13 0zm-5 0zm2 2zm-16 1zm16 0zm-16 0zm23 1zm-17 1zm-1 0zm9 1zm-6 1zm11 3zm0 1zm-13 0zm-4 2zm3 0zm7 2zm-11 0zm15 1zm-13 1zm11 1zm0 1zm4 2zm2 0zm-18 0zm8 1zm-1 0zm11 1zm-14 2zm5 2zm-2 0zm14 0zm-9 4zm-13 1zm5 3zm-4 1zm10 0zm6 1zm5 2zm-22 0zm17 2zm-5 0zm-11 4zm8 5zm6 0zm-3 1zm-4 0zm8 1zm-3 0zm0 2zm-12 1zm6 1zm-4 0zm17 2zm0 0zm2 2zm-17 1zm4 2zm-3 0zm5 0zm10 1zm-2 1zm-12 5zm9 1zm1 1zm-17 1zm20 1zm-14 3zm-3 2zm17 5zm-4 1zm-9 2zm15 1zm-4 4zm-2 1zm-10 0zm13 2zm-11 0zm9 4zm0 0zm-8 4zm11 0zm-10 1zm4 1zm4 2zm-7 0zm3 5zm-2 1zm-7 2zm-6 7zm15 1zm7 0zm-2 1zm1 1zm-6 1zm2 3zm-4 1zm7 0zm-1 1zm-18 2zm13 1zm7 3zm-10 2zm8 1zm-17 3zm21 2zm-6 5zm-11 1zm16 18zm-10 7zm-11 1zm21 9zm9 7zm1-3zm14-12zm-3-5zm-1-9zm-10-3zm13-1zm-11-1zm0-1zm1-1zm-10 0zm18-1zm-19-1zm7-6zm12-1zm-7-4zm-2-3zm13-1zm-20-2zm8-6zm7-4zm3-1zm-13-1zm5-2zm-4-3zm8 0zm-4-2zm-1 0zm10-4zm1-1zm-1-1zm-10-1zm-6-4zm4-1zm11-1zm-14-4zm4-5zm11-1zm-8-5zm1-5zm-1 0zm-4-1zm8-2zm4-1zm-21-1zm5-1zm16-1zm-8-2zm-2-1zm1 0zm-11-1zm4 0zm-6-1zm23 0zm-21-4zm14 0zm0-1zm-3 0zm6-3zm-2-3zm-11-1zm3-1zm10-1zm-18-3zm6-2zm4-1zm7-1zm-1-1zm-17-1zm14 0zm-11-1zm13 0zm-15-2zm10-2zm4-1zm-6-4zm8 0zm-2-1zm-9-1zm10-4zm0-1zm-6 0zm4-1zm-4-1zm6-2zm-7 0zm11 0zm-20-2zm16-4zm2-1zm2-1zm-6 0zm-4-2zm-4 0zm0-3zm9 0zm-2 0zm-1 0zm6-1zm0-1zm-1-5zm-11-1zm11-1zm-17-1zm9-2zm-4-1zm-3-1zm10 0zm-8-2zm17-5zm-15-1zm-4-2zm13 0zm-10-1zm7 0zm11-1zm-14-4zm-6-2zm13 0zm1 0zm-5-1zm9-2zm-2-4zm-15 0zm12 0zm-7-1zm8-3zm-13 0zm17 0zm-13-2zm-7-1zm22-1zm-12 0zm-4-4zm-1-1zm-3-2zm-3-1zm11-2zm-5 0zm-3-3zm16-1zm-16-2zm19 0zm-21-2zm13-1zm-3-2zm12-15zm-18-6zm-4 0zm20-1zm-15-7zm-5-2zm0-3zm20-3zm-4-2zm-15-1zm14-2zm0 0zm-15-2zm3-12zm3-3zm9-2zm-12 0zm4-1zm10-1zm-11-4zm11-1zm-17 0zm14-3zm-2-1zm-9 0zm2 0zm13-1zm-5-1zm-5-3zm-7 0zm15-1zm-13-1zm17-2zm-3-1zm-14 0zm-2-1zm14-1zm-11-1zm17-1zm-10-1zm9-1zm-10-1zm-9-2zm15 0zm6-2zm-8 0zm-7-2zm3 0zm-1 0zm2-3zm-5-2zm8 0zm1 0zm4-6zm-10-1zm8 0zm-6-1zm2-1zm-6-8zm2 0zm-9 0zm3-1zm19-3zm-17-2zm12-1zm-18-1zm3-1zm-2 0zm20-1zm-17 0zm15-2zm-7 0zm-2-1zm-3-3zm1-1zm-8 0zm16-2zm-4-3zm-10-1zm7-1zm-2 0zm-6 0zm0-2zm3-3zm14-2zm4-3zm-20-2zm13-5zm-5-3zm7 0zm0-1zm-14-4zm19 0zm-11 0zm-3 0zm11-1zm-8-1zm-9 0zm19-1zm-13-1zm5-1zm4 0zm-15-3zm8-1zm7-2zm-4-1zm-9-1zm19-3zm-10-11zm-8-2zm3 0zm15-1zm-6-3zm-16 0zm8-1zm8-2zm2-7zm-1-3zm3-3zm0-2zm-14-3zm10-2zm-2-1zm-5-1zm11-1zm-18-1zm9-1zm3-3zm3-1zm-2 0zm-5-2zm-8 0zm4-1zm13-7zm-6-1zm0-7zm5 0zm0-2zm-5-4zm7-2zm-4-2zm0-1zm-3-3zm-6 0zm-7-1zm20 0zm-7-1zm-4-2zm-1-2zm-8 0zm14 0zm-12 0zm3-2zm-6 0zm10 0zm3-1zm-6 0zm-1-3zm6-4zm9-14zm1-7zm-3-1zm-3-5zm1-2zm4-2zm1-22zm-19-4zm16-2zm-12-2zm13-4zm-13 0zm-6-2zm22-4zm-1-5zm1-3zm-3-9zm0-4zm-4-6zm0-12zm-1-1zm0-7zm-4 0zm5-5zm-6-2zm-5-2zm-2-1zm5-1zm6-1zm-3 0zm-5-5zm-3-1zm7 0zm14 53zm0 0zm0 13zm3 6zm-1 2zm1 1zm-2 1zm3 6zm4 2zm-1 0zm-4 4zm-1 2zm0 0zm10 7zm-8 0zm18 1zm-12 0zm3 1zm-12 9zm0 0zm6 3zm-7 3zm12 2zm-7 2zm-2 1zm9 28zm3 2zm4 1zm-14 1zm-5 0zm12 4zm0 1zm7 0zm-19 2zm17 8zm-7 0zm0 1zm-7 0zm7 2zm11 0zm-11 1zm-8 1zm14 1zm-5 2zm-6 1zm0 3zm7 1zm-9 8zm-3 1zm7 1zm14 4zm-20 1zm14 1zm-12 3zm1 3zm18 2zm-6 0zm-15 3zm2 4zm11 0zm1 1zm-7 2zm-3 1zm9 1zm-13 0zm12 2zm-8 1zm3 5zm-4 5zm5 1zm7 2zm0 1zm-16 3zm16 1zm-3 0zm-4 0zm-6 1zm2 0zm9 1zm8 3zm-20 2zm16 0zm-13 6zm9 2zm-10 1zm-2 2zm8 1zm8 1zm-18 2zm15 2zm-4 2zm-7 0zm0 1zm-4 0zm20 3zm-11 2zm-8 2zm5 1zm12 1zm4 0zm-10 4zm-1 3zm8 0zm-1 4zm-14 0zm7 1zm11 0zm-5 1zm-6 2zm-6 0zm5 1zm7 0zm-9 0zm9 1zm-12 0zm15 4zm-13 0zm9 0zm6 1zm-20 0zm11 1zm-6 1zm8 2zm5 0zm-1 1zm1 1zm-8 0zm7 5zm-4 0zm-4 0zm11 0zm-3 2zm-3 2zm-15 0zm5 1zm9 2zm7 0zm-11 0zm-3 1zm10 2zm-7 0zm5 1zm-11 1zm-5 1zm7 0zm14 2zm-11 1zm13 0zm-1 1zm-12 1zm3 0zm-8 0zm11 1zm-4 1zm-8 1zm16 1zm-2 2zm-7 1zm8 0zm-5 1zm-1 2zm-11 0zm13 1zm-8 1zm1 3zm8 2zm3 0zm-1 5zm0 3zm-2 3zm-1 3zm7 2zm-5 3zm-1 4zm0 0zm-15 1zm4 5zm10 1zm-1 1zm6 0zm-19 1zm20 0zm-11 1zm11 0zm-3 0zm-18 4zm9 2zm-4 0zm9 1zm6 2zm-3 3zm-3 6zm-11 2zm15 3zm-5 2zm-5 1zm-7 0zm21 5zm-17 1zm10 1zm5 0zm-19 3zm7 1zm-7 6zm0 0zm0 2zm20 1zm-14 1zm0 1zm1 1zm15 2zm-1 0zm-7 0zm2 1zm-11 1zm-6 1zm10 1zm3 0zm-11 1zm2 1zm3 5zm-3 7zm6 1zm-8 2zm3 1zm-4 4zm1 2zm12 0zm-2 3zm-6 0zm7 4zm8 3zm-19 3zm1 2zm15 2zm4 2zm-20 1zm-2 3zm2 5zm17 4zm-2 7zm4 5zm-9 4zm7 2zm-13 1zm10 0zm-14 3zm19 2zm-20 16zm20 1zm-11 5zm3 2zm-2 3zm-10 2zm19 4zm-8 26zm7 6zm-16 13zm3 8zm6 18zm-1 13zm-9 0zm3 5zm-5 4zm29-25zm0-18zm7-23zm-7-1zm3-10zm8-11zm-5-4zm-9 0zm3-1zm5-3zm-9-2zm5-1zm2-1zm3-7zm-4-3zm3-3zm-5-11zm-3-3zm14-13zm-13-9zm0-3zm-1-2zm4-11zm11-3zm-5-10zm1-16zm-4-7zm-8-2zm6-8zm5-3zm-7 0zm4-12zm-2 0zm-5-10zm6-6zm-5-10zm13-2zm-3-2zm-3-3zm-9-1zm13-2zm-7-2zm10-6zm-11 0zm5-25zm10-1zm-17-5zm1-2zm6 0zm5-4zm-1-7zm-12-2zm13-4zm3 0zm2 0zm-21 0zm5 0zm11-6zm5 0zm-18 0zm11-4zm-11-1zm-3 0zm23-1zm-10-1zm-8 0zm2-4zm5-1zm-9 0zm14-1zm-15-3zm4-2zm-1 0zm15-1zm-19 0zm16-3zm-4 0zm-9-2zm0 0zm1-3zm3-2zm11 0zm-18-3zm13-1zm-2-1zm-7-1zm-3-2zm6-1zm-4-2zm17-2zm-14-2zm-3-1zm3-4zm6-4zm0-1zm-2-3zm1-5zm1-3zm9-5zm-8-2zm9-9zm-8 0zm1-7zm-1-4zm5-5zm-5 0zm0-8zm5 0zm-6-5zm-1 0zm-11-1zm8-1zm11-1zm-18 0zm6-3zm2-1zm1-1zm2-4zm-1-3zm10-1zm-6-3zm-4-4zm0-1zm10-3zm-19-1zm2-1zm8-1zm-5-2zm-8-1zm2-2zm8-1zm1-1zm11 0zm0-1zm0-1zm-11-1zm1-4zm1-4zm1-3zm-3 0zm-2-5zm7-2zm-9-1zm15-8zm-11-2zm10-3zm-11 0zm10-3zm-12-2zm3-1zm1-4zm-3-2zm1-1zm0-3zm0-5zm7-2zm-3-4zm1-2zm-8 0zm-8-1zm1-7zm3-6zm-2-3zm4-7zm-3-5zm4-1zm11-1zm-9-3zm12-1zm-14-4zm2-3zm4-9zm-1-5zm-3-3zm14-1zm-12-2zm1-6zm-1-2zm5-7zm0-5zm0-2zm5-4zm0-4zm-2-2zm4 0zm-1-6zm1-2zm-3-1zm3-5zm-4-5zm4-12zm12-29zm0 1zm2 4zm-5 4zm-5 4zm12 0zm0 0zm-6 2zm13 3zm-4 0zm-13 0zm3 4zm-8 4zm18 0zm4 7zm-22 3zm13 3zm5 1zm4 2zm-5 2zm-7 1zm4 0zm6 0zm-19 2zm16 4zm4 2zm-18 1zm-1 6zm-2 7zm6 25zm3 6zm-8 1zm1 1zm5 1zm-7 18zm5 4zm-2 3zm-3 1zm0 32zm5 2zm5 1zm-10 2zm16 2zm-15 2zm9 1zm-10 3zm1 4zm0 14zm1 5zm-2 5zm6 1zm-3 2zm5 1zm5 1zm-7 2zm3 2zm-7 0zm-2 1zm11 1zm1 0zm6 2zm-7 2zm-7 1zm2 0zm16 2zm-7 1zm-5 0zm-7 1zm-3 1zm0 2zm7 1zm9 1zm-13 2zm0 1zm6 0zm5 3zm-7 2zm3 0zm4 0zm-11 2zm18 0zm-20 0zm-1 0zm0 1zm15 1zm-4 0zm-8 4zm16 1zm-14 1zm-5 1zm7 1zm-7 0zm18 3zm-1 1zm-5 4zm-10 2zm7 5zm1 4zm-4 6zm6 2zm-3 2zm-7 0zm21 1zm-5 1zm-18 2zm23 1zm-1 2zm-6 1zm-15 2zm16 0zm-12 4zm9 0zm8 1zm-5 2zm4 4zm-2 0zm-13 1zm15 3zm-3 2zm-7 1zm2 2zm-1 1zm-8 8zm2 0zm16 3zm-16 0zm14 2zm-5 1zm3 2zm-13 3zm16 2zm-2 3zm-3 2zm-2 8zm5 2zm3 5zm-14 1zm11 1zm0 1zm0 3zm1 1zm-16 1zm16 1zm-4 0zm3 3zm-6 1zm-8 3zm15 0zm0 4zm-17 4zm1 5zm17 1zm-2 1zm0 0zm3 0zm-6 1zm-7 2zm14 2zm-6 1zm-16 2zm12 3zm-4 0zm14 2zm-12 2zm10 2zm1 0zm-2 2zm-3 0zm-3 1zm6 4zm-2 2zm3 3zm-11 2zm11 1zm-11 3zm13 4zm-20 1zm17 1zm-12 2zm-1 6zm12 0zm1 5zm1 4zm-5 1zm6 5zm-1 1zm-3 2zm4 1zm-19 3zm14 2zm5 1zm-3 0zm1 5zm-4 2zm0 2zm7 2zm-8 3zm2 0zm1 1zm4 4zm-4 3zm-1 0zm1 1zm3 8zm-4 3zm4 1zm-4 6zm3 0zm0 2zm0 4zm1 2zm-4 2zm5 2zm-4 1zm4 3zm0 3zm-17 5zm15 0zm2 2zm-13 0zm14 1zm-1 8zm-4 1zm-2 4zm-1 0zm8 0zm-2 0zm0 5zm-6 6zm5 2zm1 0zm-3 4zm2 2zm3 1zm-7 12zm1 2zm-12 0zm14 1zm1 4zm2 5zm-3 6zm-1 6zm4 2zm-5 1zm6 2zm0 5zm-5 1zm-3 7zm6 12zm-1 4zm0 2zm0 2zm3 1zm-2 6zm-3 0zm3 1zm-5 1zm5 6zm1 28zm0 5zm-18 9zm18 15zm0 5zm19 14zm-15-3zm17-1zm-4-3zm-12-2zm5-1zm3-1zm-2-7zm-5-3zm8-2zm9-4zm-11-8zm10-2zm-9 0zm-11-2zm1-2zm20-1zm-3-2zm-3-1zm-8 0zm1-3zm8-7zm-13-1zm-2-2zm15-1zm-10-1zm-2-1zm16-1zm-9-8zm8-3zm-3-1zm7-3zm-5-2zm-14 0zm10-1zm-9-2zm11-1zm-5-2zm-5-1zm15-2zm2 0zm-16-4zm1-4zm7-3zm-1 0zm-13-4zm7 0zm-2-3zm15 0zm-12-2zm7-3zm-1 0zm-14-2zm16 0zm-14-2zm4-2zm11 0zm-7-1zm3-1zm-7-2zm16-1zm-8-2zm-13 0zm20-3zm-19 0zm5-2zm8 0zm7-1zm-5-1zm-16 0zm18-1zm-4-5zm-7-1zm2 0zm9-1zm-4-2zm5-1zm-11 0zm-6-1zm-3-1zm5-1zm11-5zm-10 0zm-4-2zm20 0zm-12-1zm3-2zm-12-1zm3 0zm6-2zm5 0zm4-1zm-19-1zm11-1zm5 0zm-14-1zm4-2zm-2-1zm14-1zm-5 0zm9-1zm-23 0zm21-2zm-3-1zm-17-1zm2 0zm17-5zm0 0zm-6-1zm-13-2zm8 0zm-6-1zm3 0zm2 0zm-7-2zm22 0zm-2-2zm-12-2zm-9-1zm22-3zm-18 0zm-3-1zm9-2zm-4-5zm-6-1zm13-1zm-5 0zm-8-2zm23 0zm-1 0zm-13-2zm0-2zm8-1zm-6 0zm8-3zm-11-2zm-6-1zm15-1zm-2 0zm-2-1zm-8-2zm-2 0zm10-1zm-1 0zm-3-1zm13-2zm-20-3zm1 0zm14-1zm-5 0zm-2-2zm11-2zm-16-1zm1-1zm16 0zm1-3zm-22-2zm6-1zm-4 0zm-2-2zm16 0zm-2-1zm-12-1zm7 0zm11-1zm-16 0zm5-4zm-8-2zm3 0zm16 0zm-11-1zm-1-1zm-7-1zm-2 0zm9 0zm6-1zm4-2zm-15-2zm10-3zm6-1zm-16-1zm14-1zm-15-2zm4-4zm5-2zm-2-1zm-5-1zm11 0zm5-2zm-18-2zm-3 0zm5-2zm10 0zm-11-6zm2-2zm4-4zm-7-1zm10-1zm6-3zm-15-1zm6-1zm2-1zm-1-1zm-1-2zm10-1zm1-2zm-11-4zm0-2zm7 0zm-5-2zm-12-2zm6-6zm15 0zm2-3zm-20-3zm-2-3zm-1 0zm6-4zm14-3zm-3-6zm-13 0zm17-3zm-10-1zm2 0zm5-3zm-11-3zm13-1zm-12-2zm10 0zm-1 0zm-7-3zm13 0zm-8-2zm3-2zm-11-1zm5-1zm7-1zm-17 0zm13-3zm-14-2zm6 0zm3-4zm-10-4zm7 0zm0-2zm6 0zm-13-1zm0-2zm7-1zm-2 0zm-4-6zm-1-19zm0 0zm0-3zm23 0zm-6-2zm5-5zm-10-1zm7-2zm4-6zm-16-15zm-5-3zm7 0zm-8-1zm7-4zm-6-5zm4-2zm11-7zm4-3zm1-2zm-6-1zm-2-4zm7-1zm-3-2zm3-1zm-2 0zm-16-4zm5-1zm7 0zm4-3zm-7-1zm9 0zm-10 0zm-4-2zm-4 0zm-1-2zm19-2zm-5-2zm-9-1zm6 0zm9-2zm-20-2zm16-1zm2 0zm-4-4zm1-4zm-7-2zm-3-4zm8-2zm-6-2zm2-1zm-1-5zm-3-4zm16-1zm-6-2zm-6 0zm4-6zm-6-1zm-5-13zm-3-1zm5-5zm-6 0zm15-1zm-9-1zm2 0zm5-34zm2-4zm-7-1zm-5-3zm12 0zm-4-3zm-5-1zm17 0zm-6-1zm-1-4zm2-3zm4-3zm0-1zm-7-2zm0-1zm5-4zm1-23zm-7-1zm-2-3zm1-5zm8-1zm-7 0zm-2-2zm-3-2zm-3-4zm-6-2zm8-1zm3-3zm-7 0zm8-2zm-10 0zm1-4zm0-2zm-3 0zm4-4zm0-2zm-3-3zm0-4zm24 47zm7 0zm-5 0zm-2 3zm6 1zm1 2zm4 2zm-6 1zm2 4zm-8 4zm13 4zm-9 1zm12 2zm-14 3zm14 3zm1 5zm-17 1zm15 2zm1 7zm2 1zm1 4zm2 5zm0 1zm1 5zm-11 20zm4 3zm-8 1zm9 26zm-1 0zm-12 1zm8 3zm-4 0zm12 2zm-11 2zm-5 3zm6 5zm-6 1zm11 2zm-11 2zm3 2zm7 0zm-11 2zm9 2zm-11 1zm1 3zm4 0zm13 2zm-16 0zm4 2zm11 2zm3 2zm-9 2zm-11 0zm16 1zm-8 1zm-3 1zm13 0zm-17 4zm10 0zm-1 1zm-3 1zm12 1zm-1 1zm-14 1zm5 2zm6 1zm3 2zm-14 0zm4 1zm-6 0zm-2 0zm19 1zm-8 1zm1 0zm-7 3zm4 3zm-1 4zm-7 3zm2 0zm-3 5zm6 1zm13 13zm-4 4zm8 1zm-1 7zm1 1zm-18 1zm12 2zm2 0zm2 1zm2 2zm-21 1zm6 0zm5 1zm10 2zm-8 3zm-8 0zm-4 2zm18 0zm-17 0zm19 1zm0 1zm-10 0zm8 0zm-14 4zm-1 1zm-4 2zm3 10zm-4 3zm12 0zm-10 5zm7 1zm-2 2zm6 2zm-9 3zm9 0zm1 3zm-5 1zm10 4zm-6 3zm-13 3zm5 4zm1 1zm-3 4zm5 1zm-6 1zm9 1zm2 3zm-10 1zm-2 1zm12 3zm-5 1zm8 0zm-10 0zm-4 2zm17 1zm-18 0zm4 2zm-5 2zm7 1zm11 0zm0 2zm-11 2zm1 2zm6 2zm-4 1zm-9 0zm-2 3zm7 1zm12 2zm-7 0zm-5 1zm13 1zm-12 3zm10 2zm-18 0zm23 1zm-10 0zm-6 0zm-4 1zm-2 3zm9 0zm-4 4zm15 1zm-14 11zm14 7zm-14 1zm-4 1zm12 1zm-4 2zm-8 3zm15 0zm-5 1zm-10 0zm16 1zm-6 1zm6 3zm-6 0zm-2 0zm-4 1zm15 0zm-20 2zm0 1zm-2 3zm17 2zm-14 1zm6 1zm13 3zm-11 1zm6 1zm-15 0zm17 1zm-5 2zm5 2zm-5 5zm1 2zm-13 1zm15 5zm1 1zm-12 0zm-1 1zm9 1zm1 4zm2 0zm-7 1zm13 1zm-12 0zm7 3zm-13 3zm4 0zm-5 6zm7 0zm12 1zm-18 2zm6 1zm5 1zm-10 1zm10 2zm-16 0zm15 0zm-13 2zm11 3zm-13 8zm19 0zm0 1zm0 1zm0 2zm-16 2zm6 1zm8 1zm0 0zm-10 1zm2 3zm0 1zm10 0zm-8 0zm8 3zm-10 2zm7 1zm-13 0zm4 1zm4 7zm-2 1zm-1 1zm4 1zm-9 1zm17 0zm-19 1zm8 1zm3 1zm-7 1zm-5 4zm7 0zm2 1zm7 1zm-6 3zm5 0zm0 3zm-9 1zm5 0zm-7 2zm15 0zm-3 2zm-11 0zm-3 3zm6 1zm4 1zm-4 1zm-5 2zm11 0zm-8 2zm7 1zm4 0zm-16 0zm15 2zm-12 2zm10 0zm-10 3zm16 0zm-15 3zm1 1zm13 1zm-13 5zm3 1zm2 2zm-5 1zm14 2zm-5 1zm-15 2zm15 0zm0 1zm-11 1zm0 16zm8 0zm1 11zm-9 6zm3 1zm-7 1zm6 2zm9 1zm0 4zm3 1zm-18 1zm23 5zm-2 12zm-17 1zm16 6zm3 2zm0 4zm-21 1zm0 1zm14 11zm-13 5zm12 8zm9-14zm9-6zm-7-1zm5 0zm-3-19zm0-21zm12-18zm-4-4zm0-16zm-12-2zm10-1zm-8-1zm2-4zm2-1zm-6-1zm10-2zm-4 0zm4-4zm-9 0zm9-1zm2-2zm-4-4zm7-20zm-6-7zm-9 0zm10-1zm-5-1zm-3 0zm7 0zm5-8zm-11-1zm-1-3zm11-2zm-9-7zm12-5zm-5-1zm-3-5zm-1-4zm-5-16zm1-13zm-3-1zm10-3zm-9-11zm8 0zm-5 0zm-1-6zm-2-4zm-1-4zm1-2zm8-1zm-7 0zm-2-1zm6-1zm-5-2zm8 0zm-2-1zm8-1zm-15-3zm8-2zm-2-2zm-2-1zm10-1zm-7-1zm-7-1zm8-1zm-5 0zm11-1zm-14-4zm2-2zm12-1zm-7 0zm-5-1zm6-2zm-6 0zm10-2zm-7-2zm6-2zm-2-4zm3 0zm-4 0zm-2-2zm-5-3zm3 0zm8-3zm-2-3zm1-2zm1-1zm-9-1zm-1-1zm13-1zm-3 0zm-12-1zm10-4zm-4 0zm8-3zm1 0zm-3-6zm1-5zm-8-5zm8-2zm-13-1zm8-1zm6-3zm-12-1zm3-1zm10-5zm-2-4zm1-3zm1 0zm-8-3zm2-4zm3-3zm3 0zm-1-1zm-5-1zm2-1zm-10-1zm9-3zm-8-1zm8-3zm-10-2zm10-1zm2 0zm0-1zm0-1zm-6-2zm9-1zm1-6zm-1-3zm1-6zm-7-2zm4-4zm-6-2zm1-1zm-7 0zm9 0zm5-1zm-9-4zm8-1zm-14-2zm15-1zm-6-1zm3-6zm-9-2zm12 0zm-9 0zm8 0zm-1-2zm-2-2zm1-1zm-5-1zm-1 0zm8-3zm-10-2zm-2 0zm12 0zm-2 0zm3-6zm0-1zm-1-2zm1-5zm-1-3zm-12-3zm8-1zm4-1zm-4-1zm2-1zm3-1zm-6 0zm-4-1zm-2-2zm12-2zm-2-3zm1-4zm2-2zm-2-6zm0-8zm1-5zm0-6zm0-9zm0-9zm-1-5zm2-3zm-1-3zm0-3zm1-6zm-3-4zm-6-5zm1-6zm0-2zm5-1zm-9-3zm11-6zm-6-2zm-8-4zm11 0zm-9-4zm-2-5z" stroke="#1f77b4" stroke-width="7.2" stroke-linecap="round" fill="none"/>
<line x1="188.5" y1="448.4" x2="2007.7" y2="455.8" stroke="#ff7f0e" stroke-width="7" stroke-linecap="square"/>
<line x1="188.5" y1="443.5" x2="1435.8" y2="457.0" stroke="#2ca02c" stroke-width="7" stroke-linecap="square"/>
<rect x="98.6" y="43.1" width="2000.1" height="947.6" fill="none" stroke="#333" stroke-width="2"/>
<line x1="90.6" y1="990.7" x2="98.6" y2="990.7" stroke="#333" stroke-width="2"/>
<text x="82.6" y="1002.2" text-anchor="end" class="tk">0</text>
<line x1="90.6" y1="872.2" x2="98.6" y2="872.2" stroke="#333" stroke-width="2"/>
<text x="82.6" y="883.8" text-anchor="end" class="tk">50</text>
<line x1="90.6" y1="753.8" x2="98.6" y2="753.8" stroke="#333" stroke-width="2"/>
<text x="82.6" y="765.3" text-anchor="end" class="tk">100</text>
<line x1="90.6" y1="635.4" x2="98.6" y2="635.4" stroke="#333" stroke-width="2"/>
<text x="82.6" y="646.9" text-anchor="end" class="tk">150</text>
<line x1="90.6" y1="516.9" x2="98.6" y2="516.9" stroke="#333" stroke-width="2"/>
<text x="82.6" y="528.4" text-anchor="end" class="tk">200</text>
<line x1="90.6" y1="398.5" x2="98.6" y2="398.5" stroke="#333" stroke-width="2"/>
<text x="82.6" y="410.0" text-anchor="end" class="tk">250</text>
<line x1="90.6" y1="280.0" x2="98.6" y2="280.0" stroke="#333" stroke-width="2"/>
<text x="82.6" y="291.5" text-anchor="end" class="tk">300</text>
<line x1="90.6" y1="161.5" x2="98.6" y2="161.5" stroke="#333" stroke-width="2"/>
<text x="82.6" y="173.0" text-anchor="end" class="tk">350</text>
<line x1="90.6" y1="43.1" x2="98.6" y2="43.1" stroke="#333" stroke-width="2"/>
<text x="82.6" y="54.6" text-anchor="end" class="tk">400</text>
<line x1="302.2" y1="990.7" x2="302.2" y2="998.7" stroke="#444" stroke-width="1.6"/>
<text x="302.2" y="1030.2" text-anchor="middle" class="tk">2000</text>
<line x1="529.6" y1="990.7" x2="529.6" y2="998.7" stroke="#444" stroke-width="1.6"/>
<text x="529.6" y="1030.2" text-anchor="middle" class="tk">2002</text>
<line x1="757.0" y1="990.7" x2="757.0" y2="998.7" stroke="#444" stroke-width="1.6"/>
<text x="757.0" y="1030.2" text-anchor="middle" class="tk">2004</text>
<line x1="984.4" y1="990.7" x2="984.4" y2="998.7" stroke="#444" stroke-width="1.6"/>
<text x="984.4" y="1030.2" text-anchor="middle" class="tk">2006</text>
<line x1="1211.8" y1="990.7" x2="1211.8" y2="998.7" stroke="#444" stroke-width="1.6"/>
<text x="1211.8" y="1030.2" text-anchor="middle" class="tk">2008</text>
<line x1="1439.2" y1="990.7" x2="1439.2" y2="998.7" stroke="#444" stroke-width="1.6"/>
<text x="1439.2" y="1030.2" text-anchor="middle" class="tk">2010</text>
<line x1="1666.6" y1="990.7" x2="1666.6" y2="998.7" stroke="#444" stroke-width="1.6"/>
<text x="1666.6" y="1030.2" text-anchor="middle" class="tk">2012</text>
<line x1="1894.0" y1="990.7" x2="1894.0" y2="998.7" stroke="#444" stroke-width="1.6"/>
<text x="1894.0" y="1030.2" text-anchor="middle" class="tk">2014</text>
<rect x="1590.2" y="54.0" width="496.4" height="115.3" rx="5" fill="#fff" fill-opacity="0.85" stroke="#d0d0d0" stroke-width="1.6"/>
<circle cx="1622.0" cy="73.2" r="4" fill="#1f77b4"/>
<line x1="1595.9" y1="108.9" x2="1648.1" y2="108.9" stroke="#ff7f0e" stroke-width="6"/>
<line x1="1595.9" y1="146.8" x2="1648.1" y2="146.8" stroke="#2ca02c" stroke-width="6"/>
<text x="1663.6" y="80.0" class="lg">SSR</text>
<text x="1663.6" y="115.7" class="lg">trend for full series, (-0.24 W/m<tspan class="sp" dy="-8">2</tspan><tspan dy="8">/yr)</tspan></text>
<text x="1663.6" y="153.6" class="lg">trend for 1999-2009, (-0.56 W/m<tspan class="sp" dy="-8">2</tspan><tspan dy="8">/yr)</tspan></text>
<path transform="scale(0.5)" d="M4077 3639l-10-5-18 1-16-14-19 1-10 16 1 10-15 2-9 19 2 11 15 7-3 8-11 12 2 10 5 4 10 0 11-11 21-4 5-7-1-11 10 4 9-2 5-7 0-6-7-9-6-2 7-4 9 4 8-2 7-9zm-56 18l5 2 2 8 6 5-2 11-7-2-7 2-8-4zm-598-51l-5-1-12 4-8 9-9-10-12 1-5 7 0 6 5 7 10 1 4 10-3 3-7-4-12 0-7 8 5 19 11 9 11 1-3 12 8 9 25 1 8-9 0-6-6-8-19-8 0-3 5-2 5-7 0-6-4-6 16-6 8-9-2-14zm203-12l-7-2-16 6-5 7-1 11-13 6-5 7 2 10 6 5-3 12 9 11 4 13-8 6-25-3-12 7-8-3-6 1-5 4-7 14-7-7-10 0-10 14 0 6 5 7 15 1 9-10 5 4 12 0 9-7 5 26 5 4 8 1 7-2 7-11 15 1 7-7 8 0 7-8-2-10-5-4-10-1 7-8-2-9 9-7 3-9-4-14-10-6 8-11 0-7 14-13-2-9 2-9zm-31 115l2-6 9 1-7 7zm266-135l-9 2-5 7 2 11 8 5-10 5-2 4 2 12-9 7-4 8 4 13 8 9 7 2 7-2 12-15-2-10-10-7 5-2 5-7-3-12-6-5 10-5 2-11-5-7zm-738 16l-8-14-10-5-29 5-5 7-1 12 7 8 32 6 10-5zm186-34l-5 4-4 9 2 11 10 5-8 6-3 6 0 6 6 9 0 8-14 2-6 6-16 1-6 8 0 8 7 8 12 3 10-2 1 8-5 4-2 10 5 7 13 2 0 17 10 19 8 2 10-5 2-11-6-10 7-3 10 6-3 14 5 7 13 4 11-6 8 7 10 0 7-5 2-11-6-8-7-2-14 6-3-14 2-10-10-14-17-2-7 2-6 6-9-3-11 1-1-3 7-6 8-15-5-19 7-3 17-17 2-10-15-15 3-6-2-10-12-11zm253-5l-5 7 0 6 7 14 5 4 11 0 9 12 12-1 5-7 1-11-16-23-10-5zm-203-11l-12 12-2 18 11 11 5 10 13 6 11 0 7-8 0-6-4-6 6-10 0-7-14-17-15-4zm587-6l-5 7 2 10 6 5-8 12 2 11 7 5 13-1 8 7 14 2 7-2 7-10 0-8-4-9-10-5-9 2-6-9-6-2 1-8-5-7-7-2zm-782-18l-18 0-8 10 3 13-4 6 1 7-4 6 0 6 9 11 21-2 7-8 0-12-5-9 6-5 2-10zm-259-4l-14 16 2 10 10 5 7 8 15 3 7-2 5-7-2-9 4-6-2-11-14-8zm-1129-7l-11 6-4 17 16 27-7 9 0 8 10 14 7 2 7-2 5-7-3-13 5-4 2-10-6-8 3-12-10-22-5-4zm2025-16l-10 5-2 13-10 2-5 4-2 10 7 8-4 4-3-1 0-6-7-8-12 0-7 8 0 7 5 7 14 2 0 10-5 4-6-2-10 2-5 7 0 6 5 7 7 2-3 14 4 12 6 6 12 1 7-8 2 1 1 12-10 5-3 13 5 7 10 3-3 21 6 9-9 10-3-11-6-5-11 0-7 8 2 10 6 5 11 0 7-8 1 8 6 8-4 6-8 1-5 4-4 12-7 8-2 16 5 7 7 2 10-1 5-4 9-14-1-13 12-1 7-8 0-6-8-10 4-6-3-12 15-6 2 4-7 3-5 7 1 13 6 8 8 1 7 7-8 3-5 7 2 12-5 7 0 6 5 7-3 12 6 8 11 2 7-2 5-7 0-9-7-11 9-11-2-11-11-11 13-8 8-1 14 7 13 0 8-5 2-12-5-15-11-6-9 2-9 10-9-3-10 3-4-5 2-3 10 2 11-6 2-4-2-12-7-5-18-3-11 3-9-18-5-4-10-2 0-8 7-4 8 6 12-1 5-7 1-14 8-1 7-8-2-10 5-18-3-13 7-2 9-12 6 0 5-4 2-10-3-6 4-13-9-9-10 0-8 9 2 12-3 8-24-2-8 3-7 8 3-7-2-14 14-1 5-7 0-7-5-7-8-1-4-5zm-25 94l6-4 9 3 17-1 8 7 0 6-8 3-6-8-9-3-11 6zm259-106l-12 7-2 10 10 12 1 12 10 5-7 2-5 7 0 10 6 9-23 1-7 8 0 8 4 9 14 6 19-2 5-7 0-6-8-13 13-1 14-7 8-13-2-10-9-5 11-11 0-7-4-7-7-6-10-2-6 2-6-9zm-756-38l-10 4-12-1-9 10 0 6 7 9 13 4-5 4-2 10 7 11-2 14 4 6-10 4-6 8 3 12 10 5 19-9 2-11-4-6 15-8 10-13 0-7-6-8-7-2-7 2-6-10-9-3 5-4 9-1 5-7-4-14zm-1709-8l-15 1-7 8 2 15-13-4-7 2-5 7 2 12 10 5-7 8 0 13 6 8-4 19 13 14 7 2 11-1 7-8 2-18-4-7 9-13 1-12-5-7-7-2 11-6 1-11 8-9-2-10zm-12 41l2-2 6 2-4 2zm2029-51l-6 8 2 10 5 4 6 0 10 10-6 8-6 0-7 8 2 13 7 8 13 1 8 7 6 1 18-5 5-7-2-11-5-4-13-2 8-6 3-6-2-10-6-6-6-1-3-8-11-11-9-3zm-550-2l-14 15 5 20 17 16 12 1 7-8 0-7-8-10 7-9 0-8-8-10zm-1065-3l-13 14 2 9-3 5 2 10-3 11 5 7 17 8-5 5-5 13 0 11 5 11 6 5 7 0 10 5 9-4 14 1 9-12 15-1 5-7 0-8-9-9-13 0-7 8-8-2-15 4 4-13-6-9 16-1 5-7 0-6-7-8 1-11-5-9-15-9-6-10zm-666-17l-7 2-5 7 0 8 4 6-12 1-7 8 0 7 5 8 14 7-2 6-6 1-9 8-2 15 5 7 9 2 7-2 5-10 6-3-4 13 0 7 6 8-2 13 5 7 8 2 7-2 5-11 5-2 8-10-3-15-5-7 11-1 10-6 7-11 0-6-5-7-7-2-7 2-10 8 2-7-2-15-20-10 3-6-2-11-8-7zm28 67l5 13-12-5zm1410-66l-11-2-11 6-15 27 3 12-2 3-5 2-4-5-7-2-7 2-6 8-7-7-7-2-10 5-2 10 4 7 15 8-10 6-2 10 13 16 7 2 11-6 11 0 12-15 9-4 5-9-2-9 3-11 8-9 2-12 12-12 0-8zm1317-17l-10 5-6 15 2 10 11 6-6 9-8 1-8 12 0 7 7 9 18 6 10-5 9-28-2-10-12-6 10-5 1-15-5-7zm-311-38l-7 2-5 7 0 19-10 0-20 12-1 16 9 12-7 6-3 14 8 9 13 1 3 16 14 6 2 3-2 9 12 12-2 3 2 13 10 5 14-5 5-7 0-6-5-7 1-7-5-7-5-2 7-6 3-13-11-12-7-2 3-12 13-3 5-7 0-6-6-8-12-4-12 4 2-13-5-7-6-3 10-1 6-4 6-8 0-6-6-8zm-17 78l5-1 3 7-7 1zm-637-84l-11 15 2 11 11 6 11-5 3 11 7 6 7 2 10-3 4 7-12 7-10-7-22 0-5 4-4 10-4-5-9-2-1-11-9-10-13-1-6 5-2 10 10 14 10 3-3 11 11 16 1 12 7 5-6 5-2 10 6 8 7 2 9-4 6 2 8-3 3 9 11 6-1 8 5 7 11 2 10-5 1 7 5 7 10 3 7-1 9-9-4-16 8-9 1-17-4-6 6-2 6-9-5-31-7-7-10-1 8-12 0-6-6-8-1-13-7-8-7-1-11 4 0-9 5-7 0-7-7-8-9-1-13 4-6 9 4 14-6 4-2-18-5-4zm60 82l2 14 11 17-2 2-12-1-10 5-8 16-3-2 3-6-2-10-5-4-6 0-5-6 0-5 8 5 12-1zm-422-103l-16 4-5 4-1 15-5 7 3 26 5 4 14 3 9-2 5-7 0-8-5-9 9-11-1-17-5-7zm1031 53l-2 11 7 8 14-1 6-12 9 0 4 5 6 2-8 9 1 14 10 11-12 23 0 6 6 12-12 1-5 4-4 8 2 11 5 4 11 0 11-10 9 12 7 2 10-5 2-10-6-8-2-10-8-7 13-1 10-10 10-5 2-12-3-6 8-9-2-24 3 1 5 16 6 5 27-2 10-11-2-10-6-5 6-2 5-9 8-5 3-10 9 0-6 9 0 6 7 8-7 2-5 7-2 24 6 9 7 2 11-2 8 8-1 15 4 6-12 7-6 11 0 6 7 8 7 1 9-4 2 2-6 12 0 9 5 7 9 5 7 14 18 2 5-4 2-9 8-5 2-10-7-15 2-3-2-9 15-3 8-11 0-6-7-13-10-5-19 3-5 7-1 22-5-1-8-12 11-8 10-18-1-14-6-9 8 1 6 5 10 0 12-8 1-11 9-4 5-7-2-11-5-4-7 0-3-4 5-7 0-6-5-7-17-3-12 5-8-3-12 1-10 9-3 13-8-10-16 0 11-11-1-13-7-8-12-1-7 2-5 6-6-2-11 2-5 7 1 9-4 4-17-5-4-8 3-11-5-7-9-3-8 2-5 7 0 6-4 3-3-13-10-5-11 6-4 10-10 0-6 5-4 20-10-2-7 2-5 7 0 5zm67 40l6 4-4 5-5-4zm-6-27l1 5-3-3zm163-2l-1 13 2 3-11 0 3-14zm12-21l5 4-4 6-3-8zm-144 4l3-4 6 2-4 5zm-32-23l3 3-1 5-6-2zm-737-54l-13-1-8 7-2 10 8 9-15 2-8 12-6 1-12 12-2 10 5 7 7 4 12 0 7-5 3-12 8-1 6-5 3-14-9-10 11-1 8-7 2-11zm-2007-36l-7 2-5 7-2 12 4 6-8 7-2 10-11 2-5 7-1 7-15 3-5 7 3 18 8 5-2 11 5 10 5 4 14 2-4 6-4 26 6 12 5 5 9 3-3 5 2 11 9 7 11-1 10 5 7-2 6-7 1-12 7-8-2-9 6-8-2-13-5-7-7-2-10 2 5-9-1-7 6-1 6 7 12 2-3 11 8 11 12 1 7-5 2-11-3-6-5-4-14-1 9-14-5-20 2-9 14-1 5-7 1-10-7-10-9-3 9-10-2-10-5-4-13 0-20 19-2 10 7 8 14 0 3 9-15-7-12 2-7 8-1 13-8 1 1-7 7-9-2-11-10-7 5-9 0-7-5-7 8-9 0-11-5-7zm10 163l-9-1 6-2zm-23-78l5 4 11 1-8 11 3 12-6 6-9-3 4-6 0-6-6-8zm-9-14l9 1-3 5zm243-97l-13 1-5 7-1 9-12 2-8 16-7 0-7-11-9-2-7 2-6 8-8-3-7 1-8 9-2 16 2 15 5 4 13-2 4 3-9 14 4 18-9 1-7 8 2 10 5 6 7 2 10-5 3-12 7 0 8-7 5 8-5 7 0 9 3 5-5 8-21 3-7 3-5 7 6 23 11 7 8 1 15-5 5-7-4-18 11-2 9-11 6 6 7 0 7 8 15-1 10 7 6 0 10 14 13 3 9-1 7-8-2-10-9-6 11-24 1-15-5-7-20-1-7 8 1 10-17 0-7 8-9-10-6-1-9-7 2-4 14-4 8-12 8 9 26-2 10-12 13-3 5-7 0-8-8-9-11 0-10 9 2-26-4-11-5-4-10 0-6-7-14-7 5-7 0-7zm-57 47l3 1 2 9-6-5zm452-79l-3 14 15 17 7 2 7-2 5-5 3-9 1 9 8 14 7 2 10-5 2-4-1-17-5-7-9-3-9 4-6-12-12-3-15 1zm502-72l-13 1-6 8 0 6-11 2-5 7 2 10 13 16 10 0 6-4 6-12 10-10-2-11zm-924 108l0-10-7-8-10 0-9 10-2-1 0-4 9-10 0-6-5-7-7-2-11 4-8-10-12-1-4-6 10-2 7-14-2-11-12-7 5-10 12 2-1 11 10 11 12-1 8-12 0-8-5-7-16-2 0-11-7-8-10 0-5 4-8-3-18 1-7 8 2 9-3 3-10-5-19 1-5 7 2 15-15 2-6 9 0 9-8-3-6 1-5-16-10-5-13 5-8 11 2 10 10 5-7 5-5 11 2 10 6 7 15 3 5 7 8 4 16 1-6 9 0 7 10 14 10 0 7-7 6 1 8-3 8 7 15-1 8-17 0-6-5-9 12-4 5 5-5 21 5 7 10 3 9-2 7-13 13-3 4 5 8 2 7-2zm-138-38l2 3-3 5zm-4-16l8 2-3 4zm2314-68l-14 4-5 7-1 7-7 8 0 6 5 7 10 1 6 9 6 2-2 6-11 5-5 11-12-5-7 2-5 7 1 18 10 5 8-2-1 5-10 1-7 7-7-14-10-2-12 5-6 8 2 10 8 6-1 8 6 10 7 2 9-4 10 0-13 7-1 15-10 0-8 7-4 8 0 8 5 7-1 7 8 11 8 2 15-7 6-12 10 5 2 3-2 3-13 4-6 5-2 10 5 7 5 2 0 7 6 8 12 1 1 3-2 2-14-2-10 13-10-2-10 5 0-5 18-9 2-4-2-10-10-9-11-1-9-9-11 1-3-8-7-6-13-1-7 8 1 9-11 2-5 7 0 6 6 8 12 2-2 12 3 8-16 2-7 8-6-12-10-2 1-7-5-7 1-3 9 4 10-5 2-10-5-7-7-2-7 2-5 7-1 7-13-7-7-11-6-1-6-7-7-2-11 6-3 9 2 11 19 26 20 7 10-3-5 9 0 7 4 7 10 5 8-2 6 5-7 9-9-4-10 5-2 10 7 18 6 5 6 0 13 21 11 6-1 7 9 13 17 3 3 14 7 10 15 5 13-3 8-9-2-10-17-11 6-7 7 2 11-2 9-9 2-10-8-10-1-11-5-4-10 0-8 11-3-1-3-18 2-11-9-19-7-2-8 2-5 11-4 2-7-3-4-7-9-6 3-4 8 2 10-5 6 6 10 0 10-6 7-11 3 11 13 7-2 3 2 11 5 4 10 0 10-10 0-7-6-12 15-11 23-1 10-9 9 12 12 1 5-4 6-13 7 0 5-4 3-9 12 6 10-3 3 4 1 18-7 8 2 13-3 2-5-2-3-9-6-5-16-1-7 8 0 5-6 8 0 6 6 12 5 4 14 0 6-5 2 14 10 8 14-1 1 15 15 9 11 0 6-3 5-7 0-6-6-9-26-3 10-12 0-6-4-6 3-6-2-11 4-1 9 4 14-1 10-13 0-6-5-7-7-2-10 2 1-13-6-8 2-3-2-10-12-5-7 2-8 7-6-11-8-2-11 4-6 13-12-5-5-6 4-7 6 0 5-4 2-11-6-15-16-14 9-12 0-7-9-14-11-7-2-10-8-5 2-10-3-5 5-5 4 12 10 5 7-1 8-9-2-12 6-26-7-8 6-11 0-6-8-10-10 0-7 4 2-13 7-2 5-7-2-12-10-5-9 4-6-8zm-75 366l5-1 1 3zm-26-134l13-2 3 9 9 4 4 9-12-3-8-6-10 0zm109-7l9 1 11 12-6 8-1 9-3-5 2-9-5-7-6-2zm-16-6l8-4 4 7-10 0zm-10-126l5-8 7 9-11 1zm-2586-121l-13-7-7 2-7 9-11-4-7 2-7 12 6 22 5 4 12 0 7-8 0-10 10 5 7-2 7-15zm1780-12l-5 7 0 6 5 7 8 3 0 7 5 9 11 6 11-2 8-17-5-22-5-4-11 0-9-4zm493-12l-7-2-8 2-5 7-2 10-12-1-7 6-5 8 0 6 6 11 18 1 16-9 3-12 9-11-1-9zm339-84l-10 14 3 24-11 22 1 8-7 14 0 7 9 12 13-2 7 4-17 4-5 7 0 6 7 8 18 4 10-2 11 9 11 0 8-10 0-8-4-7 3-11-5-11-10-5 10-3 6-8 0-9-6-8 4-9-3-12 4-6 0-6-8-9-19 0-1-7-7-9zm15 103l-2 2-6-2 6-2zm13-17l5 0-2 2zm-12-37l10 12-2 4-11-2zm463-53l-11 0-7 4-8 14 0 19 13 20-9 4-9 12-5 23 5 7 12 8-16-1-7 8 0 6 8 10-1 9 7 11-7 6-3 8-12 0-8 6-2 4 2 14-4 6 1 15-5 7 3 12-6 13-9 10 3 13-12 7-10 1-9 14 2 10 8 7 7 2-9 3-5 7 0 9 8 10 12-1 10 5 7-2 6-10 8 3 8-2 4 5 7 2 10-5 6 10 19 3 7-2 5-7 2-24-7-8-11 1-2-6 6-8 1-21-4-6 8-17 12-8 3-12-9-13-7-2-9 1-8 10-2-2 4-6 0-8 12 2 11-6 7-19-2-13-7-8-10 0-6 5-2 11-10 6-3 9-14-7 2-9 16-4 6-8 0-5 9-7 7-13 0-7-8-10 17-19 0-13-5-7-7-2-9 2 3-11 13 2 7-8-1-25-5-7-11-4 9-16 0-6zm-82 311l-8-1 6-2zm58-19l-1 4-9 0-7 6-7-8 21-6zm-191-304l-11 6-25-2-10 5-3 28 8 9 16 2-7 11 0 6 4 6-3 6-5 2-2-13-10-5-8 2-5 7 0 22 4 6-4 7 0 21 8 12 7 2-3 3-8-3-7 1-7 8 0 7 7 8-11 7-5 11-4 20 2 11-2 25-3 5 2 10 12 5 8 11-5 7 0 6 5 7 5 2-4 8 3 12-3 2-7-4-11 0-3-9 1-11-5-8-6-5-12 1-8 14 0 6 12 19-16 1-5 7 0 7 7 10 17 2-7 2-6 8-4 18 5 7-19 1-8 9 0 9 5 7 15 2-3 5 2 12 27 14 1 6-9 5-2 11 4 9 10 5 13-2 10-11 8-17-2-11-5-4-10 0 0-3 24-4 7-8 0-6-7-13 2-9-6-8-12-1-11 9-8-11 10-3 7-13 8 11 8 1 6 5 10 0 8-9 9-4 2-13 4 9 10 5 9-2 7-12 0-6-7-11 1-13-2-3 4-6-1-14-9-13-8-2-7-10-7-2-1-11 5-2 6 8 12 1 15-8 2-10-5-7-10-2-8-10-6-1-7-12-9-3-11 3-9-1 11-16 0-7-12-22-5-4 7-2 11 15 12 1 8-9 3-13 20-4 10-15 0-6-9-10-2-7 7-12 0-7-6-10 11-12 2-11-7-8-13 2-7-11-12-2 7-5 7-14 12 1 7-8-2-13zm-105 392l7 4-6 2zm-4-11l3 3-1 3zm70-53l2 2-3 2zm-65-11l9 2-4 5zm79-225l4 3-1 15-8-4zm-221-148l-7 2-5 7 0 8 9 11-9 6-2 11 3 5 1 14 5 4 14 1 10-5 2-16-4-8-13-11 8-5 2-11-7-11zm-460-23l-10 5-2 12 4 10 9 7-14 0-5 4-2 10 12 11-9 3-8 14 2 14 6 11 8 5 2 16-10 1-10 7-9 0-9 11 0 8 5 7-3 6 2 14 5 4 6 0 11 9-7 10-7-2-8 2-5 5-9 20 2 10 6 5 30-4-5 10 1 9-24-6-12 5-4 19-6 9 1 8-5 7-1 14 6 11-4 6 1 7-6 7-6 2-7-14-13-4-12 7-2 11 1 10 11 19 12 6-2 4 2 17 5 7 5 2-13 12 0 9 5 7 7 2 10-4 17 7 11-6 6 5 12 0 7-8-3-13 4-1 9 3-3 12 6 11 10 5 14-3 5-7-2-10 6-8 0-12 3-5-3-13 5-7-4-17-8-5-2-9-7-5 10-5 5-11 8 0 7-8-2-9 9-10 0-13-13-13-8-2-2-5 7-3 5-7-1-9 7-9-1-19-12-19-13-5 0-12-8-9 13-9 1-12 7-16-1-15 3-5-1-10 3-11-5-7-7-3 10-2 7-9 0-7-5-8 2-14-6-15 2-10-5-7-10-2-8-16zm-50 401l-5 5-4-3zm22-24l5 4-6 5zm30-3l7 11-10 10-5-10 5-10zm4-27l-8 2-10-4-14 5 3-6 11-2 5-7 6 9zm-16-31l5-1-3 3zm23-22l7 8-1 6-8-5zm-21-83l10 10-2 2-6-1-4-8zm-213-226l-16 6-5 7 2 9-4 7 3 24 4 6-16 5-5 7-7 28 7 9-3 11 6 8-11 9-2 11 9 10 0 4-7 8 0 6 9 9 9 21 5 4 19 0 13 5 11-6 2-13 13 5 11-6 2-10-4-8 17 8 13-3 5-7 0-10-6-8-7-2 5-7 0-6-7-10-15-3-11 1-2-19-9-14 3-14-5-7 10-12 0-7-6-9 3-13-5-7-12-2 5-7-2-13-5-4zm39 175l2-3 4 4zm-48-9l6 2-1 5-4 3-5-6zm32-11l12-8 8 10-3 5-6-5zm-35-30l7 3-5 7 2 11-2 2-6-18zm18-28l2-1 3 4zm-17-35l9 1-5 3zm-1364-62l-8 12 0 6 5 7 11 1 4 3-13 2-7 11-10 5-5 7 4 13 6 5 9 1 1 16-9-2-7 2-5 9-10 9-4 13 0 8 9 10-7 10 1 8-7 9 3 18-5 7-4 19 4 8 9 8-3 5 2 9-6 5-2 8-8 6-4 12-9 7-4 7 2 10 11 12 11 4 12-4 1 17-10-1-8-8-15-1-3-11-10-11-7-2-10 5-8 14 0 7 8 9 8 1 10-5 3 1-5 11-1 13 5 7 7 3-12 2-5 7 0 8 5 7 7 2 14-6-4 19 11 15 12 1 18-14 14-5 7-13 7 5 2 8 10 5 7 8 10 0 17-11 9 10 9 5-7 6-8 1-7 14-8 0-5 4-2 14 9 9 0 7 7 10 8 2 11-5 2 19 11 6 0 10-8 9 0 22 5 7 7 2 15-2 2 2-2 14 6 8 7 2 18-1 7-10-3-11 10-3 6-8 7 2-5 7 0 7 5 7 8 2 10-5 2-4-2-10-11-6 11-13-1-10-5-7 5-8 0-6-15-18 4-6 1-25-5-7-6-1-3-6 4-4 14-1 6-12 10-3 5-7 0-12-6-8-12-1-9 8-5-13 15-1 5-7 0-10 5-4 9 9 12-1 3 8 10 5-9 13 0 7 9 12 7 2 20-4 5 13 5 4-5 7 0 11 3 7 10 5 6-2 4 13 10 5-5 5-8 2-8 13-6-2-7 2-5 7 0 7 11 22 11 1 3 8 5 4 10 0 3 10 5 4 10 0 4-3 4 15 5 4 8 1-1 12-9-2-7 2-10 17 0 7 7 8 17-1 11-13 12 3 7-2 4-5 13-1 5-7 0-8-5-8 12-16 1-17-5-7-7-2-7 2-4 5-10 0-7 5-1-9-6-8 1-8-5-7-5-2-6-14-5-4-13 0 3-12-5-7-7-3 8-6 3-8 5 4 10 0 6 14 5 4 10 0 5-4 4 13 0 11 8 17 11 6 10 0 9-11 9-4 2-9 8-9 0-7-8-10 7-2 5-7-4-13 5-5 6-1 7-9-2-12 15 1 7-7 9-2 6-8 1-12 5-2 6 7 8 3-4 6 2 19 8 12 7 2-2 11 12 17 3 13 10 5 10-2 7-5 12-18-3-19-10-5-11 5-18-7 2-6 9-6 2-12-8-9-12-1-9-4 8-11 2-9 8-5 9 9-2 11 3 6 20 12 7 0 6 9 7 2 8-2 5-7 0-7-7-11-11-8 1-11-3-7-9-4-6-11-20-2-11 5-11-10 11-6 6-9 0-8-4-6 4-6-2-12-10-5-10 3-6 8 1 10-7 1-2-4 3-11-4-6 8-3 4-5 7 0 9-7 6 0 6 6 11 2 3 5-1 12 11 13 22 4 17-7 2-13-7-8-6-1-8 3-9-4 6-10 0-11-5-7-12-1-7 8-7-7-10 0-1-14-6-5-20-2 2-6-2-10-12-6 3-5 9-4 1-15 5 1 2 13 6 6 7 2 9-2 9-15 15 7 7-2 5-7-2-10-6-5 3-5-1-9 7-8 0-7-5-7-9-3-16 2-6 8 2 10-14 1-5 7 0 9-6-9-2-9-7-6 1-3 8-2 8-12-4-16-10-5 7-8 0-10-6-8 0-7 6-8-2-11 2-3 5 7 7 2 7-2 5-7 0-7-7-8-10 0-6 6-2-2 3-5-3-12 5-7 0-7-7-13-4-1-9-10-19-7-16 6-5 7 4 22 5 4 10 1-4 6 0 6-12 2-7 9 0 13 3 8-5 7 0 7 4 8-11 17 2 10 9 5 1 14 6 5-11 6-2 4 2 11-11 8-1 16-7 10 2 11 13 7 0 4-15 1-8 9-2 10 6 9 7 2 10-2 6-11 8 5 14 0 3 4-2 3-7-1-8 3-14-1-15 7-2 4 2 13-12 6-3 6-1 17-9 10 2 10 15 11-5 7-8-9-12 0-17 16-3 14 7 8 12 3 7-2 7-9 9 4 11-4 5 7 11 2-5 10-11-5-8 2-6 8 2 10-8 2-6-8-6-1-7-8-10 0-5 4-2 10 9 17 10 5 9-4 7 14-11 3-6 11-4-5-13-4-10 4-16-8 14-7 2-4-2-9 7-8-2-14-10-5-5-7-7-2-7 2-9 13 0 9-3 3-5-14-5-4-12 1-9 12-10-7-11 1-2-11 6-1 10 5 10-5 3-7-2-10-5-4-14 0 0-9-7-8-10-1-10 5-6-9-9-3 7-8 10 0 4-3 13 12 12 1 7-8 0-7 9-6 6-10 0-6-5-7-7-2-7 2-3-3 1-13 3-7 8-6 2-10-6-8-12-3 6-5 4-9 10-5 6-13 0-6-5-7-10-3-3-8-8-6 4-8-3-12-6-5-15-1 5-7-4-13 2-4 4 3 2 11 5 4 11 0 8-9-3-15-7-9-3-12 5-10-2-10-5-4-18-4 5-6 15 6 7-2 6-8 0-7-10-19 2-10-7-9 4-9-2-10-5-4-6 0-7-8-10 0-5 4-2 10 7 10-11 12 0 5-5 7 2 15-10 12 0 7 5 7-5 8 0 8 5 8-5 7 0 15 5 7 7 3-11 1-15 11-2 17 6 10-11 11 4 19-5 7 0 6-7 2-5 7 0 6 5 7 7 2 7-2 2 7-10 2-5 4-3 19-7 8 0 8-8 15-21 6-4-10-10-5-7 2-5 7-3-10-10-5-7 2-10 13 2 10 10 5 9-2 8-13 7 22 10 5 8-2 1 19 14 8-2 7-13-2-6-6-11 0-12 12 0 6 6 8 7 2 9-4 2 3-10 3-12 13 0 6 9 13 14 1-6 13 2 12-5 8-2 31 5 7 14 4-10 4-6-6-10 0-8 10-3-4 2-12-4-12-14-9 3-3 8 3 8-2 5-7 3-16-5-7-5-2-23 2 4-6-1-7 8-3 6-8 0-10-5-7-6-3-2-10 12-3 5-7 0-7-7-8-15 0-8 9 1 12-17 0-6 5-4-4-1-5 6-8-2-12-6-5-9 0-4-13-9-4-5-6 13 4 13-2 7-8-1-17-8-9 10-5 5-18-6-8-7-2-10 5-11 1-6 9 2 10 5 4 9 0 4 3-2 2-13-4-7 2 0-9-5-7 6-9 0-6-5-7-10-2 0-6-4-6-1-6 3-2 5 5 15 5 7-2 8-7 2-11-5-7 5-7-1-7 5-7-3-15-11-7 10-5 2-14 10-5 2-10-11-14-7-2 10-14 3 8 10 5 7-2 6-8-2-10-8-6-9-15-2-9-10-11-10-3 7-2 5-7-2-12-8-7 2-4-2-11-15-10zm108 510l4 7-1 5-5-3zm176 0l12-5 6 8 2 10-18-9zm89-53l8 7 9 3-7 2-6 9-3-3zm-296-24l-7 7-3-1 5-7zm222-20l1 3-4 2zm105-6l4-2 5 5-7 0zm-267-2l7 2-6 2zm16-35l5 4-4 0zm74-1l2-3 4 4zm-255-40l9 3-7 9-4-1zm21-5l1 7-5 1zm2-9l3 3-3 5zm424-2l2 10 7 8 17 2 13-6-5 9 2 11-2 11 5 7-12 2-6 8-14-2 8-10 4-15-5-7-20-7 6-8-2-11zm-203-17l-3 4-1-2zm202-1l2 3-2 2-2-2zm-198-30l4 0-2 2zm25-19l-4 8 0 8-11 1 6-16zm4-1l2-2 2 2zm188-53l4 1-2 2zm-203-2l3 5-2 10 7 8-7 2-5 6-2-2 5-10 0-7-5-8zm-221-16l-4 12-11 0-9 8-1-5 5-7 0-6-4-6 3-3 10 6zm-21-50l0 7-7 1 1-6zm473-4l2-2 8 2-3 3zm-11-31l2 12-5-7zm3-8l1-3 2 2zm1-22l3 2-2 1zm-669-76l-11 0-6 3-5 7-1 19 8 12-5 2-5 7-1 17 9 9-1 3-16 1-12 22 2 10 11 10-11 11-5 14 0 6 6 9-2 13 3 5-9 6-4 8-2 17 3 6-11 4-7 11 2 15-3 19 10 10 12-1 9-11 7-4 3-10 12 5 8-2 16-16 6-12 11 0 12-6 7-13 0-7-5-7-8-2-12 6-4-5-12-5 10-5 3-10 5-4 5 0 7 12 10 5 7-2 12-13 0-7-5-7-22-1-6-9-15-3 8-5 4-16 12-7 2-10-10-10-13 0 0-5 6-8-1-12 3-5-2-12-10-5-8 3-7-7 16-4 8-12-2-11zm-12 186l-3 2-4-2 5-2zm5-63l2 7-2 3-3-5zm2046-127l-7 2-5 7 0 14 5 7-5 7 0 6 5 7 7 2 0 4-11 6-5 11-7 5-8 18 3 15-10 12 0 9 7 8 13 0 2 9 9 6 1 13 8 7-11 3-6-5-12-1-7 2-5 7 0 7 4 6-5 7 0 6 5 7 9 3-20 7-6 8-2 18-5 7 0 10 5 7 15 1 1 3-9 23-10 2-8 11 2 12-5 8 0 6 8 9-10 5-5 19 0 7 5 7 11 1 6 5-7 2-6 10-9 6-2 10 5 8-7 2-5 7 0 7 8 14 13 1 4 5 11 3-4 10 4 18 5 7 15 6 10-5 2-8 8-9 2-10 8-5 4 3 11 0 8-11 0-7-5-7-10-1-6-4 13-3 6-8-3-11 5-9-2-10-5-4-11 0-7-8-10 0-4 3-6-2 13-9 3-15 7 11 7 2 7-2 5-7 2-13-11-13 5-4 3-9 6 2 10-5 2-14-5-7-7-2-9 4-18 2 7-12 0-9 4 3 10 0 8-10-2-10-12-6 10-5 4-10 9 0 7-8-2-12-14-6 3-5-2-11-10-5 16-12 3-13-10-14-8-3-1-9 5-2 7-10-2-11 2-10-5-7-7-2 5-8 0-7-7-8 10-14 0-6-5-7 2-14-3-6-8-5 6-15 0-8-13-15zm-3 437l-9 0 5-5zm-49-5l10 2 10-4 5 7 8 2-4 8 2 10-9 3-4 5-5-1 6-11 0-6-5-7-7-2-11 6-2-8zm5-38l6-1-3 3zm46-50l2 3-7 6zm-20-18l-2 5-15 2-1-5 3-2zm13-52l12 1-3 5-7-2zm-14-19l5 12-10 1-1-7zm2-11l3 2-3 5zm13-123l1-4 3 2zm-1134-130l-5 4-2 10 5 7 7 3-7 2-6 6-5 12-7 8 0 6 5 7 13 2-2 9 4 6-7 5-2 9-8 5-2 10 5 7-1 7 5 7 17 4 1 12-2 2-6-7-7-2-10 5-8-3-7 1-7 8 0 6 7 8 12 0 5-4 3 2-17 9-2 11 4 7-10 5-2 4 2 11-6 5-9 18 0 11 7 11-8 10-1 16-10 10-2 10 9 12 9 3-7 2-11 14-3 30 5 7-13 0-6 6-8 0-6 6-6 1-6 8 0 6 7 10 13 3-3 11 4 6-9 3-7 12-9-3-7 2-5 10-9 5-2 14 5 7 6 2-6 6-3 12 12 12 1 10 11 18 6 5 12 1-1 8-7 8 0 7 4 9 10 5 0 8 5 7-2 3 2 11 10 5-9 3-5 7 2 16 6 9 14 1 11-9 2-10-12-14-7-2 8-3 8-11 0-6-6-11 12-9 2-10-8-10-16 0 2-11-5-7-15-1 2-11-3-7 7-5 2-10-8-14-13-3 1-10 7-2 9-8 3-11 12-1 5 4 16 2 13-5 11 0 9-6 11 4 10-4 8 10-3 12 5 7 22 2 6 7 15 4-4 3-10-4-7 2-13 18 1 11-3 11 5 7 6 1 7 6-1 7 3 10 5 4 9 1 11-6 3 9 8 7 7 2 10-4 9 4 13 0 9-11 4 13 5 4 1 7-17-2-7 8-11-5-7 2-5 7 0 5-10 11 2 11 8 6 11 2-1 10 6 9 9 2 6 5 12-1 12 4 5-1 7-8 0-9 8-3 8-10 0-8-5-7-7-2 1-7-4-7 1-5 8-9 1-22 5-2 5-7 3-19 6-11 0-6-5-7 5-8-2-16-5-4-13 2-2-2 5-9 0-7-7-9 14 4 7-2 5-7 0-9-10-15 4-1 11 5 7-2 4-5 7 0 4-3 8 5 7 0 2 20 17 8-5 10 2 11 10 10 13 2 7-2 9-13 0-6-11-20-14-2 3-12-4-10 2-3-3-12 2-14-6-13 5-10-4-13 5-5 12-1 8-18 11 17 17 8 12-7 8-1 6-8 0-6-5-7-7-2-11 5-8-12-7-2-11 2-6 10-5-7-10-3 9-10-2-14-13-10-12 0 1-5 8-1 12-12 7-14 0-6-5-7-8-3 2-10 6-8 0-7-5-7-8-3-1-9-5-7-13-2 3-5-3-11 14 0 1 15 12 5 9-3 9-9 2-10-7-8-15 0-3-8-9-10 7-13-2-9 3-12-9-14-16-6 5-9-2-10 14-3 5-7 1-10-7-8 5-7 0-7-10-13-10 0-6 4-7-8-14 2-7 12 3 12-3 5 2 19-3 5 0 21 8 10 13-1 1 13-16-8-7 2-7 9 1 11 5 7-7 2-6 8 3 12-6 23 6 23 8 10-4 3-11-1-7 8 3 16 11 6 0 7-12 5-2 10 8 13 7 2 6-2 6 3-12 6-7-7-12 0-10 13 0 6 7 8-8 19 0 8 13 15 0 5 8 11-2 2-8-5-10 0-15 15 0-17-7-10-7-2-7 2-11 14-14-4-7 2-5 7 2 10 8 7 12-1 8-11 7 7 13 1-3 6 0 10 5 7-7 2-6 6-12 1-5 7 0 6 7 8 13-2 9 6 1 5-20 14-3 11-11 5-6-6-12 0-5 4-2 10 6 9 7 2 7-2 4-5 8 16 12 8 12-1 6-11 9 4-9 9-7 1-6 5-11-5-28 6-1-14-8-4-7-11-11-3 16-17-2-16-7-8 9-14 0-6-10-11-7-2-10 5-4 10-7-6 2-12-12-17 5-8-2-9 8-3 5-7-2-10-6-5-19-1-12 14-6-10-17-4-9 3-7 12-2-3 2-10-3-5 15-1 6-12 15-2 10 5 8-2 8 11 7 2 7-2 7-15-2-11 6-5 2-9 5-2 5-7 0-6-5-7-10-1-8-5-18 1-5 4 1-10 6-6 2-10-6-9-15-3 5-7-1-7 12-2 10-11 0-18-9-19-5-4-11-2 2-5 8 0 5-4 2-11 8-9 0-7-8-11-6-2 12-14-1-17-3-5 1-10-8-9-2-7-12-6 13-17-2-12-13-8 10-5 2-10-7-8zm146 636l1 3-3 1zm-59-105l2 7-5 4-7-7zm-25-2l4-1 6 6-6 2zm-11-73l3 2-2 1zm98-45l3-2 9 9 10 1 4 11-13 3-3-12zm-209-4l12 10-4 5-5-7-6-2zm66 1l-12 2-5 4-2 10 3 5-4 3-9-15-14-3 10-4 13 2 8-10zm195-29l3 4-8 10-3-2 2-9zm-3-21l5-2 3 5-3 1zm22-21l2-5 9 2-9 5zm24 0l-11-3 8-3zm-271-47l5 2-4 2zm46-6l-1 12-7 14-3 1-4-5 10-10zm-23-79l7 1-1 17-14-4 1-8zm-1353-235l-14 3-7 6-3 6 3 13-7 9 0 14 12 12 0 4-7 8 0 6 8 9-5 6-15-1-7 8 2 10 6 5-7 9 5 19 10 5 11-1 4 4-5 7-8-7-11 0-8 9 0 7 8 9 4 10-4 3-11 1-5 7 1 8-4 7 2 10-4 6 5 17-10 6-1 17-5 7 2 11 8 4 2 5-15 15 0 6 5 8-8 3-5 7 0 12 10 13-14 2-8 17-16 2-8 5-2 13 5 7 6 2-5 6-7 0-7 8 2 10-13 1-6 5-5 20-5-14-5-4 5-7 0-6-5-7-7-3 10-2 5-4 3-6-2-12-10-5-8 3-3-9-5-4-31-2-3-10-14-7 14-3 5-7-1-8 6-6 9 10 16 2 7-2 10-12 2-10-15-17-12-2-13 7-15-5-5-9-5-2 3-4 12-1 7-13 11 0 5-4 12 3 7-2 5-7 0-6-7-8-2-8-8-8-12-3 4-16-9-12-9-3-8 1-5 4-2 10-6-1 5-9-2-10-6-5 4-6 0-6-14-15-26-5-12 6-3 17 3 13-12 7-5 11 2 11 10 6-2 10 4 6-12 2-5 7 2 14-7 10 4 13-5 7 0 7 6 15 13 6-2 3-10 1-7 11 0 6 9 15-13 2-5 4-3 26 9 20 13 6 8-2 7-10 10 12 13 0 7-8 6 9 9 2 7-2 11-15 3 2 1 4-8 7-2 8-7 8 0 7 6 8 10 2 7-2 10-14 3 5-2 3 2 10 10 5-12 3-5 7 0 6 8 9 13 0-4 14-6-5-13 2-11-6-12 6-2 10 5 7 7 2 8-3 4 4 3 19-9 5-8-2-8 2-6 9 0 6 7 10 9 1 6 8 12 1 6-5 4-11 8-9 0-8 5-8-2-10 14 0 10-5 4 21 11 6-15 3-6 12-6-6-13 1-7 10 0 6 6 8 12 1 7-5 3-12 4 5 14 5 10-2 7-5 9 9-8 11 2 11-11 20-5-4-10 0-10 8-5 8 2 11 6 5 9 1-2 4 2 13 5 4 10 2 17-1 7-8 0-8-5-7-11-1-8-6 15 0 6-5 5-11 10 0 7-4 5-7-1-8 7-8 0-7-5-7-7-2-10 2-4-5 11-11 9 11 15-1 5-7 0-9-7-8 0-4 7-2 5-7 0-7-7-8-12 1-4-5-7-2-7 2-5 7-5-11 8-3 9 3 7-2 10-13 11-1 6-10 0-6-5-7-14-4 4-6 1-13-8-11 2-3-2-11-12-6-10 4 1-12-5-7 5-1 8 9 16-1 4 16 10 5 10-4 17 2 18-11 12 23 12 10-8 10 2 10 10 12 14 3 8 10-2 9 8 9-4 17 8 22 10 5-4 6 0 7 9 9 1 11 16 9-12 12 2 10 9 6-1 17 9 9 2 11 14 9-4 10 2 10 5 4 8 1 11-6 9-15-4-21-6-8-7-3 1-12 8-12-4-13 5-12 12-2 11-16-2-10 6-29-5-7-11-2 5-7 0-8-5-8-5-4-11 0-9 11-1 11 7 8 15 0-9 15-5-4-10 0-9 8-5 13-6-2-10 3-4-16 11-2 8-9-2-11 7-3 5-7-2-10-12-7 2-13-8-15-2-10 9 4 0 6 5 7 13 6 16-2 5-7 0-5 5-2-4 10 2 10 9 10 13 1 10-12 0-9-3-11-9-7 6-5 2-11 7-8 0-6 11 4 15-3 6-5 8 3 7-1 3 3 0 14 9 9-7 8 1 14-5 7 0 6 6 8 10 1 5 7-7 8 0 6 5 7 9 3 12-2 5-7-1-7 4-6 0-7-5-8 10-2 20-21-2-11-7-6 1-8-5-10 15-8 3-18-5-7-16-8-7-8-14 0-5 4-9-3-8 3-5-5 6-6 2-10-5-7-6-3 10-7 9-1 8-18 6 2 11-2 6-8 0-6-7-8-9-1-6-5-8 0-3-9-24-23 13 5 12-4 6 5 10 0 7-8-2-10 4-1 6 4-2 4 2 10 18 8-4 6 0 6 5 7 22 3 6-2 8 12 8 2 10-5 2-13-6-10-7-2-9 3-10-12-18 1 6-11 12 4 10-5 2-10-8-18-14-1-11 8-3 10-5-2 7-11 0-7-4-6 8-9-2-10-7-5 23-4 7-8-2-15-11-13-9-2-11 6-8-3-7 2-8 17 0 14 13 12-2 9-7-5-12-1 3-11-4-11 4-6 0-7-6-8-10-5 4-3 5 4 12 0 5-4 3-12 6 4 10 0 5-4 2-10-8-14-10-2-2-11-15-8 2-11-8-15-8-6-16 1-9 9-2 10-11 5-5 7 0 6 7 11-19 0-6 6-6 1-5 7 2 10 5 4 9 0 3 6-3 5 1 9-8 11 3 11-4 6 1 8-13 0-8 9 2 21 5 7 9 3 1 3-12 14-11 5-2 4 2 19-8 13-9 1-5 7 3 14 8 5-2 11 3 8-14 2-7-7-9 0-9-4-8 2-5 7 0 8 5 7 9 1 5 6 7 2 10-4 7 5 0 9 5 7 7 2 22-2 0 9-5 5-20-7-19-1 0-8-6-8-12-3-7 2-4 5-2-10-5-7-12-1-6 5-2 10 7 9 7 2 7-2 4-5-1 16 6 9-11 1-12 8-2 4 3 11-2 15-9 0-8 6-7-2 4-8-2-10-5-4-12-2-7-11-6-1-7-7 25-1 6-8-3-12-19-9-17 0-3-15-9-7-3-7 15-1 7-11-1-7 4-6 0-6-7-10 10-11 0-7-5-7 5-2 6-8-2-14-12-6 5-9-2-10 7-2 9-12-1-23-15-18 3-7 0-11 11 9 13-1 11-10 2-11-7-8-19-1-10 5-3 9-7-16-11-1-5-4 4-4 11 6 10 0 8-6 2-11-7-9-2-10-5-7-7-2-11 3 4-5 8 0 10-6 5-7 0-7-13-24-13-7 13-6 4-8 0-10-4-6-3-15-9-8zm100 609l6-1-2 4zm-247-143l11 12 10 0 6-5 4 2 2 9 11 15-2 11 4 6-11 6-7-8-14-2-10 3 5-10 0-7-4-6 3-11-5-7-5-2zm403-4l-7 5-3-2 6-5zm-361-3l6 5-4 1zm216-12l3-10 7-1 8 10 10 0 8-6 5 8-16 1-5 7-1 7-9-13zm160-22l-2 4-10 4-6-4 12-9 3 0zm-297-22l-2 4-5-2zm-29-3l2-5 5 0 2 3-4 3zm33-3l2-6 6 5zm-224-15l7 8-4 9zm404-10l3-1 1 3zm-437-1l4-2 3 2-4 3zm19-5l-3 5-5-2 6-5zm244-14l5-4 12 17-11-2zm187-10l8 1-3 4zm-183-28l6 10-3 10-4-13zm-235 1l10 3-3 4-6-3zm462-3l3 10 7 4 1 4-11 2-6 6-7-12 3-7zm-239-11l11-12 3-11 5 0 3 10 6 5 6 0 4 6-2 2-9-3-8 1-8 11-5-7zm285-45l3 11-12 4-7-12zm-531-3l13 1-3 3-7 0zm500-1l5-1 9 6-9 1zm-434-4l1 3-3 2-1-3zm212-6l4 4-3 2-3-4zm-257-46l1-3 3 2zm491-61l12 12 4 8-3 8-4-3-2-10-11-10zm1-135l-19-2-10 5-7 0-6 5-4 27 6 8-1 8 5 7 7 2 7-2 10-17 0-7 17-14 2-11zm435-10l-7 2-5 7 3 15 8 5-13 7-6 13 2 12 10 5 17-3 10-19-2-13-8-5 4-6 0-10-6-8zm-914 0l-7 8 2 28-13 19 2 10-7 10 0 6 6 8-2 16 9 9-3 5 2 9-10 1-7 6-2 13 5 7 7 3 11-1 5 14 5 4 42 5 5-4 2-10-3-8-9-7 3-4 8-2 5-7-2-18-5-13-12-5-3-4-1-18-6-9-6-2 3-8-3-12 3-13-1-10-4-6 1-9-7-10zm5 132l5 11-10 6-1-9-4-6zm6-35l3 3-2 2-3-2zm2035-109l-6 8 1 9-9 18 0 8 5 7-3 13 8 9 2 9 12 6-5 6-10-5-7 2-9 8-4 8 3 11-3 5 1 16 9 10-10 5-4 19-5 7 2 11-5 11 2 18-6 8 1 16 6 8-2 3 2 11-9 4-7 10 2 11-2 14 5 7 7 3-10 6-6 12 1 12-6 2-5 7 0 6 8 11-7 11 2 10 12 7 15-6 2 11-5 4-2 10 5 7 12 2 2 4-15 3-9-4-8 2-7 11 0 5-11 3-5 7 2 10-4 10 1 9-12 3-5 7-2 10-12 7-13-14 21-2 6-8 0-7-5-7-7-2 1-11-7-8-17 1-6 9-8 2-7 8-6 1-6 9-6 2-5 7 5 18 7 8 11 0 11-5 6 9 7 3 2 7 6 6 14 4 10-5 3-9 10 0 5-4 0 9 3 6 7 5-8 4-6-2-8 2-6 9 1 12-3-1-4-20-10-5-8 1-5 4-2 10-6 7-6-8-11-5-16 5-6 8 0 6 5 7-1 9 8 14 7 2 0 8-9 8-2 10 4 13 11 6-7 8 4 15 8 7 20 1 7-2 6-10 7 0-6 9 0 6 9 9 0 16 3 5-1 7-10 3-13 15-3 10-8-9-10 0-5 4-4 13 2 10 10 5 8-2 5-7 3-14 5 7 3 13 13 8-9 10 4 17 8 6 9 2 7-2 5-7 2-17-8-10 8-9 0-9-8-9 1-17 10-10 0-7 10-10 0-6-4-6 2-14-9-11-28 2 7-10 0-7-5-7-8-4 14-3-1 10 3 6 14 8 11 1 10-5 2-13-7-11-12-3-15 4-1-2 6-12 10 5 9-4 12-1 5-7-2-10-10-5-19 1-5 4-3 11-3-7-7-5 5-4 7-15-1-10 18 7 16-1 5-4 5-10 1-10 5-7-1-16-7-11 3-3 8 3 8-2 5-7 1-8 7 12 19 1-2 14 7 9 13 1 8-6 3 7 9 5-5 8 0 7 5 9 5 4 10 0 6 7-21 1-11 23 0 6 5 7 16 2-4 6 0 6 5 7 13 5 10-5 12 7 11-3 6-11 8 11 10 4 11-6 9-1 12-21-2-12-9-4-10-10 0-11-5-7 12-12 0-14-5-7-5-2 3-9 14-3 5-7 0-9-6-11 2-1 8 10 12 0 12 7 12-3 12 7 16-6 5-7-2-11 8-3 2 13 5 4 13 0 10 10 2 6-18 26 2 10 12 6 12-6 5 4-5 8 5 17-4 7 1 10-3 5 2 12 8 8 7 2 7-2 6-7 8 15 11 6-9 11-6 0-5 4-2 10 3 11 28 16 9-4 29-2 5-4 5 7-12 3-5 7 0 7 10 10 15-1 11-11 0-6-5-7 14-9 2-10-5-7-7-2-10 2-11 7-5-7-11-4 5-10 9-1 5-7-2-11-14-8 2-6 11-3 5-7-1-19 15 1 10-11-2-12-9-6 4-6-4-18-11-10-10 0-7 8 2 14-3 2-8-7-13-2-6-5-10 0-4 3-2-4 2-12-5-7-7-2-10 5-5 11 1 10-2 2-10-7-4-12 6-3 5-7-7-24-6-5-19-1-2-3 2-12-3-5 4-6-2-10-10-5-10 3 8-11 1-17-8-10 9-3 6-9 0-6-7-8 1-5 6 6 7 2 8-2 4-5 5 0 2 6-7 8 0 8 5 13 10 5 12-6 1-12 5-7 0-14-3-5 3-5 8-2 11-12 4-8-2-12 9-9-5-16-10-8-12-1-9 6-2 11 5 7-8 5-9 20-21-7-7 2-7 12-6-6-7-2-14 5-6-13-15-2 6-8 1-12 7 9 14 1 9 9 10 0 5-4 2-10-4-8-13-7 5-7 0-6-5-7-16-3-9 4-9 0-8 6-10-13-10 0-5 4-2 11 4 17-5 4-1 14-7 8 0 7 4 7-5 7-1 11 5 7 6 1 3 4-3 14 4 6-11 1-8 10-14 2-8-8-16 1-8 12 0 6 5 7 7 2-5 7 2 13-6 0 1-9-7-8-10 0-7 8 0 6 7 8-2 17 5 7 11 6-18 1-6 8 0 7 5 7 10 2-5 7 1 12 6 8 8 3-1 10 5 9-10 4-1-10-5-7-14-2 9-12 0-16-11-14-15-1 2-11-5-7-11-3-11 3-4 5-13-5-7 2-5 7-7 0 4-12-1-8 12-2 6-6 11-3 5-7-1-8 3-5 0-6-5-7 2-11-5-9-6-5-13 0 0-5 9-3 5-7-2-19-9-11-7-2 7-8-3-12 5-7 0-6-5-9 10-12 2-18-5-15-5-4-10 0-1-9 10-2 5-7 0-6-7-8 2-5 14 4 7-2 5-7-3-19-14-8-7-1-5-15 14-7 11-1 6-8 0-11-5-7-15-7-11 0-3-8-8-7 8-3 5-7-3-11 10-15 2-13-3-6-7-5 3-5-3-21 2-12-5-15-1-20-8-10zm348 640l-10 7-5-2 10-9zm-280-30l0 8-6 1 2-7zm310-17l2-1 2 4zm-43-5l6 9-9 17-6-6 7-10zm-266-3l7 1 3 9 10 5 8-2 10-12 3 10 8 5 1 11 7 5-11 4-6 11-5-7-8-3 3-11-5-7-9-3-13 3 3-11zm-201-12l4 6-3 5 2 10 20 11-7 8-11-14-11-4-1-14zm194-46l9-1 1 15-13-11zm-136-4l2-9 10 4zm-62-30l11 0 6 5-13 2zm284-39l6-2 8 9 7 2 8-2 6-11 7 8 13-1 4 10 12 6-5 7 2 10-10-3-6-10-20-6-7 2-5 9-12 9-5-7-10-3 0-3 6-3 5-7zm-149-14l2 1-1 7-4-6zm-5-189l6 5-9 11 2-6-2-9zm-2-24l3 3-4 3-3-2zm-667-251l-11 4-5 7-2 16 5 10-7 9 3 11-7 8 3 12 11 6 7-2 6-8 7 0 5-4 1-12 6-13 0-6-12-20 2-9-5-7z" fill="#2277b4" fill-rule="evenodd"/>
<path d="M234 1942zm1-3zm-9-16zm10-6zm-2-10zm-2-4zm-12-5zm6-10zm1-19zm-8-3zm10-3zm4-15zm-9-16zm-2-23zm11 0zm-9-1zm8-6zm-3-1zm1-3zm4 0zm-11-4zm7 0zm4-15zm-6-8zm-2-1zm2-3zm-9 0zm15-1zm-14-2zm8-2zm6-13zm-11-1zm-1-7zm-1-8zm-2-3zm8-11zm2-1zm-10-3zm2 0zm8-7zm2-7zm-2-4zm-10-3zm12-1zm-2-3zm-9-1zm11 0zm-8 0zm-4-2zm2-6zm11-3zm-8 0zm6-6zm4-2zm1-3zm1-1zm-7-1zm-7-3zm2-5zm-1 0zm6-5zm6-1zm-16 0zm3-1zm5-3zm-8-1zm8-3zm5 0zm-9-1zm1-3zm8-3zm-3 0zm1-7zm1-2zm-12 0zm6 0zm-5-1zm10 0zm2-7zm-12-2zm6 0zm6 0zm6-3zm-19-14zm14-10zm-3-4zm-7-1zm16-1zm-8-1zm3 0zm-12-4zm2-3zm5-3zm-1-5zm0-2zm2 0zm-9-2zm5-19zm5-12zm5-5zm-6-5zm4-1zm3-1zm-5-10zm2-5zm3-2zm-4-6zm6-3zm0-13zm0-5zm-1-3zm21-114zm1 0zm-1 14zm2 3zm-1 3zm-3 6zm-2 1zm4 5zm3 1zm-8 9zm9 2zm-14 6zm6 2zm8 9zm-14 2zm-2 12zm14 6zm-13 9zm-2 1zm1 5zm-2 1zm5 2zm5 0zm0 0zm4 2zm-12 0zm-6 3zm22 3zm-10 0zm6 4zm-12 7zm10 7zm-5 2zm9 5zm-10 2zm3 5zm-3 3zm11 45zm-11 10zm7 5zm-7 2zm-7 16zm3 14zm1 4zm0 1zm8 2zm-1 10zm7 1zm-20 1zm16 5zm2 3zm-16 4zm16 7zm3 47zm0 30zm-3 15zm-12 6zm15 38zm-16 5zm8 10zm6 2zm2 62zm-9 36zm5 12zm0 3zm3 67zm8-21zm2-9zm10-5zm-12-15zm-2-12zm16 0zm-20-4zm1-7zm6-18zm1-2zm-5-10zm-3-5zm18-8zm-2-5zm7-1zm-3-3zm1-2zm1-1zm-15-2zm8 0zm-7-1zm14-3zm-20-4zm5 0zm-7-2zm14-2zm-8-2zm-6-4zm19-7zm-19-1zm14-2zm-5-1zm14-7zm-20-2zm11 0zm-2-4zm5-1zm-11-6zm3-5zm5-6zm-13-1zm21-9zm-3-2zm-19 0zm10-1zm12-4zm-6-5zm-9-1zm-2-1zm10-18zm6-1zm-12-1zm6 0zm-5-2zm6-1zm5-2zm-7-1zm-7-4zm6-2zm8 0zm-3-2zm3-2zm-11 0zm9-2zm-8 0zm-4-2zm10-7zm0 0zm2-2zm-8 0zm-7-3zm4-2zm-8-2zm10-1zm12-6zm-20-6zm19-5zm-15-2zm-4-1zm19-1zm-21-3zm15-1zm-10-11zm13-6zm-18 0zm16 0zm-10-2zm2 0zm9-4zm-1 0zm1-1zm-3-6zm-2 0zm2 0zm-14-1zm3-2zm-1-1zm13-2zm-13-3zm2-2zm-2-7zm2-7zm-3-7zm7-14zm14 0zm-7-2zm8-4zm-2-1zm1-1zm-13-2zm4-6zm-3-18zm5-6zm-5 0zm-6-1zm4-2zm13-1zm-11-1zm0-3zm-6 0zm1-1zm7-6zm10-18zm-5-9zm-10-5zm7-1zm5-1zm2-4zm-16-1zm15-2zm-12 0zm-8-2zm16-3zm1 0zm1-2zm-8-3zm6-2zm-2-9zm9-11zm-1-6zm-6-2zm-2-4zm-14-4zm7-1zm8 0zm-14-4zm6-2zm-3-8zm-4-6zm1-4zm-1-14zm1-32zm27 102zm5 3zm11 15zm-17 2zm3 0zm11 1zm-12 2zm5 0zm5 1zm-3 2zm-10 3zm20 3zm-2 2zm-20 1zm23 2zm-13 1zm8 2zm-12 1zm6 1zm-10 4zm7 4zm8 0zm-13 2zm4 3zm9 1zm5 0zm-15 1zm-5 10zm1 0zm-1 1zm3 1zm13 3zm-16 2zm14 2zm6 0zm-21 1zm12 2zm-9 2zm6 1zm6 2zm-10 3zm11 2zm-17 4zm22 0zm-11 2zm2 1zm-5 3zm12 3zm-4 1zm0 6zm-14 1zm11 2zm-9 1zm13 2zm-4 5zm5 2zm3 2zm-8 7zm-5 3zm1 4zm6 1zm-6 7zm2 6zm-3 3zm4 5zm5 0zm5 0zm-6 3zm5 0zm-6 7zm-14 1zm14 10zm1 2zm1 2zm-15 3zm10 3zm-1 0zm-4 3zm6 1zm3 5zm-15 4zm14 1zm-7 4zm9 5zm-13 1zm15 1zm-6 3zm4 3zm6 1zm-5 0zm-13 3zm17 4zm-19 5zm-2 0zm-1 4zm8 1zm-7 5zm5 5zm14 1zm-1 4zm-14 4zm9 2zm-7 0zm-1 4zm-6 1zm15 4zm-8 0zm4 4zm3 1zm9 3zm-11 9zm-8 0zm7 2zm7 1zm5 3zm-16 1zm-3 1zm7 6zm5 4zm2 0zm-9 3zm8 2zm6 3zm-18 5zm12 2zm3 2zm-15 6zm9 4zm3 1zm-3 3zm-12 3zm15 10zm-2 2zm1 14zm-15 3zm8 4zm11 8zm-10 10zm11 6zm-1 3zm-10 4zm-8 9zm13 22zm-4 82zm35-43zm-5-1zm3-42zm-2-10zm-14-11zm8 0zm6-2zm1-2zm3-18zm-14-13zm-1-2zm16 0zm-5-2zm-15-17zm13-7zm-12 0zm13-22zm6-3zm-1-9zm-12 0zm-7-3zm10-3zm1-3zm1-2zm-15-1zm2-3zm1-3zm13-2zm-15-2zm14-1zm-15-2zm14 0zm1-1zm-12 0zm10-4zm-12 0zm5-1zm15 0zm-21-1zm1-5zm16-1zm2-5zm-13-3zm2-3zm2 0zm3-4zm0 0zm-4-2zm-8-1zm6-1zm11 0zm-7-6zm-3-2zm-2-6zm10-2zm3-1zm-9 0zm8-6zm4-2zm-18-1zm3-11zm-5-3zm-2-1zm15-4zm-7-3zm13-22zm2-3zm-8-2zm-5-3zm-6-2zm9-3zm-11-5zm1-13zm6 0zm13-18zm1-1zm-1-2zm-20-1zm1-1zm7-2zm12-1zm-4-5zm-13-1zm11-8zm-10-1zm3-8zm10 0zm-19-1zm13-1zm-5-1zm14-3zm-21 0zm13-8zm-10-1zm3-5zm6 0zm-13-2zm14 0zm9-3zm-22-1zm9-4zm-9-3zm6-4zm-4-12zm-3-1zm2-8zm44-81zm-3 7zm1 10zm1 10zm1 6zm-6 6zm0 3zm7 3zm-8 3zm-2 4zm9 1zm-8 3zm1 5zm-2 3zm-2 9zm3 3zm-5 7zm1 7zm-5 4zm-2 17zm-3 1zm2 0zm3 8zm-5 3zm12 27zm10 3zm-15 0zm9 2zm-5 4zm9 2zm3 1zm-14 8zm14 1zm-8 1zm-4 9zm-8 0zm9 4zm5 3zm-4 3zm2 1zm-1 7zm-3 9zm-1 4zm-7 2zm-2 4zm11 6zm0 3zm-1 1zm-6 5zm5 4zm-9 5zm0 8zm11 4zm-3 0zm6 9zm-9 0zm6 5zm-8 7zm4 5zm0 1zm4 0zm-10 0zm-2 1zm4 4zm-4 6zm15 3zm-2 23zm-3 3zm-8 2zm12 6zm-13 1zm10 5zm-9 5zm-2 2zm10 4zm-1 0zm-9 7zm9 0zm-8 2zm9 7zm-10 3zm4 22zm8 3zm6 19zm-11 3zm4 9zm-10 10zm8 5zm-6 2zm3 15zm8 6zm5 30zm-1 10zm-10 22zm-6 56zm45-134zm-21-7zm17-16zm-1-14zm0-2zm2-7zm1-1zm-2-5zm-13-3zm-1-3zm12-9zm4-8zm-2-24zm0-8zm3-15zm-3-4zm2-4zm0-7zm-1-35zm-2-9zm1-9zm1-2zm1 0zm-4-11zm1-3zm5-1zm-1-2zm-6-1zm2-3zm5-1zm-5-6zm0-3zm-4-5zm9-3zm-3-3zm-6-3zm3 0zm-12-5zm10-1zm1-2zm3-4zm-4-11zm5-4zm-17-23zm20-7zm-18 0zm11-3zm-3-4zm-3-2zm9-1zm3-1zm-7-5zm8-1zm-20-4zm5-1zm1-2zm-4-4zm8-1zm0-4zm-9-1zm8-1zm-2-3zm6-3zm-11 0zm7-5zm-10-1zm7 0zm13 0zm-8-2zm1 0zm3-2zm-3-3zm-5-4zm11-12zm-6-5zm5-40zm3-2zm-3-6zm2-16zm-15-6zm-4-7zm-2-2zm2-3zm18-4zm-13 0zm12-1zm-20-5zm2-1zm1-3zm19-3zm-20-1zm19-7zm-16-1zm-1-2zm16-2zm-5-6zm5-3zm-7-5zm-2-1zm8-1zm-12-1zm3-1zm9-2zm-11-3zm7-1zm-2-2zm3-7zm1-2zm-5-5zm2-6zm12 76zm0 21zm8 8zm11 3zm-11 4zm4 0zm1 2zm6 1zm-13 5zm14 8zm-20 0zm13 2zm-4 4zm-9 0zm21 1zm-15 4zm2 1zm12 0zm-12 6zm12 7zm-7 0zm-7 4zm14 1zm-17 5zm15 1zm-10 1zm-10 3zm23 1zm-5 1zm-1 3zm-7 2zm-1 4zm7 3zm-14 5zm0 7zm17 2zm-15 3zm18 4zm-16 1zm3 0zm13 1zm-19 2zm2 4zm15 4zm0 2zm-4 1zm-1 5zm-6 2zm2 6zm1 0zm2 10zm9 7zm-4 1zm-8 3zm11 5zm-6 1zm-8 2zm13 3zm-19 22zm1 3zm10 0zm-8 7zm-1 0zm10 0zm-1 1zm-1 1zm3 0zm-15 1zm10 3zm-6 1zm2 4zm2 1zm-8 2zm12 3zm-1 2zm-2 5zm10 0zm0 3zm-3 0zm-2 0zm-7 2zm3 0zm7 2zm3 3zm-18 4zm19 4zm-5 1zm-11 5zm15 1zm-12 1zm3 1zm11 0zm-15 3zm-5 3zm4 2zm12 1zm-8 5zm11 2zm-18 1zm-3 1zm19 16zm-9 2zm10 0zm-6 0zm-11 2zm4 2zm8 1zm-4 0zm-2 2zm13 8zm-15 0zm-3 1zm18 0zm-20 2zm-2 4zm15 1zm-8 6zm4 5zm3 2zm5 1zm-6 2zm10 2zm-13 4zm-6 1zm8 3zm1 3zm6 2zm0 8zm-7 5zm1 2zm2 2zm-8 0zm-1 4zm15 17zm-13 4zm8 2zm-12 0zm19 3zm-23 2zm18 4zm-18 2zm3 13zm16 3zm-17 4zm12 2zm-8 5zm6 0zm2 2zm9 2zm-6 1zm-11 1zm-1 6zm10 33zm7 13zm-8 9zm3 8zm0 16zm5 36zm22 11zm-19-32zm14-39zm-5-9zm6-17zm-9-17zm-6-3zm7-2zm11-2zm-4-6zm6-13zm-1-7zm-17-7zm19-4zm-16-14zm17-4zm-7-1zm-8-3zm3-9zm10 0zm1 0zm-12-5zm5-2zm-7-4zm0-2zm15-1zm-16-2zm-5 0zm19-1zm-10-7zm-7-5zm3-4zm-7-2zm7-1zm10-3zm-3-4zm-1-10zm9-5zm-7-5zm-12-4zm14-4zm6-4zm-6-3zm3-1zm-19-6zm16-7zm-10-8zm4-5zm-4-13zm3-1zm4-3zm-3-3zm-7-5zm-2-7zm5-5zm6-2zm-5-1zm5-2zm4-1zm5-5zm-8-1zm5-11zm-6-9zm1-2zm4-1zm2-1zm-3-8zm3 0zm-19-11zm-1-1zm12-4zm7-1zm-9-2zm12-3zm-19-2zm-1 0zm4-2zm1-1zm11-6zm-13-1zm15-2zm-3-6zm6-3zm-9-1zm1-4zm-11-2zm0-3zm10 0zm-10-4zm-1-1zm-2-1zm9-1zm13-1zm-10-5zm2-1zm-10-4zm4-4zm4-2zm7-3zm-19-1zm13 0zm1-4zm-3-1zm-5-3zm16-3zm-11 0zm10-1zm-4-6zm-13-2zm10-2zm-8-2zm1-1zm-8-1zm4-2zm16 0zm-2 0zm1-3zm-19-3zm12-8zm-2-7zm-5-2zm3 0zm-1-9zm1-1zm-4 0zm-4-18zm3-17zm-1-5zm45 87zm-14 6zm-7 5zm11 7zm1 2zm-9 3zm15 7zm-20 3zm8 3zm9 3zm1 2zm-6 1zm-7 5zm8 0zm-11 0zm6 8zm6 1zm2 1zm5 0zm-8 2zm2 3zm0 10zm4 3zm-14 1zm16 3zm-13 1zm7 2zm-6 1zm-5 4zm6 12zm-9 1zm6 2zm3 2zm9 3zm-8 2zm-2 2zm14 3zm-7 4zm-2 3zm-9 0zm-2 3zm11 2zm1 3zm7 2zm-17 1zm14 8zm-1 7zm-1 3zm-4 6zm4 2zm-11 2zm11 0zm-6 5zm0 3zm9 8zm-7 3zm8 4zm-8 1zm10 13zm-8 2zm-6 1zm12 8zm-10 3zm-11 5zm19 1zm-14 0zm18 2zm-22 2zm10 2zm-2 1zm0 4zm-1 3zm12 1zm-18 2zm10 6zm-10 3zm0 0zm1 7zm17 7zm1 2zm-12 3zm13 0zm-17 8zm6 1zm-8 1zm18 4zm-11 2zm13 8zm-10 7zm-10 8zm7 2zm10 2zm3 6zm-18 8zm6 1zm-7 11zm11 16zm-15 2zm22 0zm-20 2zm0 7zm12 4zm-8 8zm-2 11zm-4 43zm17 23zm13-54zm-2-8zm1-36zm9-4zm2 0zm-15-5zm7-9zm0-28zm-2-3zm-5-15zm2-19zm15-43zm-17-4zm5-37zm-4-16zm4-1zm-1-4zm-3-1zm3-4zm-1-4zm3-2zm-6-1zm5-1zm-3-9zm-1-17zm6-6zm-5-2zm-2-9zm6-13zm-5-5zm-1 0zm2-8zm16-4zm-6 0zm-10-12zm0-2zm4-3zm-5-15zm7-14zm-4-6zm11-3zm0-4zm5-6zm-20-4zm3-25zm1-5zm1-7zm5-8zm-6-2zm2-5zm4-8zm-4-1zm10 0zm-5-3zm0-6zm1-6zm6-4zm-4-3zm-1-1zm0-1zm5-5zm-3-3zm-1-1zm4-1zm-3 0zm1-1zm-2-1zm-3-3zm7-2zm-6-2zm9-1zm-5-2zm2-11zm1-4zm1-4zm0-1zm-7-4zm3-3zm3-5zm-1-13zm4-14zm0-1zm6-54zm4 14zm-3 1zm2 2zm1 3zm-3 1zm-1 1zm2 5zm1 3zm1 6zm-4 3zm7 1zm-2 2zm-7 0zm6 1zm0 4zm-2 9zm-1 4zm-6 4zm14 1zm-1 5zm-13 4zm15 1zm2 4zm-11 10zm0 2zm5 6zm-7 1zm11 2zm-11 1zm6 0zm2 2zm3 1zm-2 4zm-4 0zm10 0zm-11 1zm-5 0zm2 5zm14 3zm-16 2zm2 2zm-2 1zm-2 12zm14 1zm-4 4zm9 1zm-2 14zm5 5zm0 6zm-8 29zm2 2zm3 2zm-2 4zm-2 4zm2 5zm-1 0zm-6 3zm7 9zm-11 7zm15 0zm-12 5zm-9 2zm1 1zm6 17zm14 2zm-4 5zm4 1zm-3 5zm-2 3zm-14 16zm17 1zm-19 0zm21 10zm-11 2zm2 6zm-3 2zm1 23zm9 7zm-7 2zm-2 2zm3 1zm-4 2zm9 1zm4 3zm-12 5zm-1 2zm4 2zm7 1zm-1 2zm-6 1zm-4 2zm2 2zm9 1zm-1 2zm-6 0zm9 2zm-10 3zm8 5zm-9 1zm-3 3zm5 1zm8 3zm-10 9zm-11 3zm7 4zm6 3zm-1 0zm9 1zm-9 0zm-3 1zm4 2zm0 7zm-6 7zm9 1zm-9 1zm15 1zm-1 5zm-4 13zm-8 7zm3 2zm5 6zm1 4zm-5 0zm9 0zm-14 3zm7 2zm3 3zm-7 20zm9 15zm-2 11zm-2 1zm-6 0zm3 2zm0 3zm3 4zm3 11zm-2 1zm-2 1zm-4 10zm5 11zm2 2zm-19 6zm15 0zm4 0zm1 9zm-14 32zm14 12zm14-27zm-7 0zm12-31zm-5-1zm-2-2zm9-2zm-11-4zm16-22zm-2 0zm-16-9zm10-1zm-12-8zm3-4zm-3-3zm1-1zm7-4zm7-2zm-2-1zm-8-3zm0-6zm4-2zm4-5zm-3-2zm9-3zm-14-8zm-1-3zm6-3zm1-5zm5-7zm-4 0zm3 0zm5-2zm1 0zm-22-8zm19-1zm-2-1zm-6-1zm-6-3zm-3-1zm14-2zm-9-3zm6-1zm-12-3zm7-3zm-5-11zm4-7zm6-1zm0-6zm-5-4zm11-2zm-2-6zm-3-2zm7-2zm-13 0zm-1-3zm-4-3zm7-7zm3-1zm7-1zm-19-5zm13-6zm0-4zm-4 0zm-6 0zm-1-5zm5-1zm4-2zm2-1zm-7-2zm1 0zm-2-4zm-3-3zm3-6zm8-2zm-9-2zm5-4zm8-9zm-5-1zm7-2zm-2-7zm-1-7zm-9-3zm11-2zm2 0zm-3-3zm-11-3zm14-4zm0-3zm-21 0zm11-2zm6-5zm-16-4zm9-1zm-11 0zm18-2zm-1-6zm-9 0zm-1-2zm7-4zm4-2zm-3-2zm-13-2zm5-13zm10-4zm-6-4zm2-3zm-12-2zm2-1zm16-1zm-11-3zm6-1zm-12-1zm1-5zm0-8zm17-5zm-18 0zm20-13zm-17 0zm2-11zm-5-1zm7-5zm3-5zm-8-2zm2-2zm15-4zm-21-2zm0-6zm9-6zm-3-3zm4-4zm-2-5zm-2-5zm10-4zm-13-1zm0 0zm-1-10zm-2-7zm25 56zm1 6zm4 13zm-6 2zm7 7zm4 2zm-11 4zm11 2zm-8 7zm11 1zm-8 0zm3 1zm-9 8zm16 14zm-6 1zm-9 2zm3 9zm15 2zm-19 0zm8 4zm9 1zm-16 1zm-1 0zm5 3zm4 2zm7 1zm-4 9zm2 3zm-5 1zm-8 0zm12 6zm-4 3zm-7 0zm12 6zm2 0zm2 3zm-17 3zm1 2zm9 0zm1 3zm-4 1zm9 4zm-12 4zm4 9zm10 2zm-17 2zm19 0zm-17 5zm19 6zm-3 5zm-1 4zm-4 3zm-6 0zm-4 2zm4 3zm-2 12zm4 7zm-4 2zm7 14zm5 1zm-5 6zm-9 0zm3 6zm-4 5zm9 1zm-13 3zm8 2zm4 1zm9 2zm-1 3zm3 1zm-19 3zm14 1zm-5 0zm6 1zm2 1zm1 3zm-22 3zm11 2zm4 3zm4 0zm-16 3zm12 3zm0 1zm7 4zm-3 4zm-8 2zm3 3zm-13 8zm16 4zm1 5zm-5 6zm-2 10zm-10 3zm1 5zm5 0zm-6 4zm21 0zm-11 12zm4 2zm3 1zm-12 1zm15 1zm-21 7zm1 2zm9 1zm-6 2zm9 4zm0 3zm-13 4zm17 1zm-5 14zm8 2zm-6 8zm-9 4zm6 4zm8 26zm-13 12zm7 10zm10 5zm19 8zm-10-38zm7-2zm-9-31zm2-2zm15-4zm-11-1zm-8-20zm3-2zm-4-4zm17-1zm-13-5zm8 0zm-14-14zm6-11zm12-4zm-11-3zm3-1zm-8-9zm18-8zm-2-3zm2-2zm-2-3zm-10-1zm-1-1zm5-4zm-2-1zm8-4zm4 0zm-18-11zm-2-1zm14-1zm3-1zm-9-2zm1-1zm8-2zm0-1zm-18-3zm18 0zm-15-2zm7 0zm-12-3zm18-1zm-15-2zm0-2zm0-1zm2-6zm17-1zm-12-1zm-5-1zm9-6zm-4-2zm-2-2zm13-5zm2-1zm-10-2zm3-7zm-10 0zm6-1zm-2-1zm8-2zm-16-4zm20-1zm-15 0zm-7-5zm22 0zm-15 0zm14-2zm-9-3zm-11-3zm14-1zm2-2zm-3-6zm1-6zm-15-2zm23-3zm-16-4zm7-1zm8-2zm-1-3zm-13-13zm13 0zm-13 0zm-2-1zm17 0zm-9-1zm0-2zm3-1zm1-1zm1 0zm-14-2zm14-1zm0-1zm-13-3zm-4-2zm11-2zm-1-2zm0-2zm-6-3zm-3-6zm17-8zm-7-1zm-6-13zm-6-3zm0-2zm15-1zm-8-4zm8 0zm2 0zm-1-4zm-10-3zm8-1zm-15-1zm16 0zm2-10zm0-9zm23-129zm4 0zm-3 9zm-3 8zm0 1zm2 11zm-4 6zm5 3zm-4 2zm-5 3zm-1 10zm1 6zm12 4zm-1 7zm-12 1zm-1 2zm0 8zm0 1zm-7 4zm1 0zm3 4zm14 3zm5 6zm-23 16zm23 9zm-14 8zm14 0zm-4 2zm-9 2zm7 2zm4 0zm-20 2zm10 1zm-11 4zm2 0zm7 3zm13 42zm0 7zm1 1zm-5 4zm-6 3zm1 1zm-10 1zm-1 24zm-2 7zm3 14zm-3 8zm22 5zm-11 6zm-10 15zm2 17zm-2 13zm5 9zm-3 30zm0 6zm15 3zm-5 15zm-13 31zm11 48zm-10 52zm20 30zm2 3zm-19 6zm21 13zm19-30zm-16-29zm-2-1zm3-5zm-1-11zm13-13zm-1 0zm-12-15zm19-1zm-12-11zm-4 0zm14-1zm-8-4zm-8-5zm6-13zm8-4zm-8-1zm6-4zm-6-1zm6-3zm4-4zm-11-3zm1-1zm4-4zm0-1zm-10-8zm10-5zm-9-5zm15-1zm-6-1zm4-1zm-13-8zm15-3zm-7-4zm8-3zm-13 0zm7-1zm-6-2zm2-4zm-6-5zm7-4zm-10-2zm17-1zm-8-1zm5-7zm6-1zm-10-6zm7 0zm-16-3zm2-1zm16-1zm-18-4zm4-1zm-1-5zm10-2zm-8-1zm-3-1zm-5-1zm10-5zm12 0zm-17-2zm8 0zm-6-2zm14 0zm-8-3zm-4-13zm4-8zm2-7zm-8 0zm0-7zm8-6zm-7-1zm-6-14zm12-2zm-12-6zm10 0zm-10-2zm19-2zm-3-3zm-14-6zm17-1zm-16-4zm0-6zm8-1zm6-22zm2-6zm-10-2zm1-4zm-1-1zm7-6zm-9-1zm1-5zm6-1zm0-17zm-13 0zm7-1zm4 0zm-2-8zm1 0zm9 0zm-7-1zm-9-1zm2-4zm7-3zm-5-1zm8 0zm2-4zm-4-2zm-10-13zm5-3zm3-1zm-15-1zm6-1zm2-1zm5 0zm-5-7zm5-2zm7-2zm-5-1zm-6-10zm14 0zm0-4zm-20-1zm15-7zm1-2zm-5-5zm0-3zm1-3zm-3-12zm-6-4zm5 0zm-1-1zm-4-7zm4-6zm-6-8zm0-7zm-2-8zm-1-1zm5 0zm-2-5zm-3-2zm0-2zm25 76zm-1 8zm11 2zm-5 13zm-4 1zm6 2zm-8 6zm12 2zm-2 4zm-10 2zm11 2zm-8 1zm11 2zm-13 3zm13 0zm-4 1zm-4 7zm11 6zm-1 1zm5 2zm-14 1zm7 3zm-1 8zm-6 1zm1 5zm-5 1zm15 2zm-5 0zm-6 1zm-7 2zm17 3zm-14 2zm8 3zm8 1zm-12 1zm14 3zm-12 3zm4 2zm3 0zm-7 1zm9 2zm-4 0zm-6 0zm-6 1zm8 0zm11 2zm-9 1zm4 2zm-6 2zm3 2zm-8 1zm-2 1zm11 2zm-9 4zm6 4zm-11 3zm19 2zm-19 1zm18 5zm-16 2zm-3 1zm10 0zm-3 1zm7 0zm-13 1zm4 15zm-4 25zm3 4zm16 7zm-17 2zm13 9zm-1 4zm8 0zm-15 2zm15 1zm-7 2zm-2 1zm2 0zm-12 4zm16 0zm-20 1zm5 0zm11 2zm6 4zm-1 0zm-3 3zm-1 1zm1 1zm-1 5zm-17 4zm22 0zm-12 2zm-4 1zm-1 1zm5 0zm-2 4zm-2 3zm-6 0zm18 1zm-16 5zm8 0zm8 2zm-8 2zm-2 0zm2 9zm3 4zm-12 0zm18 0zm-8 1zm-2 0zm-5 3zm5 5zm-4 1zm9 6zm-10 3zm-4 2zm14 5zm5 6zm-8 3zm-9 2zm5 6zm10 3zm-6 0zm-5 3zm0 0zm4 4zm1 3zm-11 6zm22 4zm-21 2zm14 1zm-15 6zm0 0zm5 1zm9 3zm-9 7zm10 5zm-14 0zm5 9zm5 5zm7 1zm-18 9zm9 3zm7 6zm-16 2zm17 11zm0 0zm-9 3zm9 1zm1 9zm0 19zm-6 18zm4 30zm18 22zm11-39zm-20-6zm20-11zm-21-3zm10-4zm11-14zm-19-8zm19-1zm-2-10zm-18-6zm4-1zm9-2zm9-6zm-8-1zm-7-10zm11-1zm-3-2zm-10-10zm5-2zm-1-1zm0-7zm-6-2zm12-4zm-3 0zm5-2zm-16-2zm13-2zm-12 0zm19-2zm-10 0zm-1-7zm-3 0zm10 0zm-8-1zm8-2zm-1-2zm-13 0zm13-8zm-6-9zm12-10zm-7-1zm-15-3zm5-1zm11-1zm-6-3zm1-1zm11 0zm-9-4zm-1-5zm1-1zm-6-1zm4-1zm4 0zm-10-2zm-2-2zm11-1zm2-1zm6-2zm-15-2zm15-1zm-6-3zm-5-2zm-6-3zm-3-1zm-2-2zm7-8zm-6-2zm20 0zm-13-2zm8-1zm-16 0zm21-6zm-7-1zm-11-6zm0-2zm14-8zm5 0zm-10-2zm8-1zm2-3zm-10-4zm-1-3zm-5-2zm-4-1zm-2-3zm1 0zm-2-7zm4-1zm13-9zm-16-2zm5-7zm13 0zm-7-2zm10-3zm-19 0zm20-5zm0-29zm-4-4zm1-3zm-15-2zm15-4zm-16-2zm-1-1zm1-5zm13-1zm1-3zm-14-1zm4 0zm6-1zm8-4zm-14-1zm-2-2zm6-3zm-2-1zm10 0zm-1-5zm-5-1zm-4-2zm-8-1zm1-8zm17-1zm-2-1zm-14-1zm7-1zm3-1zm-4-1zm-10-3zm10-1zm8-5zm-14-2zm6-2zm-9-17zm0 0zm2-1zm-2-2zm5-3zm38-51zm-2 10zm1 9zm-2 12zm3 5zm-3 4zm-2 6zm-6 14zm11 1zm-7 0zm-1 6zm3 0zm-2 8zm-1 4zm3 20zm-1 1zm-11 3zm17 9zm2 6zm-22 19zm22 6zm-6 4zm-4 1zm-1 2zm-6 2zm5 1zm-3 0zm15 2zm-19 4zm12 0zm-9 5zm5 2zm0 5zm-4 0zm10 1zm1 6zm-12 3zm9 4zm-8 4zm9 1zm-9 4zm-2 4zm9 9zm-8 4zm-6 5zm8 7zm-6 0zm10 2zm-3 1zm1 0zm-2 4zm6 1zm-9 1zm-1 0zm3 8zm-2 1zm4 0zm1 2zm7 1zm-12 10zm9 6zm-14 3zm8 4zm4 0zm1 4zm-5 2zm10 3zm0 5zm-15 4zm5 3zm4 3zm-9 8zm4 1zm1 3zm-2 9zm8 6zm-7 0zm2 6zm2 2zm-5 1zm0 1zm0 5zm-2 2zm9 2zm-4 0zm-5 4zm11 3zm-6 2zm10 3zm-8 2zm-7 0zm9 4zm-13 28zm16 15zm-10 13zm1 1zm1 4zm-2 11zm-5 8zm12 18zm-2 16zm5 12zm14 32zm-6-52zm17-4zm6-68zm-19-24zm18-37zm1-12zm-3-21zm3-3zm-23-7zm21-6zm2-3zm0-6zm-2-24zm1-9zm-13-4zm3-2zm11 0zm-1-8zm0-3zm-4 0zm2-1zm-5-2zm-9-12zm15-34zm1-3zm-1-9zm2-9zm-10-10zm2-8zm-7-18zm5-4zm-5-3zm5-2zm-5-5zm9-16zm0-8zm6-3zm0-1zm0-7zm-7-24zm-5-1zm10-2zm-10-4zm8-2zm-4-2zm-9-3zm6 0zm-12-13zm5 0zm6-5zm-8 0zm7-5zm-4 0zm2-17zm-1-1zm-3-5zm4-2zm4-14zm-12 0zm14-2zm-1 0zm-2-8zm-1-2zm2-5zm-6-1zm-1-2zm8-3zm-5-1zm1-6zm2-4zm0-4zm11-3zm0-3zm-7 0zm-2-3zm8-2zm-7 0zm6-1zm-7-3zm3-3zm3-13zm3-9zm-3-4zm0-2zm5 46zm0 13zm1 3zm1 8zm4 11zm1 9zm0 0zm9 22zm4 2zm1 3zm-10 2zm2 1zm-10 2zm14 7zm3 0zm-7 0zm-4 1zm14 2zm-6 2zm-7 2zm10 7zm-15 0zm4 2zm-7 3zm8 1zm2 1zm-8 3zm17 3zm-9 0zm-6 2zm4 0zm2 1zm3 2zm4 2zm-16 2zm13 9zm-6 0zm12 2zm-16 3zm0 5zm-3 1zm20 8zm-3 1zm-12 1zm5 3zm7 2zm-1 3zm-6 2zm0 1zm-4 2zm11 2zm-8 15zm-9 1zm18 1zm-9 2zm-9 2zm20 1zm-3 2zm-4 2zm-7 2zm11 1zm-5 6zm5 3zm-12 2zm2 10zm-5 8zm8 3zm3 0zm-4 3zm-11 6zm20 0zm-11 1zm-9 2zm6 6zm-4 3zm8 3zm-5 3zm-5 3zm8 1zm8 0zm2 3zm-10 1zm-5 1zm6 4zm7 1zm-2 1zm5 2zm-20 0zm14 6zm4 1zm-1 5zm-13 1zm4 6zm7 3zm-10 2zm0 2zm-1 0zm13 2zm2 4zm-18 1zm8 2zm-1 0zm-3 0zm8 2zm4 2zm2 3zm-17 3zm11 9zm0 2zm6 10zm-3 3zm-9 3zm12 3zm-3 1zm6 0zm-4 2zm2 1zm-12 1zm-3 1zm4 2zm-3 7zm-6 4zm20 3zm-1 3zm-3 1zm-13 5zm16 3zm4 3zm-19 0zm11 7zm5 0zm-2 9zm2 5zm-1 1zm-9 2zm-9 1zm7 0zm-4 3zm13 3zm-14 1zm11 10zm7 1zm-1 15zm3 3zm-4 1zm-10 6zm-9 1zm12 16zm0 0zm8 1zm-15 9zm17 6zm-8 2zm-1 17zm2 2zm-7 0zm-7 0zm0 7zm0 2zm11 2zm8 3zm-13 11zm7 4zm-2 15zm22 11zm-2-22zm-4-18zm-3-26zm16-17zm4-2zm-12-3zm-7-16zm7-2zm-2-9zm1 0zm2-9zm7-15zm-14-11zm13-2zm2-6zm-2-1zm-3-8zm10-3zm-18-2zm7-4zm-10-3zm3 0zm5-1zm9-5zm-10-12zm7 0zm-11-2zm-4-6zm10-1zm4-4zm-10-1zm7 0zm7 0zm-15-7zm-1-8zm14-3zm-9 0zm9-1zm-6-2zm-1-4zm2-7zm7 0zm-10-5zm-8-1zm20 0zm-14-4zm-2-3zm0-1zm6-3zm6 0zm-4-1zm-2-9zm-10-1zm16-6zm5-7zm-3-4zm-15-8zm11 0zm-13-3zm20-4zm-10 0zm11-5zm-6-3zm1-7zm5-2zm-19-3zm18-1zm-9-2zm-12-1zm19-3zm-15 0zm6-1zm5-1zm6-11zm-9-3zm-6-5zm8 0zm-12-5zm9 0zm-9-2zm19 0zm-4-6zm1-1zm-4-1zm5-5zm2-1zm-14-2zm9-1zm-16-5zm22-6zm-18-3zm17-1zm-11-6zm4 0zm-6-2zm-5 0zm17-2zm-15-3zm-3-1zm9-1zm2 0zm-13-3zm18-7zm-2-3zm-5 0zm-5-1zm11-2zm-3-3zm8-1zm-19-1zm5-2zm-7-3zm8-3zm-3-1zm-7-1zm6-2zm-5-4zm20-1zm-9-2zm8-3zm-19-3zm7-1zm0-1zm1-2zm6-3zm-11-10zm-3-3zm2 0zm7-2zm-2-1zm6-2zm-6 0zm-8-4zm2-8zm3-8zm28 77zm-7 0zm3 9zm-4 2zm2 1zm0 5zm2 11zm-5 0zm23 2zm-18 11zm5 7zm1 3zm-6 5zm14 0zm-7 3zm-1 2zm5 1zm-16 4zm2 2zm20 2zm-11 15zm-10 1zm-1 3zm8 2zm-1 4zm7 1zm-12 8zm18 4zm-10 13zm12 1zm-20 3zm-2 14zm23 7zm-10 3zm-1 6zm-4 1zm3 1zm7 0zm2 1zm-18 4zm7 2zm-1 0zm9 3zm1 0zm4 1zm-7 13zm4 4zm-5 3zm-13 2zm19 11zm-18 3zm18 0zm-5 5zm-2 11zm-10 0zm12 1zm-15 1zm20 1zm-2 1zm-16 4zm21 0zm-16 1zm2 4zm5 12zm2 1zm1 3zm-3 2zm8 1zm-3 5zm-4 0zm-13 1zm5 1zm10 1zm6 5zm0 2zm-7 1zm5 5zm-14 11zm3 12zm5 2zm-8 4zm-6 1zm21 11zm-9 6zm-4 7zm-9 3zm11 14zm-1 0zm-1 9zm11 5zm-3 15zm0 9zm5 1zm-12 60zm4 17zm10 18zm12-30zm8-20zm-16-104zm-1-21zm8-1zm0-4zm-6-14zm5-1zm-4-3zm-1-1zm-5-3zm17-4zm-16-8zm2-6zm9-4zm-6-1zm0-9zm11-4zm-5-6zm5 0zm-10-4zm-4-3zm2-8zm3-8zm5-4zm1-4zm-3-7zm10 0zm-19-2zm4-3zm6-5zm-12-7zm17-1zm-12-2zm0-13zm-2-12zm8 0zm12-4zm-9-5zm-13-1zm5-1zm-5-4zm9-1zm0-2zm-3-2zm-6-4zm3-4zm5-1zm-3-2zm0-1zm12-1zm-3-2zm-8-2zm-2-4zm3-4zm2-4zm-5-1zm0-3zm5-1zm-6-1zm2-4zm2 0zm-8-2zm1-6zm16-1zm-1-5zm-9-6zm14-6zm-1-2zm-18 0zm8-2zm-7-3zm2-4zm-5-28zm2-1zm21-2zm-17-12zm1-1zm-1-5zm4-1zm-4-4zm7-2zm-6-2zm3 0zm-5-3zm6-9zm1-15zm1-11zm4-7zm1-11zm-4-3zm6-4zm-3-1zm4-7zm1-13zm12-90zm1 22zm4 1zm-4 11zm4 2zm-5 3zm0 3zm6 0zm-7 3zm4 3zm5 9zm-12 2zm-2 10zm-3 6zm2 5zm17 11zm0 5zm-5 24zm3 5zm1 3zm-3 2zm-4 2zm7 5zm-13 12zm9 5zm-11 1zm7 3zm3 3zm-9 2zm6 4zm3 10zm0 6zm-8 1zm-5 8zm1 16zm5 11zm-7 1zm10 2zm8 2zm0 2zm-7 4zm11 1zm-3 2zm-9 5zm0 0zm12 1zm-19 1zm-1 2zm15 2zm6 5zm-1 4zm-17 4zm-3 1zm14 12zm-14 2zm18 3zm3 6zm-3 6zm-3 1zm-2 6zm0 4zm1 2zm-14 2zm17 12zm-1 2zm1 3zm4 3zm-13 1zm12 2zm1 2zm-23 13zm14 6zm3 0zm6 2zm-4 4zm-1 3zm4 18zm-7 9zm6 0zm-2 3zm4 1zm-8 1zm5 4zm-7 0zm4 0zm-4 4zm10 3zm-1 10zm-2 11zm2 1zm1 10zm-7 7zm4 6zm-3 14zm-4 2zm4 10zm-1 4zm3 18zm-1 8zm3 10zm-15 76zm0 9zm11 38zm17 7zm-3-41zm8-8zm7-27zm-3-5zm-11-2zm6-1zm-1-16zm4-7zm-6-2zm-7-7zm13-1zm-12-3zm6-7zm10-10zm-12 0zm8-1zm-15-6zm7-4zm2-2zm2-1zm0-1zm7-1zm-19-1zm22-3zm0-2zm-7-4zm-2-1zm8-2zm-19-6zm11 0zm5-2zm-16-8zm-2-5zm-1 0zm20-5zm-15 0zm12-3zm5-2zm0 0zm-8-3zm-2-1zm-4-3zm6-1zm-2-4zm0-2zm11 0zm-13-4zm-8-3zm3-4zm-5-4zm12-2zm-11-1zm11-2zm-6 0zm6-5zm7-4zm-6-1zm-6-2zm12-3zm-2 0zm-1 0zm-6-2zm-2-4zm11-1zm-18-1zm22-2zm-20-4zm12 0zm1-1zm-4-4zm-12-1zm17-3zm-11-7zm8-2zm7-1zm-1-7zm-20-1zm8 0zm14-2zm-5-4zm-7-1zm6 0zm-4-1zm-9-3zm13-2zm-5-3zm5-2zm-13 0zm12-2zm-13 0zm2-4zm8 0zm-7-3zm18-7zm-12-2zm11-2zm-3-7zm-6 0zm10-7zm0-3zm-7-4zm-6-2zm8-4zm-8-35zm12 0zm-8-4zm-9-1zm-2 0zm20-2zm-11-2zm4-1zm-1-2zm-9 0zm4-1zm-1-2zm9 0zm-15-1zm17-1zm-5-1zm7-1zm-21-1zm3-5zm7-2zm-11-1zm12-2zm-5-4zm10-4zm-12 0zm15 0zm-6-1zm8 0zm-12-6zm6-1zm-4-5zm7-5zm-9-5zm6-4zm-12 0zm15-2zm4-2zm-8-1zm-13 0zm20-1zm-12-1zm-6-4zm18-1zm-15 0zm15 0zm-7-6zm-5-8zm1-3zm-5-1zm-3-1zm13-2zm5-3zm-18-11zm10-4zm1 0zm-6-2zm9-2zm-7-2zm5-1zm4-2zm-9-1zm6-2zm-5-5zm-1-2zm0-4zm-6 0zm7-3zm9 0zm-15-2zm3-4zm-8-9zm2-9zm30 38zm-3 2zm-2 3zm-2 2zm-1 5zm5 1zm-5 2zm5 1zm2 5zm-1 3zm3 6zm3 1zm1 5zm-7 0zm8 1zm-14 1zm16 1zm-8 2zm-7 11zm3 1zm8 8zm3 1zm-13 3zm16 1zm-12 0zm13 2zm-17 1zm5 0zm-5 3zm10 3zm4 1zm-1 0zm3 6zm1 1zm-8 1zm9 4zm-10 1zm0 2zm13 2zm-2 4zm2 0zm-16 6zm7 1zm4 1zm5 2zm-10 0zm-9 3zm13 3zm6 0zm-16 1zm16 0zm-8 2zm-3 1zm-12 3zm5 0zm10 3zm3 0zm-10 1zm13 1zm-18 0zm12 5zm-14 2zm22 2zm-7 1zm-3 7zm-2 4zm11 3zm-4 0zm1 4zm-4 18zm-6 2zm3 2zm9 0zm-8 1zm-12 0zm19 2zm-17 4zm12 2zm-12 0zm12 2zm-5 2zm5 2zm7 0zm-13 7zm6 0zm4 1zm0 1zm-19 10zm3 7zm1 6zm13 7zm-9 3zm7 0zm4 3zm-19 0zm15 4zm1 0zm6 1zm-17 2zm1 3zm11 2zm-7 5zm-4 0zm-3 0zm7 4zm0 2zm9 5zm-14 2zm16 3zm-8 0zm-12 2zm14 2zm-3 2zm-8 14zm-2 0zm1 0zm12 4zm-8 1zm14 1zm-10 0zm-3 10zm15 1zm-19 3zm16 1zm-20 2zm15 1zm-4 1zm6 5zm-7 8zm7 6zm-13 20zm12 1zm-7 6zm-4 3zm12 2zm-17 3zm17 0zm-14 21zm4 2zm6 7zm6 19zm-11 2zm-4 10zm4 10zm-8 11zm10 7zm-1 49zm26 0zm5-53zm7-4zm-5-27zm-16-5zm11-2zm3-11zm6-1zm-4-3zm-6-12zm6-2zm-8-9zm-9-22zm19-6zm-3-1zm-2-2zm-1-10zm-2-11zm-2-2zm-5-3zm10-1zm-7-5zm12 0zm3-5zm-12 0zm-1 0zm5-1zm-7-3zm4-1zm-12 0zm0-5zm22 0zm-15-3zm11-2zm1-3zm-4-6zm-3-4zm8-3zm-20-6zm9-2zm5-2zm4-4zm-3-5zm6 0zm-13-2zm-4-1zm13-5zm-5-1zm3-4zm-8 0zm5-1zm6-1zm-6-2zm-2 0zm3-4zm0-8zm-7 0zm14 0zm-5-2zm-12-2zm7-2zm3-4zm-6 0zm15-3zm-11-1zm-9-1zm8 0zm-1-3zm14-1zm0-1zm-14 0zm6-5zm-7-2zm11-1zm-17-5zm15 0zm-8-2zm0-2zm12-2zm-13-3zm8-2zm7-5zm-3-5zm-8-7zm1-6zm10-2zm-13-2zm-8-17zm12-4zm4-3zm-6-4zm-1-1zm5-1zm5-3zm-20-2zm22-2zm-7-3zm-15-2zm12-14zm-3-4zm4-3zm0-4zm-9-1zm11-1zm-7-3zm-7 0zm17-1zm-19-1zm18-5zm2-5zm1-11zm0-10zm26-162zm-1 10zm-1 21zm-1 9zm-4 6zm0 6zm1 6zm-4 1zm0 8zm1 2zm0 4zm8 9zm-9 0zm-1 11zm-2 3zm-2 4zm6 8zm-2 3zm-3 5zm3 1zm-7 7zm5 4zm-4 2zm13 4zm-7 4zm4 4zm-14 3zm5 2zm-4 0zm5 1zm0 21zm2 1zm-10 9zm5 15zm-2 6zm6 4zm1 1zm-5 1zm1 1zm-1 4zm10 1zm0 4zm0 1zm7 3zm-3 1zm-1 2zm-9 0zm9 1zm-11 2zm-5 4zm11 0zm-2 18zm-7 8zm-2 2zm8 6zm-7 21zm2 2zm-3 12zm5 3zm-6 0zm-1 5zm2 14zm0 9zm-1 6zm-1 2zm3 2zm16 1zm-6 2zm-9 6zm-2 42zm0 7zm5 16zm-1 3zm0 3zm-3 19zm0 13zm-3 24zm0 15zm0 5zm5 81zm-3 22zm1 22zm41-16zm-2-28zm-1-18zm2-38zm-1-3zm-7-10zm7-16zm-12-5zm14-15zm-9-1zm0-9zm-2-2zm10-14zm3-4zm-11-10zm4-2zm-1-5zm6-14zm-20-6zm9-11zm-3-9zm9-4zm8-2zm-1-2zm-7-1zm-3-1zm7-5zm-8-1zm2 0zm-3-1zm10-3zm-1-7zm-12 0zm10-5zm3-8zm-10-3zm12-4zm-9-8zm1-8zm-2-5zm11-4zm-8-2zm1-1zm7 0zm-14-1zm4-9zm10-1zm-1-2zm-1-5zm1-2zm-8-1zm-6 0zm10-8zm1-2zm-14-4zm9-4zm7-3zm-3-3zm4-5zm-2-5zm-9-3zm-9-9zm17 0zm-4-4zm0-1zm7-2zm0-2zm-6-3zm6 0zm-22-4zm19-3zm-15-3zm-4-2zm16-2zm-13-3zm0-2zm11-16zm8-1zm-12-9zm11 0zm-7-6zm3-2zm-5-22zm7-2zm4 0zm-12-13zm7-1zm-4-5zm9-7zm-9-3zm-1-2zm6 0zm3-3zm-2-10zm-6-7zm-11-5zm8 0zm2-2zm-10-3zm0-6zm8-1zm1-6zm3-1zm5-13zm-2-4zm0-9zm-2-6zm-6-2zm-1-6zm2-2zm3-1zm-14 0zm10-1zm5-5zm-1-1zm-3-26zm-11-8zm0-3zm9-1zm-4-9zm-1-2zm4-2zm-6-2zm5-1zm-4-2zm2-1zm28 103zm-2 8zm0 2zm2 1zm-8 2zm10 1zm4 1zm-4 3zm-8 7zm17 9zm-13 1zm3 3zm5 2zm6 1zm-16 2zm16 13zm1 4zm-11 4zm11 2zm-1 0zm-6 2zm1 3zm-7 1zm2 0zm10 2zm-14 3zm16 1zm-16 2zm-4 0zm8 1zm-6 3zm16 2zm-7 4zm-14 3zm6 2zm1 1zm14 1zm-7 1zm9 1zm-20 1zm-3 3zm7 4zm-5 4zm2 1zm17 2zm-19 1zm3 2zm5 1zm-8 11zm8 1zm-2 1zm0 1zm14 2zm-8 3zm3 0zm2 4zm-16 1zm7 1zm10 2zm2 3zm-6 1zm3 4zm-1 2zm-14 4zm4 4zm-7 3zm20 5zm-15 2zm-6 2zm14 3zm-8 3zm12 5zm-8 0zm7 3zm5 5zm-5 0zm3 3zm-7 3zm7 10zm3 1zm-10 2zm0 1zm9 1zm-15 0zm4 1zm5 1zm-11 2zm17 3zm1 0zm-11 1zm6 1zm-7 0zm6 1zm-10 1zm5 3zm10 2zm-19 2zm-3 0zm8 0zm6 1zm-3 3zm12 1zm-2 2zm-17 1zm15 7zm-3 7zm0 2zm-12 0zm13 13zm-11 1zm-3 0zm-2 0zm7 5zm8 1zm2 2zm3 0zm-17 2zm1 4zm-5 7zm5 1zm4 0zm11 6zm-13 2zm-4 3zm9 5zm-4 2zm10 3zm-17 11zm10 2zm-7 0zm4 1zm15 1zm-13 7zm5 1zm-15 9zm3 2zm6 0zm7 5zm-11 0zm3 4zm12 2zm-11 0zm10 4zm-16 4zm-2 2zm13 5zm-6 7zm-8 1zm12 8zm-3 0zm-7 3zm2 1zm9 6zm8 10zm-9 19zm-7 2zm17 1zm-7 0zm-14 1zm5 9zm0 0zm12 1zm-1 16zm-4 12zm-2 5zm7 16zm18 49zm-9-17zm15-1zm-17-21zm8-1zm9-5zm-18-3zm14-9zm7-9zm-7-24zm-5-1zm-4-9zm13-13zm4-9zm-7-2zm-5-35zm10-7zm-2-7zm-5-5zm-4-2zm-2-8zm7-1zm-2-3zm0-3zm4-1zm-3-1zm9-5zm-11-3zm7-1zm4-6zm-22-1zm15-5zm-2-1zm3-3zm1 0zm1-1zm-11-1zm13-2zm-4-1zm-13-1zm18-2zm1-4zm-22-3zm11-1zm6-2zm6-1zm-11-4zm-4-2zm-5-10zm-3-7zm3-6zm19-13zm1-3zm-10-2zm5-2zm1-4zm-11-1zm-4-2zm18-6zm-19 0zm4-2zm1-1zm10-3zm-9-1zm13-1zm-18-1zm12-2zm-10-1zm2-3zm9-3zm-10-1zm7-4zm-10-1zm-4-11zm3-1zm17-5zm3-1zm-18-1zm-4-4zm-1-4zm20-2zm-3-17zm-6 0zm7-3zm-9-4zm11 0zm0-4zm-17-2zm8 0zm-4-1zm-4-4zm3-2zm-5-1zm9 0zm2 0zm7-2zm-16-2zm-3-5zm16-4zm-2-1zm2-5zm7-5zm-16-2zm4 0zm-3-4zm7-6zm-12-4zm18 0zm-7-4zm-8-2zm2-1zm9-3zm-7 0zm-5-1zm-5-1zm13-11zm-8-12zm1 0zm1 0zm6-8zm-13-5zm5-4zm-5-8zm5-3zm-2-1zm2-11zm24 92zm7 4zm-10 5zm7 1zm-4 2zm9 16zm7 5zm1 5zm-19 22zm11 0zm-5 0zm-3 1zm6 5zm2 3zm5 1zm-6 0zm-4 3zm1 0zm-10 3zm9 3zm-5 0zm14 1zm-6 2zm-11 1zm5 1zm5 1zm-6 2zm-2 7zm11 1zm-3 1zm5 1zm-16 3zm8 1zm12 0zm-1 9zm-15 8zm12 9zm6 0zm-19 1zm-1 4zm5 0zm13 0zm-3 2zm5 0zm-20 1zm-2 12zm6 4zm8 10zm-8 5zm14 0zm-15 8zm12 5zm-6 2zm6 0zm6 1zm-3 2zm-17 1zm-1 3zm18 5zm1 9zm-13 0zm5 1zm-10 1zm20 3zm-19 3zm5 2zm12 2zm1 1zm-10 3zm-11 1zm7 4zm-4 1zm15 4zm-3 5zm-11 5zm11 1zm-5 5zm12 11zm-11 5zm6 3zm-8 5zm-9 7zm8 4zm-4 10zm9 0zm4 1zm-15 36zm16 47zm6 47zm16-100zm-14-44zm13-79zm-3-94zm-1-5zm-5 0zm-6-22zm6-23zm-2-1zm-4 0zm19-2zm-5 0zm-6 0zm13-15zm-10-2zm-2-1zm4-1zm-10 0zm11-5zm-6-15zm0-3zm0-1zm4-3zm-7-5zm11 0zm-7 0zm1-1zm0-2zm6-3zm3-15zm-1-38zm-17-4zm1-6zm11-1zm5-2zm-15-16zm-1-1zm7-4zm-7-2zm17-6zm-6-2zm9-1zm-7 0zm-8-3zm4-2zm-4-2zm6-10zm-1-6zm5-8zm0-2zm-6-9zm5-4zm2-17zm4-8zm1-9zm0 10zm4 5zm-3 5zm-1 5zm2 4zm4 2zm-6 9zm18 29zm-10 1zm10 9zm3 5zm-18 0zm15 3zm-12 3zm1 4zm15 0zm-19 1zm11 1zm8 1zm-11 1zm11 6zm-7 8zm4 3zm0 0zm-19 0zm9 7zm-3 3zm11 3zm3 2zm-18 0zm-1 1zm21 3zm-15 5zm3 6zm-2 8zm7 0zm-7 1zm-8 5zm7 4zm-2 3zm-1 3zm19 8zm-20 3zm14 2zm1 4zm-15 2zm20 2zm-17 3zm10 17zm0 8zm5 3zm-7 2zm5 19zm-14 3zm4 3zm-9 3zm10 5zm8 1zm-14 5zm1 7zm-1 4zm0 5zm4 2zm3 0zm7 2zm1 5zm-9 9zm6 0zm-3 6zm-4 0zm-7 0zm18 3zm-11 1zm9 10zm-11 4zm0 3zm16 0zm-17 7zm16 5zm-19 4zm7 4zm-3 1zm2 9zm5 4zm-2 2zm11 5zm-15 5zm7 2zm-6 0zm-4 10zm11 0zm-12 1zm1 5zm4 0zm7 0zm-5 5zm8 0zm4 2zm-17 1zm17 5zm-7 15zm-1 6zm-11 0zm19 4zm-13 3zm-2 1zm14 2zm-3 0zm-10 1zm-6 3zm18 9zm-19 1zm16 0zm-12 1zm0 2zm17 2zm0 7zm-20 10zm6 7zm-6 7zm4 6zm-5 13zm17 14zm-3 12zm-12 2zm2 21zm-3 34zm43-40zm1-7zm-13-4zm-5-3zm3-4zm15-3zm-19-2zm14-20zm-7 0zm0-4zm3-10zm-3-1zm-10-4zm5-2zm11-1zm-16-5zm3-7zm19-2zm-15-1zm-7-2zm7-7zm-6-2zm8-7zm-10-4zm1-5zm19 0zm-10-1zm12-4zm-20-4zm-2-7zm6-4zm7-3zm10-3zm-4-4zm-16 0zm12-9zm-2 0zm1-3zm-3-7zm-11-2zm4 0zm13-2zm-14-1zm-1-5zm14-1zm-13-3zm20-2zm-7-1zm2-5zm-2-1zm-13-1zm12-1zm5 0zm-7-4zm-4 0zm-3-3zm-6-1zm23-1zm-21-1zm0-5zm14 0zm-11-3zm14 0zm-3-6zm-13-1zm16-8zm-18-2zm3 0zm11-1zm-13-3zm16-3zm-1-11zm-17 0zm13 0zm10-3zm-12-1zm-8-13zm8-8zm-10-4zm18 0zm-10 0zm-9-5zm17-7zm-1-3zm3-3zm-1-4zm-16-3zm12-9zm-13-3zm18-6zm1-4zm-3 0zm1-2zm2 0zm-11-2zm10-3zm-7-2zm3-1zm8 0zm-20-5zm9-3zm6-1zm-17-1zm0 0zm7-1zm4-2zm-10-2zm10-2zm-12-1zm22 0zm-9-2zm-4-1zm8-1zm-5-2zm7-4zm-19 0zm3-1zm4-2zm3 0zm-9-3zm21-8zm-8 0zm-5-1zm10-2zm-16-6zm-3-1zm6-3zm0-1zm15-3zm-20-2zm11-2zm-6-1zm12-6zm3-2zm-12-3zm11 0zm-8-1zm-7-3zm10 0zm0-3zm4 0zm0-7zm-11-2zm-3-2zm3-3zm-6-2zm12-1zm-5-1zm-7-4zm18-2zm3 0zm-11-2zm-6-4zm8-3zm5 0zm-19 0zm4-2zm9-12zm15 36zm0 14zm-1 4zm1 2zm5 6zm-3 2zm0 5zm-2 4zm1 0zm11 10zm-8 0zm-1 4zm-7 0zm2 8zm10 2zm-10 0zm16 3zm-6 7zm-1 1zm7 1zm-15 2zm15 4zm-18 0zm5 1zm7 0zm-8 2zm11 2zm-7 1zm-5 7zm-3 0zm6 5zm10 1zm-11 2zm16 3zm-18 4zm13 2zm-12 3zm4 3zm-8 5zm9 14zm14 4zm-6 4zm-2 26zm-9 5zm3 0zm1 1zm2 2zm7 0zm-13 0zm2 3zm7 3zm-14 1zm0 26zm12 2zm-4 3zm13 1zm-18 2zm2 0zm0 6zm11 2zm-8 1zm11 0zm-11 1zm-1 3zm15 2zm-1 1zm-18 1zm6 2zm8 2zm-2 0zm-6 3zm13 1zm-23 5zm18 2zm0 3zm4 11zm-20 2zm0 5zm8 2zm2 1zm7 2zm-10 2zm-2 1zm10 0zm-5 6zm4 8zm-9 1zm6 4zm-13 5zm14 1zm0 1zm6 0zm-4 3zm3 7zm-3 3zm5 1zm-13 0zm-1 2zm4 0zm0 1zm-5 0zm4 5zm5 1zm4 9zm1 3zm-15 6zm15 7zm-17 6zm15 7zm-5 11zm0 1zm-11 28zm18 2zm-5 3zm1 4zm-2 34zm-1 30zm22-3zm2-54zm-6-19zm15-17zm-8-1zm-14-13zm20 0zm-5-19zm-9 0zm4-2zm-10-6zm2-19zm10-3zm-2-15zm-6-10zm0-3zm6-1zm-9-3zm2-5zm3 0zm3-3zm0-8zm5-7zm-7-15zm5-4zm3 0zm-1-3zm-10-3zm2-1zm-4-5zm8-2zm-5-6zm6-16zm6-3zm-6 0zm5 0zm-16-8zm16 0zm-7-1zm7-2zm0-2zm-7-1zm6-5zm-9-3zm-2-8zm9-2zm-7 0zm13 0zm-4-8zm-9-2zm5-3zm2 0zm2-15zm0-4zm-2-7zm2-5zm1-4zm-9-10zm6-1zm1-5zm5 0zm-3-4zm6-8zm-13-2zm0-3zm4-3zm-11-9zm21-4zm-5-6zm-7-5zm-3-9zm15-2zm-15-12zm1-6zm13-11zm-8-3zm-5-1zm9-3zm-2-2zm-2-11zm1-9zm0-2zm-1-2zm0-3zm3-3zm4-6zm-2-9zm1-8zm-1-10zm2-4zm22-108zm1 1zm-5 0zm0 0zm0 9zm4 5zm1 2zm-6 2zm8 7zm-1 2zm-13 0zm3 1zm1 3zm6 0zm-4 3zm9 4zm-4 1zm-11 0zm2 0zm5 2zm8 1zm-15 0zm1 4zm-6 2zm9 1zm-10 12zm2 16zm-1 2zm1 2zm0 4zm15 1zm-12 1zm-5 2zm4 2zm-6 9zm21 27zm-2 2zm4 6zm-2 46zm-20 1zm11 17zm5 2zm-10 2zm10 1zm-2 1zm-2 3zm-11 12zm-1 11zm11 23zm-11 4zm18 1zm-17 2zm6 1zm11 0zm-9 1zm3 1zm-12 0zm15 0zm-13 2zm19 20zm-2 3zm3 32zm-18 4zm18 1zm-5 2zm-14 10zm17 14zm1 5zm-1 2zm-2 0zm-3 6zm2 3zm2 18zm0 2zm1 18zm1 15zm-6 7zm7 4zm-3 8zm0 7zm1 1zm-1 12zm2 3zm-4 7zm-2 29zm1 2zm-13 12zm16 48zm0 38zm13 20zm8-10zm-11-12zm6-3zm-10-31zm-1-3zm0-5zm3-1zm11-3zm-3-1zm1-6zm8-16zm-4-8zm2-3zm-16-9zm16-3zm3 0zm-7-4zm5-7zm-18-3zm11-1zm-3-2zm6 0zm7-29zm-18-1zm11-4zm-9-6zm10-4zm-8-1zm1 0zm11-7zm-4-3zm0-1zm-14 0zm8-1zm-4-3zm11 0zm0-3zm-15-2zm11-2zm-9 0zm3-1zm9-4zm-17-1zm13-6zm-10-4zm16 0zm-11-3zm10-6zm0-3zm-6-1zm9 0zm-16-3zm11-1zm-14-5zm9 0zm9 0zm-7-2zm6 0zm-19-3zm2-1zm16-3zm-5 0zm0-3zm3-2zm6-2zm-17-4zm10-1zm4-3zm-8 0zm0-9zm11-2zm-1 0zm-21 0zm16 0zm-6-1zm-7 0zm18 0zm-19-2zm18-3zm-11-1zm8-1zm-17-2zm13-1zm4-4zm-5-4zm-12-1zm10-1zm3-2zm-10 0zm-2-3zm16 0zm2-1zm-11 0zm8-3zm5-3zm-12-2zm9-2zm-11-3zm9-2zm3-2zm-13-2zm10-2zm-9-1zm9 0zm-2-3zm-12-1zm20-3zm-5-3zm-13-5zm18 0zm-6-2zm-5-1zm-6 0zm10-2zm-14-4zm20-2zm2-4zm-8-2zm-15-3zm15-2zm-6-5zm-3-9zm11 0zm-7-1zm1-1zm-8-2zm15-1zm-1-4zm-15-6zm14-6zm-9-1zm12-3zm-15-1zm11-6zm-5-1zm3-11zm3-1zm-16-1zm18-3zm-8-3zm-2-14zm2-2zm0 0zm9 0zm-8-3zm9-2zm-1-1zm-9 0zm13-2zm-9-4zm4-1zm4-3zm-16-8zm12 0zm-4-4zm-4-2zm7-6zm0-4zm-6-2zm8-1zm-5-2zm-7-3zm-5-2zm2-2zm12-1zm7-1zm-6-2zm-10-5zm9 0zm-10-2zm15-2zm-10-6zm-11 0zm17-3zm-9 0zm1-3zm5-5zm-1-2zm-9 0zm10-4zm-8-8zm0-2zm-5-3zm3-2zm-2-12zm1-2zm-3-16zm28 60zm-3 3zm9 7zm1 4zm-11 11zm11 2zm-11 0zm8 3zm2 5zm-7 2zm0 8zm16 2zm-15 2zm5 8zm6 0zm4 2zm-17 1zm12 0zm-8 1zm9 1zm-6 3zm-3 6zm6 3zm5 0zm-11 1zm-3 5zm20 0zm-2 5zm-8 1zm4 3zm2 4zm-17 2zm20 1zm-3 6zm3 5zm-17 4zm-1 0zm8 3zm1 0zm-12 5zm10 2zm5 3zm-6 1zm-8 0zm3 2zm9 4zm1 4zm-8 1zm-6 8zm14 2zm-2 0zm6 3zm-11 9zm4 1zm-12 7zm20 2zm2 2zm-7 0zm-10 1zm-2 2zm9 2zm-11 1zm17 1zm-5 3zm0 6zm3 9zm-9 1zm3 2zm3 0zm1 6zm-12 1zm21 1zm-19 7zm16 0zm-20 11zm3 1zm20 16zm-4 4zm-18 2zm21 0zm-20 1zm12 1zm-6 2zm12 0zm1 2zm-7 1zm-3 1zm6 5zm-7 8zm-7 1zm3 3zm14 2zm0 3zm-5 2zm-11 4zm8 2zm9 1zm-21 5zm3 1zm11 6zm-2 2zm-10 1zm-2 1zm13 6zm-13 3zm0 4zm9 3zm-8 2zm13 3zm-8 1zm13 0zm3 3zm-22 0zm16 4zm-10 3zm-3 1zm-2 5zm0 1zm5 1zm-2 4zm8 8zm2 2zm1 6zm-4 1zm-6 6zm1 5zm8 0zm-3 9zm6 18zm5 6zm-4 1zm-14 0zm6 6zm-7 6zm11 4zm-10 3zm18 4zm-13 5zm-9 4zm17 22zm-17 7zm17 11zm-14 3zm9 9zm1 17zm18-29zm7-4zm-10-3zm-1-8zm2-27zm6-4zm-5-4zm13-3zm-9-2zm10-1zm-9-1zm-4-5zm12 0zm-19-1zm20-15zm-5-7zm5-7zm-13-2zm8-4zm-12-4zm-1-1zm16-4zm-9-5zm-8 0zm1-5zm17-1zm0-1zm-11-8zm5-2zm2-3zm-8 0zm2-7zm12-2zm-9-2zm2-1zm7 0zm-13-2zm2-5zm-2-3zm8-6zm-10-2zm17-3zm-5-3zm-13-1zm12-3zm2-1zm-5-3zm-11-9zm16 0zm-6-1zm5-13zm0-3zm5-2zm-10-9zm-10-1zm6-3zm-1-7zm0-5zm-8-6zm22-2zm-10-3zm-8-3zm14-5zm-12 0zm17-1zm-16-5zm11-8zm0-1zm-5-3zm-3-9zm6-4zm-7 0zm1-6zm11-3zm-10-4zm-6-3zm5-2zm10-3zm-7 0zm-7-5zm7-1zm-6-3zm7-3zm5-3zm2 0zm-6-3zm-10-3zm16-2zm-11-5zm-7-1zm10-2zm-4-2zm-4-5zm2-4zm-7-1zm13-3zm-12 0zm13-1zm-6-1zm-1-4zm4-1zm-10-2zm13 0zm7-3zm-4-3zm-16-7zm3-2zm1 0zm16 0zm-9-1zm11-3zm0-10zm-21-15zm-2-2zm6 0zm-2-3zm41-111zm0 3zm-1 9zm-5 3zm5 3zm-1 2zm-2 11zm6 19zm-9 10zm1 7zm-6 18zm-1 2zm-2 4zm-2 3zm4 4zm-1 7zm-1 3zm-2 17zm-3 7zm1 0zm4 7zm-4 1zm14 8zm-12 2zm12 6zm-15 38zm21 1zm-5 0zm4 1zm-9 8zm0 8zm-4 6zm-2 5zm-1 6zm2 12zm12 4zm-10 4zm-4 3zm14 4zm-7 18zm-6 1zm3 2zm3 4zm-12 6zm4 9zm2 1zm-6 7zm17 8zm-16 5zm1 2zm5 6zm-7 5zm7 3zm0 0zm13 3zm-11 23zm-4 20zm1 2zm-5 13zm7 4zm5 7zm-10 12zm3 8zm9 5zm-5 14zm0 39zm0 1zm-2 7zm-1 3zm-5 8zm19 55zm26-48zm-2-23zm-2-3zm-1-7zm5-13zm-5-21zm5 0zm-20-5zm12-9zm3-13zm-1-5zm5-11zm1-1zm-2-5zm-9-1zm7 0zm-4-5zm8-10zm0-2zm0-3zm-4 0zm-2-2zm1-2zm3-8zm-7-2zm4-1zm1-11zm-8-1zm11-5zm-7 0zm5-1zm-1-13zm-3 0zm-4-4zm8-4zm2-11zm-8-1zm0-6zm2-3zm7-4zm-8-7zm4-11zm1 0zm-5-2zm7-5zm-8-5zm1 0zm1-6zm-5-1zm8-5zm4-3zm-4-3zm-16-13zm15-3zm-5 0zm7-2zm-8 0zm4-7zm-4-1zm3-9zm2-2zm2-2zm-7-2zm1-5zm-10-3zm6-1zm10-6zm-17-28zm8 0zm-6-5zm16-13zm-1-23zm0-11zm1-9zm-3-22zm3-2zm-12-7zm12-2zm3-20zm-2-9zm-1-4zm2-16zm0-1zm-17-34zm-1-1zm-4-7zm17-2zm-15-2zm15-2zm-13-4zm-2-6zm0-2zm12-3zm-8-5zm8 0zm0-3zm-9-3zm3-5zm3-1zm-1-3zm-2-2zm5-2zm-5-4zm3 0zm-2 0zm4-6zm22 86zm-9 6zm6 10zm-1 2zm10 2zm-10 1zm-3 5zm14 2zm4 4zm-5 1zm-3 4zm-2 6zm-6 2zm11 1zm-4 3zm6 1zm4 3zm-15 4zm8 0zm5 3zm-11 1zm4 2zm-3 1zm0 1zm10 2zm-21 3zm16 0zm-10 1zm16 1zm-10 1zm-11 0zm20 1zm2 2zm-19 3zm10 10zm3 4zm-6 3zm-1 0zm10 6zm-11 0zm-6 4zm19 0zm-9 0zm-10 1zm11 3zm-4 2zm-7 3zm0 1zm12 1zm-3 4zm-8 1zm16 1zm-14 0zm3 6zm7 3zm3 3zm-9 2zm-10 1zm4 1zm11 0zm3 3zm-14 0zm6 2zm5 3zm-9 3zm8 13zm8 2zm-5 4zm-16 1zm7 2zm8 4zm5 2zm-18 0zm12 1zm-10 0zm-4 4zm12 0zm6 2zm-10 0zm8 4zm-7 6zm5 4zm7 3zm-22 8zm0 7zm4 3zm13 0zm-11 0zm4 6zm5 1zm-9 0zm17 1zm-2 2zm-16 2zm-2 4zm16 2zm-14 1zm15 3zm-19 2zm11 4zm-8 2zm-1 0zm8 1zm6 2zm-12 0zm14 2zm-15 2zm10 0zm9 1zm-17 1zm12 13zm-16 0zm5 2zm0 4zm7 0zm-7 2zm15 3zm-2 4zm-12 1zm6 0zm-2 0zm3 4zm4 1zm-19 0zm4 0zm7 3zm4 0zm-10 1zm-1 1zm17 2zm1 4zm-9 1zm2 2zm3 0zm3 1zm-19 12zm13 2zm-3 1zm1 0zm-9 1zm13 4zm-9 0zm-1 3zm-3 3zm6 1zm4 0zm-9 2zm2 8zm13 10zm-2 7zm2 5zm-17 1zm13 9zm-14 3zm10 7zm-9 2zm-2 9zm-1 4zm23 1zm-10 4zm-4 2zm-6 1zm5 1zm1 2zm8 19zm-8 4zm8 6zm5 12zm-3 11zm-2 13zm-4 2zm-5 2zm5 2zm-11 4zm6 17zm-5 21zm20 14zm21-4zm-14-27zm5-11zm10 0zm-11-7zm3-6zm3-16zm-6-9zm-5-8zm16-3zm-4-6zm-8-8zm6-11zm-7-9zm7 0zm3-4zm0-1zm-5-2zm1-12zm-14-6zm16-6zm-1 0zm-10-2zm2-2zm-4-3zm8 0zm-6-6zm8 0zm-3-1zm10-3zm1-9zm-13-4zm-2-3zm13 0zm-7 0zm2-2zm-6-5zm-3-1zm18-1zm-19-4zm14-1zm4-3zm-16-8zm2-1zm10-2zm5-1zm-13-10zm-8-2zm13-1zm7-3zm-6-2zm-6 0zm10-2zm3-7zm-6-5zm-7-2zm-7-4zm9-3zm-6-2zm-6-3zm1-4zm1-4zm2-5zm19-2zm-1-2zm-17-1zm-3-1zm7-5zm8 0zm-7-2zm6-5zm3-1zm-16-7zm16 0zm-11-7zm6-6zm-5-9zm2-5zm-3-10zm-6-5zm5-4zm-5-10zm0-1zm0-8zm18-3zm-9-1zm-5-4zm1-3zm15-3zm-9 0zm1-2zm-7-5zm8-1zm-3-4zm2-3zm4-2zm-11-2zm3-3zm4-4zm6-1zm3-1zm-21 0zm6-1zm13-5zm-9 0zm8-2zm-15-1zm-2-5zm17-5zm-14-1zm9-1zm-3-7zm-5-1zm-5 0zm-2-4zm12-2zm2-7zm5-2zm-15-7zm6-3zm-1-11zm-3-4zm4-5zm-9-3zm24 70zm18 1zm-19 5zm20 4zm1 1zm-5 1zm7 0zm-8 0zm1 3zm3 4zm-12 16zm10 3zm2 1zm-12 1zm15 2zm-10 2zm6 2zm-2 0zm-1 2zm-3 1zm8 4zm-11 1zm6 2zm-3 1zm9 5zm-4 1zm-3 0zm1 2zm7 6zm-13 2zm13 2zm0 3zm-11 5zm-5 2zm-2 7zm5 1zm-1 1zm2 0zm-8 5zm21 0zm-5 14zm0 2zm-6 3zm-6 11zm-6 1zm15 0zm-15 2zm9 1zm-8 3zm8 1zm13 0zm0 4zm-11 4zm6 2zm-1 3zm7 3zm-3 1zm2 4zm1 15zm-21 5zm8 1zm6 1zm-4 3zm-8 1zm-1 1zm-1 1zm9 1zm-10 2zm4 2zm18 1zm-5 1zm4 2zm-4 3zm-10 0zm4 1zm0 2zm-5 0zm-1 1zm14 0zm-18 5zm10 1zm0 1zm-10 1zm15 0zm-17 7zm1 4zm5 3zm1 3zm7 0zm1 0zm3 0zm0 3zm2 4zm-17 15zm16 7zm-13 6zm-5 1zm18 2zm-6 7zm-1 2zm6 1zm-5 3zm-11 3zm10 4zm-11 1zm7 6zm-3 3zm3 17zm-7 41zm9 25zm-2 1zm-6 55zm36 11zm-14-32zm23-34zm-3-36zm-19-7zm8-10zm-7-4zm4-8zm-3-15zm-2-1zm2-23zm0-6zm-2-1zm11-1zm-10-3zm-2-2zm2-5zm-1-7zm2-1zm-1 0zm6-8zm-6-4zm-2-4zm5-10zm-3-25zm10-10zm-9-7zm-3-12zm0-3zm2-10zm0-1zm4-18zm10-4zm-9-7zm-7-16zm0-6zm2-13zm1-1zm0-3zm-1-3zm1-2zm0-9zm12-1zm-11-1zm13-3zm-15 0zm-2-5zm16-8zm5-2zm-10-4zm10 0zm-6-5zm-5-1zm6-4zm-8-2zm-6-6zm21-43zm-4-5zm-2-2zm4-2zm-1 0zm-20 0zm19-17zm-1-7zm-5 0zm-8-1zm11-4zm-12-4zm4 0zm5-3zm-4-4zm12-1zm-1 0zm-13-1zm1-3zm15-3zm-4-6zm0-5zm-1-5zm-10-6zm1-10zm-1-2zm4-12zm9-2zm-3-2zm-5-7zm5-9zm1-12zm4-12zm-1-7zm-1-3zm7-30zm-1 4zm1 16zm5 4zm-6 4zm8 0zm-9 2zm-1 6zm6 1zm-2 3zm-3 9zm10 2zm2 12zm-11 21zm-3 1zm21 2zm-5 3zm-10 11zm-5 8zm3 5zm-3 3zm-1 9zm22 7zm-17 2zm15 11zm-7 3zm7 4zm-10 1zm-9 3zm16 5zm-1 3zm-2 1zm0 6zm7 0zm-17 2zm17 1zm-1 4zm-10 2zm8 3zm-9 3zm-5 4zm18 13zm0 4zm0 4zm-10 2zm11 3zm-7 2zm3 1zm-8 1zm2 0zm-2 2zm8 3zm1 1zm-9 4zm8 1zm-5 3zm5 4zm2 0zm-1 4zm-5 10zm-13 1zm-1 7zm9 6zm-3 1zm8 1zm-1 5zm-6 16zm14 3zm-10 6zm9 0zm-6 2zm5 0zm2 1zm0 2zm-12 1zm11 0zm-5 2zm-4 3zm7 1zm-5 0zm-9 1zm14 1zm-9 10zm4 3zm-8 2zm10 5zm-1 0zm2 6zm-10 1zm7 4zm3 1zm0 6zm-2 1zm2 1zm1 3zm3 0zm-7 4zm0 4zm-6 7zm4 0zm4 1zm-3 1zm-5 1zm9 0zm1 1zm5 5zm-2 6zm0 1zm-7 4zm1 5zm5 2zm3 2zm-11 0zm-1 4zm-2 2zm6 2zm-2 3zm7 2zm-11 6zm1 2zm12 4zm-7 9zm-4 3zm11 8zm-5 2zm-4 3zm-1 5zm2 5zm0 4zm-4 4zm11 3zm1 2zm-12 0zm3 0zm-3 5zm11 2zm-9 3zm-4 14zm2 1zm2 4zm3 9zm0 2zm6 2zm1 5zm-16 0zm5 14zm9 23zm-10 14zm13 5zm10 63zm11-26zm-12-26zm7-10zm6-28zm-1-8zm-18-1zm9-17zm8-1zm-1-2zm-16-5zm2-2zm6-6zm7-2zm-4-3zm-9-1zm-4-2zm5-3zm12-7zm-7 0zm11 0zm-17-1zm19-1zm-22-24zm2 0zm6-3zm11-3zm-8 0zm4-2zm-5-7zm-9-6zm9-1zm0-5zm-7-3zm4 0zm-5-1zm3-1zm3-3zm1-5zm-8-2zm11-5zm2-2zm8-6zm-9-3zm-4 0zm-8-9zm3-1zm14-4zm0-4zm-6 0zm-6-2zm4-2zm11-1zm1 0zm-19-2zm-3-3zm0-2zm11 0zm-12-4zm6-8zm3-1zm13-1zm-12-1zm9-2zm-4-2zm-1-1zm-10 0zm14-5zm-8-5zm-4-1zm-4-1zm15 0zm0-1zm1-6zm1-5zm-9 0zm3-2zm8 0zm-2-7zm-15-1zm-3-1zm-1-21zm4-10zm0-9zm18-1zm-2-7zm3 0zm-9-1zm-7 0zm4-5zm12-6zm-14-2zm11-1zm-4-1zm-3-2zm-1-4zm-7-3zm15-1zm3-2zm-5-6zm-17 0zm4-5zm-2 0zm3-1zm-6 0zm12-2zm3-3zm7-1zm-10 0zm3-7zm-10 0zm16-9zm-5-1zm-8-6zm4-18zm1-8zm-6 0zm5-1zm-9-2zm12-2zm0-3zm7-4zm-16-5zm11 0zm-13-2zm-3-3zm1-3zm10 0zm-5-1zm4-3zm5-2zm3-3zm-9-1zm-7 0zm-3-2zm19-1zm-1-4zm-17-4zm15-2zm-3-6zm1-2zm4 0zm-6-6zm-8-3zm6-4zm-6-8zm4-1zm6 0zm-9-3zm23 43zm-1 4zm0 3zm1 7zm-4 0zm8 9zm-8 4zm4 3zm3 7zm5 6zm4 0zm-12 2zm7 0zm6 4zm-6 2zm2 0zm-2 3zm-7 0zm9 6zm3 0zm-2 3zm-5 1zm-4 3zm1 3zm11 3zm-5 0zm6 1zm2 1zm-15 4zm10 3zm3 1zm-18 8zm7 9zm-7 10zm18 0zm0 0zm1 1zm-8 0zm1 6zm-6 2zm-2 4zm16 1zm-5 2zm7 3zm-6 2zm6 1zm-12 5zm4 0zm8 1zm-11 0zm-3 5zm1 2zm-8 1zm6 14zm-3 8zm0 1zm7 1zm-3 3zm15 7zm-4 5zm-13 1zm-4 7zm7 2zm9 7zm5 13zm-20 2zm2 2zm9 0zm-6 4zm12 0zm-3 1zm-16 2zm2 4zm5 1zm12 2zm-18 0zm18 1zm1 3zm-8 0zm-7 0zm8 0zm-5 5zm0 7zm8 3zm-9 0zm-6 3zm19 3zm-5 3zm5 2zm-6 6zm-11 1zm12 4zm-7 1zm11 1zm-17 4zm17 2zm-5 0zm4 3zm-13 9zm3 2zm-2 11zm7 1zm-9 1zm6 1zm10 1zm-5 8zm-7 2zm4 0zm3 3zm3 2zm-6 8zm-12 11zm6 7zm6 21zm6 3zm-1 21zm4 8zm-1 4zm-15 21zm-3 52zm3 4zm4 4zm37-44zm-11-24zm-7-3zm-3-8zm19 0zm1-15zm-15-1zm-6-14zm20-4zm-10-9zm-7-2zm6-2zm11-5zm-6-6zm-13 0zm10-1zm2-4zm-8-2zm-6-13zm7-4zm0-6zm3-2zm-5-1zm6-4zm4-3zm8-1zm-14-4zm4-4zm3-11zm-14-1zm7-1zm-9-2zm15-5zm4-2zm-10-3zm-9-1zm17-4zm3-6zm-18-1zm18-4zm-11-1zm11-2zm-18-4zm5-3zm11-1zm-3-2zm-13 0zm19 0zm-12-6zm-6-1zm-2-4zm6-7zm9 0zm2-6zm-3-1zm-3-2zm-12-2zm10-3zm7-2zm-14-6zm7 0zm-9-3zm15-1zm-10-2zm10-3zm-13-2zm4-1zm-6-1zm5-1zm4 0zm2-1zm2-1zm5-2zm-17-2zm8-3zm4-1zm7-3zm-5 0zm-10 0zm1 0zm5-3zm2-3zm-2-6zm-7 0zm5 0zm-3-3zm-7-1zm17-3zm-14-2zm13-4zm5-1zm1-4zm-2-1zm-5-1zm4-4zm-17-1zm16-3zm-1-3zm0-4zm-4-1zm-11-10zm8-4zm-4-30zm2-3zm-6-15zm7-3zm1-5zm2-5zm-1-2zm5-15zm6-5zm1-1zm-2-1zm-5-3zm2-6zm1-14zm4-6zm0-18zm21-109zm2 6zm0 5zm-7 2zm3 2zm1 4zm3 6zm-2 8zm3 0zm-12 3zm2 2zm10 2zm-12 1zm6 0zm-4 2zm2 13zm-4 7zm-2 13zm-1 4zm-4 4zm13 7zm-1 7zm-13 2zm9 0zm-12 20zm3 14zm-3 4zm11 5zm7 1zm4 2zm-7 2zm-10 11zm3 1zm-6 3zm10 42zm-4 1zm-5 4zm0 3zm20 13zm-8 0zm-5 2zm8 0zm-16 2zm6 1zm14 2zm-10 11zm-6 11zm4 1zm-9 2zm7 23zm1 27zm14 12zm-11 27zm-10 26zm20 41zm-16 1zm4 0zm8 4zm5 9zm-2 28zm-15 48zm15 6zm-19 9zm15 21zm2 12zm25 80zm-18-26zm17 0zm-13-10zm15-18zm-11-22zm-1-23zm-8-8zm21-2zm-17-9zm14-9zm-6-4zm6-10zm-7-1zm5-3zm-10-1zm-5-4zm3-1zm-3 0zm20-2zm-2-4zm-17-1zm-2-1zm3-5zm10-1zm6-1zm0-1zm-13-8zm11-3zm3-5zm-1 0zm-18-12zm5-2zm14-3zm-16-4zm-3 0zm15-3zm-14-4zm9-3zm-8 0zm10 0zm-11-1zm14-3zm-5-1zm-11-2zm12 0zm-9 0zm6-1zm-4 0zm6-3zm-10-2zm11-8zm-6-1zm-4-1zm1-4zm9-5zm9-3zm-7-4zm-1-3zm-8 0zm15-1zm-17-3zm7 0zm9-1zm-16-1zm5-2zm12-5zm-6-1zm-6 0zm12-5zm-13-1zm10-3zm-1-2zm-3-2zm-6-1zm-1-1zm-4-1zm16 0zm-7-1zm-6-4zm8-3zm2-4zm-15 0zm0-1zm16-3zm6-3zm-4-1zm-1-11zm-18-2zm16-1zm-3-1zm-6-2zm13-3zm-8-2zm4-4zm-13-5zm9-3zm11-1zm-8-2zm-10-1zm5-2zm-7-7zm15-2zm5 0zm-17-2zm0 0zm16-2zm-17-3zm17-11zm-4-3zm-14 0zm10-1zm8-6zm-17-5zm8-3zm-2-2zm-3-1zm14 0zm-7-4zm-6-6zm-7-10zm19-1zm-7-1zm-3-1zm-8-2zm13 0zm-8-3zm7 0zm-10-1zm13-5zm5-1zm-1 0zm1-11zm-7-1zm5 0zm-14-1zm-3-6zm11-2zm-5-2zm11-5zm1-5zm-7 0zm-6 0zm2-3zm4-9zm8-1zm-10-7zm-3-6zm7 0zm6-2zm-16 0zm10-5zm-17 0zm1-4zm1-1zm18 0zm-9-4zm1-3zm9-14zm-14-3zm11-4zm5-7zm-13-8zm-3-1zm2-8zm8-3zm6-4zm-12-7zm-3-6zm0-10zm-6-11zm3-5zm-3-2zm-1-12zm-1-18zm0-2zm28 98zm2 5zm-6 4zm10 6zm2 2zm-5 9zm-1 3zm3 1zm6 1zm-9 5zm17 1zm-15 2zm12 2zm-3 1zm-12 8zm-5 1zm17 1zm-8 1zm12 3zm-16 3zm14 10zm-11 4zm-8 11zm14 1zm-8 1zm-4 1zm19 9zm-17 3zm-1 3zm-1 4zm6 2zm9 1zm-1 0zm-2 2zm-3 1zm-5 4zm0 2zm2 5zm4 1zm-3 1zm3 2zm-6 2zm17 6zm-21 0zm12 5zm4 1zm-18 0zm6 3zm8 1zm5 1zm-9 3zm-3 3zm11 1zm-1 0zm-12 1zm-5 1zm3 3zm18 1zm-10 2zm2 3zm-5 2zm4 4zm4 3zm7 2zm-21 2zm14 6zm-15 0zm10 2zm-6 2zm0 1zm13 2zm-14 2zm17 6zm-1 0zm-10 1zm-8 23zm12 12zm-10 0zm1 4zm15 1zm-19 5zm10 1zm10 1zm-16 4zm2 2zm13 1zm-5 1zm4 3zm-13 0zm1 1zm-7 1zm21 0zm-9 2zm-2 0zm6 2zm-10 2zm13 2zm-8 0zm9 1zm1 9zm-8 0zm-3 1zm-7 0zm0 2zm11 0zm-1 2zm8 2zm-3 1zm-16 7zm2 8zm-4 3zm20 1zm1 0zm-19 4zm11 2zm7 5zm0 1zm-9 0zm10 2zm-1 2zm-8 2zm-6 6zm10 6zm3 1zm4 2zm-5 4zm-6 6zm-8 2zm17 0zm-19 4zm6 4zm10 0zm3 7zm-2 3zm-8 2zm10 3zm-18 14zm13 5zm-14 9zm21 5zm-6 1zm-8 2zm14 1zm-10 0zm10 2zm-18 1zm2 2zm6 0zm8 9zm-1 8zm1 4zm-7 0zm-14 3zm11 0zm-5 0zm-4 5zm4 4zm0 1zm-5 4zm16 2zm-9 7zm11 66zm13-9zm4-28zm-4-42zm2-4zm-7-17zm18-3zm-1-7zm-12-3zm11-1zm3 0zm-16 0zm17-12zm-18-8zm0-2zm-2-1zm19-2zm-21-2zm12-3zm-3-6zm-5-2zm1-2zm4-6zm-5 0zm17-1zm-20-2zm16-4zm-10-1zm13 0zm-2-3zm-9-5zm7-2zm6-2zm-6-3zm6-1zm-15-2zm-4-1zm10-3zm-14-4zm8 0zm-6-4zm20-2zm-9 0zm0-3zm-5-2zm-4-1zm3-5zm7-3zm4 0zm-13-1zm2-2zm14 0zm-10-1zm-2-4zm8-2zm1-1zm-7-2zm9-2zm-15-1zm-3-3zm4-2zm9 0zm-5-4zm-10-9zm23-1zm-20-2zm-1-2zm3-1zm6-6zm0-2zm-4 0zm-2-2zm-1 0zm9-2zm2 0zm-9-4zm9-4zm-8-12zm-2-2zm0-5zm7-1zm6-2zm3-1zm-16-1zm5-4zm7-2zm5-4zm0-2zm-10-2zm0 0zm3-5zm-3-18zm-8 0zm19-2zm-5-8zm-9-1zm9-2zm-2-1zm-6 0zm4-6zm-12-1zm21-3zm-10 0zm-7 0zm-6-4zm22-1zm-3-1zm1-2zm-19-1zm22-2zm-6-2zm-6-1zm11-1zm-22 0zm6-1zm-4-1zm21-8zm-3-4zm-9-1zm-11-1zm14-1zm3-5zm-3-4zm8-4zm-22-3zm11-5zm5 0zm2-2zm-13-2zm-5-4zm7-6zm6-4zm-13-4zm13 0zm-7-5zm7-1zm-12-6zm5 0zm-1-5zm3-3zm-7-1zm8-3zm-9-6zm4-1zm-3-17zm43-60zm-2 23zm3 4zm1 3zm-4 7zm5 5zm-6 9zm-2 3zm-1 5zm-3 7zm1 4zm7 1zm1 8zm-7 3zm4 3zm-6 5zm-3 6zm10 1zm-9 6zm-6 4zm5 1zm-6 18zm5 2zm-7 2zm12 2zm1 1zm-9 2zm7 1zm-1 2zm-9 1zm16 13zm-16 3zm6 1zm8 1zm-1 2zm-9 4zm-3 1zm20 0zm-22 0zm10 2zm5 6zm7 0zm-18 2zm6 11zm-9 2zm4 1zm-3 5zm9 12zm0 7zm-6 1zm3 2zm-4 6zm3 8zm-5 11zm6 0zm5 4zm0 1zm-7 3zm3 8zm-6 1zm5 12zm4 1zm4 5zm-5 4zm-11 2zm6 2zm1 4zm4 5zm-5 3zm2 4zm-1 1zm-4 3zm11 1zm-7 3zm3 1zm-4 0zm1 2zm5 5zm-9 1zm7 6zm2 1zm1 0zm-1 0zm-12 0zm2 3zm5 7zm-7 5zm14 5zm-10 3zm10 0zm-5 6zm2 1zm-7 1zm-1 3zm7 0zm3 3zm9 2zm-22 3zm7 12zm2 14zm-3 2zm6 3zm-6 0zm8 1zm-6 4zm-7 19zm5 2zm-2 3zm-4 3zm11 2zm-10 3zm2 6zm0 7zm-1 1zm7 5zm-2 0zm7 3zm-12 18zm12 5zm-13 0zm9 8zm-8 3zm20 2zm-14 7zm-5 11zm42-7zm-5-11zm5-13zm0-22zm-3-35zm4-44zm-4-2zm-18 0zm21-1zm-1-3zm-1-11zm0-2zm2-2zm2 0zm-1-8zm-3-4zm1-19zm-2-9zm-2-3zm4-32zm2-25zm-15-4zm11-10zm2-20zm-3-3zm2-24zm-19-4zm5-1zm6-2zm2 0zm-8-1zm11-3zm4-8zm-8-4zm6-2zm-12-2zm-6-2zm16-4zm-11-1zm-3-2zm3-4zm18-2zm-15-1zm14-14zm-11-3zm9-3zm-7-1zm-2-15zm5-2zm1-3zm3 0zm-4-5zm5-1zm-20-1zm5-2zm16-18zm-14-8zm-3-3zm-1 0zm10-2zm-6-5zm-5-2zm11-37zm-1-7zm-9-2zm18-1zm-15-5zm2-19zm-9-6zm3-5zm-1-8zm5-4zm2-8zm13-2zm-11-5zm9-2zm-13 0zm16-5zm-13 0zm2-8zm0-6zm5-2zm-3-4zm0-6zm1-3zm-1-4zm1-7zm11 56zm-1 8zm-1 10zm2 7zm-1 4zm6 6zm3 12zm3 3zm-7 1zm-1 1zm18 4zm-16 1zm2 7zm-2 4zm-2 2zm16 4zm-7 8zm-10 0zm12 7zm4 7zm-13 1zm4 1zm4 1zm4 0zm-16 6zm6 9zm8 4zm2 4zm-14 0zm-3 2zm7 5zm-7 1zm20 1zm-5 0zm-10 2zm-4 4zm5 1zm-6 6zm5 5zm16 2zm-22 0zm5 0zm14 4zm-19 7zm15 2zm5 0zm-2 0zm-15 6zm-3 0zm19 2zm-9 0zm-3 1zm14 5zm-11 1zm-7 0zm5 5zm-9 4zm14 0zm-8 6zm15 5zm-4 5zm-5 3zm-8 4zm8 0zm-10 2zm15 3zm-3 1zm-9 2zm12 2zm-13 2zm12 1zm-1 4zm6 1zm0 4zm-1 3zm-20 2zm8 5zm2 1zm-2 2zm-2 1zm0 3zm-2 3zm1 2zm9 1zm-6 1zm-7 2zm-1 2zm17 1zm-14 1zm11 3zm-13 3zm7 0zm-3 1zm5 2zm5 12zm5 0zm-18 2zm17 3zm-8 1zm7 5zm-14 2zm17 1zm-1 2zm-4 5zm-3 3zm9 2zm-17 1zm2 1zm12 2zm-19 1zm22 2zm1 3zm-4 2zm-1 1zm-15 2zm11 0zm-7 3zm6 0zm-13 3zm21 0zm-19 1zm9 3zm-10 4zm6 0zm12 2zm-8 1zm11 1zm-9 2zm-11 4zm9 1zm-10 8zm3 2zm-1 1zm-3 3zm1 0zm16 1zm-17 7zm8 4zm-5 1zm-1 4zm10 0zm6 0zm-10 2zm13 2zm-15 0zm10 1zm-14 1zm7 2zm3 1zm-7 2zm-3 1zm11 2zm-5 2zm-7 6zm15 8zm6 3zm-8 0zm-4 2zm7 5zm-16 2zm9 1zm10 1zm-8 3zm3 1zm4 0zm1 5zm-18 3zm4 5zm-3 8zm-1 0zm1 8zm16 1zm0 2zm-4 1zm-4 12zm-4 3zm8 5zm-11 0zm10 0zm-10 0zm19 10zm-15 3zm5 2zm10 1zm-1 11zm-21 4zm6 16zm16 21zm6-26zm-2-17zm3 0zm10-17zm-6-7zm3-1zm-1-9zm6-1zm-13-2zm-1 0zm11-3zm4-10zm-10 0zm8-3zm-4 0zm2-5zm-6-6zm9-1zm-15-2zm18-1zm-10-1zm-8-1zm11-4zm-5-1zm0-2zm11-1zm-7 0zm-2-9zm12 0zm-17-3zm5-3zm-1-7zm-8-2zm17-1zm-12-1zm10-15zm-12 0zm7-9zm8-2zm-6-1zm-5-1zm14-1zm-2-1zm-4-5zm-3 0zm-11-2zm11-2zm8-3zm-5-1zm0-7zm3-2zm-10-4zm7-6zm0-1zm-4-1zm-4-2zm-8-5zm19-3zm1-2zm-6-3zm-7-2zm7-1zm-10 0zm8-1zm9-1zm-2-2zm-10 0zm-5-1zm12 0zm-10-3zm2-1zm-3-2zm10-5zm-16-5zm3-2zm0-6zm6-4zm-8-5zm-1 0zm15-18zm-13-3zm8-3zm8-2zm-3-1zm-2-4zm9 0zm-22-10zm14-1zm-8-4zm4-3zm0 0zm6-1zm-7-3zm-7-2zm5-4zm8 0zm-14-1zm11-3zm-6-1zm14 0zm-6-5zm-8-1zm8-1zm5-2zm-19 0zm18-2zm-8-3zm-10-9zm12-1zm-12-7zm12-25zm10-4zm-13-3zm-2-7zm6-2zm9-1zm-9-1zm-9-1zm0-2zm11-2zm-9-3zm7-3zm-10 0zm3-2zm-5-2zm-1 0zm6 0zm-6-8zm20 0zm-18-3zm10-1zm-11-1zm11-5zm-8-5zm7-1zm-10-5zm8-4zm-7-8zm3-3zm6-2zm-9-10zm2 0zm23 72zm17 6zm-13 1zm16 3zm-15 7zm-6 1zm9 1zm2 5zm-13 2zm15 7zm6 1zm-7 1zm-7 4zm3 0zm-9 1zm14 0zm-10 4zm1 7zm6 8zm-4 2zm-3 0zm2 2zm9 1zm2 0zm-17 5zm1 5zm2 4zm-2 1zm19 2zm-12 8zm11 4zm-4 12zm3 1zm-8 3zm-10 1zm20 2zm-19 0zm13 1zm-9 1zm0 2zm14 0zm3 5zm-1 1zm-9 1zm-5 1zm9 0zm-9 6zm14 1zm-14 8zm13 10zm-5 1zm-5 2zm1 7zm-10 5zm1 4zm11 1zm0 6zm4 0zm-17 1zm10 1zm5 1zm4 2zm-3 4zm-2 4zm7 1zm-8 1zm7 6zm-1 2zm0 2zm1 5zm-20 2zm20 4zm-16 1zm9 0zm-13 3zm0 2zm7 2zm5 0zm2 1zm2 6zm-13 6zm7 9zm10 1zm-12 2zm-2 2zm-4 3zm15 3zm-5 4zm10 4zm-1 5zm-4 0zm-11 1zm6 3zm-1 2zm9 1zm-21 1zm0 0zm5 1zm12 2zm-12 2zm15 5zm0 2zm-18 1zm5 3zm-2 3zm6 7zm8 0zm-5 1zm-11 2zm7 1zm10 6zm-2 1zm-16 3zm15 1zm0 4zm-10 0zm5 3zm-5 8zm-6 0zm19 6zm-6 2zm-4 2zm1 7zm-8 4zm4 10zm12 19zm-8 9zm-7 6zm23-5zm2-2zm3-58zm-8-13zm5-2zm7-7zm-3-7zm0-26zm-6-4zm6-7zm-9-1zm7-8zm-4-1zm4-12zm0-2zm-7-4zm7-1zm-1 0zm-5-2zm6-3zm-1-6zm10-1zm-7-10zm-3-4zm-3-1zm6-2zm1-1zm-4-1zm-1-5zm2-3zm-5-1zm-1-9zm0-5zm7-4zm-2-3zm-2-3zm3-1zm-4-3zm-3-2zm0-9zm8-1zm-1-11zm-1-3zm-6-6zm8-2zm-8-1zm5 0zm0-4zm3-6zm11-4zm2 0zm-20-1zm9 0zm-5-4zm2-14zm7-1zm-4 0zm-6-5zm1-3zm16-12zm-2-3zm-7-3zm-11-2zm15-3zm-7-2zm-4-4zm-3-47zm17-4zm-10-5zm9 0zm-17-2zm11-2zm4-9zm-9 0zm1-2zm0-1zm7-3zm-7-1zm8-1zm-6-1zm-5-2zm3-8zm5-9zm-1-4zm0-2zm2-1zm1-3zm5-5zm-6-6zm6-2zm-7-6zm3-4zm1-1zm6-19zm-2-10zm-5-1zm7-2zm11-60zm-2 21zm-1 2zm5 2zm-8 0zm8 2zm-5 3zm6 3zm-7 2zm-6 5zm16 4zm-11 4zm11 0zm-14 2zm1 1zm6 0zm0 7zm3 0zm8 2zm2 7zm-12 0zm12 0zm-1 3zm-1 8zm-7 4zm-9 1zm18 2zm-2 5zm1 3zm-6 2zm-5 4zm9 0zm-3 3zm-7 7zm10 0zm-15 11zm16 3zm-17 1zm11 1zm0 3zm-2 1zm4 1zm-7 0zm13 6zm-2 7zm-7 2zm2 0zm4 0zm2 5zm-3 5zm-8 24zm6 3zm-12 1zm6 2zm2 6zm7 4zm-4 3zm4 0zm-1 7zm3 1zm-1 4zm1 4zm2 8zm-19 11zm5 6zm-6 3zm-1 1zm2 12zm0 0zm3 1zm2 2zm9 3zm-7 1zm10 1zm-5 2zm1 9zm-4 7zm1 2zm4 2zm-6 2zm4 12zm2 3zm2 6zm-5 1zm2 7zm-5 2zm7 7zm-3 1zm0 0zm-5 7zm2 9zm10 11zm-6 2zm0 1zm-2 3zm8 1zm-1 2zm-9 2zm9 3zm-5 2zm1 7zm-3 2zm8 2zm-7 1zm-1 3zm8 3zm-7 2zm-1 2zm1 3zm7 8zm-6 3zm5 2zm-12 7zm5 4zm2 3zm-1 4zm-1 0zm8 1zm-2 2zm0 8zm-5 13zm0 4zm-10 4zm17 5zm-1 7zm-12 10zm4 1zm6 0zm1 1zm1 3zm-10 9zm-1 1zm2 25zm3 3zm5 3zm-10 4zm-1 4zm4 20zm2 15zm-8 12zm26-8zm1-21zm4-13zm-9-1zm17-4zm-23-4zm4-1zm12-1zm0 0zm5-7zm-20-13zm11-6zm5-3zm-10-2zm0-3zm-1-2zm14-4zm-18 0zm15-5zm3-1zm-1-13zm1-4zm2-1zm-3-2zm-13-3zm3-1zm-8-1zm3-2zm-4-5zm20-1zm-5-5zm6 0zm-20-1zm12-1zm5-3zm1-1zm-5-1zm-12-6zm15-3zm-5-1zm-10-2zm-2-5zm21-4zm-5 0zm-10-2zm12-6zm-9 0zm3-1zm-7-1zm13-1zm-2-4zm6-2zm-4-1zm-5-4zm-13-3zm7 0zm16 0zm-14-7zm13 0zm-2 0zm-16-2zm14-2zm-17 0zm10-1zm12 0zm-12-3zm-11 0zm5 0zm8-8zm9 0zm-14-2zm13 0zm1-3zm-3-1zm-5-1zm-14-1zm13 0zm8-2zm-14-1zm4-4zm-4-1zm2-3zm-8-3zm8 0zm-8-1zm5-2zm4-2zm-4-2zm6-2zm7-1zm-13-2zm-5 0zm13-4zm2-3zm-4-1zm0-1zm-5-2zm-4-2zm4-1zm-7-1zm14 0zm-1-3zm-9 0zm13-2zm3-1zm-4-5zm4 0zm-17-1zm4-3zm13-1zm3-2zm-3-1zm-19-1zm5-1zm4-1zm11-4zm-5-1zm-13-6zm7-11zm-1-9zm-9-1zm7 0zm10 0zm-8-4zm11-1zm-9-2zm-10-1zm1-3zm14-5zm-9-1zm2-6zm8-2zm-3-1zm2 0zm-15-4zm10-2zm-8 0zm0-3zm6-4zm3-1zm11-3zm-7-3zm6-1zm-9 0zm4-1zm-16-2zm6-3zm9 0zm4-9zm2-1zm-17-1zm-2-4zm17 0zm-5-8zm2-6zm5-5zm-14-1zm14-10zm-15-3zm15-4zm-14-5zm15-1zm-16-12zm12-1zm-6 0zm1-5zm-14 0zm9-9zm-6-11zm13 0zm-1-2zm-12-1zm12 0zm8-17zm0-3zm-17-14zm0-8zm23 41zm-5 7zm1 4zm8 6zm7 11zm-6 1zm-6 11zm12 3zm-14 0zm17 5zm-15 2zm15 0zm-12 1zm13 3zm-13 2zm10 1zm-3 6zm-11 1zm8 4zm-1 9zm8 1zm-1 0zm-9 4zm-6 1zm18 5zm-10 6zm9 1zm-17 5zm19 0zm-3 2zm-2 9zm-4 2zm-3 3zm10 0zm-18 4zm11 1zm-7 2zm9 4zm0 1zm2 2zm-15 0zm6 1zm-5 0zm7 1zm-9 0zm17 7zm-10 1zm9 0zm2 8zm2 5zm-2 6zm1 1zm-1 2zm-17 2zm-1 7zm7 0zm10 2zm-7 6zm7 2zm-7 3zm2 6zm4 0zm-9 2zm7 5zm-8 3zm-3 1zm10 0zm6 5zm-19 0zm14 4zm7 1zm2 0zm-14 0zm3 2zm11 1zm0 5zm-7 1zm6 1zm-19 3zm-1 4zm15 1zm-17 2zm14 1zm-10 1zm14 17zm-8 2zm9 2zm-15 0zm-4 0zm14 1zm-11 1zm-3 3zm20 1zm-12 3zm-7 0zm11 6zm10 0zm-15 1zm0 5zm9 1zm-4 3zm-12 3zm5 1zm14 1zm-12 3zm-4 2zm-3 3zm7 0zm8 3zm-10 5zm14 10zm-1 2zm1 9zm-17 5zm1 0zm7 3zm9 3zm0 1zm-5 0zm8 5zm-13 0zm2 0zm-10 2zm21 1zm-21 1zm4 2zm4 1zm-1 5zm15 1zm-22 3zm15 4zm-12 1zm12 3zm-14 6zm21 0zm-7 3zm0 6zm-15 1zm16 2zm-6 3zm9 3zm-2 3zm-13 2zm8 2zm9 5zm-11 3zm7 3zm-15 3zm9 3zm-7 28zm-5 3zm20 10zm15 26zm-11-12zm1-6zm15-8zm3-6zm-15-4zm1-6zm16-6zm-19-3zm21 0zm-18-17zm7-6zm1-8zm-5-6zm-3-6zm12-5zm-7-1zm-2 0zm13-1zm-1-2zm-8-3zm-8-5zm2-1zm17-5zm-21 0zm8-3zm-8-5zm17-1zm-3 0zm-8 0zm2-5zm-9-11zm8-5zm14-9zm-12-4zm8-3zm-16-2zm-2-5zm7 0zm-2-2zm10-1zm-13-1zm9 0zm-11-5zm-1-2zm0-4zm22-2zm-14-5zm7 0zm-2-4zm-9-1zm2-3zm9 0zm4-1zm2-1zm-1-1zm-12-3zm6-3zm9-9zm-1-1zm-7-1zm-14 0zm18-5zm-5-4zm-8-5zm-1 0zm9-1zm7 0zm-14-2zm15-3zm-3-1zm-11 0zm1-2zm-8-1zm0-4zm19-10zm-18-2zm5-2zm9 0zm-2-5zm-1-1zm-9-1zm15-10zm-3-2zm-3-7zm-11 0zm19-6zm0-1zm-20-1zm11 0zm-11-10zm12-1zm5 0zm-13-5zm-1-2zm0-1zm8-1zm-5-1zm0-4zm0-3zm-6-3zm0-8zm10-4zm-6-1zm16-14zm-21-5zm1-6zm2-7zm-3-7zm4-13zm18-1zm-18-1zm18-5zm-22-5zm4-2zm12-1zm-2 0zm-14-3zm20-13zm0-3zm0-4zm1-13zm26-157zm-2 41zm-1 2zm0 6zm-4 5zm-2 8zm0 5zm-1 6zm8 9zm-7 1zm4 10zm5 5zm-15 1zm12 2zm-13 4zm14 3zm-1 7zm-12 6zm-6 3zm1 12zm5 8zm8 2zm7 0zm-5 3zm-7 2zm10 1zm2 0zm-6 3zm-3 3zm3 10zm-4 1zm7 21zm-16 11zm0 10zm-4 6zm19 4zm4 18zm-18 0zm12 3zm-11 1zm7 1zm10 2zm-8 0zm-3 4zm7 2zm3 2zm-8 1zm2 2zm-6 4zm13 1zm-10 3zm5 6zm-15 1zm10 2zm0 1zm-13 1zm10 2zm-2 0zm-7 33zm-1 20zm4 6zm-3 14zm17 7zm-16 2zm-2 2zm2 5zm4 4zm-2 2zm-3 6zm1 30zm2 10zm-3 1zm0 34zm1 3zm0 14zm-1 4zm3 27zm-3 26zm11 72zm35-16zm-11-3zm4 0zm5-5zm-15-16zm16-4zm-10-3zm3-7zm8-5zm-4-10zm1-3zm-4-2zm-8-1zm3-1zm6-1zm-7 0zm11-4zm-19-3zm7-12zm7-2zm7-1zm-11-4zm11-1zm-14-12zm12 0zm-5-4zm3-5zm0-7zm3-3zm-14-7zm11-3zm1-3zm3-3zm-13 0zm11-3zm-10-1zm7-1zm4-4zm-15-2zm5 0zm-2-1zm13-4zm-8-2zm8 0zm-16-2zm10-3zm6 0zm-7-2zm6-3zm-12-3zm12-2zm-5-3zm-10-2zm0 0zm13-2zm-7-4zm-2-3zm4 0zm-2-5zm-7 0zm9-3zm7-2zm-16-1zm5-2zm-1-6zm9-3zm4-1zm-4 0zm-15 0zm6-5zm-5-2zm14-1zm-12-2zm-1-4zm17-2zm-12 0zm-10-2zm14-1zm0-1zm1-7zm-2-1zm-2-1zm-4-1zm11-1zm-13-2zm17-2zm-8-6zm-1-8zm1-1zm7-4zm-14 0zm11-3zm-4-2zm-8-4zm3-1zm-2-5zm3-3zm-1-2zm9-1zm-9-1zm8-4zm5-2zm-19-7zm2-15zm-5 0zm6-3zm-5 0zm14-1zm-12-3zm6-2zm10 0zm-6-3zm-8-2zm9-3zm8-2zm-12 0zm-7-1zm2-1zm-3-1zm13-2zm-8-5zm8-3zm-10-1zm-5-4zm12-1zm2 0zm4-8zm-4-22zm-6-4zm0 0zm0-1zm6-1zm-1-3zm-3-1zm6-1zm-10-3zm9-2zm1-7zm-1-7zm-9-1zm12-3zm2-1zm-9 0zm9-2zm-14-1zm9-3zm-7-2zm5-3zm-12-2zm2-2zm4-2zm1-1zm9 0zm-15-6zm19-2zm-1-1zm-9 0zm-5 0zm6-2zm-7 0zm-5-1zm0-3zm10-1zm-5-4zm17-4zm-11-11zm9-12zm-6-9zm6-5zm0-1zm-4-2zm-3-1zm-8-10zm-2-1zm6-4zm2-2zm2-5zm1-4zm-14-1zm1-2zm11-1zm-10-3zm-3-4zm5-2zm2-3zm4-1zm-4-1zm-5-1zm9 0zm-6-4zm-1-4zm-4-4zm0-3zm2-3zm1 0zm0-1zm5-1zm-7-4zm3-4zm1-15zm19 75zm0 18zm16 6zm-5 1zm4 6zm-7 1zm13 7zm-2 3zm-5 6zm-5 11zm-9 0zm14 11zm1 5zm-10 8zm7 7zm-1 0zm1 3zm9 7zm-2 0zm2 1zm-12 3zm-4 1zm14 3zm0 1zm-9 0zm-8 14zm18 7zm-3 6zm-15 2zm19 2zm-9 7zm-12 2zm18 0zm-3 3zm5 2zm-5 5zm-12 0zm7 1zm-9 2zm3 3zm2 1zm14 1zm-8 3zm-4 1zm-6 0zm19 1zm-4 4zm-12 1zm9 4zm-2 2zm-2 1zm7 1zm-13 6zm10 7zm7 2zm1 3zm-12 0zm-8 1zm20 7zm-5 5zm5 1zm-14 1zm6 3zm-3 1zm12 2zm-3 3zm-1 2zm0 4zm-5 3zm-11 0zm-1 6zm21 0zm-8 1zm4 8zm-11 1zm8 3zm-14 1zm8 1zm-9 2zm12 2zm5 1zm-13 0zm-1 6zm0 5zm1 2zm8 1zm-11 8zm-2 5zm21 3zm2 6zm-7 4zm4 9zm-14 5zm9 2zm-14 4zm20 6zm-11 3zm-5 2zm16 0zm-17 1zm-2 1zm6 3zm-1 4zm3 0zm-8 3zm20 1zm-10 0zm-5 2zm12 0zm-2 3zm-15 1zm1 3zm7 1zm2 0zm-6 1zm10 4zm-5 1zm1 6zm-6 2zm13 2zm-15 8zm-4 0zm17 1zm-17 2zm8 0zm10 1zm1 3zm2 13zm-16 2zm-2 7zm11 7zm3 5zm-3 3zm0 1zm5 2zm2 1zm-4 3zm-11 3zm-3 0zm-1 3zm17 4zm-13 1zm8 9zm7 9zm-18 2zm0 0zm5 7zm4 28zm-1 13zm3 8zm8 0zm1 9zm4-6zm20-6zm-4-2zm-6-7zm-8-2zm8-21zm9-15zm-6-5zm-11-9zm9-3zm-14-2zm14-2zm-8-4zm13-7zm-14-1zm-3-1zm19 0zm-9-3zm5-2zm-1-1zm-5-3zm4-3zm-7-3zm8-1zm-9-5zm15-1zm-6-1zm7-1zm-13-2zm7-1zm-16-7zm11 0zm-2-4zm13-1zm-5-1zm-6-3zm-5 0zm7-4zm-1-4zm-2-2zm-4-4zm16-2zm-18-2zm10-7zm7-1zm0 0zm-13-1zm-1-5zm-6-3zm16-9zm-16-2zm12-8zm5-2zm-2-4zm-3-3zm6-2zm-7 0zm8-2zm-14-1zm10 0zm-8-3zm-2-5zm-6 0zm13-1zm0-4zm7-4zm-18-4zm12-2zm-15-3zm22-1zm-14-3zm15-1zm-18 0zm17-20zm-17-1zm0-3zm18-2zm-9-2zm1 0zm-5-2zm4-3zm-2-3zm3-2zm-12-1zm1-5zm-3-9zm1-6zm21-1zm-19-6zm13-11zm-13 0zm-2-5zm2-2zm-4-11zm14-1zm-7-2zm11 0zm-15-4zm-1-5zm2-10zm7-12zm11 0zm-1-5zm1-7zm-1-5zm-1-11zm-11-9zm3 0zm11-1zm-17-6zm7-3zm1-8zm-8-1zm8-7zm-8-1zm-2-1zm12-1zm-13-7zm7-4zm-9-29zm2-3zm1-11zm43 24zm-4 10zm-1 2zm1 9zm0 4zm0 1zm-8 7zm1 0zm6 2zm0 1zm-9 0zm7 5zm-8 8zm3 3zm-11 9zm6 1zm-5 12zm7 1zm1 3zm-7 11zm7 4zm11 1zm-8 4zm6 0zm-12 2zm9 2zm0 6zm-3 8zm2 7zm-6 1zm4 3zm-3 6zm1 3zm10 3zm-9 4zm5 1zm-16 5zm13 0zm8 2zm-14 1zm2 4zm-2 0zm7 1zm-13 1zm12 5zm-7 5zm5 1zm6 1zm-4 1zm5 0zm-16 1zm-2 3zm12 3zm2 0zm-10 1zm9 1zm-13 0zm11 4zm-5 0zm11 2zm-15 2zm5 4zm13 1zm-15 3zm1 6zm13 4zm-3 1zm2 5zm-5 0zm-11 1zm1 0zm12 1zm8 2zm-16 1zm1 2zm13 1zm-8 2zm6 2zm-2 0zm-7 3zm-3 2zm9 3zm-11 4zm-4 1zm7 0zm-3 6zm7 0zm7 3zm-14 0zm13 2zm-14 2zm16 3zm-9 1zm2 2zm9 3zm-4 4zm-14 2zm4 0zm-6 5zm10 0zm-8 2zm13 0zm-2 6zm-1 2zm7 3zm-16 10zm16 9zm-4 1zm-4 1zm8 3zm-3 1zm-18 1zm9 3zm-6 8zm8 3zm5 0zm-9 1zm13 4zm-18 4zm9 3zm-5 1zm13 0zm-11 1zm3 3zm1 1zm-2 2zm-2 8zm-1 4zm9 1zm3 0zm-10 1zm10 1zm-10 9zm-6 0zm18 0zm-20 11zm15 9zm-13 10zm16 13zm-16 5zm8 10zm-9 8zm10 4zm6 4zm1 5zm28-51zm-6-23zm6-36zm-13-3zm12-5zm1-25zm-7-14zm-9-2zm15-6zm-2-1zm3-5zm-1-18zm-1-6zm2-35zm-5-3zm1-9zm-12-8zm15-6zm-22-4zm21-17zm-19-18zm20-7zm-18-7zm10-2zm-1-3zm9-1zm-13-1zm13-4zm-3-2zm-1-5zm-17-5zm7-6zm1-4zm-5-3zm-3-3zm11-2zm-5-1zm-3 0zm14-3zm-3-2zm-9-16zm-6 0zm9-1zm9-2zm-5-5zm-6-3zm14-6zm-3-41zm-5-1zm-3-2zm1-3zm7-2zm-18-4zm4-7zm0-3zm1-10zm4-5zm-6-4zm4-7zm12-6zm-11-2zm-1 0zm5-5zm-5-2zm4-5zm12-13zm-10-10zm6-3zm0-2zm2-4zm2-5zm-2-11zm9 45zm1 14zm8 3zm0 3zm-4 0zm-9 1zm3 2zm-1 3zm10 4zm-8 1zm2 2zm11 1zm-7 2zm-8 9zm-4 0zm7 5zm-4 6zm2 3zm1 4zm6 11zm-10 8zm7 10zm10 1zm-11 0zm5 6zm-13 2zm14 1zm-6 4zm9 1zm-13 2zm16 1zm-20 4zm9 0zm3 1zm-11 7zm5 1zm12 3zm-11 3zm-7 4zm5 2zm17 2zm-12 4zm-7 4zm-3 3zm4 2zm8 0zm7 4zm-12 2zm-6 0zm7 7zm8 5zm6 23zm-18 8zm10 7zm8 8zm-19 1zm9 1zm-3 4zm-2 4zm15 1zm-21 2zm1 6zm7 2zm6 8zm-13 0zm18 2zm3 3zm-7 3zm-6 4zm-8 0zm17 1zm-9 2zm4 0zm-14 5zm22 2zm-10 0zm10 2zm-14 2zm-6 5zm3 7zm-4 2zm8 1zm1 1zm-10 1zm17 4zm-11 1zm10 2zm2 0zm4 2zm-6 3zm7 0zm-2 1zm-21 1zm23 3zm-12 1zm1 1zm11 1zm-8 0zm-15 4zm21 2zm-10 3zm-11 0zm0 1zm11 2zm6 1zm-12 0zm14 4zm-18 1zm7 5zm11 0zm-6 1zm-12 10zm13 2zm0 0zm-7 2zm10 0zm-16 1zm10 5zm-2 1zm9 1zm-3 3zm-12 1zm12 1zm5 1zm-20 4zm13 6zm-12 1zm14 2zm-15 1zm23 3zm-3 3zm-1 2zm-10 6zm14 0zm-4 7zm-5 2zm-9 3zm11 1zm-2 5zm8 6zm-10 4zm4 0zm5 2zm-7 8zm-3 0zm0 2zm1 1zm-11 3zm22 2zm-18 3zm8 7zm-13 3zm20 5zm3 2zm-3 12zm-7 3zm-6 9zm33 14zm2-12zm-16-32zm12-7zm7 0zm-21-5zm10-1zm12-2zm-4-4zm-18-3zm23-9zm-12-2zm-11-2zm16-1zm-9-1zm12-1zm2-2zm2-2zm-14-2zm2 0zm11 0zm-21-1zm13-3zm7-7zm-14-1zm2-2zm5-1zm2-4zm-8 0zm5-3zm-3-1zm-6-1zm0-2zm-3-1zm8-1zm11-4zm-4-1zm-9-1zm9-1zm-8-2zm-7-2zm0-1zm2 0zm-2-1zm14 0zm-4-2zm11-2zm-19-1zm3-5zm-4-4zm19-2zm-16-1zm18-1zm-2-6zm-9-3zm9-8zm-4-1zm-15-5zm1-2zm1 0zm5-5zm-3-5zm-6-2zm19 0zm-10-2zm7-2zm-11 0zm7-2zm-8 0zm11 0zm-3-2zm3-3zm6 0zm-2-1zm1-2zm-14 0zm12-2zm-9-1zm-6-1zm-2 0zm9-2zm1-2zm2-2zm7 0zm-16-7zm10-2zm-4 0zm-3-1zm-3 0zm14-5zm-9-2zm-8-1zm14-1zm-14-4zm10 0zm-9-6zm14-7zm3-4zm-7-4zm-1-6zm11-2zm-5-5zm0 0zm4-1zm-15-2zm0-1zm16-1zm-15-3zm2-5zm8-2zm3 0zm-13-4zm14-2zm0-4zm-16-1zm9-2zm7-4zm-18 0zm-2-11zm18-6zm1-6zm2-3zm-19-1zm10-1zm5-1zm-12-4zm-6-2zm5-4zm-2-3zm9-2zm-10-3zm11-5zm-5-10zm8-2zm-3-6zm-5-3zm-2-8zm12 0zm-18-2zm17-14zm5-1zm-17-4zm7-1zm-7-1zm15-4zm-19-4zm12-15zm-2-3zm11-3zm-17-10zm4 0zm-5-5zm-4-5zm4-6zm4-2zm16 28zm4 14zm12 30zm-10 0zm13 11zm-9 0zm1 7zm9 4zm-7 5zm8 2zm0 1zm-16 9zm0 1zm2 0zm14 1zm-16 3zm17 1zm-2 2zm-5 1zm-11 1zm2 4zm-2 1zm12 1zm-6 9zm5 2zm-4 3zm-4 2zm5 4zm-6 4zm9 1zm5 5zm1 5zm-12 1zm12 2zm-20 1zm20 1zm0 0zm-10 0zm4 4zm6 2zm-16 3zm16 5zm-19 1zm0 3zm-2 1zm17 6zm-16 4zm8 0zm4 4zm5 6zm-7 1zm10 5zm0 8zm-21 6zm18 1zm-16 4zm6 5zm-7 1zm13 4zm-12 1zm18 2zm-9 7zm-5 2zm11 0zm2 1zm0 0zm-4 1zm-15 1zm8 2zm-3 1zm4 1zm8 0zm5 0zm-11 1zm3 5zm-2 3zm2 0zm4 1zm-6 1zm0 3zm10 3zm-18 2zm9 0zm7 2zm0 3zm-4 8zm3 3zm-10 3zm11 3zm-6 1zm0 1zm2 4zm-4 2zm6 1zm-16 0zm6 1zm11 1zm-3 8zm-10 1zm0 4zm-5 5zm0 1zm9 1zm-10 0zm4 6zm6 0zm-10 2zm11 1zm-2 0zm11 6zm-17 2zm17 2zm-4 5zm-7 2zm10 2zm-2 0zm-12 3zm2 1zm7 2zm1 7zm7 7zm-2 3zm-12 0zm8 2zm-2 11zm2 0zm-15 7zm20 2zm-13 1zm10 19zm-3 8zm-7 17zm10 27z" stroke="#1f77b4" stroke-opacity="0.8" stroke-width="7.2" stroke-linecap="round" fill="none"/>
<path d="M225 1909zm-6-22zm13-8zm-1-9zm-6-2zm10-2zm-3-8zm-9-17zm7-8zm5-12zm-15-4zm4-8zm6-2zm6-12zm-4-11zm0-2zm-2-9zm3-6zm1-1zm-12 0zm0-3zm15-4zm-5-5zm4-1zm-7-1zm-1-4zm-7-3zm2-6zm-3-6zm8-6zm3 0zm-6 0zm9-3zm-2 0zm-9-2zm-2 0zm7-1zm-6-5zm5 0zm-1-1zm6-5zm6-1zm-2-1zm-1-2zm-14 0zm0 0zm5-11zm6-4zm4 0zm-13-1zm-2-6zm3-5zm4-2zm-5-3zm-4 0zm0-3zm13-6zm-11-1zm0-1zm-1-2zm2-4zm7-3zm-4-4zm3-1zm-3-4zm0-8zm1 0zm7-2zm-12-1zm7-3zm-7-1zm3 0zm11-1zm-7-5zm-8-2zm6 0zm-1 0zm6-8zm8-1zm-3 0zm-2-2zm-14-1zm4 0zm2-1zm-7-11zm0-7zm20-3zm-19-3zm2-1zm2-7zm5-18zm-2-4zm0-2zm1-11zm3-10zm1-4zm0-2zm-1-11zm5-29zm-2 0zm3-7zm24-126zm-3 3zm2 4zm-3 2zm2 4zm-1 19zm-3 2zm-1 5zm3 3zm0 3zm3 0zm2 3zm-7 1zm8 7zm-9 1zm1 6zm-7 9zm-1 8zm-1 4zm3 5zm9 1zm-9 2zm11 5zm-18 2zm19 11zm-10 3zm-7 3zm8 0zm-8 2zm11 2zm-15 0zm12 2zm-3 2zm7 2zm-8 0zm-1 4zm-5 3zm-2 3zm1 10zm5 0zm17 3zm-21 23zm5 6zm-5 1zm8 31zm7 0zm5 16zm-16 3zm0 4zm6 3zm-9 0zm11 4zm2 6zm-8 1zm4 11zm-3 0zm-5 2zm19 9zm-3 35zm1 22zm-9 11zm11 5zm-14 31zm10 2zm-9 7zm8 7zm5 50zm-2 39zm-17 10zm18 59zm-5 16zm1 12zm2 0zm-11 86zm22-24zm2-1zm-1-12zm3-45zm3-46zm7-2zm-14-15zm1-1zm-8 0zm23 0zm-5-5zm-14 0zm-1-1zm18-3zm-19-18zm21-1zm-6-8zm-15-1zm6-3zm-3-11zm0-4zm14-3zm0-1zm-2-3zm-7 0zm7-2zm-7-4zm-6-2zm-2-2zm-1 0zm14-3zm-6-3zm-4-1zm2-2zm11-15zm-13-11zm3-1zm3-5zm-8-2zm11-3zm9-10zm-20 0zm20-2zm-18-1zm6 0zm5-1zm5-3zm-13-1zm-4-6zm14-2zm-8-1zm-8-2zm6-5zm-1-1zm-1-1zm-6-4zm21-1zm-19-3zm-1-2zm22-3zm-8-1zm-15 0zm8-1zm-2-1zm13-2zm-8-3zm-2-1zm-8-2zm8-1zm5-2zm3-4zm-13 0zm9-9zm10-5zm-8-7zm-8-4zm-7-1zm22-11zm-19-9zm18-8zm-11-1zm5-1zm-13-1zm17-4zm-8 0zm5-32zm-11-4zm15-1zm-16-2zm15 0zm-11-3zm14-1zm-11-4zm-5 0zm10 0zm-1-3zm1-13zm6-3zm-12-4zm6-12zm5-4zm-14-6zm4-3zm-8-1zm2-4zm17-7zm-4-1zm-14-6zm19-1zm-20-5zm17-2zm0-1zm-18-4zm6-1zm5 0zm-11-4zm2-1zm-3-4zm2-2zm16-1zm3-3zm-8-2zm9-5zm-13-3zm5-2zm4-4zm-7-13zm2-10zm-9-3zm-4-21zm27 57zm-1 1zm6 2zm-3 3zm5 3zm-10 5zm0 2zm1 5zm-1 2zm17 12zm-10 1zm-7 1zm11 1zm-3 2zm-7 0zm14 2zm0 0zm-13 1zm12 1zm-9 1zm14 1zm2 6zm-12 3zm11 5zm-4 1zm-2 2zm5 1zm-19 1zm8 3zm1 2zm4 0zm1 4zm2 3zm-2 2zm-10 0zm9 4zm2 1zm5 3zm2 3zm-10 0zm-2 5zm4 2zm-13 2zm9 1zm11 0zm0 1zm1 2zm-19 1zm13 1zm-16 0zm12 1zm2 3zm-6 3zm-1 1zm-1 1zm12 1zm-4 2zm5 3zm-14 4zm15 1zm-8 1zm-1 1zm5 5zm5 1zm-13 1zm-1 0zm8 2zm-1 1zm6 2zm-12 5zm10 2zm-3 6zm-1 9zm-7 4zm10 6zm-6 2zm11 3zm-1 1zm-6 3zm4 0zm0 6zm-16 3zm2 1zm-1 7zm0 1zm2 0zm12 1zm-9 6zm-10 3zm6 1zm4 1zm-2 2zm11 4zm-12 1zm-4 2zm-3 6zm4 2zm-2 1zm2 2zm8 2zm3 1zm4 2zm0 2zm-8 1zm-1 8zm-3 0zm5 7zm2 2zm5 2zm-14 3zm6 0zm-3 1zm-7 2zm15 2zm0 3zm7 1zm-8 2zm-3 0zm-12 1zm20 0zm-16 3zm7 4zm2 5zm-5 5zm-8 5zm15 1zm-4 2zm0 13zm0 4zm-2 1zm-4 7zm15 5zm-16 1zm17 0zm-21 16zm6 0zm6 2zm1 0zm7 2zm-7 7zm-10 0zm10 2zm-13 4zm18 7zm-2 15zm-13 0zm6 4zm-4 3zm17 10zm-7 1zm-13 0zm21 9zm-8 19zm-1 2zm-3 18zm0 1zm-8 8zm4 1zm3 0zm-10 1zm4 29zm0 1zm6 19zm32-28zm-13-16zm-1-11zm17-16zm-14 0zm7-15zm-1-4zm1-8zm1-10zm3-2zm0-5zm-10-1zm-3-5zm12-2zm-14-3zm14-4zm-10-3zm13-4zm-16-6zm12-1zm-6-8zm11-3zm-16-5zm12-7zm-10-3zm8-2zm-11-2zm3-2zm13 0zm-18-6zm14-1zm-9 0zm9-3zm0-1zm-9-1zm3-3zm9 0zm-13-6zm9-5zm-3-1zm11-6zm-2-4zm-14-3zm1-1zm-1-1zm9-3zm4 0zm-7-2zm6-2zm-5-1zm-4-5zm10-2zm-15-1zm7-1zm-11 0zm13-2zm1-1zm-3-8zm6-2zm1-3zm-8-1zm-1-4zm6-1zm-2-2zm-7-2zm15-15zm-15-1zm-7-7zm3 0zm1 0zm17-2zm-12-3zm6-2zm0-1zm-14-3zm17-1zm-4-24zm-5 0zm-7-2zm0 0zm10-5zm-9-2zm7-6zm-8-1zm-1-1zm9-1zm-5-3zm-1-6zm4-3zm-7-18zm15-1zm1-2zm6-1zm-17-7zm2-1zm-5-6zm1 0zm2-8zm9-3zm-10-1zm18-2zm-5-1zm-6-1zm-1-1zm-8-3zm9-1zm8-1zm-2-4zm-8-1zm10-5zm0 0zm-10-2zm1-3zm-3 0zm-2-1zm2-4zm15 0zm-20-1zm-1-15zm-2-15zm1-9zm46-66zm-2 4zm-4 3zm4 4zm-1 8zm1 4zm-2 7zm-4 8zm0 2zm2 12zm-4 16zm-6 15zm0 13zm-3 3zm5 8zm-6 2zm2 0zm2 6zm-2 16zm17 20zm-15 2zm15 7zm-18 0zm0 10zm6 1zm-3 2zm16 5zm-10 7zm-6 4zm0 5zm10 3zm-3 6zm-2 3zm0 10zm-2 2zm-3 1zm4 21zm-7 1zm4 0zm-4 12zm1 3zm0 2zm1 2zm-5 2zm3 4zm-4 2zm2 6zm4 2zm-6 5zm9 4zm-5 5zm5 2zm-4 3zm-1 5zm-4 0zm13 1zm-11 4zm2 3zm8 0zm-1 28zm-1 3zm0 6zm0 9zm2 0zm-8 4zm-3 3zm9 2zm2 9zm-4 10zm3 4zm1 1zm-2 2zm-7 1zm9 5zm-4 3zm-6 14zm21 5zm-20 3zm11 4zm-9 15zm5 10zm-1 11zm3 1zm-3 21zm-7 2zm9 31zm20 62zm11-107zm1-59zm-4-8zm8-1zm-10 0zm4-12zm-16-10zm18-2zm-5-2zm5-9zm0-5zm1-5zm-1-2zm2-6zm-2-2zm-2-15zm5-8zm-3-19zm3-13zm-5 0zm-13-9zm19-12zm-1-2zm-12 0zm6-4zm4-6zm-15-6zm2-2zm9-1zm2-3zm4-7zm-15-6zm10-10zm-6-1zm3-5zm0 0zm6-10zm-3-11zm6-5zm-2-5zm-3-1zm-1 0zm-2-16zm0-1zm-13 0zm5-3zm-4-12zm6-1zm11-7zm3-5zm-15-3zm8-1zm-12-4zm1 0zm8-4zm-8-13zm-5-10zm22-1zm-14-1zm10-7zm-11-1zm7-19zm-14-33zm23-6zm0-5zm0 0zm-21 0zm8 0zm4-3zm-5-1zm12-20zm-21-11zm0-10zm1-1zm17-3zm3-6zm-18-6zm20-3zm-5-11zm-14-2zm10-4zm0-12zm0-6zm1-3zm-5 0zm-1-1zm4-3zm-4-1zm5-10zm-1-12zm18 86zm4 2zm-8 5zm0 3zm5 5zm1 1zm-9 3zm12 11zm-6 1zm9 4zm-7 0zm11 1zm-18 3zm16 6zm-11 1zm9 0zm3 2zm-12 0zm17 6zm-13 1zm-1 6zm2 1zm7 3zm5 1zm-21 1zm18 5zm-13 4zm13 1zm3 2zm-8 1zm7 1zm1 3zm-7 1zm-4 0zm3 5zm-10 3zm8 4zm3 1zm-6 3zm-6 1zm6 2zm9 0zm-13 5zm7 2zm-5 3zm6 4zm-5 2zm7 2zm-1 3zm-8 0zm9 4zm0 1zm2 3zm-2 1zm0 5zm-7 0zm3 1zm-2 4zm0 1zm0 2zm1 3zm-10 5zm16 1zm2 2zm-5 0zm-8 1zm14 2zm-1 1zm0 2zm-16 0zm20 6zm-4 1zm-6 2zm8 4zm2 0zm-21 3zm7 0zm7 1zm-10 2zm16 3zm-2 0zm-6 3zm7 12zm-12 7zm-5 14zm14 4zm-3 6zm-5 3zm4 12zm-11 2zm20 1zm-2 6zm-10 2zm5 3zm-11 2zm17 1zm-17 5zm12 3zm-3 0zm3 4zm-5 1zm-10 0zm15 3zm-7 5zm2 1zm9 1zm-6 3zm8 4zm-5 1zm-16 2zm4 2zm3 2zm-5 5zm-3 7zm10 1zm5 1zm-10 2zm4 3zm-3 7zm-5 3zm19 1zm-14 1zm6 0zm0 2zm0 9zm4 7zm-16 2zm2 11zm6 1zm-3 2zm13 6zm-16 19zm14 6zm-2 5zm5 0zm0 2zm-15 0zm14 7zm-10 0zm-7 9zm-2 0zm14 11zm-5 6zm4 3zm0 6zm-9 1zm10 4zm9 33zm-2 1zm-6 23zm-6 18zm-2 28zm30-55zm-10-13zm-3-6zm9-11zm14-9zm-19-6zm18-5zm-19-15zm15-2zm-9-5zm13-5zm-3-4zm-6-2zm8-5zm-2-7zm-13-4zm7-6zm6-4zm-19-1zm6-2zm10-4zm-11-8zm18-1zm-14-7zm-6-5zm17 0zm-6-1zm4-4zm3-10zm-1-1zm0-5zm-10-3zm11-1zm0 0zm-2 0zm-5-2zm-8-1zm-4-4zm21-2zm-17-3zm9-10zm-3 0zm-3 0zm-7-4zm10-3zm-2 0zm5-1zm-12-1zm9-1zm-10-5zm19 0zm-11-2zm0-1zm-7-2zm4-3zm6-1zm-9-2zm-3 0zm1-7zm2-1zm2-2zm-2-4zm-3-2zm15-1zm-16-5zm2-1zm20 0zm-17-3zm-1-3zm17-9zm-6-2zm-1 0zm9-4zm-6-3zm4-6zm-6-2zm6-3zm2-9zm0-2zm-2-1zm2-4zm-10-4zm10-3zm-13-5zm-2-3zm-2-7zm-4-2zm1-4zm6-2zm-1-6zm7-1zm-11-6zm0-1zm6-3zm2 0zm-11-4zm7-1zm13-1zm-14-3zm3-4zm7 0zm5-4zm-22-3zm11-3zm8 0zm-5-2zm-1-1zm2-2zm-10-1zm-5 0zm15-3zm-14-1zm17-3zm-16-2zm19-1zm-5 0zm6-4zm-15-5zm-1-1zm3 0zm12-1zm-1-1zm-20-1zm10-2zm10-1zm-15-2zm12-2zm2-2zm-6-2zm-5-4zm11 0zm2-4zm-10-3zm-2 0zm-4-6zm8-7zm-9 0zm5-2zm5 0zm-10-3zm6-2zm-6-2zm-2-4zm-1-8zm6-6zm-2-3zm-2-2zm-2-3zm0 0zm0-6zm-1-3zm1-4zm1-1zm38 93zm-15 3zm1 4zm14 0zm-2 3zm-14 1zm12 1zm-6 2zm13 1zm-7 0zm-4 6zm12 0zm-4 2zm-9 7zm10 4zm-9 2zm-2 4zm0 2zm3 5zm-8 6zm11 9zm-4 1zm-7 2zm1 2zm3 22zm6 0zm-9 2zm2 1zm19 1zm-11 3zm-4 2zm-2 2zm-1 1zm-5 6zm0 1zm21 2zm-14 2zm15 1zm-21 1zm0 0zm20 1zm-3 9zm-3 13zm4 11zm-3 2zm0 0zm-4 4zm-7 2zm7 4zm9 1zm-18 1zm17 2zm-10 2zm7 2zm1 2zm-8 3zm12 0zm1 5zm-11 2zm5 1zm4 3zm-5 3zm-7 5zm10 1zm-13 0zm4 1zm5 4zm-5 3zm-2 1zm-3 4zm10 0zm-10 4zm17 1zm-17 4zm4 5zm2 7zm-11 3zm19 1zm-12 0zm12 6zm-9 0zm1 1zm-5 1zm16 4zm-15 3zm-6 4zm9 1zm2 11zm4 2zm-16 5zm17 8zm-15 4zm16 1zm-13 1zm17 0zm-7 7zm-1 13zm-13 5zm4 16zm-3 3zm9 9zm4 19zm8 3zm-18 4zm2 13zm16 7zm-17 1zm17 26zm-21 54zm30-46zm-5-32zm-3-50zm18-14zm-11-21zm-7-11zm5-1zm0-11zm8-20zm-12-7zm1-5zm-1-6zm0-3zm7-13zm-3-11zm-2-5zm-2-7zm7-5zm-1-5zm-7-9zm3-3zm2-2zm-5-7zm1-1zm1-5zm9-9zm-9-12zm11-32zm-5-7zm-1-1zm3-1zm-9-4zm0-1zm9-5zm-7-5zm5-6zm-4-1zm-2 0zm7-6zm-9-7zm10-7zm-1 0zm-1 0zm-4-45zm-2-3zm21-1zm-5-4zm0-1zm-1-8zm-17-2zm0-13zm0-6zm9 0zm-8-2zm3-8zm-1-12zm7-5zm-3-3zm2-5zm7-2zm-5-3zm2-1zm6-1zm-13-1zm7-6zm-4-8zm0 0zm5 0zm-4-5zm7-8zm3-4zm-3-2zm6-4zm0-8zm-8-6zm2-3zm4-2zm-4-4zm3-25zm-1-5zm1-1zm2-13zm0-12zm8-19zm2 7zm-7 3zm6 3zm-1 8zm6 0zm0 4zm-12 0zm5 4zm-3 0zm9 1zm1 3zm-8 0zm14 1zm-8 2zm-6 1zm0 1zm0 1zm7 2zm7 7zm1 10zm0 5zm-19 4zm7 2zm10 3zm5 2zm-20 1zm3 1zm-4 1zm15 3zm-16 1zm2 2zm11 2zm9 3zm-4 19zm-17 4zm12 3zm5 3zm4 29zm-11 16zm-4 7zm14 1zm-13 0zm5 2zm10 2zm-5 5zm5 4zm-3 4zm-2 1zm-16 5zm20 1zm0 1zm-17 3zm-1 2zm5 4zm11 14zm-8 2zm-2 2zm8 2zm-5 5zm4 1zm6 1zm-9 2zm8 15zm-2 3zm-10 13zm0 2zm9 1zm-3 3zm5 5zm-9 7zm-4 5zm6 5zm-3 1zm-1 0zm8 2zm-9 4zm8 3zm-4 1zm3 4zm-5 0zm0 9zm2 1zm0 2zm5 2zm-1 1zm6 3zm-6 2zm-3 16zm1 7zm-5 2zm7 3zm0 1zm-1 0zm2 5zm-7 1zm0 3zm7 0zm-7 2zm1 1zm7 3zm-2 1zm3 1zm0 8zm-2 5zm-8 0zm8 3zm2 3zm-9 9zm12 1zm-9 3zm3 5zm4 5zm-6 4zm7 1zm-14 4zm3 7zm0 9zm-11 2zm11 4zm6 4zm-8 7zm2 0zm-1 14zm10 1zm-10 5zm2 19zm0 2zm5 1zm-6 9zm8 8zm-17 11zm14 1zm1 6zm5 7zm0 2zm-3 22zm-4 4zm7 4zm-4 3zm-7 34zm-3 16zm24-37zm-5-12zm12-17zm5-7zm0-8zm2-2zm-5-7zm-13-7zm0-4zm9-10zm-5 0zm3-5zm4 0zm8 0zm0-1zm-17-2zm10-7zm-1-7zm-1 0zm-7-12zm-2-16zm18-1zm-20-1zm15-6zm-18-5zm2 0zm0-6zm3-1zm3-2zm8-4zm7-3zm-3-3zm-13 0zm-5-2zm21-4zm-16-4zm-7-4zm9-1zm8-5zm-13-3zm16-8zm-14-3zm12-2zm-17-2zm4-2zm12-1zm-17-3zm6-2zm-5 0zm19-1zm-10-1zm-1-3zm13-1zm-2 0zm-14-1zm-5-1zm-1-2zm10 0zm6-5zm2-1zm-11-3zm10-1zm3 0zm-18-5zm21-3zm-3-1zm-9 0zm0-3zm10 0zm-19-1zm11-6zm-6-1zm4-4zm3-2zm5 0zm2-1zm-9-11zm7-2zm-11 0zm-6-15zm0-4zm10-3zm10-4zm-10-2zm9-3zm-16 0zm4-1zm5-4zm-7-2zm11 0zm0-1zm4-1zm-1-3zm-21-14zm18 0zm-4-1zm6-3zm-17-9zm15-2zm-11-5zm16-4zm-15-5zm10-3zm-5-2zm-7-1zm5-2zm-7-5zm6-1zm-10-3zm3 0zm16 0zm-6-1zm6-4zm-17-1zm19-1zm-4-4zm-8-1zm7 0zm-14-2zm14-2zm3 0zm-6-1zm7-4zm-17 0zm18-1zm-12-2zm0-1zm9-3zm-18-1zm5-1zm4-1zm11 0zm-16-3zm1-4zm17-3zm-15-1zm2 0zm4-4zm6 0zm-9-4zm-5-1zm-3 0zm12 0zm9-1zm-1-1zm0-12zm-11-6zm-6-5zm3-1zm3-15zm2-1zm-13-2zm18-1zm-5-4zm10-5zm-10-5zm7-1zm-2-3zm-8-5zm-6-8zm11-4zm-2-5zm-1-2zm1-1zm-8-1zm-2-8zm-2-7zm29 67zm1 7zm-1 4zm-4 7zm6 3zm-7 1zm6 2zm3 4zm-1 9zm4 3zm-2 4zm-5 1zm10 2zm-11 4zm3 0zm-4 2zm15 2zm1 3zm1 5zm-14 1zm13 1zm-6 1zm6 1zm-19 2zm0 0zm4 1zm17 1zm-17 7zm4 4zm2 3zm-10 3zm0 1zm1 2zm7 1zm5 3zm-11 3zm3 12zm4 0zm2 2zm3 5zm-9 2zm16 1zm-6 1zm4 2zm-18 0zm-2 1zm6 1zm12 2zm-3 1zm-8 1zm-5 2zm6 0zm-8 1zm19 0zm-11 6zm1 2zm10 0zm-19 2zm18 0zm-17 3zm21 1zm-18 0zm11 2zm-1 1zm8 2zm-7 8zm-11 2zm19 2zm-7 9zm-10 0zm10 1zm-15 2zm14 4zm-2 1zm-10 1zm4 0zm5 1zm-4 0zm-6 3zm12 3zm-13 3zm4 0zm-5 7zm2 11zm-1 13zm10 1zm8 1zm3 2zm-1 1zm-6 3zm-7 1zm8 3zm-5 1zm-11 1zm11 1zm-4 3zm8 3zm-7 2zm-3 1zm17 1zm-14 1zm7 1zm-8 0zm9 1zm-16 1zm21 1zm-19 0zm17 5zm-2 5zm0 0zm-2 1zm0 2zm-4 3zm10 0zm-5 8zm2 3zm-12 0zm-2 3zm3 1zm9 6zm0 14zm-6 7zm10 3zm-9 1zm6 4zm-5 5zm9 3zm-11 2zm-7 1zm8 0zm8 11zm-7 2zm8 2zm-11 1zm-1 2zm-3 10zm18 0zm-13 3zm10 5zm-1 3zm-15 4zm-2 8zm15 2zm-11 1zm-1 1zm2 9zm9 8zm-1 4zm8 8zm-19 5zm12 16zm1 45zm30 30zm-11-21zm4-26zm-6-12zm-5-2zm-2-11zm11-3zm7-7zm-20-24zm2-16zm16-4zm2-8zm-21 0zm11-4zm7-8zm2 0zm1-5zm-16-1zm5-2zm10-2zm-7-2zm4-5zm2-1zm-5-2zm-12-2zm19-6zm-10-1zm-11-1zm18-5zm4-2zm-12-12zm-10-3zm15-3zm3-1zm-3 0zm-9-2zm0-6zm15-2zm-9-3zm7-2zm-19-3zm1-3zm-1-2zm5-5zm3-1zm-6 0zm20 0zm-7-3zm-15 0zm4-3zm12-1zm-1-3zm8-1zm-12-4zm5-2zm-2-4zm-11-1zm5-3zm8-2zm7 0zm-12-9zm5-1zm1-1zm-5-4zm-2-3zm-10-1zm4-1zm-2 0zm-2-6zm19-2zm-16-2zm11-2zm-5 0zm5-4zm6 0zm-16-1zm5-1zm-1 0zm14-4zm-1-1zm-2-1zm3-9zm-12-1zm-4-6zm13-6zm3-1zm1-9zm-3 0zm-1-7zm-10-5zm2-7zm-6-1zm0-3zm18-4zm-21-3zm1-1zm20-1zm-18-1zm0-6zm5 0zm-1-1zm-8-1zm7-3zm-8 0zm14-2zm5-1zm-19-2zm5-4zm-4-2zm4 0zm-1-2zm2-1zm6-16zm5-4zm-2-3zm6-3zm-11-7zm-10-7zm3 0zm10 0zm-6-4zm15 0zm-8 0zm-14-2zm21-10zm-5-4zm3-9zm-2-4zm1-6zm4-9zm23-108zm2 0zm-2 8zm-2 6zm-7 8zm5 3zm4 20zm-11 3zm-5 10zm15 8zm-15 13zm-2 11zm14 4zm-14 2zm-1 6zm14 30zm3 4zm-10 2zm0 2zm-9 0zm8 1zm8 2zm-12 5zm7 0zm-7 56zm14 1zm-1 1zm-17 79zm6 14zm-4 43zm14 22zm-14 99zm14 39zm-7 11zm38 38zm-17-13zm11-37zm-8-14zm-5-9zm17-6zm-20-9zm16-3zm-8-4zm2-1zm6-1zm1-2zm-2-1zm-6-1zm-10-4zm13-11zm3-6zm-8-9zm3-24zm-5-2zm3-5zm-5-7zm3-7zm2-7zm3-1zm-3 0zm5-3zm6-6zm-11-3zm12-2zm-14-1zm5-1zm-6-4zm16 0zm-14-2zm9-3zm-9-10zm6-2zm6 0zm-3-1zm-13 0zm-3-3zm6 0zm15-3zm-6-1zm-14-8zm6-1zm6-4zm1-4zm-14-1zm21 0zm-4-4zm-14-1zm15-4zm-4-3zm-11 0zm2-3zm15-2zm-11-1zm0 0zm-6-8zm0 0zm5-4zm11-5zm-9-7zm5-3zm-14-4zm17-4zm-14 0zm-3-1zm11-2zm-11-4zm9-2zm-3-4zm0-5zm-4-10zm2-10zm4-1zm-9-2zm15-2zm-3-1zm-11-3zm18-5zm-14-3zm17-18zm-13-3zm-8-1zm20 0zm0 0zm1-5zm-13 0zm-3-1zm14-3zm-1-6zm-15-9zm9 0zm8-1zm-11-2zm5-2zm4-8zm-18-3zm8-5zm-4-1zm6-4zm-9-2zm19 0zm-8-2zm-2-2zm10-1zm-3-8zm3-3zm-7-3zm0-4zm6-2zm-1-1zm-2-6zm-3-4zm-3-8zm8-1zm-5-1zm-13-3zm9-3zm-8-2zm15-1zm-7-2zm12-1zm-5-8zm2-6zm-13 0zm4-5zm10-1zm-11-3zm-10-11zm9-6zm-9-1zm9-10zm-9-9zm3-2zm-3-2zm6-4zm33 73zm-1 3zm-10 2zm10 1zm-8 0zm-3 1zm2 1zm-4 0zm7 8zm-8 0zm4 5zm15 3zm-10 3zm-1 0zm8 2zm2 6zm4 2zm-12 3zm-5 1zm16 1zm-2 1zm-6 2zm-3 2zm6 1zm0 2zm-3 3zm8 8zm-9 3zm-10 1zm-1 2zm0 3zm21 3zm-5 1zm-6 1zm-2 2zm0 5zm-1 2zm-3 0zm12 1zm-5 1zm9 4zm-5 0zm-16 1zm7 4zm1 15zm4 4zm10 3zm-18 1zm9 3zm6 1zm-14 1zm9 6zm-7 2zm-3 1zm0 13zm-1 4zm0 2zm19 30zm-6 3zm-16 5zm1 10zm8 2zm-3 3zm-5 6zm12 0zm-4 1zm10 3zm-11 1zm-5 1zm10 1zm1 3zm9 1zm-14 3zm-6 2zm6 2zm-3 3zm0 2zm15 2zm-7 7zm8 4zm-5 3zm-12 2zm1 0zm-1 3zm15 6zm-2 1zm-10 1zm12 2zm-3 1zm-12 12zm-2 2zm-3 3zm12 4zm-7 3zm6 3zm10 2zm-12 2zm-8 0zm12 5zm-8 4zm12 2zm-4 0zm-3 3zm2 2zm-9 1zm17 3zm-18 1zm21 4zm0 17zm-5 1zm-18 0zm20 3zm-7 5zm1 2zm-9 2zm10 0zm-4 14zm-4 3zm10 5zm-1 0zm5 12zm1 4zm-7 1zm3 3zm-4 1zm4 14zm0 23zm-12 7zm13 2zm2 14zm1 48zm12-20zm-9-24zm5-5zm1-4zm10-25zm-3-1zm0-9zm8-5zm1-5zm-1-6zm-22-12zm11-3zm11-3zm-22-4zm4-3zm1-4zm7-6zm2-1zm-8 0zm14-9zm-17-1zm-3-2zm16 0zm-15-4zm3-1zm12 0zm-11-1zm5-8zm2-4zm9-1zm-4 0zm6-1zm-18-4zm9-3zm4-3zm-11-1zm-7-9zm1-16zm22-1zm-4-11zm1-8zm-16-4zm4-1zm13-2zm-19-3zm4-1zm17-8zm-10-2zm8-16zm2-7zm-7-7zm1-1zm-5-3zm3 0zm-8-3zm11-1zm-7-4zm7-1zm-9-6zm-7-10zm9-2zm-2 0zm-5-4zm7-1zm7 0zm-9-3zm3-2zm-2-4zm12-24zm-7-7zm-5-4zm4-2zm5-4zm-5-2zm-3-4zm10-3zm-11-1zm-9-2zm22-1zm-3-2zm-4-5zm-12-2zm6 0zm6-1zm1-4zm-12-7zm-5-2zm11-2zm-10-4zm14-3zm-12-1zm3 0zm13-1zm-12-3zm3-2zm-9-6zm7-1zm-8-6zm12-1zm-8-6zm4-1zm-4-2zm7-1zm-9-16zm2 0zm40-40zm0 4zm-1 16zm-6 22zm4 4zm2 5zm-4 4zm-2 7zm1 6zm-6 10zm-1 1zm-5 3zm1 2zm1 1zm5 4zm-6 2zm19 3zm-8 1zm-3 2zm-5 1zm17 0zm-22 0zm21 3zm-22 12zm10 15zm-8 2zm0 3zm4 4zm8 11zm-11 3zm8 5zm-10 0zm11 0zm-2 9zm-5 2zm3 6zm1 2zm1 2zm10 1zm-18 2zm2 16zm-3 4zm15 1zm-2 4zm-9 0zm10 2zm-9 1zm9 2zm-12 1zm7 0zm-2 1zm1 5zm5 3zm-11 3zm14 4zm-4 1zm3 10zm-8 4zm6 4zm-2 3zm6 1zm-8 1zm7 7zm-12 0zm6 0zm-10 1zm16 13zm-1 3zm-11 1zm7 5zm3 8zm-7 1zm10 0zm-2 2zm0 4zm-8 2zm9 15zm-3 1zm7 7zm-15 4zm-3 1zm9 1zm2 3zm0 2zm2 4zm-6 1zm-5 7zm14 27zm-2 15zm-3 11zm-7 1zm6 27zm5 3zm-8 0zm3 16zm1 1zm-6 5zm3 8zm2 47zm1 18zm8 14zm25-6zm-12-58zm9-61zm1-30zm-1-10zm3-13zm0-6zm0-8zm-1-21zm0-11zm-17-23zm-1-10zm19-7zm0-16zm-1-7zm-2-20zm2-4zm-1-33zm2-9zm-2-3zm1 0zm1-2zm0-17zm0-6zm-2-12zm-12-8zm10-1zm-2-1zm-7-2zm-7-23zm0-4zm18-26zm0-2zm-6-5zm5-8zm-5-4zm-7-1zm15-3zm-3-1zm-13 0zm8-3zm-11-17zm9 0zm-6-5zm-1 0zm3-2zm-5-4zm-4-32zm3-6zm3-5zm8-4zm-13-9zm2-4zm9-12zm1-1zm-9-5zm19-1zm-7-3zm4-4zm-15-1zm5-2zm-2 0zm14-3zm-13-13zm8-14zm-4-1zm1-5zm3-14zm0-3zm1-10zm10 57zm-4 19zm1 5zm3 8zm-1 7zm8 5zm0 7zm4 4zm7 4zm-18 4zm12 3zm-8 3zm14 1zm-12 11zm12 2zm-4 1zm-1 4zm-11 3zm12 7zm-2 1zm-2 4zm3 3zm3 8zm-6 0zm9 2zm-4 0zm-12 2zm0 1zm-2 0zm8 1zm7 8zm-18 4zm12 2zm-6 1zm8 0zm6 0zm-17 0zm8 1zm-12 1zm-1 6zm12 0zm1 2zm-11 5zm6 1zm-4 7zm8 1zm9 4zm-5 4zm-8 1zm15 1zm-3 2zm-9 4zm-6 0zm6 1zm7 2zm-7 6zm9 2zm-9 1zm6 10zm-4 8zm-13 7zm17 1zm-7 1zm-7 0zm4 7zm-1 2zm1 4zm12 4zm-11 0zm-1 3zm-6 1zm3 5zm18 2zm-14 0zm11 1zm-19 1zm15 1zm-10 5zm10 0zm4 5zm-14 1zm14 7zm-15 1zm3 0zm-4 0zm2 5zm-3 1zm9 5zm7 1zm1 7zm-7 5zm4 1zm3 3zm-15 4zm14 0zm0 3zm-1 5zm-1 3zm-14 1zm6 0zm-6 3zm14 1zm3 2zm-8 1zm12 3zm-6 2zm1 1zm-17 1zm6 0zm-5 1zm9 5zm5 1zm-5 3zm-10 2zm20 3zm-15 2zm-5 3zm9 3zm12 0zm-10 8zm-10 0zm1 2zm16 1zm-8 0zm8 1zm-18 7zm16 6zm5 3zm-18 11zm8 11zm6 2zm-4 5zm0 3zm-3 2zm-5 3zm9 0zm-11 1zm0 2zm10 7zm-2 2zm11 5zm0 2zm-8 0zm-15 36zm14 3zm-6 0zm-6 1zm17 1zm-12 2zm13 2zm-18 10zm-1 1zm16 21zm0 5zm-9 24zm14 16zm9-12zm1-14zm-3-10zm16-20zm-7-17zm2 0zm-4 0zm3-6zm4-11zm2-3zm-15-1zm7-9zm9-18zm-7-1zm-1-15zm-8-3zm17-7zm-20-9zm1-2zm14-2zm-14 0zm1-1zm13-2zm-7-2zm5-6zm-1-2zm-5-2zm-6-14zm19 0zm-13-2zm6-2zm4-12zm3-6zm-7-3zm2-1zm-9-7zm13-1zm-5-2zm-13-3zm-1-1zm4-2zm13-3zm-6-1zm-11-2zm16 0zm-8-1zm1-1zm-11-2zm20-2zm-20-5zm20 0zm-10 0zm3-5zm0-2zm6 0zm-13-6zm0 0zm1-3zm10-3zm-13-1zm-3 0zm2 0zm-4-16zm15 0zm-14-5zm7-2zm6-2zm8 0zm-22-3zm19-2zm-3-6zm4-1zm-2-1zm-4-7zm4 0zm-8-1zm-10-4zm2-1zm8-5zm4-7zm5-2zm-19 0zm12-3zm-1-3zm-11-1zm21-1zm-5-2zm1-3zm-3-2zm4-6zm2-5zm-7-1zm-9-1zm2-2zm6-1zm-2-5zm7-3zm-17 0zm5-2zm-3-4zm18 0zm-7-6zm-6-1zm0 0zm9-2zm-10-3zm12-1zm1-1zm-17-1zm2-4zm13-5zm5-2zm-2-2zm-8-7zm7-1zm-16-4zm19-1zm-13-2zm2-1zm-2-3zm-9-1zm18-1zm-5 0zm-7-7zm7-1zm-8-3zm15-1zm-11-4zm2-1zm-7-1zm-3 0zm15-2zm-6 0zm4-3zm-9-1zm-5-6zm5 0zm-4-2zm16-2zm-17-2zm15-3zm-10-1zm1-11zm-1-6zm0-7zm19 77zm8 16zm0 1zm-5 6zm16 4zm-8 2zm-11 5zm15 12zm-11 0zm-4 3zm14 11zm7 1zm-18 5zm-3 9zm6 1zm-1 2zm15 5zm-14 8zm14 2zm3 2zm-20 10zm20 2zm-22 5zm5 3zm-5 2zm7 6zm13 20zm-1 2zm-2 3zm3 3zm-15 1zm5 8zm-9 2zm3 2zm-5 2zm20 1zm-19 3zm18 2zm2 3zm-13 3zm13 4zm-2 2zm-19 2zm22 4zm-7 2zm-15 14zm14 1zm-1 2zm-7 1zm-6 4zm5 5zm13 4zm-7 18zm-8 5zm14 4zm-13 1zm18 9zm-21 2zm18 2zm-5 2zm-13 1zm4 5zm10 0zm1 3zm-7 1zm7 6zm-11 2zm4 4zm13 2zm-7 4zm-12 1zm14 3zm-14 2zm19 21zm-17 2zm9 9zm1 10zm-12 14zm8 11zm11 24zm-16 8zm11 5zm1 52zm14-34zm4-47zm7-18zm-15-6zm16-13zm-16-3zm-4 0zm10-11zm-5-6zm6-5zm-1-4zm-7-16zm6-6zm0-3zm-9-2zm12-3zm-8-4zm10-4zm-6-1zm-2-15zm0-1zm-5-2zm0-16zm8-1zm-3-1zm3-2zm-6-1zm3 0zm-3-4zm-1-17zm2-16zm0-1zm8-17zm-10-9zm4 0zm5-4zm-9 0zm-1-4zm11-3zm-8-3zm9-3zm-9-1zm6-6zm-4-3zm4-2zm-3-14zm2-2zm2-10zm-8-3zm4-2zm-1-10zm-3-2zm2-7zm7-4zm-3-1zm-9-1zm22-2zm-13-1zm3-2zm4-1zm3-1zm-4-1zm8-3zm-5-2zm-9 0zm13-3zm-4 0zm-15-2zm16-2zm-5 0zm-3-2zm2-2zm-4-1zm6-3zm-3-2zm7-29zm-16-9zm-3-3zm3-15zm1-12zm7-2zm-3-14zm8-11zm-5-9zm9-6zm-5-3zm0 0zm7-20zm0-6zm0-5zm1-4zm13-76zm1 9zm-3 1zm-1 5zm5 2zm-5 2zm5 0zm-3 4zm2 9zm4 3zm-11 3zm-1 2zm8 1zm-3 1zm-3 3zm11 2zm3 4zm-14 4zm10 0zm-16 2zm19 3zm3 9zm-7 9zm-6 5zm10 17zm-1 3zm-10 10zm11 4zm-9 0zm3 8zm8 5zm-1 1zm-8 9zm-5 7zm1 0zm3 2zm-5 9zm15 2zm-4 4zm4 2zm-7 3zm-8 1zm8 3zm-8 2zm9 3zm-5 1zm-4 0zm15 1zm0 7zm-8 21zm-7 4zm2 2zm-5 1zm-2 1zm17 2zm2 24zm-9 3zm1 1zm-6 0zm10 6zm3 7zm0 9zm-11 0zm8 3zm-1 1zm7 0zm-5 5zm-10 2zm13 3zm2 5zm-9 6zm-4 16zm11 12zm0 1zm-2 1zm1 5zm-13 7zm15 1zm-2 6zm-6 6zm8 1zm-5 3zm6 7zm-4 6zm-7 1zm5 2zm-2 15zm8 0zm-5 6zm1 6zm-2 0zm-17 10zm15 20zm-6 5zm-2 9zm5 0zm-12 9zm20 0zm0 2zm0 1zm-5 48zm-9 2zm6 2zm-10 17zm1 2zm13 8zm7 17zm-9 1zm-4 80zm26-25zm4-41zm-7-19zm-6-7zm5-8zm14-2zm-19-7zm19-3zm-10-3zm-5-9zm6-3zm-9-1zm18-2zm-18-4zm3 0zm6 0zm10-2zm-18-3zm0-1zm7-7zm5-1zm-11-5zm-2 0zm6-4zm-7 0zm-1-1zm11-15zm-5-4zm9-30zm2-2zm-9-3zm8-2zm-10-7zm-6-5zm17-1zm-12-3zm16-2zm-5-2zm-11 0zm13-2zm-20-4zm11-5zm6-6zm-12-1zm-4 0zm0 0zm21-1zm1-5zm-13-1zm6-1zm1-5zm-15-3zm0-1zm5-1zm13-2zm3-1zm-16 0zm7-11zm-7-4zm-1-6zm8-1zm7-1zm-14-4zm3-5zm8-5zm-15-3zm4-4zm9-5zm7-2zm-2-5zm-12-2zm7-10zm5-3zm-17-1zm15-4zm-14-3zm18-4zm-17-1zm11-14zm5-3zm-2-5zm-19-3zm16 0zm3-7zm1-5zm-5-3zm-6-12zm-7-2zm2 0zm-3-6zm17 0zm-12-2zm14-10zm0-2zm2-3zm-19-3zm2 0zm15-1zm-4-6zm4-8zm-16-1zm5-7zm1 0zm3-4zm-4-3zm-3-1zm0-2zm11-4zm-8-10zm-10-4zm6-7zm13-4zm-5-3zm-9-1zm15-5zm0-2zm-20-1zm1-4zm14-2zm-3-2zm0-1zm-12-1zm18-4zm1-1zm-3-3zm-15-1zm4-1zm3-5zm-8-1zm8-4zm-6-10zm-1-16zm0-3zm30 64zm-3 6zm8 5zm-5 4zm2 6zm-8 5zm9 5zm-5 1zm15 2zm-19 3zm16 1zm-9 1zm11 1zm-11 2zm-3 0zm3 1zm8 3zm0 1zm2 5zm1 1zm-8 1zm-11 3zm11 2zm7 0zm-6 2zm-9 2zm20 4zm-20 2zm-1 1zm6 0zm6 3zm-9 2zm-2 1zm2 1zm16 4zm-9 3zm-9 4zm15 0zm3 1zm-3 1zm-18 1zm18 2zm-14 2zm2 17zm11 3zm5 6zm1 6zm-8 7zm-1 4zm-14 16zm12 5zm-7 0zm-5 2zm0 6zm22 10zm-3 3zm-1 1zm-10 2zm9 4zm1 3zm-16 14zm20 13zm-13 4zm8 3zm-13 1zm18 0zm-6 0zm-6 8zm11 2zm-17 0zm12 2zm-5 3zm11 0zm-9 1zm9 6zm-2 3zm-7 6zm-1 6zm-6 0zm-5 0zm8 2zm-8 1zm6 7zm15 6zm-5 5zm-12 2zm5 1zm10 8zm-16 2zm2 3zm9 1zm-13 5zm19 0zm-15 15zm-5 1zm20 2zm-7 1zm-4 2zm13 3zm-13 0zm-1 1zm-4 2zm-5 4zm12 1zm-8 6zm3 1zm5 3zm-2 0zm-4 13zm-6 3zm14 2zm-10 4zm5 2zm-4 3zm4 3zm-3 1zm-4 11zm5 3zm-5 0zm15 31zm-17 69zm26-16zm18-22zm1-5zm-21-3zm23-43zm-8-10zm-5 0zm-3-21zm-4-3zm17-4zm-6-22zm-1-1zm-11-5zm18-1zm-11-13zm0-1zm9-3zm2-7zm-17-2zm0-7zm14-6zm1-1zm-14-2zm4-2zm3-6zm-8-2zm6-4zm-7 0zm15-1zm3-2zm-13-1zm-7-3zm23-2zm-11-3zm8-1zm-19-1zm14-6zm2-5zm-3-1zm0-5zm-1-5zm6-1zm-13 0zm17-2zm-18 0zm-1-3zm-2-2zm7-3zm-6-3zm9-2zm3 0zm4-2zm-4 0zm-10 0zm-4-1zm8-1zm1-2zm-10-5zm20-1zm-10-1zm4-6zm-4-4zm6-3zm-7-2zm14-2zm-3-2zm-6-4zm-8-1zm-1-2zm10-1zm-14-3zm7-1zm12 0zm-7-1zm5-3zm-13 0zm13-3zm-9-2zm12-2zm-5-1zm3-6zm-13-2zm-2-3zm16-1zm-5 0zm7-2zm-2-1zm-10 0zm-6-1zm11-3zm5-5zm-20-2zm5-4zm0-3zm4-1zm3-2zm-7 0zm1-3zm7 0zm7-6zm3-4zm-19-2zm13-2zm-10-4zm7-1zm3-2zm-11 0zm6-1zm7-4zm-19-11zm7-1zm12-4zm-13-3zm3 0zm7-2zm-8-4zm-2-4zm-4-8zm-2 0zm18-9zm5-10zm-3-10zm26-145zm-3 6zm-1 3zm2 6zm3 2zm0 2zm-7 9zm1 0zm-1 3zm-2 12zm7 2zm-4 5zm5 7zm-7 5zm-5 7zm1 1zm9 2zm0 5zm-10 11zm4 9zm-7 0zm2 1zm3 8zm0 2zm-8 7zm3 5zm-3 6zm-1 13zm-1 2zm11 6zm3 3zm-13 1zm7 1zm9 4zm-3 2zm-14 0zm-1 4zm6 11zm0 6zm-3 3zm6 4zm6 3zm-13 0zm18 0zm-9 1zm7 2zm3 3zm-5 3zm-7 1zm7 10zm-14 1zm12 1zm5 3zm-14 1zm16 8zm-18 6zm18 2zm-15 2zm6 1zm-12 1zm6 5zm-2 10zm-2 6zm5 1zm-5 5zm0 5zm0 8zm-3 3zm4 3zm-1 1zm6 17zm-7 12zm0 7zm11 8zm-4 3zm13 4zm-19 7zm3 5zm0 4zm-2 2zm0 16zm0 1zm-2 3zm16 5zm-17 2zm16 8zm-12 1zm-4 5zm21 0zm-21 1zm14 2zm-8 8zm-7 2zm4 21zm-1 5zm-2 13zm11 15zm-9 7zm-3 3zm0 32zm4 4zm-2 10zm0 10zm-1 30zm6 10zm34 39zm-3-40zm8-20zm-8-16zm-3-28zm5-9zm-4-6zm7-30zm-11-2zm3-6zm5 0zm-2-6zm7-3zm1-3zm-1-5zm-7-1zm-3-1zm-2-14zm11 0zm-11-3zm6-3zm-1-1zm-8-1zm3-8zm-3-10zm11-4zm-5 0zm6-2zm2-6zm1-3zm2-2zm-7-4zm-6-2zm8-1zm-1-7zm-6-8zm11-12zm-7-1zm-3-6zm7 0zm-6-2zm-3-2zm9-2zm-4-1zm6 0zm-4-2zm5-5zm-5-5zm-5-3zm9-1zm-5 0zm-9-3zm1-2zm-3-2zm10-1zm-1-1zm2-3zm-14-3zm17-1zm-6-1zm-1-6zm4-6zm-1-2zm-3-1zm-2-10zm7-2zm5-7zm-7-11zm-1-1zm-10-2zm5-13zm0-6zm-9-10zm23-17zm-23-1zm5-3zm15 0zm-12-6zm-4-3zm7-4zm-5-1zm6-1zm-5 0zm9-1zm4-3zm-6-23zm2 0zm-4-10zm3-1zm-8-1zm-1-1zm8-2zm1-4zm-7 0zm14 0zm-7-15zm3-10zm-2-5zm1-10zm-9 0zm4-4zm8 0zm3-2zm-16-2zm14 0zm-7-2zm8-1zm-4-4zm-3 0zm-10-8zm-2-4zm0-3zm18-2zm-1-2zm-15-1zm13-15zm0-1zm-16-19zm6-1zm4-5zm-4-1zm-5 0zm8-1zm-1-3zm4-3zm-1-8zm1-5zm-3-6zm-3-8zm-3-4zm2-5zm1-13zm-1-4zm21 92zm-4 5zm9 3zm-7 1zm7 3zm-1 2zm-1 0zm-5 2zm5 4zm11 6zm-10 1zm-8 5zm16 1zm-13 3zm11 0zm1 1zm-9 0zm8 6zm-8 1zm4 1zm-8 0zm19 1zm-8 2zm-12 11zm7 2zm12 0zm-20 2zm18 6zm-15 13zm0 3zm19 2zm-12 3zm-9 1zm18 2zm-4 1zm4 3zm-5 1zm-4 2zm-10 0zm7 1zm14 0zm-6 4zm5 0zm-15 1zm-3 0zm15 7zm-10 2zm12 2zm-15 4zm8 5zm0 3zm6 7zm-12 1zm2 2zm-6 1zm12 1zm-4 3zm-5 3zm0 2zm11 1zm7 2zm-15 5zm7 1zm-15 1zm3 7zm19 10zm-15 2zm7 4zm-12 4zm12 0zm-9 3zm16 4zm-10 2zm7 0zm-2 2zm-13 4zm17 1zm3 1zm-22 13zm20 1zm1 3zm-19 1zm13 1zm-5 0zm-6 2zm-5 2zm3 5zm0 3zm-1 3zm6 1zm2 0zm11 1zm-18 3zm4 5zm12 0zm-12 4zm8 1zm7 4zm-21 2zm12 0zm-2 2zm-9 2zm11 3zm-6 0zm8 0zm5 1zm-19 4zm19 3zm-8 1zm-11 1zm12 1zm-2 1zm-9 1zm18 3zm0 4zm-1 1zm-5 2zm0 1zm3 1zm-14 10zm10 6zm8 2zm-2 1zm-19 2zm18 9zm-12 1zm2 8zm6 0zm-9 3zm4 1zm2 1zm1 8zm6 3zm-6 3zm2 0zm0 2zm5 2zm-13 3zm-4 1zm16 2zm1 1zm-10 1zm1 2zm8 11zm-16 6zm8 5zm-6 3zm19 1zm-9 0zm-6 1zm14 1zm-20 1zm5 3zm11 1zm0 5zm-7 11zm9 5zm-3 3zm-14 3zm7 6zm1 3zm11 2zm-5 5zm-1 8zm-15 1zm11 22zm-6 14zm12 1zm-12 4zm17 7zm-17 3zm26 67zm7-15zm-15-17zm17-30zm-2-4zm-5-1zm6-5zm-6-3zm-10-9zm21-9zm-5-12zm-14-7zm13-1zm8-3zm-14 0zm9-4zm-8-6zm-4-4zm-2-3zm10-1zm-3-4zm4-9zm0-4zm3-6zm-9-3zm11-6zm-19-1zm13-6zm5-5zm-13-15zm14-1zm0 0zm-11-2zm8-5zm4-1zm-14-2zm-2-1zm9-1zm-8-2zm-4-7zm6-2zm3-1zm-5-1zm-3-1zm-3-1zm21-3zm-8-2zm10 0zm-13-1zm-5-1zm6-6zm-4-7zm3-5zm8-1zm-8-1zm-10-2zm5-5zm-2-7zm19-5zm-6-2zm5 0zm-5-1zm-12-1zm-3-1zm17-3zm4-8zm-4-5zm-8-11zm-10-2zm3-2zm19 0zm-2-1zm3 0zm-2-2zm-12-1zm-7-2zm1 0zm10-2zm-2-2zm-2-1zm1-2zm5-2zm-14-2zm12-1zm-4-2zm8-2zm-15-1zm14-5zm-12-1zm-1-3zm1-4zm5 0zm12-1zm-11-4zm-8-7zm14-8zm-14-1zm1-6zm1-4zm-3-1zm-1-1zm4-5zm3-5zm6 0zm-3-2zm11-2zm-21-2zm14-4zm-7-6zm10 0zm-3-6zm-1-1zm10-4zm-19-3zm17-1zm-16-1zm6-3zm8-4zm-15 0zm-3-5zm2-11zm6 0zm5-4zm1-1zm6 0zm-21 0zm5-2zm10-4zm1-7zm2 0zm-15-2zm4-2zm-1-6zm-3-7zm3-2zm0-2zm6-10zm0 0zm-6-2zm-1-1zm-2-2zm7-1zm-7-7zm-3-1zm1-11zm43 30zm0 5zm0 10zm0 2zm0 4zm-7 8zm0 4zm2 6zm2 5zm-4 4zm-2 1zm-11 1zm14 5zm-14 3zm11 27zm7 1zm-9 4zm5 2zm3 4zm-9 11zm14 2zm-8 2zm6 3zm-15 2zm12 1zm-1 0zm-9 2zm3 7zm-10 1zm14 5zm2 0zm-1 3zm3 8zm2 1zm-7 0zm-6 1zm-7 1zm16 2zm-8 2zm0 4zm11 2zm-3 3zm-1 1zm3 1zm1 7zm-4 2zm1 9zm6 1zm-10 7zm0 6zm-11 2zm14 2zm6 1zm-3 4zm-7 3zm-5 1zm0 2zm13 1zm-16 2zm4 2zm6 0zm-7 2zm14 1zm-5 5zm-3 1zm5 1zm5 2zm-7 1zm-12 8zm7 2zm5 3zm-10 1zm18 0zm-11 1zm-12 4zm0 2zm19 0zm-19 2zm18 1zm-5 0zm3 2zm-15 3zm19 0zm-19 1zm16 0zm3 3zm-19 1zm18 4zm-18 2zm12 0zm-10 0zm5 7zm12 3zm-17 10zm2 1zm11 1zm1 8zm-17 2zm23 2zm-21 2zm4 2zm6 1zm10 2zm-6 6zm-3 6zm7 1zm-2 3zm-2 2zm1 5zm-14 4zm-3 3zm12 6zm-7 16zm6 5zm-8 5zm15 2zm-13 1zm2 21zm6 4zm-11 13zm4 42zm40-9zm-4-61zm-16-42zm12-25zm-1-59zm-13-70zm0-5zm16-76zm-1-5zm-6-3zm-1-4zm7 0zm-11-1zm-4-1zm17-2zm3-6zm-3-21zm5-1zm-19-1zm0 0zm8-4zm9-3zm3-12zm-15-9zm-5-4zm7-3zm3-30zm6-5zm-7-1zm0-1zm-9-7zm0-1zm-3-4zm6-3zm-1-1zm4-3zm-4 0zm3-6zm4-2zm0-3zm-2 0zm-5-2zm2-2zm4-5zm-2-6zm-4-4zm5 0zm1-5zm5-8zm3 0zm-8-1zm-1-1zm4-11zm-2 0zm6-13zm4-7zm-2-2zm1-10zm1-8zm5 32zm2 9zm-1 2zm2 6zm2 2zm5 7zm-3 7zm11 11zm-13 1zm5 2zm-11 0zm16 1zm-5 4zm-2 0zm7 9zm2 1zm-14 3zm4 2zm12 0zm-5 2zm6 6zm-9 3zm-3 1zm-11 4zm16 3zm-7 2zm-5 3zm10 1zm9 5zm-1 0zm-7 1zm-8 3zm0 2zm-2 0zm11 3zm2 3zm-5 2zm5 10zm-10 1zm15 0zm-22 1zm22 12zm-4 6zm-9 5zm-10 1zm12 2zm-8 1zm15 2zm-19 2zm11 1zm8 0zm-12 1zm9 2zm4 5zm-2 1zm3 1zm-9 4zm3 2zm-13 11zm20 5zm-5 5zm-14 11zm-3 10zm14 1zm-8 0zm-2 0zm8 7zm2 1zm-9 1zm3 0zm6 0zm5 1zm-7 7zm-4 1zm4 4zm-11 3zm9 2zm-9 7zm6 1zm4 2zm1 1zm-3 3zm10 1zm3 4zm-19 0zm2 1zm3 1zm-7 2zm12 5zm-9 5zm-3 1zm16 0zm4 1zm-14 0zm-2 1zm10 1zm-7 2zm2 0zm8 4zm-7 2zm10 0zm-11 1zm6 2zm-1 2zm5 2zm-14 0zm12 0zm-15 2zm4 2zm2 3zm10 0zm-2 0zm-9 1zm4 2zm-8 1zm-2 1zm20 1zm-13 2zm1 2zm5 7zm0 1zm6 5zm-10 3zm9 1zm3 4zm-6 1zm-5 1zm11 5zm-1 1zm-3 0zm3 2zm-14 2zm3 1zm-10 0zm12 2zm1 4zm-7 5zm11 0zm-14 4zm5 2zm5 3zm-6 2zm2 3zm11 0zm-16 0zm16 13zm-17 11zm12 8zm-1 3zm-7 2zm-5 7zm7 2zm-10 6zm12 18zm11 12zm-16 5zm5 27zm-4 10zm-2 3zm16 7zm-6 9zm-2 7zm-6 1zm-3 24zm37-28zm-2-29zm5-8zm-4-8zm-3-2zm-10-15zm6-4zm-6-1zm-2-21zm14 0zm-16-1zm17-5zm-5 0zm-8-2zm2-2zm5-3zm-3-4zm7 0zm-13-1zm10-12zm3-3zm-15 0zm23-1zm-12 0zm-3-15zm9 0zm-5-2zm4 0zm2-3zm-3-3zm-15-2zm3-1zm16-7zm-5-1zm-7-1zm9-2zm-12-5zm17 0zm-2-2zm-19 0zm0-1zm16-5zm-5-4zm-2 0zm-2 0zm11-3zm-7 0zm11-2zm-18-4zm14-9zm-3-5zm4-1zm-11-4zm6-1zm4-2zm-2-1zm-16-2zm5-4zm3-3zm6-1zm-13-1zm5-3zm3-1zm2-1zm-11-4zm15-1zm-13-6zm9-2zm-9-1zm16 0zm2-5zm3-1zm-21-1zm20-1zm-22-3zm16-1zm-2 0zm0-1zm4-2zm-9-1zm8-12zm-8-4zm0-4zm5-1zm2-2zm-11-1zm17-3zm-1-8zm1-3zm-10-1zm-8-3zm9-3zm-4-3zm11 0zm-3-6zm6 0zm-8-1zm4 0zm-9-3zm5-1zm6-4zm-3-5zm-8-1zm3-2zm4-6zm-1 0zm-16-1zm8-3zm-7-2zm13-6zm8-5zm-18-1zm3-4zm4-5zm-2-1zm7-4zm2-2zm-11-2zm2-1zm-9-2zm22-3zm-1-8zm-14-8zm10-3zm5-2zm-19-3zm8-1zm-8-3zm11 0zm-13 0zm9-1zm12 0zm-17-2zm-3-3zm9-1zm-7 0zm-4-1zm7-3zm14-1zm-19 0zm6 0zm8-1zm6 0zm-11-3zm2-2zm-7-1zm12-2zm-8 0zm-7-4zm10-2zm5-2zm-17 0zm2-1zm-2-1zm14 0zm-7-2zm-3 0zm2-3zm1-2zm8 0zm-7-5zm2-1zm-5-5zm2-1zm-6-6zm23 49zm8 17zm-7 11zm13 2zm-9 2zm-6 3zm2 1zm13 4zm-7 2zm-3 0zm-4 1zm13 1zm2 2zm-12 4zm4 1zm10 3zm-18 0zm19 1zm-13 8zm3 1zm-6 8zm17 4zm-14 1zm4 9zm-3 4zm-2 0zm6 1zm-9 3zm2 0zm4 4zm-4 9zm0 9zm0 6zm12 0zm-13 1zm10 0zm-6 5zm1 1zm0 26zm-8 1zm16 2zm5 26zm1 7zm-20 0zm16 7zm4 5zm-8 2zm0 1zm-2 0zm-11 1zm15 9zm-8 0zm7 2zm-10 2zm8 0zm-8 3zm-2 2zm2 4zm8 0zm3 4zm-9 2zm15 1zm-7 2zm7 3zm-3 4zm4 1zm-14 2zm4 1zm6 0zm-16 0zm13 2zm4 3zm-2 10zm5 12zm-18 1zm15 5zm-20 5zm12 0zm-6 1zm5 6zm-1 5zm-8 2zm16 8zm-6 2zm-3 2zm13 4zm0 8zm-2 3zm-20 0zm23 3zm-21 9zm18 11zm-6 3zm-14 8zm7 32zm21 67zm-3-5zm10-28zm-8-1zm0-12zm10-12zm-11-2zm16-4zm-12-3zm-1-2zm5-13zm2-18zm-4-3zm-3-8zm-5-4zm6-7zm8-12zm-3-2zm-9-3zm7-15zm-9 0zm0-17zm4 0zm11-3zm-10-8zm11-2zm-4-1zm3-9zm-14-9zm2-3zm9-4zm-2-1zm-5-1zm7 0zm-2-4zm-7-3zm3-2zm11-7zm-2-4zm3-7zm-18-3zm2-1zm3-5zm7-1zm-10-4zm18-1zm-16-1zm-2-5zm12-3zm-14-2zm10-1zm-6-3zm2-4zm7-7zm-4-4zm-6-2zm-2-6zm13 0zm-3-2zm0-4zm5-4zm-5-1zm2-14zm-1-4zm3-9zm0-8zm0-8zm-4-1zm-6-3zm8-1zm-3-2zm3-5zm8-11zm-3-1zm1-5zm-7-1zm-9-3zm1-4zm4-2zm9-11zm-16-6zm20-1zm0-1zm-17-2zm19-4zm-16 0zm3-2zm-7-2zm8-7zm-4-2zm-3-1zm3-17zm0-3zm5-15zm-2-3zm3-2zm9-5zm-7-3zm2-12zm5-5zm-2-5zm-2-9zm1-3zm1-4zm2-10zm0-12zm18-92zm-3 11zm1 5zm5 2zm-5 1zm-5 3zm7 1zm5 3zm-4 5zm5 0zm1 1zm-18 4zm8 1zm1 3zm5 1zm0 3zm-16 6zm1 13zm19 5zm-20 1zm0 4zm16 0zm0 1zm3 3zm-15 9zm8 1zm-14 4zm22 28zm-23 51zm7 32zm15 2zm-17 6zm-1 11zm1 25zm-5 1zm9 4zm-3 0zm1 7zm12 8zm-9 0zm9 19zm2 7zm-13 1zm14 1zm-1 15zm2 4zm-1 2zm1 1zm0 3zm0 15zm-12 0zm-1 1zm-7 3zm15 1zm5 4zm-11 3zm8 23zm-20 3zm15 12zm4 7zm1 4zm-3 9zm1 11zm5 7zm-4 35zm-1 4zm-8 33zm0 61zm-10 34zm18 5zm-1 50zm7-17zm3-30zm-2-9zm0-10zm11-6zm-1-14zm-2-2zm10-4zm-15-6zm-2-5zm15-6zm-17-8zm1-2zm22-9zm-23 0zm2-5zm2-2zm15-5zm-6-12zm4-1zm-9-9zm-2-12zm15-10zm-11-6zm0-2zm-10-2zm3-2zm7-4zm-10-4zm15-3zm-2-7zm4-6zm-4-7zm9-1zm1-4zm-18-2zm11-3zm2-2zm-11-5zm-5-5zm-2-3zm7-2zm-7-1zm5-2zm3-3zm5-1zm6-3zm-13-3zm-3-1zm8-3zm8-2zm-11-8zm9-4zm-2-5zm3-3zm4 0zm-8-6zm-6-7zm-4-2zm17 0zm-14-2zm-5-3zm0-1zm10-2zm10-2zm0-9zm-15-5zm4-1zm6-1zm-4-3zm3-5zm-16-4zm14-6zm7-2zm-7 0zm-8-1zm16 0zm-13-2zm4 0zm-5-2zm2-2zm8 0zm-5-1zm-13-1zm22 0zm-21-1zm20-7zm-20-5zm15 0zm5-6zm-9-1zm-3 0zm-5-5zm10-2zm2-2zm4-1zm-16-2zm15-3zm-13-11zm17-3zm-5-1zm-9 0zm12-4zm-11 0zm6-1zm-3-1zm9 0zm-11-2zm0-4zm3-9zm7-5zm-7-1zm1-2zm6-7zm-3-5zm-7-1zm10-1zm-3 0zm-7-4zm5-2zm4-1zm-16-1zm10 0zm2-1zm-10-2zm14-10zm2-4zm-10-5zm4-1zm2-2zm2-5zm-3-3zm-6 0zm9-2zm-11-4zm9-2zm-6-1zm1-1zm-10-4zm15-1zm-15-1zm10-3zm6-2zm-16-1zm18-9zm-6-1zm8-6zm-16-3zm3-1zm-10-2zm3-5zm19-1zm-18-5zm-1-3zm10-4zm-12-1zm3-6zm4-4zm-8-6zm4-1zm-4-14zm5-3zm-5-1zm28 43zm-3 8zm3 6zm-4 6zm3 2zm8 1zm-7 12zm6 1zm2 1zm-8 2zm13 7zm-8 1zm-3 0zm-4 1zm4 2zm2 1zm5 0zm5 4zm-17 4zm2 1zm13 1zm-7 1zm0 1zm11 2zm-3 9zm3 4zm-11 0zm-6 2zm8 0zm12 2zm-23 2zm18 2zm-2 2zm-6 1zm4 1zm-12 0zm1 3zm13 0zm-9 2zm13 1zm-14 2zm7 3zm-3 2zm1 2zm8 3zm-15 0zm8 4zm-12 5zm14 1zm7 0zm-13 3zm14 3zm-3 0zm-7 3zm-5 4zm7 3zm-14 0zm5 2zm6 0zm3 5zm2 0zm7 1zm-21 0zm1 12zm6 9zm10 2zm-6 1zm6 3zm-9 7zm-5 0zm4 4zm3 7zm5 0zm-14 4zm4 0zm5 9zm4 1zm-8 0zm9 9zm-17 2zm22 2zm-20 1zm14 4zm-15 9zm4 14zm-3 0zm2 1zm2 5zm4 4zm-6 3zm-1 0zm5 1zm-5 1zm8 0zm-11 3zm20 0zm-6 2zm8 4zm-8 1zm5 1zm0 3zm-11 1zm13 0zm-11 0zm-8 9zm13 0zm0 3zm-10 2zm-3 1zm9 0zm2 8zm-2 1zm-3 4zm-3 4zm18 3zm-8 2zm-15 0zm4 7zm14 0zm-7 1zm-2 5zm5 1zm-5 3zm14 1zm-17 11zm-4 1zm16 4zm2 1zm-6 6zm-4 1zm1 0zm0 11zm-3 1zm9 2zm4 5zm-8 4zm-10 1zm-2 1zm4 2zm4 0zm-5 3zm18 3zm-16 6zm-4 3zm18 2zm2 4zm-8 1zm4 3zm0 1zm-9 0zm14 2zm-5 2zm-15 5zm1 3zm0 10zm10 6zm-8 4zm16 5zm-19 7zm18 30zm-16 1zm4 4zm10 20zm-1 8zm28 38zm-7-50zm-13-1zm21-6zm-4 0zm2-2zm-10-7zm11-45zm-13-29zm-4 0zm5-15zm-9 0zm4-10zm1-4zm17-2zm-9 0zm-12-3zm12-3zm-5-1zm8-3zm3-2zm-6-4zm-10-2zm18-1zm-21-1zm4-2zm15-3zm-20-4zm0-10zm12-4zm-7-1zm15-1zm0-11zm-8-5zm-4-1zm-3-1zm-1-3zm11-4zm-8-7zm6-3zm-11 0zm13-1zm7-7zm-11-5zm6-3zm6 0zm-22-1zm22 0zm-8-5zm5-2zm-20-3zm21-4zm-2-8zm-13-3zm9-5zm3-2zm-6-9zm-6-2zm6-4zm10 0zm-12-1zm1-7zm8-1zm-11-5zm7-1zm4-2zm-9-3zm6-1zm6-3zm-1-1zm-10-4zm-7-14zm10-2zm-13-1zm5-1zm5-4zm10 0zm-19-20zm1 0zm15-9zm-9-2zm11-2zm-2-6zm0-1zm-17-1zm19-1zm0-1zm-10-1zm-10-2zm13-3zm7 0zm-20-1zm0-2zm6-1zm17-1zm-21 0zm6-2zm-2 0zm16-2zm-12-1zm4-5zm-4 0zm-1-1zm-1-8zm-5-6zm-2-3zm2 0zm0-3zm-2-6zm0-7zm-1-11zm1-12zm46-111zm-3 6zm-2 4zm4 4zm-3 4zm-2 15zm2 15zm-4 5zm2 8zm-3 3zm1 6zm0 6zm-3 1zm1 6zm-5 15zm0 6zm1 2zm-1 12zm-7 21zm1 0zm-2 2zm4 4zm-2 9zm14 4zm-8 4zm-3 1zm9 5zm-14 1zm12 1zm-11 2zm12 1zm-4 0zm-7 5zm7 0zm1 2zm-6 5zm-4 5zm14 31zm5 0zm-12 24zm-2 7zm2 6zm-4 3zm-2 10zm5 1zm3 6zm-6 0zm19 0zm-20 3zm12 0zm-13 4zm0 3zm10 2zm-5 1zm0 0zm6 2zm0 11zm-3 3zm-2 2zm-4 7zm4 10zm2 8zm-3 1zm-1 10zm-2 5zm0 15zm7 21zm-2 0zm-4 0zm-2 22zm2 2zm2 7zm-6 7zm0 9zm7 14zm-7 0zm4 1zm-4 34zm9 16zm-5 11zm9 30zm-13 34zm2 13zm12 6zm29-22zm3-13zm-9-85zm9-11zm-10-8zm2-4zm3-1zm-3-1zm5-18zm2-9zm-6-2zm7-12zm-4-2zm-6-2zm-9-8zm12-15zm4-5zm-4-13zm6-2zm-4-3zm6-1zm0-8zm-5 0zm-2-3zm7-5zm0-6zm-6-2zm5-1zm-7-1zm-15-3zm18-1zm3-4zm-8-1zm8-25zm-2 0zm-4-3zm5-1zm-9-8zm11-6zm0-1zm-4-3zm-6-8zm10-2zm-2-4zm-5 0zm6-3zm-13-4zm8-10zm-3-2zm7 0zm-5-9zm8-1zm-21-5zm13-4zm-4-1zm3-9zm9-1zm-3-1zm0-4zm-15-15zm5-7zm13-8zm-7-2zm5-21zm0-1zm1-6zm-6-3zm3-5zm3-15zm-1-15zm-20-7zm18-4zm-13-1zm-5-3zm1-6zm4 0zm16-2zm-19-3zm2-6zm10-36zm6-3zm-3-1zm4 0zm-4-2zm2-3zm0-3zm-2 0zm0-8zm2-4zm-18-5zm20 0zm-10 0zm8-6zm-17-1zm6 0zm-5-1zm-2-8zm13-4zm2-4zm-1-4zm-13-5zm12-2zm-1-7zm-3-4zm-6-6zm8-3zm13 77zm2 0zm2 2zm-4 3zm10 4zm-1 1zm3 2zm-10 3zm7 9zm1 2zm-9 5zm16 0zm-19 0zm4 3zm9 1zm5 3zm-4 1zm-8 1zm2 2zm0 0zm8 4zm7 0zm-17 5zm-6 1zm22 4zm-18 1zm4 2zm10 1zm-4 1zm7 4zm-14 4zm-2 1zm11 7zm-12 3zm7 2zm4 0zm2 1zm-6 0zm-10 0zm21 6zm-11 2zm-2 1zm5 5zm9 1zm-18 1zm11 0zm-7 3zm8 3zm-13 0zm19 1zm-23 0zm1 3zm18 1zm-6 2zm-5 0zm13 1zm-19 2zm12 4zm8 2zm-5 4zm-16 2zm6 3zm-7 3zm23 4zm-4 1zm-12 3zm5 5zm7 4zm-15 2zm16 1zm-6 1zm-7 3zm2 2zm7 4zm-7 3zm5 2zm-8 1zm10 1zm-6 4zm13 1zm-1 0zm-6 2zm-14 3zm17 6zm-15 1zm9 4zm4 6zm-16 1zm3 3zm2 8zm-4 1zm2 0zm-2 5zm9 2zm-2 2zm10 1zm2 1zm-20 3zm18 4zm-5 6zm5 2zm-12 3zm5 0zm0 3zm1 0zm-11 2zm6 7zm1 5zm4 1zm-1 2zm-6 3zm5 3zm9 2zm-4 0zm-4 5zm-6 5zm13 0zm-16 10zm20 2zm-18 4zm18 0zm-23 1zm12 7zm6 4zm-10 0zm3 5zm-8 5zm17 1zm-16 1zm16 1zm-8 0zm-7 3zm14 3zm-18 0zm15 11zm4 4zm-6 6zm-4 4zm-1 6zm13 0zm-18 2zm15 8zm-1 2zm1 12zm-3 3zm-11 0zm17 2zm-7 4zm8 6zm-20 3zm3 1zm12 4zm-14 1zm17 11zm-18 0zm2 11zm4 1zm-4 12zm6 6zm6 5zm-6 4zm-1 16zm-2 8zm12 16zm-18 5zm4 7zm8 36zm-3 10zm14 7zm0-23zm14-5zm-5-9zm0-17zm-3-4zm16-6zm-2-16zm-9-24zm-8 0zm9-4zm-1-2zm1-24zm-5-12zm15-2zm-5-3zm-6-1zm-10-2zm-1-3zm0 0zm18-8zm-1-1zm0-12zm-14-4zm8-2zm-6-3zm4-4zm8-1zm-3-3zm6-1zm-2 0zm-19-2zm11-1zm-11-4zm15-4zm5-1zm3-2zm-2-3zm-8-3zm-6-4zm3-1zm3-1zm9-3zm-16 0zm-4-1zm8-3zm12-4zm-8-2zm-6-2zm-8-3zm18-1zm-18 0zm22-1zm-6-2zm-9-2zm12-2zm-10-1zm8-2zm-4-2zm-12-2zm2-1zm5-1zm3-2zm-6 0zm13 0zm1-1zm-17 0zm19-5zm1-1zm-18-1zm5-9zm-4-6zm-1-2zm9-1zm-1-2zm-6-3zm10-3zm7 0zm-13-1zm-3-1zm6-7zm9-1zm-13-9zm6-2zm-4-5zm-5-1zm9-2zm3-1zm-7-1zm-2 0zm-9-2zm7-2zm12-1zm-5 0zm1-6zm-4-3zm0-4zm8-2zm-10-4zm-2-4zm6-2zm-4-11zm-8-2zm5-3zm-2-1zm9-2zm-4 0zm2-8zm0-5zm-8-5zm11-3zm4-4zm-18-3zm6-5zm12-1zm1-4zm-12-2zm11-4zm-11-2zm5 0zm-6-2zm10-1zm5-2zm-11-5zm2-1zm-11-3zm6-2zm9-1zm-1-1zm1-7zm-6-4zm-9-1zm19-6zm-5-3zm2-1zm-6-2zm5-1zm3-9zm-9-4zm7-1zm1-3zm-9 0zm-1-5zm4-2zm-6-2zm-2-3zm-4-5zm3-6zm2-1zm-3-7zm-2-9zm46 67zm-3 2zm3 6zm-1 3zm-1 5zm2 1zm-4 8zm-13 5zm-3 2zm17 1zm2 1zm-2 3zm-15 1zm-4 0zm6 3zm7 0zm-5 1zm2 7zm5 1zm8 1zm-11 7zm-5 2zm-4 3zm3 6zm10 3zm0 5zm-3 10zm8 0zm-2 1zm-2 0zm0 2zm6 1zm-7 1zm-15 0zm10 5zm1 0zm-7 2zm10 4zm-7 4zm2 13zm-8 0zm6 2zm5 1zm7 0zm-14 5zm17 1zm-12 1zm6 0zm5 1zm-22 3zm18 2zm-7 1zm6 5zm-8 1zm-1 8zm-4 6zm18 0zm-12 5zm5 13zm6 3zm-12 0zm9 0zm-10 2zm1 6zm-5 2zm9 0zm-5 2zm1 1zm14 1zm-5 0zm1 5zm-3 2zm1 5zm-14 0zm16 2zm-8 3zm-8 3zm16 6zm-18 2zm6 2zm11 1zm3 4zm-1 1zm-17 2zm0 2zm11 0zm4 1zm-12 10zm-4 2zm10 5zm-10 1zm6 1zm13 3zm-11 1zm-9 1zm11 1zm-3 2zm2 2zm8 1zm-5 8zm-7 3zm15 1zm-11 4zm3 3zm5 2zm-3 2zm-9 0zm-2 2zm17 3zm-10 3zm-11 1zm13 2zm7 3zm1 10zm-2 0zm-3 4zm-12 0zm1 1zm2 13zm-8 1zm13 3zm-8 0zm15 2zm-6 0zm-4 1zm-10 16zm3 8zm15 15zm-9 16zm-8 16zm22 5zm-7 2zm1 54zm25-51zm-14-29zm0-5zm11-3zm-14-19zm10-3zm-8-3zm7-11zm-1-10zm4-10zm-12-10zm6-5zm-4-10zm1-1zm12-23zm-12-14zm13-1zm-15-9zm0-4zm-1-16zm3-18zm3-3zm-4-1zm-3-8zm7-7zm-4-1zm12-7zm-13-5zm-1-1zm4-7zm-1-7zm-3-18zm2-2zm-2-9zm2 0zm-3-12zm22-7zm-17 0zm-5-22zm3-9zm10 0zm-9-3zm9-11zm5-6zm-13-2zm-4-1zm20-5zm-6 0zm-12-1zm16 0zm-14 0zm0-5zm8-1zm-10-21zm-1-8zm-2-31zm22 0zm-20-10zm7-2zm-8-2zm16 0zm-9-3zm9-2zm-15 0zm7 0zm1-3zm-4-2zm0-9zm6-13zm-3-4zm-3-4zm0-3zm13-6zm-8-2zm2-6zm-2-4zm0-7zm12-15zm-8 0zm5-1zm-6-4zm5-2zm-2-13zm4-10zm-1-5zm3-3zm-1-7zm8-35zm-4 16zm-1 1zm0 1zm4 6zm-4 2zm0 1zm2 1zm4 8zm1 1zm-5 7zm7 1zm-8 4zm7 1zm4 4zm-2 3zm0 4zm6 8zm1 3zm-15 8zm16 0zm2 1zm-3 5zm0 8zm-10 3zm3 2zm7 3zm3 12zm1 8zm-21 0zm2 3zm14 1zm3 3zm-8 1zm-9 3zm-1 9zm-2 12zm13 0zm-8 1zm4 4zm10 1zm-3 2zm-9 0zm-7 0zm23 1zm-12 4zm4 4zm7 2zm-13 1zm13 2zm-21 2zm8 3zm7 2zm6 1zm-20 1zm-1 1zm3 2zm17 1zm-10 0zm-2 1zm9 3zm1 12zm3 3zm1 1zm-8 2zm0 1zm3 5zm-5 8zm7 2zm-6 5zm8 15zm1 2zm-4 3zm-11 8zm12 1zm2 0zm-8 3zm-8 0zm-1 4zm16 1zm-20 1zm22 4zm-9 0zm-4 4zm11 2zm-14 0zm13 1zm-13 2zm4 0zm-1 2zm0 0zm3 3zm1 1zm1 5zm8 3zm-11 14zm11 0zm-12 8zm1 3zm7 3zm-12 1zm6 1zm6 2zm-9 3zm12 1zm-5 0zm-8 2zm2 5zm8 0zm-8 2zm9 5zm-5 7zm-4 3zm0 9zm0 1zm-3 11zm5 4zm1 1zm4 3zm-10 5zm8 3zm1 7zm-8 3zm7 2zm5 0zm-12 0zm14 5zm-8 3zm-9 2zm17 3zm-6 1zm-4 0zm0 4zm8 1zm2 1zm-17 0zm6 6zm6 6zm4 0zm-7 4zm6 0zm0 5zm-7 1zm-6 3zm9 2zm-1 1zm-6 4zm3 10zm2 5zm5 4zm-9 23zm-11 6zm23 3zm-13 6zm-2 9zm-2 16zm6 12zm11 10zm-13 0zm6 1zm-8 49zm16 15zm10-5zm5-17zm1-17zm-11-11zm18 0zm-8-2zm-15-31zm23-1zm-7-6zm-1-20zm0-5zm-14-2zm18-13zm-10-4zm12-6zm-2 0zm0-1zm-12-4zm-3-20zm4-12zm6-3zm-12-6zm14-2zm6 0zm-17 0zm4-8zm9-7zm4-5zm-16-1zm11-4zm-4 0zm9 0zm-19-4zm11-2zm-3-3zm4-1zm5-5zm-4-1zm7-2zm-11-1zm9-1zm-10-2zm2 0zm9-2zm-21-4zm17-1zm-11-3zm0 0zm10-4zm-12-2zm1-1zm-3-1zm7-1zm3-2zm9-4zm-5-1zm-14-3zm1-7zm19 0zm-18-2zm12-3zm-13-4zm-1-3zm15 0zm-12-1zm0-1zm6-2zm0-2zm-7 0zm14-1zm-18 0zm11-1zm9-4zm-16 0zm2-3zm4-1zm-8-8zm20-7zm-19-1zm2-6zm-5-7zm7-11zm6-4zm-11-5zm11-6zm3-4zm-2-2zm8 0zm-4 0zm-4-4zm-15-2zm5-1zm18 0zm-12 0zm-2-4zm10-1zm4-1zm-19-1zm7-2zm5 0zm-2-7zm-6-1zm2 0zm12-2zm-4 0zm-3-3zm8-1zm-13-1zm9-1zm-19-1zm14 0zm-9-5zm3-1zm14-2zm-7-1zm7-1zm-16-3zm4 0zm4-2zm9 0zm-2-4zm-17-3zm12-5zm-13-5zm12-1zm6-2zm-19-8zm12-5zm-7-5zm-5-3zm10 0zm-1-6zm6-1zm-17-6zm22-2zm-8-1zm-5-1zm14 0zm-18-4zm12 0zm-11-2zm-3-1zm-2-4zm14 0zm-5-2zm6 0zm7-2zm-12-1zm-9-2zm7-1zm6-2zm-11-3zm14-4zm-16-6zm3-15zm0 0zm1-2zm5 0zm-7-2zm-4-1zm0-3zm2-4zm-2-6zm27 41zm2 15zm-5 4zm4 3zm5 20zm4 1zm-1 3zm-3 4zm10 2zm-12 8zm11 0zm0 11zm-4 3zm-14 0zm8 2zm-8 2zm8 3zm1 1zm-8 0zm6 9zm16 0zm-14 1zm2 2zm-7 2zm7 5zm-3 3zm0 1zm0 1zm7 0zm2 5zm0 2zm0 9zm-9 1zm14 2zm0 1zm-1 1zm-7 0zm-9 2zm11 1zm-6 5zm-8 1zm11 3zm4 2zm-17 3zm22 3zm-15 4zm12 0zm-6 4zm4 0zm-14 15zm-2 13zm1 2zm10 7zm3 4zm-4 5zm-7 0zm-2 1zm5 24zm12 2zm-17 4zm15 3zm-5 2zm-2 4zm-10 1zm8 11zm-6 0zm3 2zm8 6zm-5 2zm3 0zm7 2zm-16 1zm8 2zm-3 2zm4 1zm-4 0zm10 4zm-8 1zm11 8zm-16 6zm0 3zm8 2zm-12 5zm7 0zm8 1zm-11 4zm3 5zm-4 6zm15 8zm-18 2zm16 2zm-9 2zm-5 6zm15 6zm-3 2zm-4 2zm-2 3zm-1 3zm-3 3zm3 1zm6 1zm-5 3zm5 6zm4 4zm5 3zm-16 6zm4 0zm10 6zm-7 3zm10 5zm-14 0zm-2 17zm-1 2zm-3 1zm1 7zm19 25zm-10 2zm-11 5zm5 0zm9 20zm7 12zm23 14zm-2-13zm-5-12zm2-28zm-6-26zm4-14zm-10-5zm9-1zm-4-15zm-8-3zm15-1zm-4-18zm-1-11zm5-3zm0-3zm-6-4zm-10 0zm0-6zm13-2zm-2-2zm-9-1zm17-10zm-5-4zm1-1zm-1-2zm-13-7zm17-2zm-7-4zm-9-1zm2-3zm-2 0zm2-6zm17-2zm-3-2zm-17-3zm18-1zm-2-2zm-17 0zm1-1zm10-1zm-12-4zm15-1zm-9-4zm15-1zm-19-1zm16-2zm-12-2zm10-2zm-9-4zm7-2zm5-1zm-10-3zm3-2zm-8-2zm5-5zm8-5zm-16 0zm10-3zm-11-1zm17-4zm1 0zm0-5zm0-1zm-13-2zm18-3zm-3-5zm0-2zm-8-2zm2-2zm5-7zm-5-1zm-5 0zm1-3zm10-3zm-11-3zm-4-1zm13-1zm-1-1zm-12-1zm-1-1zm17-4zm-7 0zm3-3zm-5-4zm10-2zm-3-8zm0-10zm-6-3zm-13-3zm7 0zm11-2zm-15-3zm6-3zm7-9zm5-5zm-8-3zm-11-33zm8-1zm-9-1zm-1 0zm3-1zm3-1zm6 0zm-2-6zm5-21zm1-4zm3-6zm2-21zm-1-16zm3-13zm24-120zm-3 4zm2 5zm1 6zm-4 0zm3 8zm-6 8zm3 1zm-6 1zm0 2zm7 1zm-6 3zm2 3zm-5 3zm11 2zm-5 11zm-4 3zm-3 6zm-1 8zm-2 3zm-3 11zm6 7zm-4 2zm12 3zm-8 2zm-4 2zm-5 6zm6 2zm-6 1zm0 19zm7 2zm-8 3zm3 3zm-3 2zm10 1zm5 4zm6 10zm-15 4zm-1 7zm17 25zm0 6zm-2 3zm-10 2zm3 2zm4 0zm-7 7zm8 2zm-4 2zm0 1zm-2 1zm-3 2zm9 1zm1 7zm-11 2zm-3 8zm9 3zm3 15zm-11 1zm5 2zm3 0zm-13 5zm17 1zm3 1zm-13 0zm4 0zm-12 21zm2 16zm11 44zm-13 0zm16 9zm4 95zm-2 58zm-15 1zm17 25zm9 67zm-5-5zm4-19zm0-25zm10-13zm8-8zm-10-11zm8-3zm-17-7zm13-2zm3-4zm-19-1zm10-1zm-1-6zm6-8zm-6-1zm-9-1zm23-1zm-4-1zm-4-3zm-6-6zm-9 0zm16-1zm6-10zm-7-6zm-5-1zm2-1zm-3-4zm12-4zm-14 0zm-2-4zm4-8zm-1-4zm5-4zm10-3zm-3-7zm-14-10zm-3-2zm9 0zm8-2zm-3-3zm-7-3zm9 0zm-12-4zm-6-3zm17 0zm5-1zm-2-2zm-10-3zm-4-3zm8-5zm0-5zm1-3zm3-3zm-6-2zm1 0zm-14-9zm2 0zm1-1zm13-2zm-4-5zm-11-2zm6-2zm4-2zm-11-1zm11-1zm-8 0zm1-5zm19 0zm-19-3zm0-1zm12-7zm4-2zm2-7zm-14-4zm12 0zm-13-3zm8-1zm-12-1zm1-5zm10 0zm-7-1zm-3-4zm0-1zm3-1zm12-4zm-7-5zm-2-15zm-7-5zm13-1zm-5 0zm-3-1zm5-5zm-4-1zm2-3zm7-1zm-5-3zm5 0zm-5-5zm-7-5zm2-5zm-7-2zm14-2zm-8-2zm0-2zm9-4zm-16-7zm12-3zm0-2zm-1-1zm-3-3zm5-3zm-11-4zm17-1zm-11-5zm7 0zm6-5zm-2-5zm-14-3zm13-12zm3-3zm-9 0zm8-7zm-7-1zm6-15zm-5-2zm-5-1zm6-3zm2-2zm-10-1zm12-3zm-15-3zm10 0zm-3-1zm-5-1zm9-1zm5-4zm-16 0zm1-3zm9-5zm-7-2zm11-2zm-11-4zm13-1zm-5-1zm-8-1zm13-3zm-9-2zm6-2zm5-3zm-7-2zm1-1zm-9-3zm8-2zm-4-4zm-3-21zm0-6zm-8-1zm6-3zm-4-19zm-2-2zm2-7zm-2-19zm0-2zm0-1zm35 108zm-6 1zm-3 1zm-2 0zm2 9zm1 2zm7 6zm10 3zm2 6zm-2 0zm-10 0zm7 16zm-15 3zm16 4zm-9 4zm3 0zm-9 5zm13 1zm6 2zm-20 0zm9 2zm-5 1zm9 1zm6 1zm-17 1zm6 1zm12 0zm-14 3zm13 1zm-6 0zm-12 0zm-1 3zm10 4zm-7 0zm9 2zm9 1zm-14 1zm14 4zm-7 0zm-16 1zm5 0zm0 2zm12 1zm-7 2zm13 1zm-2 1zm-15 4zm11 6zm-14 1zm2 4zm6 1zm1 2zm-5 2zm6 1zm9 3zm-18 5zm-4 2zm14 0zm-8 3zm-4 0zm0 3zm15 1zm4 4zm2 5zm-22 1zm18 4zm-5 7zm2 3zm5 0zm-19 3zm5 1zm8 6zm-13 0zm21 2zm-12 0zm-6 4zm4 0zm-5 2zm3 0zm11 1zm5 2zm-11 1zm7 5zm0 1zm-7 2zm1 1zm-9 3zm19 1zm-9 0zm-13 2zm3 2zm-3 14zm1 5zm19 2zm2 5zm-23 1zm1 4zm11 2zm-5 2zm15 5zm-10 1zm-4 1zm11 1zm-9 1zm9 1zm-16 6zm8 0zm-7 1zm7 1zm2 5zm3 2zm7 0zm-6 6zm-13 1zm-4 1zm17 1zm-17 6zm14 2zm-12 4zm21 1zm-20 5zm18 1zm-12 1zm7 0zm-15 8zm11 6zm4 5zm4 0zm-8 1zm-4 3zm-5 3zm-3 6zm12 1zm2 1zm-13 0zm13 1zm-8 1zm9 2zm-7 0zm7 2zm-5 0zm4 2zm-13 1zm8 1zm10 0zm-13 0zm10 4zm-16 8zm0 2zm21 6zm-14 0zm7 2zm7 3zm-6 1zm-7 4zm4 2zm11 3zm-8 6zm1 2zm5 3zm-3 23zm-16 1zm9 3zm0 2zm8 5zm-2 1zm-1 1zm3 5zm3 10zm-8 1zm-4 2zm1 4zm-11 0zm6 7zm10 10zm-12 10zm2 8zm13 37zm6-10zm20-11zm-11-20zm-5-2zm15-5zm-13 0zm-4-1zm11-1zm-1-1zm6-7zm4-13zm-10-4zm-3-1zm-5-9zm18-4zm-5-17zm-16-1zm18 0zm-16-9zm15-3zm-15-4zm16-3zm-13-2zm5-1zm-1-2zm-3-1zm9-4zm-13-8zm-2-9zm13-1zm-1-2zm-12-1zm17-15zm-3-1zm-6 0zm-9 0zm18-3zm-13-2zm8-2zm5-1zm-2-5zm-10-4zm16-1zm-21-1zm14 0zm3-1zm3 0zm-10 0zm9-4zm-12-1zm-6-1zm0 0zm13-2zm-8-1zm2-1zm10-7zm-17-3zm-3 0zm20 0zm-15-3zm14-1zm-4 0zm-7-1zm11-1zm-4-3zm7-3zm-2 0zm-10-3zm13-1zm-14-1zm-8-2zm10-4zm-7-1zm-2-9zm-2-1zm23-2zm-3 0zm-6-2zm-14-2zm22-1zm1 0zm-5-2zm-17-2zm10-1zm0 0zm-7-1zm9-13zm-5-5zm3-1zm-2-2zm11 0zm-1 0zm-14-5zm-4-5zm8 0zm12-5zm-14-15zm-5-6zm14-14zm3-5zm2-2zm-10-2zm8-1zm-10-8zm-4-4zm7 0zm-4-5zm-6-1zm10-6zm4-4zm2-2zm-13-5zm-1-2zm10-1zm-5-1zm13 0zm-4-3zm-5-4zm9-2zm-15-7zm14-1zm-2-1zm2-3zm-17-2zm13-2zm-1 0zm-12-2zm6 0zm6-1zm5-2zm-13-1zm9-2zm-13-3zm8-1zm-9-5zm9-3zm-7-4zm4-7zm-4-5zm-2-2zm44-74zm0 8zm-3 3zm1 3zm2 14zm-5 8zm5 26zm-10 3zm1 0zm-2 5zm-2 1zm2 5zm0 6zm-2 3zm-2 3zm15 2zm-7 5zm-10 9zm-2 5zm14 12zm-13 2zm-4 4zm18 1zm-19 6zm0 4zm3 1zm11 2zm6 1zm-11 2zm7 5zm6 1zm-14 3zm-1 2zm-7 4zm17 2zm-10 3zm2 0zm-5 1zm0 3zm4 2zm3 2zm-4 0zm3 0zm-6 1zm6 4zm6 1zm5 1zm-19 0zm5 3zm3 0zm5 0zm1 1zm5 3zm-18 2zm11 0zm-6 1zm5 0zm-3 2zm-9 0zm1 1zm16 1zm-12 1zm2 1zm4 0zm-9 6zm2 0zm8 10zm10 0zm-18 2zm2 5zm13 4zm-4 1zm-5 4zm2 2zm-12 0zm15 5zm-3 2zm-2 0zm-10 2zm6 0zm0 11zm5 1zm-3 6zm-5 1zm6 3zm-6 1zm6 3zm3 0zm-4 11zm-7 2zm11 2zm-1 7zm2 4zm-13 2zm9 3zm2 7zm-12 3zm2 4zm9 1zm-3 2zm0 8zm-4 1zm0 5zm-2 1zm6 5zm-3 3zm2 2zm-6 2zm9 0zm-6 5zm-4 0zm15 4zm-11 1zm2 9zm6 1zm-3 4zm-1 6zm-6 2zm-1 1zm3 19zm10 2zm-13 1zm10 0zm-3 1zm5 1zm-1 6zm-6 5zm-1 1zm-2 8zm0 1zm2 8zm4 28zm-5 10zm6 9zm-4 1zm1 0zm-6 3zm7 9zm32 51zm-7-6zm13-44zm-8-56zm5-14zm4-9zm-4-4zm3-4zm-9 0zm7-6zm-2-1zm0-18zm5-2zm-3 0zm3-14zm-4-7zm3-6zm-4-9zm-2-2zm7-5zm-7-1zm6-5zm0-1zm-2-10zm2-17zm-11-2zm9-2zm0-6zm-13 0zm13-12zm-7-7zm2 0zm6-3zm-2-12zm2 0zm-3-8zm1-7zm3-4zm-2-11zm0-5zm3-3zm-3-11zm-2-2zm4-2zm-4-2zm4-6zm-20-4zm1-1zm9-12zm-4 0zm11 0zm3-1zm-11-23zm10 0zm-8-1zm-11-5zm8-2zm-5-14zm10-2zm-3-1zm-7-2zm3-3zm3-1zm8 0zm-3-3zm6-15zm-10-2zm-5-6zm13-7zm-8-2zm8-2zm-6-11zm1-5zm-6-12zm-1-3zm-2-33zm-6-5zm10-2zm-4-4zm-3-1zm-2-5zm7-1zm-8-3zm0-8zm8 0zm7 0zm-14-9zm22-3zm0-16zm-15-2zm8-6zm-6 0zm9-2zm2-15zm-9-1zm5-4zm0-4zm1-5zm-4-3zm3-12zm-1-6zm12 68zm-2 18zm1 7zm0 5zm1 2zm-2 1zm17 0zm-1 3zm-8 0zm6 1zm-13 10zm9 2zm3 4zm-8 0zm-5 9zm11 0zm-2 1zm-8 5zm0 5zm20 2zm-10 0zm-5 3zm3 0zm6 1zm-7 3zm8 14zm-17 2zm21 0zm-1 1zm-17 2zm6 3zm-8 4zm11 0zm7 1zm-7 2zm-8 1zm14 5zm3 6zm-2 2zm-15 4zm6 1zm9 1zm-16 6zm2 4zm-5 1zm20 1zm-6 2zm-7 5zm-2 3zm1 0zm-7 2zm13 1zm-7 4zm11 3zm-17 2zm4 3zm15 1zm-3 1zm-16 14zm6 2zm5 2zm-9 1zm8 2zm13 2zm-4 1zm-7 0zm-4 1zm-8 0zm19 4zm-2 2zm5 1zm-4 6zm-9 7zm-2 13zm16 4zm-18 4zm-1 0zm8 1zm6 5zm-9 0zm8 6zm1 0zm-10 1zm2 0zm-5 5zm-3 0zm13 5zm-5 4zm8 0zm-18 1zm14 3zm4 2zm-8 1zm9 4zm-13 5zm10 1zm-11 10zm13 0zm-15 3zm10 10zm10 1zm-8 2zm-6 2zm4 0zm-13 2zm21 7zm-17 0zm7 2zm-6 2zm17 1zm-13 2zm3 1zm-8 1zm17 0zm-13 2zm3 3zm-1 3zm6 1zm5 0zm-15 3zm-1 4zm14 0zm-5 1zm-4 1zm-4 4zm8 1zm-1 0zm2 3zm-5 5zm-6 0zm2 0zm-5 6zm3 15zm5 0zm-5 4zm12 2zm-1 4zm-9 1zm17 1zm-6 4zm-7 0zm9 4zm-8 0zm6 6zm4 1zm-19 4zm-2 11zm10 1zm-7 2zm3 1zm1 0zm-7 4zm18 0zm-9 0zm13 2zm-11 5zm-4 1zm12 3zm-15 3zm5 1zm1 6zm3 2zm-2 5zm-8 4zm8 33zm-10 0zm12 1zm-9 17zm8 16zm-12 6zm15 18zm11 2zm13-19zm-11-15zm18-5zm-22-3zm6-16zm5-19zm-2-4zm6-11zm-7 0zm3-9zm4 0zm-10-5zm-5 0zm20-1zm-10-4zm9-6zm-6 0zm-2-2zm-8 0zm10-3zm3 0zm2-3zm-11-8zm-7-1zm3-1zm20 0zm-4-1zm-9-4zm8 0zm-14 0zm11-2zm4-3zm-17-1zm10 0zm-10-4zm11 0zm-5-4zm12-1zm-18 0zm16-2zm-2-9zm-6-2zm-10-3zm12-2zm-6-2zm16-3zm-9-2zm10-1zm-12 0zm12 0zm-23-2zm22-1zm-1 0zm-6 0zm-13-1zm6-4zm-3 0zm-1-2zm12-1zm-14-2zm6-8zm-8-2zm17-13zm5-2zm-13-5zm2-5zm4-1zm-12-2zm3-4zm6-1zm8-1zm-7 0zm1-3zm3-11zm0-3zm-1-1zm-14 0zm1-2zm6-1zm1-4zm-5-3zm5-4zm-7 0zm1-3zm-1-31zm20 0zm-17-6zm-4-1zm14-4zm-10-5zm7-3zm-7-1zm-2 0zm3-4zm-1-3zm17-1zm-22-2zm2-1zm13-2zm-7-1zm13-1zm-17-5zm14-2zm-4-3zm-13-2zm9-7zm-9-1zm-1-1zm13-1zm-7-1zm9-4zm3-1zm0-3zm-2-7zm-12-3zm1-4zm13-12zm-13-1zm14-1zm2 0zm-17-2zm2-1zm-1-4zm1 0zm1-4zm11-2zm-7-2zm-6-5zm14-1zm-17 0zm0-5zm13-12zm-5-3zm3-2zm-6-4zm2-5zm1-4zm-8-2zm16-2zm-6-1zm-12-3zm13-2zm-13-1zm5-2zm8-8zm-14-7zm11-14zm26 86zm10 2zm-15 2zm-2 2zm-3 6zm0 2zm19 4zm-8 1zm4 3zm-16 3zm13 4zm6 0zm-21 5zm12 3zm-10 3zm-1 1zm8 1zm2 1zm-9 4zm3 4zm17 10zm-1 1zm-14 1zm13 0zm-10 2zm7 3zm1 1zm-11 1zm2 3zm12 5zm-18 1zm11 3zm0 13zm-4 1zm-8 2zm9 5zm1 3zm2 5zm7 0zm-11 1zm7 5zm-3 2zm1 5zm-9 7zm6 4zm9 8zm0 8zm-20 1zm15 1zm5 3zm-2 1zm-10 4zm-9 3zm2 1zm15 0zm2 10zm3 2zm1 12zm-9 0zm-10 1zm9 2zm-2 4zm3 0zm-6 4zm13 0zm-20 5zm14 2zm-10 5zm4 5zm-8 1zm21 3zm-17 5zm-2 4zm6 3zm-9 2zm15 3zm-1 2zm8 3zm-19 3zm14 1zm0 6zm-10 3zm-5 0zm-2 2zm10 12zm-8 3zm11 0zm1 0zm-11 4zm12 3zm-8 0zm13 6zm-6 3zm-7 3zm16 2zm-11 5zm8 11zm-7 3zm5 1zm-17 2zm17 5zm-3 3zm0 2zm-10 2zm0 2zm18 0zm-7 3zm-7 1zm0 5zm-6 6zm0 7zm17 6zm-16 34zm11 4zm0 7zm9-27zm2-16zm5-1zm2-13zm0-1zm-1-4zm-8-13zm6-16zm-5-1zm7-12zm1-4zm-5-2zm-1-4zm3 0zm2-8zm-2 0zm-6-14zm0-2zm9-4zm-6-4zm1-4zm2-8zm1-5zm1-5zm-5-6zm-2-14zm7-4zm2-1zm-3-23zm3 0zm-3-1zm-5-5zm2-4zm-2-6zm1-3zm1-10zm7-2zm-7-1zm1-2zm-4-6zm-1 0zm7-3zm-4-6zm6-4zm-9-2zm9-4zm1-9zm-7-13zm1-6zm-1-2zm20-11zm-4-1zm1 0zm-13-8zm-4-2zm-1-1zm8-1zm-4-4zm-5-5zm16 0zm6-2zm0-5zm-19 0zm-4-7zm9-4zm-9-22zm4-21zm5-4zm2 0zm-10-6zm16-1zm-10-3zm5-1zm-11 0zm14-4zm-10 0zm1-3zm16-4zm-8-1zm-6 0zm0-12zm0-9zm10-1zm2-1zm-11-2zm1-2zm7-4zm-5-5zm2-2zm0-6zm4 0zm-2-20zm2-8zm3-9zm1-11zm0-1zm1-16zm11-32zm-1 0zm1 11zm1 3zm-11 18zm15 0zm-14 1zm17 10zm-2 2zm-16 1zm3 3zm8 2zm-1 0zm6 5zm-7 13zm6 10zm-6 2zm10 11zm-13 3zm-4 3zm19 1zm-18 1zm19 9zm-2 2zm-17 10zm12 2zm1 6zm3 0zm2 0zm-1 14zm1 10zm2 3zm-2 7zm-2 7zm2 6zm-18 1zm6 2zm4 0zm4 4zm2 1zm-11 1zm14 18zm-5 7zm4 15zm-14 2zm10 7zm-13 1zm4 2zm-6 1zm7 3zm-6 2zm16 15zm-6 13zm10 3zm-11 4zm7 0zm-3 2zm6 1zm0 1zm-9 5zm10 3zm-9 2zm3 1zm-4 2zm9 0zm-1 2zm-6 0zm-3 1zm8 6zm1 2zm2 1zm-10 6zm5 1zm-3 0zm6 4zm-5 4zm-6 3zm5 4zm-2 3zm8 3zm-1 4zm1 7zm-8 15zm7 16zm-5 1zm7 3zm-9 11zm-1 1zm5 3zm-8 3zm12 1zm-5 2zm7 3zm-13 2zm2 1zm7 5zm-1 5zm-2 7zm6 1zm-9 2zm5 1zm0 3zm4 2zm-4 2zm-2 0zm7 15zm-3 2zm-7 6zm-9 5zm10 1zm4 12zm-2 13zm-2 21zm3 16zm-2 2zm2 32zm0 14zm30-26zm-3-11zm1-14zm-21-5zm22-12zm-7-16zm-8-2zm15-4zm-8-2zm-5-5zm0 0zm5-3zm-1-5zm9-4zm-20-6zm1-4zm10-2zm-2-3zm-1-6zm2-1zm-1-3zm8 0zm-10-1zm-9-3zm3 0zm1-1zm8-1zm-3-1zm13-1zm-17-1zm9-6zm-5-1zm-2-2zm13-4zm-8-1zm-8-4zm3 0zm0-4zm8-2zm-5-1zm-6-1zm5-1zm-9-1zm11-1zm11-5zm-18-2zm5-1zm0-3zm-8-1zm6 0zm-3-1zm3-5zm-6 0zm18-1zm-17 0zm7-2zm-6-5zm9-4zm-5-5zm-5-2zm17-1zm-9-2zm0-2zm0-3zm0-6zm6 0zm-9 0zm-6-6zm15 0zm-11 0zm-3-2zm4-4zm13 0zm-3-2zm2-1zm-1-4zm2-3zm-17-2zm-1-2zm21-2zm0-1zm-13 0zm2 0zm11 0zm1-6zm-2-1zm-4-2zm3-3zm3 0zm-5-4zm-8-1zm-3-6zm6 0zm-4 0zm6-1zm-1-6zm-5-1zm8-1zm-1 0zm-14-1zm5-3zm5-1zm-8-5zm7-1zm-4-1zm1-19zm5-2zm0 0zm-2-1zm-4-4zm-7-1zm4-2zm7-1zm8-3zm-14-1zm4-1zm2-2zm-10-2zm5-2zm-5-3zm6-1zm1-8zm7-2zm7-1zm-3 0zm1-4zm-4-7zm-7-5zm4-13zm-2-3zm2 0zm1-3zm-7-4zm4-6zm8-14zm-8-4zm9-4zm2-3zm-22-3zm19 0zm-9-3zm5-2zm4-1zm-16-2zm4-5zm-1-1zm6-1zm6-1zm3-4zm-3-15zm-13-2zm8 0zm6-5zm-12-1zm10-3zm2-2zm-14-2zm13-1zm-8-2zm11-3zm-7-1zm-7-10zm5-2zm-7-8zm31 40zm-9 12zm12 2zm-10 2zm4 3zm-7 1zm0 11zm11 14zm-9 2zm14 8zm-16 0zm19 5zm-1 6zm-8 4zm3 0zm-4 4zm-10 1zm0 1zm11 2zm6 11zm0 0zm-14 2zm9 4zm-8 4zm9 0zm5 0zm-14 1zm16 0zm-13 2zm-2 1zm14 1zm2 4zm-19 3zm19 1zm-10 0zm-11 2zm18 5zm-3 6zm-11 0zm5 6zm-1 1zm7 3zm7 1zm-18 10zm3 3zm12 1zm-18 3zm9 1zm3 0zm-1 1zm2 1zm2 0zm-10 1zm13 1zm-11 3zm2 1zm3 4zm-11 0zm4 1zm-5 6zm15 3zm3 0zm-16 5zm15 2zm-2 5zm-14 3zm11 2zm-4 1zm11 0zm-7 1zm3 4zm-9 1zm-1 0zm12 0zm-12 4zm-2 0zm4 3zm7 2zm1 2zm-10 2zm10 2zm-7 0zm6 1zm0 2zm4 3zm-1 2zm-12 1zm-4 6zm20 5zm-16 3zm3 1zm-6 3zm7 4zm3 3zm-1 0zm5 1zm-13 1zm4 2zm-5 4zm9 0zm-4 4zm7 1zm-9 2zm7 4zm-2 0zm-6 0zm-3 5zm9 1zm8 4zm-10 6zm0 1zm4 0zm-14 1zm12 6zm-1 0zm11 0zm-18 0zm14 1zm-14 15zm19 4zm-10 4zm-6 1zm-4 3zm20 5zm-1 6zm-13 0zm-2 6zm14 1zm-5 2zm-3 5zm-12 4zm0 3zm9 2zm7 3zm6 6zm-12 2zm-7 4zm10 8zm6 5zm-14 1zm1 5zm1 7zm-7 2zm22 12zm-17 36zm12 0zm1 14zm27-2zm-13-6zm-4-3zm1-10zm1-13zm15-9zm-13-2zm-9-9zm16-4zm4-1zm-11-5zm8-1zm-13-2zm-4-4zm7 0zm4-1zm-2-2zm0-5zm-3-12zm9-4zm8 0zm-15-2zm-2-5zm15 0zm-21-3zm12-1zm11-1zm-6-4zm-13-1zm3-6zm-5-1zm4 0zm14-2zm-18-10zm14-2zm-2-1zm0 0zm-8-1zm13 0zm2 0zm1-1zm-18-2zm-2-1zm12-4zm3-2zm-12-3zm2-3zm11-1zm-3 0zm-2-1zm-12 0zm7-3zm14-2zm-1-1zm-6-2zm6-1zm-7-3zm8-3zm-8 0zm-11-2zm20-3zm-14 0zm13-4zm-13-1zm7-18zm-2-4zm0-2zm7-2zm-1-2zm-6-3zm-6-3zm2-4zm-7 0zm9-1zm11-1zm-9 0zm7-1zm-18-5zm-1-7zm5-2zm10-1zm-3 0zm-14-1zm14-2zm6 0zm-15-2zm7-3zm6 0zm-1-1zm-2-4zm-14 0zm13-1zm8 0zm-7-1zm-8-1zm3-1zm5-3zm4-3zm1 0zm-19 0zm3-1zm5-3zm13-1zm-1-4zm-4 0zm-17-2zm3 0zm16-14zm-3-3zm0 0zm7-10zm-13-1zm-7-1zm16-1zm-8-1zm-6-6zm0-9zm9-1zm-6-23zm3-1zm5-4zm-8-1zm-7 0zm-1-13zm1-1zm6 0zm-1-6zm-4-2zm8-2zm3-2zm-10-5zm6 0zm12 0zm-2-1zm-12-1zm8-3zm-1-4zm-10-3zm15-1zm-13-2zm12 0zm-14-4zm16 0zm0 0zm-13-1zm-1-2zm6-1zm7-1zm1 0zm-19-3zm12-1zm8-4zm-4-3zm4-17zm-1-3zm2-11zm1-6zm22-133zm2 23zm-6 1zm3 7zm3 1zm-6 4zm-2 2zm6 5zm-5 5zm-3 18zm-4 4zm9 6zm-2 1zm-6 3zm-3 2zm1 6zm-2 12zm17 5zm-15 2zm1 6zm2 1zm-4 5zm-4 1zm0 6zm0 6zm14 11zm-8 8zm10 5zm4 0zm-21 22zm0 8zm-1 1zm4 10zm12 19zm-17 15zm5 3zm10 1zm-13 2zm8 2zm7 0zm-9 3zm11 3zm-11 1zm11 3zm3 4zm-2 1zm-1 2zm-11 0zm4 1zm8 1zm1 2zm-13 4zm-4 12zm-3 12zm11 13zm-11 20zm0 8zm2 3zm-1 6zm-2 20zm3 11zm-3 8zm0 13zm4 5zm-4 13zm3 9zm0 7zm-3 10zm3 14zm0 2zm7 12zm-9 1zm3 1zm-3 20zm0 0zm1 23zm-2 11zm2 29zm1 11zm43 20zm-10-4zm0-1zm11-14zm-18-45zm15 0zm-9-1zm0-6zm5-9zm-5-2zm-4-1zm4-4zm-4-19zm-1-1zm4-3zm13 0zm-9-3zm8-3zm-12 0zm-1-1zm5-1zm1-4zm2-3zm5-1zm0-1zm-8-1zm2 0zm-1-5zm-5 0zm4-2zm1-2zm4-3zm-4-7zm-4 0zm-2-3zm4-2zm5-1zm1-1zm-5-5zm-2-12zm6-1zm-7-4zm5-1zm-9-1zm-2-1zm5-2zm0-3zm13-4zm-1-1zm-13-2zm8-2zm4-1zm-13 0zm14-3zm1-3zm-15-2zm4-2zm7-2zm-13 0zm5-5zm-5-2zm15-2zm-2-5zm-3-1zm-4-1zm5-5zm-9 0zm11-5zm4 0zm-7-1zm-11-1zm17-3zm-2-4zm-3-5zm-3-1zm-4-1zm2 0zm11-3zm-12-1zm9-1zm-10-2zm13-1zm-8-1zm6-9zm0-1zm-4-5zm2-5zm-4 0zm-6-1zm9-4zm-13 0zm6-2zm-4-1zm3-4zm-3-4zm8-2zm-6-2zm7-1zm-4-2zm8-1zm-13-8zm1-13zm-5-3zm10-2zm-12-1zm22 0zm-12 0zm-6-1zm13-4zm5 0zm-16-2zm9 0zm3 0zm-9-3zm-4-5zm4-2zm-7-2zm18-1zm-13-3zm8-8zm-4-4zm-1-4zm1-3zm5-6zm0 0zm-4-2zm9-7zm-19-6zm10-4zm-9-1zm-2-3zm13-2zm-6 0zm-8-5zm12-3zm3-1zm-3-6zm-4-2zm-9-3zm8-3zm-4-1zm1-5zm12-8zm-10 0zm11-1zm-7-1zm2-1zm-5-7zm6-10zm5-4zm-1-4zm2-10zm-7-2zm-12-2zm15-3zm1-1zm-15-3zm13-7zm8-1zm-9-10zm2-1zm-9-1zm7 0zm-2-4zm0-6zm-2-12zm1-11zm-10 0zm8-5zm-6-5zm-2-5zm3-2zm4-9zm-8-9zm4-4zm-3-4zm2-7zm-2 0zm37 98zm-6 2zm-2 1zm10 4zm-12 1zm-2 5zm13 2zm-14 10zm8 1zm-9 1zm19 1zm-19 2zm18 1zm-6 1zm2 1zm8 2zm-15 1zm8 1zm-3 0zm-8 0zm1 1zm10 3zm-1 4zm9 2zm-14 1zm-7 12zm2 9zm10 9zm-8 1zm12 1zm-16 2zm17 1zm-14 6zm11 2zm-8 5zm13 1zm0 0zm-7 8zm-13 3zm20 7zm-12 1zm2 0zm12 1zm-14 6zm4 10zm1 9zm2 1zm3 2zm-19 2zm10 2zm6 2zm3 2zm-16 1zm18 3zm-10 3zm10 1zm-10 7zm-6 1zm7 4zm-5 2zm4 2zm-4 1zm5 3zm7 4zm-2 5zm4 18zm-5 13zm0 1zm0 1zm-13 0zm19 2zm-1 7zm-14 2zm5 9zm6 2zm-6 2zm-7 6zm-3 3zm11 1zm1 1zm-8 6zm-4 5zm14 1zm-1 8zm-12 0zm17 4zm-18 3zm7 2zm6 2zm-10 7zm17 1zm-18 1zm8 2zm1 5zm-7 1zm-2 0zm-4 9zm19 1zm-17 1zm6 0zm5 5zm2 5zm-3 2zm-12 2zm2 4zm1 0zm5 1zm3 3zm-11 2zm23 2zm-22 4zm18 6zm-14 3zm9 2zm6 4zm3 3zm-10 1zm3 2zm-13 2zm7 2zm9 6zm-10 6zm-6 0zm5 4zm8 0zm-7 2zm14 0zm-21 4zm3 14zm17 4zm-20 3zm12 6zm7 15zm-7 6zm-13 2zm5 8zm12 0zm-15 13zm20 7zm-19 1zm-2 22zm8 0zm34 14zm-6-14zm-12-1zm0-2zm11-1zm-11-10zm18-2zm-3-19zm-5-2zm-7-3zm-4-7zm10-2zm2-8zm-6-7zm-7-5zm6-7zm11-2zm0-4zm2-1zm-17-1zm16-10zm-13 0zm-5-4zm14-6zm-11-5zm17 0zm-14-12zm5 0zm11-4zm-3-8zm-17-1zm18-4zm-12-4zm4-3zm-8-6zm-3-2zm8-1zm4-5zm-3-4zm-9 0zm5-3zm1-2zm8-5zm-8-2zm4-6zm8-1zm-11-5zm8-1zm-16-4zm10-4zm2-1zm2-4zm-4-10zm-6-3zm11 0zm7-1zm-11-7zm0-21zm7-2zm-2-1zm-11-3zm18-1zm-3-6zm0-6zm-20 0zm21-2zm-15 0zm13-3zm-6 0zm-7-3zm16-12zm-20-2zm0-1zm6-1zm15-2zm-18-3zm4-8zm-8 0zm19 0zm-14-3zm10-4zm6-2zm-13 0zm-9-3zm1-3zm16-1zm-10-1zm-4-2zm-1-9zm13-7zm6-4zm-8-3zm6-2zm-18-3zm8-1zm-1-2zm15 0zm-20-1zm-1 0zm15-2zm3-2zm-18-2zm7 0zm-1-1zm11-1zm-16-5zm7-4zm-5-2zm11-5zm0-1zm2-4zm5-8zm-21-8zm7-2zm-8-3zm2-2zm11-3zm2-5zm-1-9zm-14-12zm2-18zm0-15zm-3-10zm45 8zm2 12zm-4 5zm4 2zm-2 14zm-11 13zm8 1zm-7 9zm-3 4zm-5 2zm2 5zm5 0zm-8 1zm6 6zm-8 2zm20 9zm2 4zm-19 1zm-1 6zm18 6zm-5 5zm-5 0zm-9 1zm3 4zm13 0zm3 16zm-14 6zm10 13zm1 6zm5 3zm-11 2zm5 6zm2 6zm-9 4zm6 3zm1 2zm-9 2zm-3 2zm10 3zm-8 2zm12 4zm-15 2zm5 4zm11 0zm-10 2zm3 7zm-6 2zm14 1zm-4 2zm-11 0zm16 1zm-9 3zm3 5zm-10 4zm13 9zm-16 3zm15 8zm-12 0zm15 4zm-7 1zm5 5zm-14 1zm1 1zm5 0zm10 2zm-7 5zm3 1zm-1 11zm6 0zm-19 1zm18 4zm-6 5zm-3 2zm7 1zm-9 1zm1 1zm-6 3zm-3 2zm15 1zm-5 2zm-8 3zm-3 1zm23 4zm-8 4zm5 0zm-14 4zm5 7zm-6 1zm9 3zm-8 3zm-1 3zm-2 1zm-1 1zm10 5zm-4 3zm7 5zm-7 16zm14 1zm-8 8zm-10 3zm-4 0zm13 5zm-4 10zm9 0zm-6 0zm9 6zm-5 7zm-5 0zm-3 4zm6 2zm3 5zm2 1zm-9 3zm0 0zm2 22zm-1 2zm-6 13zm0 5zm8 9zm-12 18zm46-66zm-17-32zm15-6zm0-77zm-3-12zm-10-4zm10-22zm5-13zm0-21zm-3-12zm3-4zm-6-21zm-13-22zm11 0zm-1-17zm7-2zm-14-2zm14-3zm-4-7zm-1-3zm-3-1zm9-1zm1-4zm-17-15zm7-1zm-10-1zm17-1zm1-1zm-16-1zm-5-3zm15-4zm-7-3zm-2-1zm-1-1zm1-17zm14-2zm-6 0zm-14-2zm23-15zm-3-20zm-2-3zm4-19zm-7-4zm-15-1zm16-2zm-12-1zm18-2zm-21-4zm3-14zm-2-3zm-1-1zm4-5zm0 0zm0-13zm7-6zm-1-13zm2-4zm0-2zm0-3zm-1-7zm11-4zm-5-2zm-1-3zm5-3zm-2-7zm1-3zm1-6zm2 12zm1 19zm2 3zm3 7zm-1 0zm1 14zm-1 4zm1 5zm-4 1zm-2 3zm10 2zm5 6zm-10 3zm-2 7zm7 0zm-6 3zm3 2zm3 1zm-5 4zm-3 1zm19 0zm1 4zm-21 6zm13 7zm-6 4zm7 2zm8 0zm-4 3zm-14 1zm10 2zm-12 1zm-3 1zm15 3zm-8 1zm7 1zm-7 0zm-6 3zm20 10zm-14 1zm1 2zm10 4zm-8 1zm12 0zm-19 2zm14 3zm5 1zm-15 1zm-1 1zm-1 4zm-2 7zm12 3zm-11 3zm9 6zm4 2zm-9 9zm6 2zm4 3zm-5 1zm-8 1zm18 2zm-5 6zm-9 1zm14 2zm-16 0zm-6 1zm11 0zm3 3zm-8 2zm-7 1zm11 3zm12 13zm-20 12zm-1 11zm-1 0zm11 1zm-12 5zm21 2zm-21 7zm12 3zm-7 1zm1 3zm11 1zm-17 2zm16 2zm-16 1zm1 1zm4 1zm6 2zm-3 0zm-3 0zm18 10zm-15 1zm-5 3zm20 2zm-21 1zm11 1zm5 1zm0 5zm-16 0zm-1 0zm16 4zm-15 7zm16 9zm-15 1zm12 2zm-7 6zm2 0zm-7 3zm-1 0zm7 2zm-8 2zm5 1zm12 4zm-14 0zm4 1zm5 2zm10 3zm-14 1zm-7 0zm16 2zm-17 2zm9 1zm-2 1zm10 0zm-4 5zm-10 1zm3 1zm-7 0zm20 1zm-6 1zm1 0zm-11 3zm-3 1zm7 2zm-2 1zm-1 2zm14 0zm-4 2zm2 0zm-10 4zm7 0zm-8 0zm0 2zm7 1zm8 1zm-2 0zm2 1zm-6 2zm-14 0zm4 1zm18 3zm-21 3zm5 0zm5 3zm-12 3zm1 0zm10 2zm-4 0zm2 3zm-6 2zm10 1zm-10 1zm2 5zm4 1zm-3 3zm13 1zm-15 4zm19 4zm-2 3zm-4 4zm-15 6zm20 1zm-20 4zm10 0zm-2 2zm12 1zm-22 6zm4 10zm10 8zm-13 1zm4 10zm12 2zm-12 1zm0 0zm5 1zm-7 5zm5 1zm3 0zm-8 2zm-2 0zm15 3zm-3 1zm-1 3zm8 18zm2 5zm-6 2zm1 4zm4 3zm-12 4zm-1 16zm25-4zm-7-14zm3-5zm0-28zm-1-6zm19-21zm-3-2zm-9-8zm8-2zm-8-1zm3-3zm1-2zm1-1zm6-1zm0-3zm-4-1zm-13-5zm10-9zm-15-6zm15-1zm-9-1zm13-2zm-18-4zm3-1zm13-2zm-12 0zm18-4zm-23-1zm20-6zm-6 0zm-10-1zm5-7zm-4-1zm15-2zm-9 0zm5-6zm1 0zm4-2zm-11 0zm-9-1zm11-3zm10-1zm-20-1zm14-5zm-7-4zm10-4zm-5-1zm-5 0zm-6-4zm1 0zm-2-1zm9-1zm1-2zm-9-6zm20-2zm-17 0zm12-1zm-16-1zm2-10zm18-1zm-7-1zm-6 0zm7-5zm-11-4zm7-4zm-2 0zm-9-2zm16-3zm-4-1zm-10-2zm3-3zm0-1zm7-5zm-11-5zm7-2zm2-3zm1 0zm7-1zm-1-1zm-11-7zm8 0zm-9-1zm5-2zm3-1zm8-3zm-4-2zm-6-2zm3-3zm5-4zm-3-4zm-15-7zm5-13zm12-2zm4-4zm0-2zm-2-4zm-2-4zm-8-1zm9-8zm-14-3zm5-6zm-6-5zm8-2zm-7-2zm4-10zm-2-6zm8-4zm-16-2zm15-2zm-12-2zm9-5zm-5-7zm1-3zm10 0zm4-1zm-2-1zm-20-1zm23 0zm-17-7zm14 0zm-19-4zm1-9zm21-1zm-17-1zm-3-4zm18-2zm-15-2zm-2-4zm-3-1zm10 0zm3-3zm5-1zm3-4zm-18-1zm4 0zm3-7zm10 0zm-2 0zm-8-7zm-4-1zm11-3zm-9-1zm-6-11zm5 0zm7-16zm-1-1zm-14-3zm25 40zm0 0zm6 1zm-4 10zm1 2zm-4 1zm9 1zm-1 0zm-5 13zm5 3zm3 1zm7 0zm-18 2zm10 4zm3 7zm1 1zm3 2zm2 2zm-4 0zm2 2zm1 4zm-6 5zm6 4zm-8 2zm11 1zm-3 1zm-3 4zm-4 1zm-8 1zm6 4zm4 1zm3 1zm-4 6zm3 1zm-8 1zm14 0zm0 1zm-4 4zm3 0zm-8 0zm-12 1zm22 2zm-20 3zm3 1zm14 0zm-3 2zm-13 2zm18 1zm0 1zm-1 0zm-18 2zm8 5zm-8 5zm18 1zm-10 3zm0 1zm4 3zm-14 0zm0 0zm5 5zm16 1zm-13 2zm-1 11zm11 0zm-5 5zm-5 3zm13 2zm-4 1zm-6 1zm-8 1zm2 1zm13 14zm3 3zm-20 3zm20 1zm-4 7zm-1 3zm-6 3zm-7 0zm15 2zm4 1zm-5 1zm-3 5zm-7 1zm12 0zm-6 2zm-6 1zm-6 1zm13 0zm-11 11zm-1 0zm13 2zm-10 6zm10 0zm6 2zm-16 1zm-2 1zm10 3zm8 9zm0 4zm-7 1zm-12 6zm11 4zm-13 1zm7 4zm11 2zm-3 8zm2 1zm-11 1zm0 1zm1 10zm-7 2zm9 1zm6 6zm-15 8zm14 0zm0 3zm-5 1zm3 3zm-12 1zm13 0zm-12 0zm12 0zm-11 9zm-1 1zm6 10zm13 2zm0 2zm-14 0zm14 1zm-4 4zm-9 2zm1 1zm13 15zm-20 5zm-1 6zm13 6zm-7 0zm8 12zm-5 13zm2 2zm1 25zm-9 3z" stroke="#1f77b4" stroke-opacity="0.8" stroke-width="7.2" stroke-linecap="round" fill="none"/>
<line x1="219.0" y1="1602.5" x2="2037.8" y2="1665.8" stroke="#ff7f0e" stroke-width="7" stroke-linecap="square"/>
<line x1="219.0" y1="1615.5" x2="1469.4" y2="1627.7" stroke="#2ca02c" stroke-width="7" stroke-linecap="square"/>
<rect x="129.4" y="1235.8" width="1998.9" height="851.9" fill="none" stroke="#333" stroke-width="2"/>
<line x1="121.4" y1="2087.7" x2="129.4" y2="2087.7" stroke="#333" stroke-width="2"/>
<text x="113.4" y="2099.2" text-anchor="end" class="tk">0</text>
<line x1="121.4" y1="1981.2" x2="129.4" y2="1981.2" stroke="#333" stroke-width="2"/>
<text x="113.4" y="1992.7" text-anchor="end" class="tk">50</text>
<line x1="121.4" y1="1874.7" x2="129.4" y2="1874.7" stroke="#333" stroke-width="2"/>
<text x="113.4" y="1886.2" text-anchor="end" class="tk">100</text>
<line x1="121.4" y1="1768.2" x2="129.4" y2="1768.2" stroke="#333" stroke-width="2"/>
<text x="113.4" y="1779.7" text-anchor="end" class="tk">150</text>
<line x1="121.4" y1="1661.8" x2="129.4" y2="1661.8" stroke="#333" stroke-width="2"/>
<text x="113.4" y="1673.2" text-anchor="end" class="tk">200</text>
<line x1="121.4" y1="1555.3" x2="129.4" y2="1555.3" stroke="#333" stroke-width="2"/>
<text x="113.4" y="1566.8" text-anchor="end" class="tk">250</text>
<line x1="121.4" y1="1448.8" x2="129.4" y2="1448.8" stroke="#333" stroke-width="2"/>
<text x="113.4" y="1460.3" text-anchor="end" class="tk">300</text>
<line x1="121.4" y1="1342.3" x2="129.4" y2="1342.3" stroke="#333" stroke-width="2"/>
<text x="113.4" y="1353.8" text-anchor="end" class="tk">350</text>
<line x1="121.4" y1="1235.8" x2="129.4" y2="1235.8" stroke="#333" stroke-width="2"/>
<text x="113.4" y="1247.3" text-anchor="end" class="tk">400</text>
<line x1="332.7" y1="2087.7" x2="332.7" y2="2095.7" stroke="#444" stroke-width="1.6"/>
<text x="332.7" y="2127.2" text-anchor="middle" class="tk">2000</text>
<line x1="560.0" y1="2087.7" x2="560.0" y2="2095.7" stroke="#444" stroke-width="1.6"/>
<text x="560.0" y="2127.2" text-anchor="middle" class="tk">2002</text>
<line x1="787.4" y1="2087.7" x2="787.4" y2="2095.7" stroke="#444" stroke-width="1.6"/>
<text x="787.4" y="2127.2" text-anchor="middle" class="tk">2004</text>
<line x1="1014.7" y1="2087.7" x2="1014.7" y2="2095.7" stroke="#444" stroke-width="1.6"/>
<text x="1014.7" y="2127.2" text-anchor="middle" class="tk">2006</text>
<line x1="1242.1" y1="2087.7" x2="1242.1" y2="2095.7" stroke="#444" stroke-width="1.6"/>
<text x="1242.1" y="2127.2" text-anchor="middle" class="tk">2008</text>
<line x1="1469.4" y1="2087.7" x2="1469.4" y2="2095.7" stroke="#444" stroke-width="1.6"/>
<text x="1469.4" y="2127.2" text-anchor="middle" class="tk">2010</text>
<line x1="1696.7" y1="2087.7" x2="1696.7" y2="2095.7" stroke="#444" stroke-width="1.6"/>
<text x="1696.7" y="2127.2" text-anchor="middle" class="tk">2012</text>
<line x1="1924.1" y1="2087.7" x2="1924.1" y2="2095.7" stroke="#444" stroke-width="1.6"/>
<text x="1924.1" y="2127.2" text-anchor="middle" class="tk">2014</text>
<rect x="1621.1" y="1246.9" width="495.5" height="116.6" rx="5" fill="#fff" fill-opacity="0.85" stroke="#d0d0d0" stroke-width="1.6"/>
<circle cx="1652.0" cy="1265.1" r="4" fill="#6f9fc4"/>
<line x1="1626.7" y1="1303.1" x2="1678.1" y2="1303.1" stroke="#ff7f0e" stroke-width="6"/>
<line x1="1626.7" y1="1342.4" x2="1678.1" y2="1342.4" stroke="#2ca02c" stroke-width="6"/>
<text x="1693.6" y="1272.0" class="lg">SSR</text>
<text x="1693.6" y="1310.0" class="lg">trend for full series, (-1.93 W/m<tspan class="sp" dy="-8">2</tspan><tspan dy="8">/yr)</tspan></text>
<text x="1693.6" y="1349.3" class="lg">trend for 1999-2009, (-0.59 W/m<tspan class="sp" dy="-8">2</tspan><tspan dy="8">/yr)</tspan></text>
<text y="1136" class="cap"><tspan x="1072.5">(</tspan><tspan x="1092" y="1135.5" font-weight="bold">a</tspan><tspan x="1120.5" y="1136">)</tspan></text>
<text y="2205" class="cap"><tspan x="1069.1">(</tspan><tspan x="1088.1" font-weight="bold" font-size="61px">b</tspan><tspan x="1123.2" font-size="60px">)</tspan></text>
</svg></body></html>
